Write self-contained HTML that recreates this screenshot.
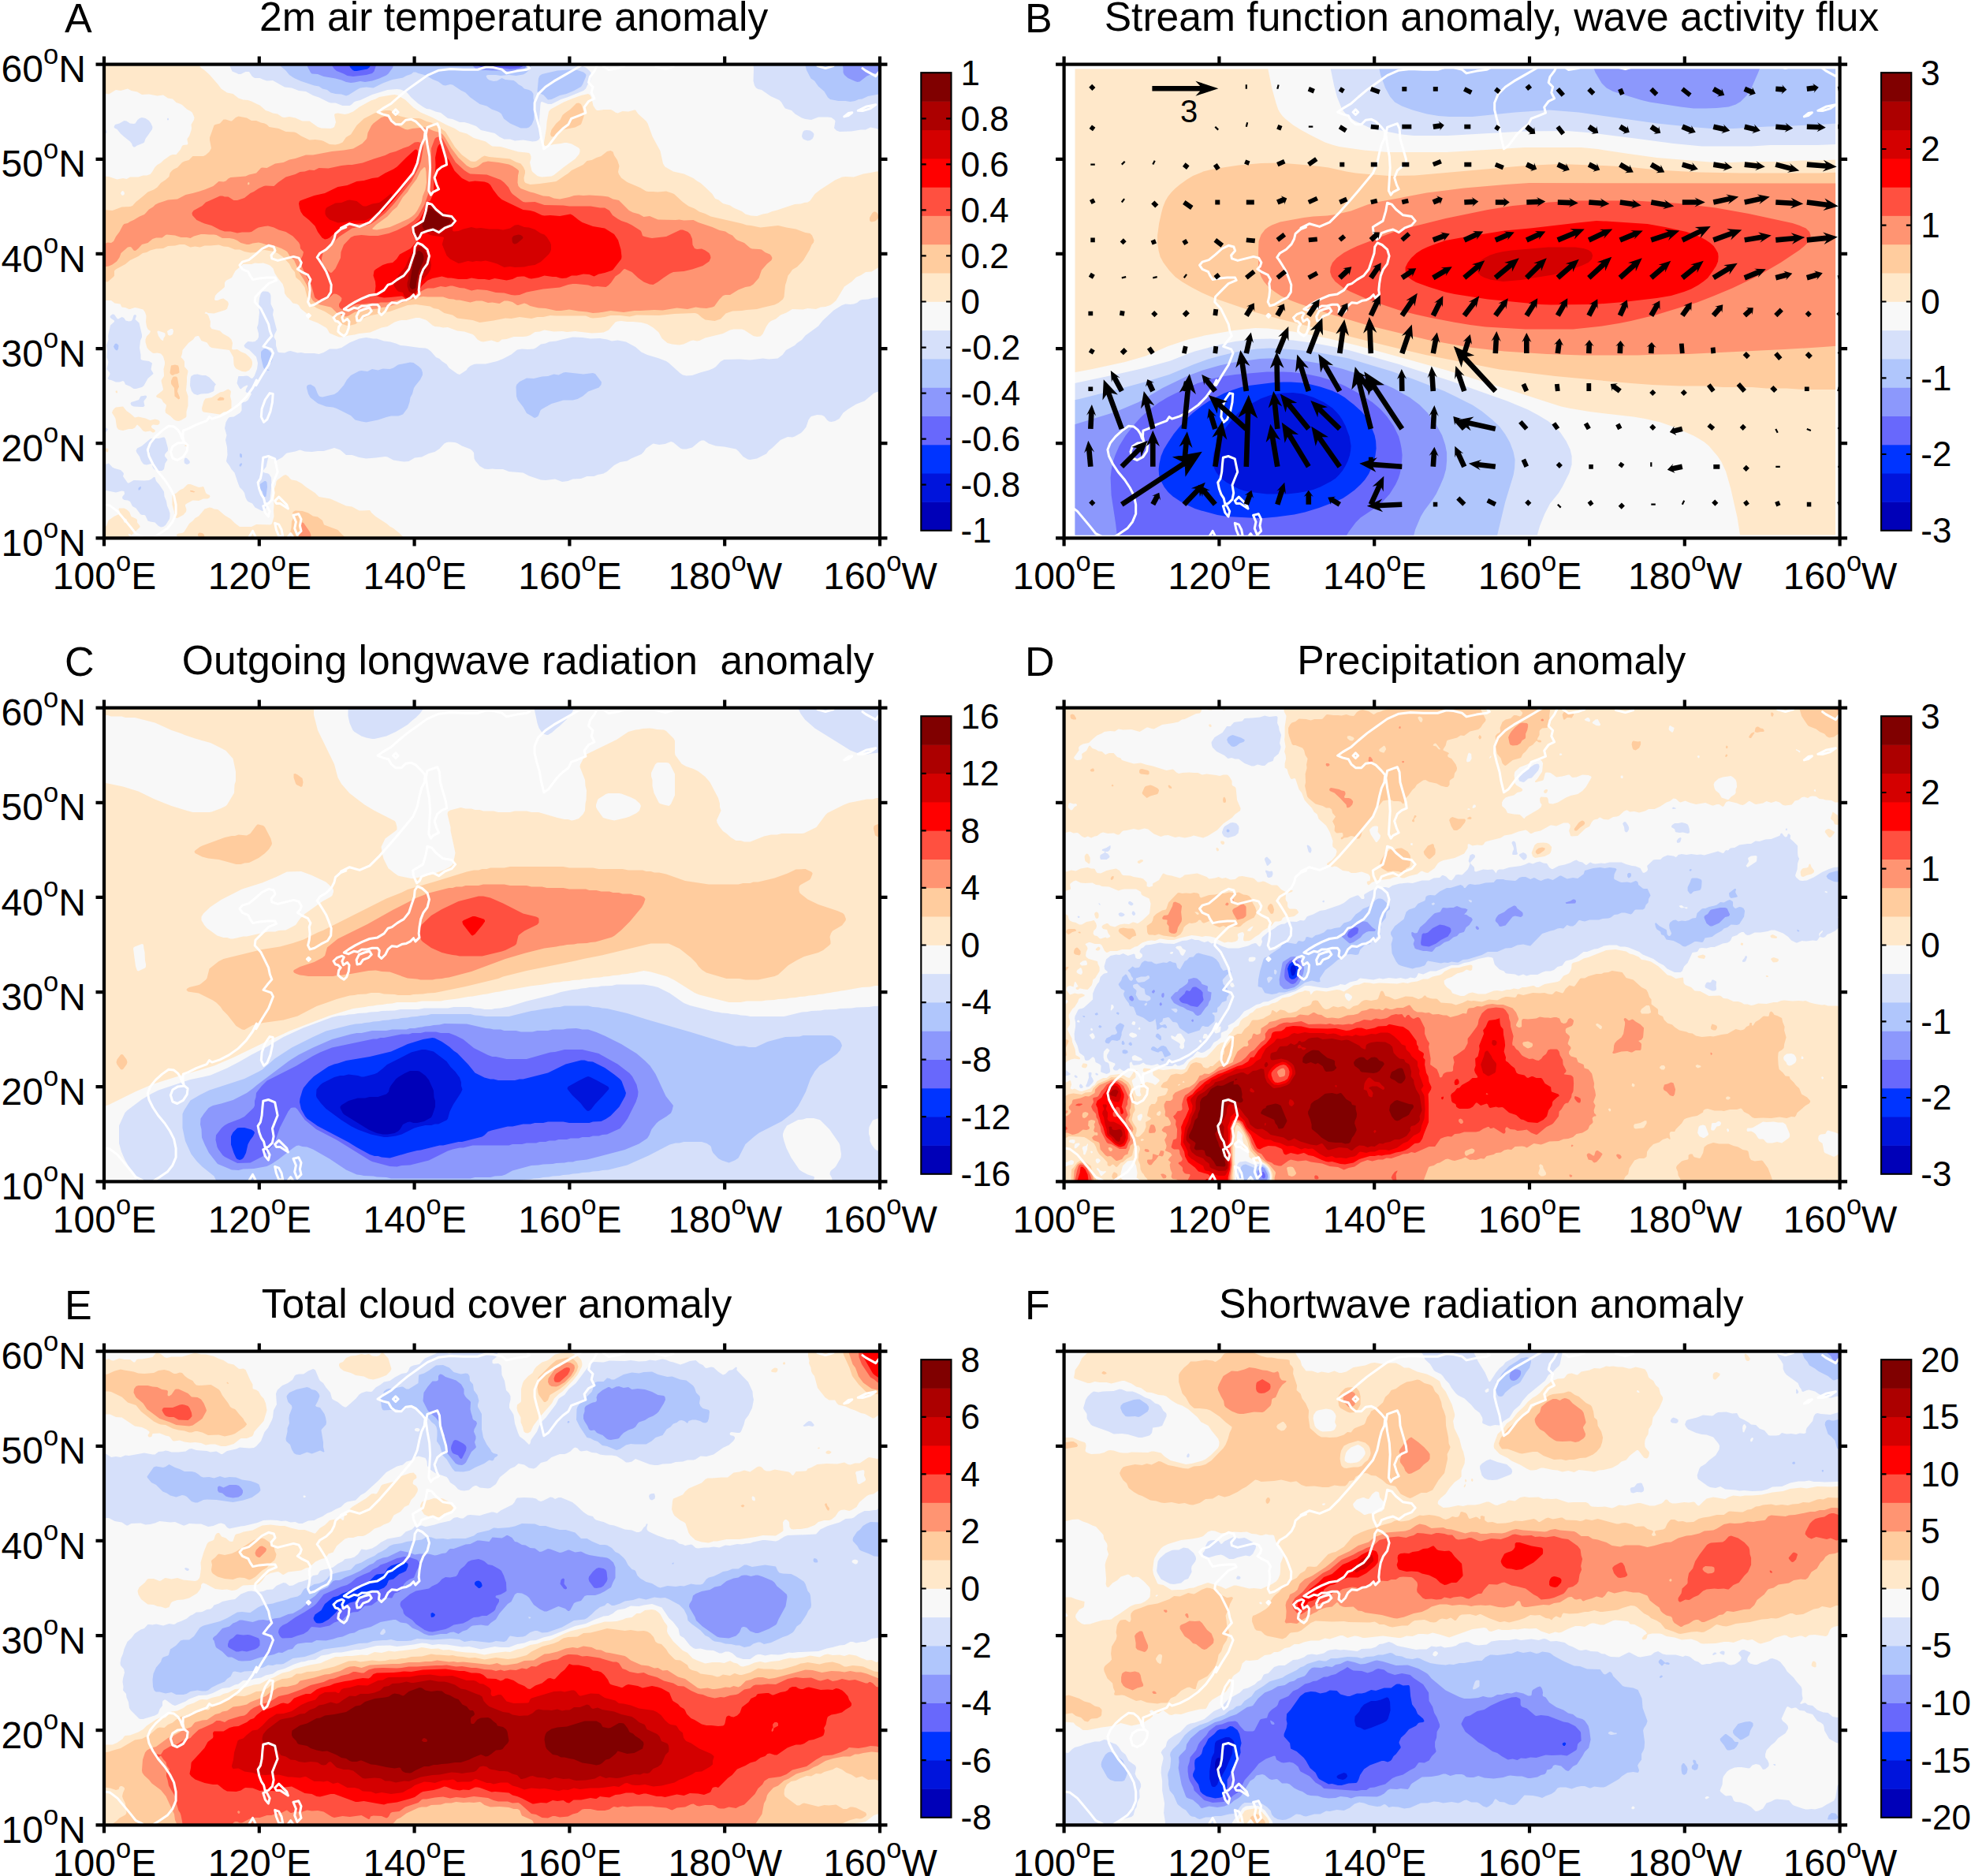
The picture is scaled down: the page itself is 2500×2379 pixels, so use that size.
<!DOCTYPE html>
<html><head><meta charset="utf-8"><title>Figure</title>
<style>html,body{margin:0;padding:0;background:#fff}svg{display:block}text{font-family:"Liberation Sans",sans-serif;fill:#000}</style></head><body>
<svg width="2500" height="2379" viewBox="0 0 2500 2379">
<rect width="2500" height="2379" fill="#fff"/>
<svg x="132" y="81.6" width="984" height="600.8" viewBox="0 0 984 600.8" overflow="hidden">
<rect width="984" height="600.8" fill="#F8F8F8"/>
<path fill="#FFE8CA" d="M0 0l119.5 0 3.5 4.5 4.5 3 6.5 6 10.5 12 4 5.5 7.5 5 7.5 1.5 7 5.5 6 2 6 0.5 4.5 1.5 6 3 4.5 2 7.5 6.5 4.5 1.5 4.5 2 6 1 6 4 3 0.5 6-1 7.5 1.5 9 4 9 0 10.5 7.5 4.5 1.5 12 0.5 3-1 1.5-1 2-6-2-9 0.5-1.5 1-0.5 3-0.5 9 1.5 4.5-1 6-2.5 8-6 14.5-8 6-2 4.5-2.5 15-2.5 4.5-0.5 4.5 1 9 5.5 10.5 10 9 6 15 6.5 18 9.5 10.5 4.5 6 4 9 2.5 9 5.5 15 4.5 6 4.5 2.5 1.5 10.5 0.5 22.5 6.5 10.5 1 3 0.5 1.5 1.5 1 3 0 3-1.5 4.5 2.5 10.5 1 1.5 6 5 3 1 3 0.5 12-1 3-1.5 12.5-10 14.5-10.5 5-6 1-3 0-3-1.5-2-9-5-6-1.5-3 0-4.5 1-9 1-7.5 2-3.5 0-2-1.5 3.5-21 0.5-7.5 2.5-13.5 2.5-3 16.5-9 11-4.5 11-4 9-2 2.5 1.5 1.5 3 2.5 10.5 2.5 4 2 2 2.5 0 6-1 9 0 2.5 1 3.5 2.5 3 1 6-2.5 7.5 0.5 7.5-2 1.5 0 3.5 5 10 9 2 3 6 16.5 10 18.5 3.5 16 2.5 4 10.5 6 13.5 3 12 5.5 4.5 3.5 4.5 2.5 4.5 4 10.5 10 3 5 1 1 4 1.5 5.5 4.5 9 2.5 4.5 3 10.5 4.5 4.5 3.5 7 2 7.5 0.5 7.5-2.5 6-1 6-2.5 6-1.5 22.5-7.5 7.5-0.5 4.5-1.5 4.5-0.5 3-2 6-8.5 7-5.5 18.5-12 9-4 4.5-0.5 10.5 0.5 12-4 9-1.5 7.5-1.5 6-0.5 0 121-3 1-9 5.5-7.5 0.5-6 4-6 2.5-5.5 5.5-9.5 6.5-10.5 17.5-4.5 4-3 2-6 2-6 0.5-6 2.5-10.5-1-6 1.5-13.5-0.5-7.5 4.5-7.5 3-6 5-6 2.5-3 2.5-3 4.5-4.5 9.5-3 3-4.5 0.5-4.5-1-11.5-7.5-3-1-10.5 0-4.5 1-9 4.5-22.5 5.5-7.5 3.5-3 0.5-4.5-1-3 0.5-9.5 4.5-5.5 1-9-1-6-1.5-7-6-4-7.5-7-6-7.5-4.5-7.5-2-10.5-1-7.5 0-7.5-1-4.5 0.5-3 1-8.5 10-6.5 3-15 1-21-2.5-10.5 1-6-1-10.5 0.5-12-2-6 2-6 0.5-6 4-4.5 1.5-4.5 0.5-12 0-9 3-6 0.5-3.5 3-2.5 0.5-7-2.5-10.5 2-3-0.5-4.5-2.5-3.5-4.5-2.5-2-10.5-3.5-9-1-12-4.5-6 0.5-4.5-1-6-0.5-3-1.5-7-6-2-1-7.5-2.5-4.5 0-12 3-6 0-3 0.5-6 2-9 5.5-7.5 1.5-14.5 6-14 1.5-6 1.5-7.5 1-7.5 2-4.5 0-12-5-3-5.5-1.5-1.5-10.5-6-10.5-4-1-2-0.5-4.5-9.5-7.5-2.5-4.5-2.5-1.5-5-1-4.5-5.5-3-2.5-3-4.5-0.5-6-2-6-5-6-5-7.5-2-6-3.5-3.5-3-1.5-6-2-6 0.5-4.5-0.5-4.5 1.5-10.5 0-10 8.5-4.5 8.5-7.5 4-1.5 2.5 0 4.5-0.5 1.5-9 7.5-2.5 3-1 4.5 1 1.5 3 0 4.5-2 3-0.5 5.5 4 1 3-2 6-2 1.5-14.5 4.5-7.5-0.5-3-1.5-1.5 2 3 0.5 2 2.5 2.5 7.5-0.5 6 2 3 10.5 2.5 3.5 3.5 8 4.5 3 3 1.5 4.5-1 7.5 1.5 1 5.5-0.5 4.5 3 6 2.5 5 4.5 2.5 3 1 3 0 3-1 3.5-3 4-4.5 2-4.5-0.5-4.5-2-3-1.5-2-2.5-1-3-0.5-9-5-9-22.5-3-2.5-1.5-3.5-5-7-2.5-3.5-6-1.5 0-3 1-2.5 3.5-6 4.5-7.5 9-0.5 4.5-1 3-0.5 1.5 3 3 1.5 2.5 0 6.5 4 4.5 0.5 1.5-1.5 7.5 0 6-1 10.5 2.5 7.5 0 12-2 7.5 0 6-1 1.5-6 3.5-3 1-3-0.5-3-1.5-4.5-4.5-6-4-0.5-3 1.5-6-0.5-1.5-3.5-3-1.5-3-1.5-1.5-5-1.5-1-1.5 1-1.5 7.5-6 0.5-1.5-2.5-10.5 0.5-1.5 3-4.5 0-1.5-0.5-7.5 1.5-6 0-3-2-7-3-3.5-4.5-1-4.5 0.5-1.5-0.5-4.5-3.5-2.5-3-2-7 0-3.5 1.5-4 3.5-3.5 1.5-3-3.5-2.5-1.5-3.5-1-6 0.5-7.5-1.5-4.5-2.5-3.5-7.5-2-3-0.5-6 2-1.5 0-4.5-2-4.5-0.5-2-4-7-1-4.5-3.5-9 0 0-157.5 6 0.5 10.5 3.5 7.5-1.5 4.5 1 4.5-2.5 10.5 0 6-2 4.5 0 4.5-1.5 2.5-3 3.5-6 3-3 4.5-2.5 3.5-3.5 8.5-6 3-1 4.5 0 5.5-6.5 2-4.5 1.5-1 5-0.5 1-1.5-1-4.5 0-1.5 2.5-3.5 2.5-7 0.5-3-0.5-4.5 3.5-6 0.5-3-2.5-6-1.5-1.5-5.5-3-6-5.5-3-1.5-4.5-1.5-4.5-4.5-6-1-6-4-7.5 1-10.5-2-9 0.5-6-3.5-7.5-1.5-4.5-2.5-9 2.5-6-1-9 5.5-4.5-1-1.5-1zM24 160.5l-1.5 0.5-1.5 2.5 0.5 1 1 1.5 1.5 0.5 2-2-0.5-2.5zM67.5 338.5l0 1.5 1.5 4.5 3 4.5 1.5 1 1.5 0.5 0.5-3 2-3 0-3-1-1-7.5-2.5zM87 335.5l-2.5 0-4.5 3 1 4.5 1.5 1 1.5 0 3-1.5 1-4zM160 413.5l1 1.5-1 6 1.5 6 0 9-5.5 4.5-4.5 0.5-4.5 3-21-3-1.5-1.5-0.5-3.5 2.5-9 2-3 8-1.5 10.5-6.5 4.5-1 4.5-2.5 1.5-0.5zM14.5 415l0.5-1 1.5 0 0.5 1 0 1.5-0.5 0.5-1.5-0.5zM11 439l2.5-3 1.5-1 9-1 4.5 5.5 5.5 4 5 4.5 4.5-1 9 2 6 2.5 6-1.5 4 1 2 1.5 0 3-1.5 1.5-1.5 0.5-5.5-0.5-2 1.5 0 1.5 1 1.5 2.5 1.5 1.5 1.5-0.5 1.5-1.5 1-1.5 0-3-2-6 1-3-1-4.5-5.5-3-2.5-3 4-3 1.5-4.5 0-7.5 2-3-0.5-3-1-2-3-1.5-10.5-1.5-3-3-4.5zM102 484l1.5-2 1.5 0.5 0.5 1.5-0.5 0.5zM1.5 488l1.5-1 1.5 0 1 1.5-0.5 3-0.5 0.5-1.5-0.5-1.5-1.5zM92 597.5l0.5-1.5 2-1 4.5-0.5 2.5-1.5 6.5-10.5 4.5-3.5 3-3.5 4.5-2.5 7.5-9 6-2 3 0.5 3 1.5 4.5 0.5 1.5 1 7.5 6.5 7.5 4.5 5.5 5.5 6 4.5 15 0 6-3 18 0.5 2-1.5 2.5-9-0.5-7.5 0.5-6-0.5-13.5 0.5-7.5 2.5-6 0.5-4 1.5-2 7.5-5.5 3-1 3 2 2.5 3 2 1.5 6 1 6.5 3.5 5.5 4.5 11.5 7.5 5 5 14.5 2.5 20 9 7.5 1 9 5 4.5 0 9-0.5 2.5 3.5 5 4.5 14 9 4 3.5 4.5 2.5 7.5 6 6 6 1 3-286.5 0zM126 535.5l1 2 2 6 1.5 1.5 3.5 1.5 0.5 1.5-1 2-2.5 1-5 0-6 2.5-7.5-0.5-7.5 4-2 1.5 0 1.5 1.5 4.5-0.5 3-3.5 4-7.5 4-2.5-0.5-1-1.5-0.5-6-2.5-9 0-12 5-2.5 4.5-4 4.5-2 4.5-4.5 1.5-1 3 0 10.5 4zM42 578l0 3 3.5 4.5 0 1.5-11 10.5-1-1.5-2-0.5-1 0.5 1 1.5 2 1.5-0.5 4.5-33 0 0-16.5 1.5-0.5 1.5-1 2-6 1-1.5 6.5-4.5 6.5-3 1-3-1.5-3 0.5-1.5 6.5 0 3 1.5 3.5 3 2.5 6 6.5 3zM27 576l-1.5 0.5-1 1.5 1 3 1.5 0.5 1.5-1 0.5-2.5-0.5-1z"/>
<path fill="#FFCC9E" d="M605 50.5l1.5 3.5 2.5 9-0.5 3-3 9-1 1.5-7 3.5-15 3-3 1.5-7.5 6.5-3 1-2-0.5-1-3 1.5-5.5 6-8 5-4.5 3-6 3.5-3 6.5-4.5 7.5-7.5 3-0.5zM0 275.5l0-91 10.5 1 12-4.5 10.5-0.5 3-1 4.5-5 10.5-8.5 4.5-4 7.5-3 4.5-3 4.5-5.5 6-4 4.5-4 1-4.5 2.5-3 2.5-2 4.5-2 6-6.5 3-1.5 5.5-1.5 5-5 13.5 0 3-1.5 4.5-4 2.5-4.5-2-10.5 0-3 5.5-15.5 1.5-1 6-1.5 4.5-5 3 0 6 2 1.5 0 5-4.5 3.5-1.5 10.5 2 6 3.5 6 0 6 2.5 4.5 1 3 1.5 3 3 12 2 9 4 10.5 0.5 3 1 6 4 10.5 5 7.5-0.5 7.5 1 3 1 7.5 4 7.5 0.5 4.5-1 4.5-2 4.5-6.5 6-3.5 7.5-11.5 9-8.5 13.5-7 13.5-3.5 6 0 3 1.5 7.5 5 3 1 10.5 2.5 12 0 3 0.5 7.5 3.5 6 1.5 10.5 6 7.5 5.5 12 19.5 9 10 11 8 4 0.5 3-0.5 7.5-5.5 3-1.5 6 1.5 26.5 2.5 7.5 4 6 2 3.5 4.5 2 4.5 0 3-1.5 6 0.5 4.5 1.5 2 6 2 12-1 18-2.5 3-0.5 3-2 8-5.5 4-2.5 4.5-4 14.5-7 5-5 6-1 6-3 6-2 7.5-6 4.5-1 3 1.5 1.5 4.5 4 6 2.5 7.5-1.5 7.5 1 3 3 4.5 7.5 5.5 16.5 7 7.5 4.5 3 0.5 6 0 6 0.5 10.5-1 7.5 2.5 2.5 1 11.5 10.5 7 5 7.5 3 6 4 7.5 2.5 7 3.5 39.5 9 6 2 5.5 0.5 12 2.5 22.5-2.5 10.5 2.5 12 2 12 4.5 6 1 2.5 2.5 2.5 6-0.5 3-2.5 3-2.5 6-8 13.5-8 8.5-6 3.5-3 4.5-2.5 3-2 7.5-1.5 4.5-1.5 15-1.5 3-5.5 4.5-5 2.5-15 3.5-7.5 2-13 1-6 1-12 0.5-8.5 3-6.5 7-7.5 2.5-12-1.5-4.5-3-4.5-4-2-1-2.5-0.5-25.5 1-19.5 2-28.5-0.5-9 2-12-1.5-12 0-7.5 2-15 1.5-3-0.5-6-2.5-37.5 0-7.5-0.5-9 2-7.5 0-7.5 2-15-2-10.5 2-7.5-0.5-15 3-17.5 2.5-9-3-19.5-2.5-6-4-10.5-2.5-7.5-5-6-1-4.5-2.5-18-2.5-10.5 1-22.5 8-24 5-6 2-7.5 4-6 5-6 1.5-4.5 0.5-6-2-7.5-4-4-5-11-7-10.5-4.5-7.5-5-2-3-2.5-6-3-12-6-8.5-4.5-3.5-1-1.5-1-6-4-4.5-3-6-8.5-9-6.5-4.5-4.5-2-12-2-4.5 0.5-6 2.5-7.5 0.5-7.5-1.5-6-2.5-6 0-8.5-3.5-6-0.5-6-2-10.5 1-7.5 0-6 2-6-1-6 1-7.5-3.5-6 0-6 1.5-9 0.5-6 3-9 0.5-7.5 2-4.5 2.5-5 1-5.5 4-10.5 5-6 5-12 6.5-2 2 0 6-1 1.5-7.5 6.5zM978 187l1.5 0.5 2 2.5 1 4.5-2.5 3-2 1.5-4.5 1-2-1-0.5-1.5 0-3 3.5-6 2-1.5zM85 382l5-1 4 1 1 3 0.5 6-2.5 1.5-3 0.5-3 1.5-1.5-0.5-1.5-1.5-0.5-1.5zM88.5 396l3 0 1.5 1.5 2 11.5-1.5 3-0.5 3 3 7.5 0 1.5-1.5 1-5-4-0.5-10.5-3.5-4.5-0.5-1.5 0-3 2-4.5zM143.5 425.5l1-1.5 2.5-2 4 0.5 1.5 1.5-0.5 1.5-0.5 0.5-6 0.5-1.5-0.5zM109 540.5l2.5 0 4 1.5-1.5 1-4.5-1zM239 569l1-1.5 2.5-1.5 9 0.5 7.5 2.5 6 4 6 1 6 4.5 2 5.5 17.5 6.5 5 5.5 5 4.5 1.5 3-69 0-2-4.5-1-4.5 1.5-7.5 0.5-7.5 3-6zM119 596l1-1.5 1.5-0.5 3 0.5 2 1.5 1 3-1.5 1.5-3 0.5-3-2-1-1.5z"/>
<path fill="#FF9472" d="M0 228l4.5-2 4.5 0.5 3-2 3-6 4.5-6 4.5-8.5 1.5-1.5 4.5-1 3-2 4.5-2 7.5-4.5 6-2.5 2-2 4-4.5 5-3 3-3 4-2 12-4 12-1 10.5-5.5 9-2 15-4.5 11-4.5 7-6 6 0.5 3-1 3-3 3-1.5 19-1.5 4.5-2 9-2 6-6.5 1.5-0.5 6 0.5 10.5-5.5 10.5-1.5 7.5-3.5 7.5-1.5 13.5-4.5 9 0 24-4.5 15-1.5 12-2 11.5-6.5 5.5-6 0.5-1.5 1-6 4.5-9 2.5-3 10-7.5 5-1.5 4.5 1.5 12 10.5 9 4.5 3 0.5 6-1.5 15-1.5 3 0.5 9 4 9 2.5 3 2.5 2.5 3.5 8 13.5 9 12 10.5 10 4.5 2.5 3 0.5 4.5-1 3-1.5 5.5-4.5 6.5-1.5 13.5 1.5 13 2.5 4.5 2 6 4 2 2 0 1.5-1 4.5-0.5 9 1 4.5 3 3 12 4.5 4.5 1 12 4 7.5 0.5 6 2.5 7.5 1 12-2.5 6-2 6-0.5 6 0.5 7.5-0.5 16.5 1 7.5 1 6 3 7.5 1.5 13 13 5 2.5 7.5 2 6 3.5 7.5-1 10.5 4.5 22.5 0.5 4.5-0.5 6 1 12-0.5 6 3 18 6 9 4 7.5 1.5 4.5 3 4.5 2 4 4.5 2 1.5 9 3.5 7.5 6.5 2.5 1 9 0.5 3 0.5 4.5 3.5 6 2.5 1.5 1.5 1.5 3-1 3-5.5 4.5-7 8-3.5 10-7 8-4 2.5-6 1-9 3.5-10.5 6.5-6 0-3 1-4.5 4.5-6.5 9-2.5 1-7.5 1.5-7.5-0.5-6-1-10.5 2.5-13.5-1.5-18 3-10.5-0.5-18 1-7.5 0-13.5 2-16.5-2-15 2.5-7.5 0.5-7.5-1.5-11-1-11.5-2-10.5 1.5-6 0-13.5-3-9-0.5-10.5-2.5-4.5-2.5-3-1-7.5 2.5-1.5 0-6-4-6-1.5-4.5 0-6 3.5-9-1.5-5.5 0.5-7.5-2.5-7.5 0-7.5 2-13.5-3-4.5 0-3-1-6-0.5-7.5-2.5-19.5 0-6-0.5-6 1-15 5-24 7-7.5 1-6 1.5-12 1-12 2-4.5 1.5-7.5 4.5-3 1-3-0.5-7.5-3-7.5-7.5-1.5-1-13.5-3-4.5-2-4.5-3-3-5-4-13.5-5-9-4-6-8-18-5-4.5-3.5-6-2-1.5-5.5-3-8-3-9-1-7.5-2.5-4.5-1-7.5 1-4.5 1.5-3 0-7.5-2-4.5-3-4.5-2-5.5-1-9 0-7.5-4-3-0.5-6 0-6-0.5-4.5 0-9 2.5-4.5 2.5-4.5-1-7.5 0-7.5-2.5-10.5-1-1.5 0.5-2.5 2-2 1.5-7.5 0-4.5 1.5-6 5-7.5 2-4.5 5-3 2.5-1.5 0.5-1.5-0.5-3-4-1.5-0.5-3 0.5-8.5 7.5-2 5.5-3.5 5-5.5 4-4.5 2-3 0.5-3 0zM407.5 131l-1.5-0.5-4.5 4.5-5 10.5-8 10.5-3.5 6-6 6.5-7.5 12.5-5.5 4.5-6.5 7.5-14.5 10.5-5 5 1.5 1 4.5 0.5 16.5-3.5 23.5-10.5 4.5-3 3.5-3 3-4 5-9.5 1-3 1-6 3.5-8.5 1.5-9-0.5-13.5zM184 149.5l-1.5 0.5-0.5 1.5 0.5 1.5 1.5-0.5 0.5-1zM250 581.5l1.5-0.5 1.5 0.5 8 11.5 1.5 4.5-1 6-13.5 0-1.5-9 2-4.5 0.5-6z"/>
<path fill="#FF5040" d="M111.5 188.5l2-3 11-6 4.5-4.5 18-8 3 0 3 1 4.5 0 7 4.5 4.5 0 9-3 7.5-6 4.5-2 6-4 6.5-3 2.5-0.5 10.5 0.5 5-4.5 10-7 12-3.5 6-3 6-0.5 6-2 6 0.5 6-3 12 0.5 16.5-3.5 9-1 4.5 0 13.5-2.5 14-5 14.5-4.5 6-3 7.5-2 9-4 7.5-2.5 7.5-5 4.5-0.5 3 1 3 2.5 0.5 3-3 18-2.5 7.5-9.5 18-22 28-11 12-12.5 10-6 4-4.5 1.5-19.5 4-16 10.5-9.5 9-7 4.5-3 3-3 10.5 0 3 1.5 6 1.5 3 4 3 3 3 1.5 1 1.5-0.5 4.5-5 6.5-13.5 0.5-7.5 3.5-9 9-9.5 4.5-2 9-1 10.5 1 10.5 0 13.5-3 10.5-4 12-6 9-6 6-6.5 8-14 5.5-16 2.5-21 0.5-34.5 4.5-12 1.5-1.5 3-1 3 0.5 3 3 5 9.5 4.5 9 6.5 10.5 11 10 4.5 3 3 1.5 21 1 17.5 6.5 4.5 3.5 5.5 6 3 6 2 2.5 13.5 10 3 0.5 12-0.5 12 4 24 0.5 7.5 1 27 0 12 2 6 0 6 3.5 4 6 6.5 4.5 4.5 2.5 7.5 2.5 6 3 11 7 1 1.5 1.5 5 2.5 1 6.5 1.5 3 0.5 18-2 18-8.5 3 0 6.5 2.5 3 3 2.5 6 0.5 7.5 2.5 4.5 3 1 6-0.5 4.5 2 5 3.5 1.5 3 0.5 3-2 4.5-8 5.5-13.5 4.5-10.5 2.5-13.5 1-4.5 2-7.5 5-7.5 5.5-6 3.5-4.5-0.5-7.5-3-7-5-8-7.5-9-4-1.5 0.5-4.5 5-6 4-5.5 8-3.5 3.5-3 2-10.5-1-6 0.5-6-2-15-1.5-4.5 0-6 1-10.5 3.5-21 2-21 4-9 3.5-6 0.5-4.5-0.5-9-2.5-10.5-0.5-11.5-3-12-1-7.5 1.5-9-3-6-0.5-9-2.5-3 0-6 1.5-6-1-9 2.5-7.5 0-3 1-7.5 4-4.5 5-12 5-4.5-1.5-19.5 4.5-9 0-6 2-9-1-6 1-9 0.5-4.5 1.5-7.5 4-6 1-3-1.5-1.5-2.5 0-3 3-4.5 0.5-3-3-3-3.5-2-3-0.5-1.5 0.5-6 5.5-7.5 3-3 0-3-1.5-3-2-1-1.5-4-15-8.5-15-5.5-13.5 0-3 3-6 1-4.5-4-4.5-0.5-4.5-1.5-3-7.5-8-9-5.5-9-2.5-6-3-7.5-2-4.5 0.5-7.5 1.5-3 1.5-6 4-3 0.5-9 0-6 1-8.5-2-7.5 0-6-2-10.5-5.5-9-2.5-10-4.5-5.5-6z"/>
<path fill="#FF0000" d="M343.5 290.5l1-9-0.5-6-2.5-7.5 1-6 2-2 9-5.5 6-2 6.5-1 5-4.5 4-6 14-7.5 7.5-9-2-3-4-7.5 0-6 1-3 8.5-7.5 6-11 3.5-11.5 1-1 3-0.5 4.5-10 0.5-16.5 1.5-10.5 0.5-9-0.5-9 2.5-12 1.5-3.5 1.5-1.5 1.5 0 2.5 3.5 4.5 12 3.5 4.5 7 13.5 9.5 9.5 9 4.5 7.5-1 12 1 4.5 1.5 3 2.5 3.5 6 6.5 8.5 4.5 4 27 13 9 1 5.5 1.5 9.5 4.5 3 0.5 7.5-0.5 12 1 13.5-2.5 3 1.5 7.5 6 4.5 3 13.5 5 15 2.5 12 7.5 5 7.5 3.5 12 1 9-0.5 3-10.5 13.5-1.5 1-9 3-7.5 1.5-6 3-6-2.5-7.5-0.5-8.5 2-6.5 0-6.5 3-5.5 0.5-3-0.5-4.5-1.5-4.5 0-10.5-1.5-7.5 2.5-9 1.5-3-0.5-6-2.5-3 0-6 0.5-6 3-7.5 1.5-15-2.5-7 2-6-1-7.5 0-9-1.5-6 1.5-10.5 0-9-1.5-4.5 0-7.5-2-12 2.5-6 2.5-7.5 7-8.5 12.5-3.5 2-7.5 2.5-1.5-1-3-2.5-1.5-0.5-15 1.5-7.5 0.5-5.5-1-4.5-1.5zM397.5 109.5l1 2.5 0.5 6.5-1 6-4 10-6 11-20.5 26.5-12 13.5-9.5 8.5-9 5.5-7.5 2-13.5 1-4.5 1-15.5 7.5-10 9-3 1.5-3 0.5-3.5-2-5.5-7.5-3.5-7.5-7.5-7.5-7.5-6-3-4.5-1.5-4.5-1-6 1-3 2-1 16.5-6 13.5-3 16.5-8 12-2 12-5 9-1 10.5-3 7.5-1 9-5.5 10.5-5 4.5-3 11.5-11.5 11-10 1.5-0.5 1.5 0.5z"/>
<path fill="#D40000" d="M365.5 164.5l-1.5 5-15 17.5-10.5 7.5-6 3-3 0.5-13.5 0-12 2.5-7.5 0.5-10.5-4-4-4-1.5-3 0-4.5 1-3 2-1.5 10-5 7.5-0.5 7.5-3 3-0.5 9 1.5 7.5 6 1.5 0.5 3 0 7.5-3 9-1.5 7.5-5.5 6-5 1.5-1zM392 208l0-1.5 2-2 6-4 3-2.5 4.5-11 2.5-10.5 2-0.5 2.5 0.5 9.5 7.5 16.5 7.5 3 2.5 3.5 5-4.5 7.5-0.5 3 0 1.5 1.5 1 6-0.5 6-2.5 10.5-2.5 6 1.5 6-0.5 10.5 1.5 11.5 0 6 1 9-2 6-4 4.5-0.5 7.5 3 6 0.5 7.5 2.5 7.5 5 4.5 1.5 3 3 4.5 7 1 3 0 6-1 3-2 3-10 9.5-7.5 4-7.5 1-6 1.5-12 0.5-6-1-7.5 1-9-4.5-8.5-2.5-6-1.5-6 1-6-0.5-4.5 1-6-1-9 2.5-3 0.5-10.5-5.5-4.5-4.5-5.5-13.5 0-1.5 2-7.5-1-1-12-1.5-4.5-1-4.5-2.5-1.5 0-4.5 1.5-3 5.5-1.5 1-1.5 0-2-2-3-6zM400 227.5l7.5 4 3.5 3.5 2 6 1 6 1 7.5-1 6-2.5 4.5-9 10.5-4 10.5-4 6-2 1.5-9 3-3-3-1.5-4-6-1.5-2-2-3-4.5-0.5-3 2.5-4 2-5 10-12.5 5-11.5 4.5-7.5 4-9 1.5-1.5z"/>
<path fill="#AC0000" d="M444 199l-0.5 2-11 8.5-7 4-4.5 0-9-2-3 0-7 2.5-3.5 6-1.5 0-3-6-0.5-4.5 0.5-3 1.5-1.5 6-3.5 2.5-2.5 4.5-12 1-4.5 2.5-4.5 1.5 0.5 8.5 7 6.5 4.5 12 4.5zM518 226l-0.5-3 0-3 2-2.5 6-1.5 3 0.5 2.5 2 0.5 1.5-1 1.5-6.5 5.5-3 1-1.5-0.5zM401.5 231l4 2.5 4 7.5 0 4.5-0.5 1.5-0.5 4.5-3.5 6-2 2.5-0.5 2-1 1.5-0.5 4.5-1 2-1.5 6.5-0.5 5-1 4.5-3 3.5-3 1-3-1.5-1.5-1.5-2-6 0-4.5 1.5-4.5 0-4.5 2-4.5 0.5-4.5 1-2 0.5-4 4-12.5 0.5-4 2.5-3.5 3-2zM407.5 258l0.5 1-0.5 2.5-1.5 2.5-1.5 0-0.5-2 1.5-3z"/>
<path fill="#800000" d="M403.5 205l0.5-3 8-19.5 4.5 1.5 10.5 8.5 6 2.5 4.5 1 2 1.5-0.5 3-1.5 2-15 7.5-1.5 0-7.5-2-6 2-1.5 0zM400 236.5l4 3 1.5 4.5 0 4.5-6 13.5-3.5 15-0.5 6-1.5 1.5-3 1-1.5-1-1.5-1.5-0.5-3 4-25.5 5-16.5 2-1.5z"/>
<path fill="#D6E0FA" d="M158.5 0l444.5 0 2 1.5 6 2.5 4.5 4 2 2.5 0.5 4.5-1 6-3.5 4.5-2.5 5.5-3 2.5-19.5 8-9 3-12 6-4.5 0-7.5-3-1.5 0.5-0.5 3-1.5 19.5 2 19.5-1 3-2 3-3 1.5-4.5 0.5-12-2-10.5 1-6-2-7.5 0-6-3-6-4.5-17.5-4-6-5-9.5-3.5-5.5-1.5-6 0-9-4-6-1-9-7-6.5-1.5-7-3-4.5-0.5-4.5-2.5-6.5-4.5-8.5-7.5-5-6-2.5-1.5-6-2.5-4.5-0.5-12 1-19.5 6-15 7-6 1.5-2 1-3 3-2.5 1.5-9 0-9-3.5-6 0-3-1-12-6-7.5-2.5-9-5-9-1-9-3.5-9-1-15-8.5-7.5 0.5-4.5-1.5-4.5-2-6 0-1.5-0.5-2.5-2-3.5-5.5-4.5 0-6 3-3 0-3-1.5-5-2zM823.5 0l162 0 0 83.5-6-2-7.5-1.5-6 3-6 0-12 2-15 0.5-4-1.5-3-3 1.5-9-1-1.5-4-3-4.5-0.5-12 0-9 3.5-7.5-1-4.5-1.5-8.5-5-4.5-4.5-8-2.5-1.5-2-3.5-6-2.5-2.5-11-5-11.5-8-4.5-1-2.5-1.5-2-3-1.5-6 0.5-15zM52.5 68.5l4.5 3 2.5 3.5 2 4.5-0.5 3-8.5 12-1.5 4.5-1.5 1-7.5 3-3 2-1.5 0-1.5-1.5-1-3-2-2.5-7.5-6-4.5-4-4.5-5.5-3-1.5-1-1.5 1.5-3 5.5-1.5 6-3.5 3 0.5 4.5 3 4.5 0.5 2-0.5 3-4.5 2.5-2 3-1zM81 68l1 1 0 1.5-1 0.5-1-0.5 0-1.5zM3 83l0.5 4-2 0.5-0.5-2zM888 84l3-0.5 4.5 0.5 2.5 1.5 1.5 1.5 1 1.5-0.5 3-1.5 3-3 2-3 0.5-4.5-1.5-1.5-1-1.5-3 0.5-3 1-3zM155 503l1.5-7.5-0.5-10-2-9 1.5-6-2.5-9 1.5-7.5 2.5-4.5 2-2 5.5-0.5 8-5 2-3 0-9 2-1.5 3-0.5 3-2 4.5-8-1.5-1.5-4.5 0-1.5-1.5 0.5-3 2.5-4.5-1.5-0.5-4 2-3.5 3-1.5-1-3.5-6.5 1.5-7.5 0.5-1.5 6 0 4.5-0.5 2 0.5 4 3 1.5-0.5 2-2.5 3.5-9 1-7.5-2-8-9-9-5-2.5-1-1.5-0.5-1.5 2.5-3 2.5-2 6 0.5 3-0.5 3-2.5 1.5-3 0-4.5-2-7.5 1.5-4.5 1.5-15-1-7.5 1-10.5 2-6 1.5-2 1.5-0.5 3 0 3 0.5 2.5 2 1 3 0 10.5 3.5 7.5-1 6 5 19.5-3 6-0.5 3 2.5 4.5 0 6 2 7.5 1.5 1.5 7.5 0.5 4.5-2 3-0.5 9 2.5 4.5-0.5 4.5 1 12 0 6 1 6-2 7.5-4.5 9 0 6-1.5 10.5-6.5 12-5 9-1.5 9 1.5 4.5 0 9 3 8 1 7 2 6 2.5 6 0.5 18 2.5 7.5 0.5 3 1 4 3 6.5 7.5 4.5 2 3 3 6 4 3 4.5 10.5 7.5 3 1 8.5-5.5 2-3 3-2.5 4.5-2 3-0.5 12 0 14.5-3.5 7.5-3 10.5-5.5 7.5-6 6-1 7.5 0.5 7.5-0.5 3-1.5 6-4.5 6-1 4.5-2 9-1 7.5-2 13.5-3 12 0.5 10.5 1.5 12-0.5 9 1.5 6 2 7.5-1 10.5 2 12 6.5 7.5 6.5 7.5 3.5 13.5 4 10.5 4 3 2 15 13.5 3 2 4.5 1 7.5-0.5 10-3.5 11-3 6-2.5 3-2 6-6.5 4.5-2.5 19.5-0.5 13.5 1 16-2 7.5 1 11.5-1 6-4.5 4.5-6 11-6 3-3 6-4 4.5-5.5 16.5-12 5.5-7 14-13 10.5-6.5 4.5-1.5 6 0.5 4.5-0.5 4-1.5 3.5-3 3-1 7.5-0.5 7.5-2 9-0.5 0 118-9 3.5-12 10-10.5 4-10.5 6.5-6 4.5-5 7.5-5.5 3-4.5 1-3-0.5-2.5-2-3.5-4.5-3-1.5-6-0.5-7.5 2-1.5 1.5-2 3-3 9-3.5 4.5-3 3-8 4.5-3 1-6-0.5-9 4-10.5 10-4.5 3.5-3 4-12 6-8.5 1.5-3-0.5-6-3.5-6-7-3-2.5-15-3-10.5-1-9-3-6-4-3 0-3 1.5-9 7.5-7.5 2-4.5 0-3-1-9-7.5-3-1-7.5 3-7.5 1-7.5-1.5-9 6-3 4.5-3 3-13 5.5-5 3-9 1.5-7.5 4-9 8-4.5 2.5-7.5 1.5-4.5 2-9 0-7.5 3-10.5 0.5-6 2.5-7.5 1-9-3.5-12 1.5-6-0.5-15-5-7.5-4-18-1.5-7.5-3-9 0-4.5-0.5-5.5 0.5-4.5-0.5-6-3.5-5.5-6.5-1.5-3-0.5-7.5-2-2.5-2.5-2-10.5-4-6-3.5-3-1-7.5-0.5-3 0.5-3 1.5-6 6.5-6 4-7.5 2-9 4.5-9 1-7.5 4.5-6 0.5-13.5-2-7.5-4-3-0.5-12 1.5-12 1-9-1.5-9-3-7.5 0-7.5-6.5-7.5-2.5-13.5 4-7.5 0-7.5 1-9-0.5-6-2-6 2-10.5 2-1.5 1-4.5 4.5-7.5 4-1.5 0.5-1.5-1-4.5-4.5-1.5 0-1.5 2-2.5 11-3.5 4.5-0.5 1.5 2 1.5 4.5 1 1.5 1 2.5 4 0.5 9-2 19.5-1 3-5.5 9-2 1.5-1.5 0.5-9-4.5-3.5-5-5.5-2.5-1.5-2-1.5-3-1.5-6-2-3-4-4-2.5-6.5-4-12-4-4.5-2.5-4.5-3.5-4.5zM10.5 317l1.5 0 1.5 1 3 4.5 1.5 0.5 4.5-2.5 1.5 0.5 1.5 1 2 3 4 1 3-0.5 1.5-2 1.5-5 1.5-1 1.5 0.5 0.5 1-1.5 4.5 5 4.5 3.5 15 0 3-2 4.5-1 9 1.5 9 0 5 0.5 1 2.5 1 7.5 1 4 2.5-1.5 7.5 0.5 1.5 2 3 0.5 1.5-7 6-5 9-2.5 2-7.5 2-3 0-4.5-3-6-2.5-1.5-3.5-1.5-1-4.5 1.5-4.5 0-6-2.5-3-0.5-1.5-1.5 2.5-4.5 0.5-1.5-0.5-1.5-3.5-4.5 2-9-2-6 0.5-9-1-6 2.5-7.5-0.5-4.5 3-13.5 5-4.5 0-1.5-4.5-3-1-1.5 0.5-1.5zM110.5 395.5l3.5-2 4.5-0.5 6 1.5 4.5 0 4.5 2.5 8.5 9-1 1-1 2-0.5 4.5-1 1.5-6.5 2.5-9 0.5-4.5 1.5-4.5-1.5-3-3.5-2-7 0.5-9zM54 420.5l0 2-3.5 4.5 0 1.5 1 4.5-1.5 1.5-3.5 0-9-0.5-3-1.5-1-2.5 1-1.5 9.5-3 2.5-4.5 6-1zM0 460.5l3.5 1 1.5 1.5-3.5 4.5-1.5 3.5zM75 473l1.5 0 1.5 2.5 3 11.5 0 3-3.5 4-0.5 1.5 0 1.5 3.5 4.5-3 4.5-1.5 7.5-2.5 2-4.5 0-3-0.5-3-2-1.5-2.5-0.5-3-1-1-6 1.5-3-0.5-1.5-1-2.5-3.5-2-5.5-3.5-5-1-2.5 1.5-3 6-3 10.5-9 3-0.5 7.5 0zM102 500l1.5-1 1.5 0.5 3 3 1 2-1 2-3 1-3-1.5-0.5-3zM0 508l6-2 4.5 5 3 1.5 7.5 2 3.5 3.5 0.5 1.5-1 3 6 8.5 1.5 0 6-3.5 1.5 0 12 0.5 6-0.5 3-1.5 3-2.5 1.5 0 1.5 5 4 4.5 6 9 0.5 6 2.5 6 1 6 2 4.5 1.5 4.5 0 4.5-0.5 3-5 8-3 2-3 0.5-3-1.5-4.5-4.5-6-1-3-1-3-6.5-1.5-1-3 0-2-1-5.5-7.5-4.5-2.5-3-6-3-1.5-4.5-0.5-2-1.5-0.5-1.5 0.5-1.5 2.5-3-0.5-3.5-3-0.5-7.5 2-15-3z"/>
<path fill="#B0C6FC" d="M222.5 0l320 0-2 4.5-3 4.5-3 2.5-3 1.5-9 1.5-9-1-10.5 1-6-1-10 0-1.5 0.5-1 1 1.5 3 2.5 2 5.5 1.5 4.5-0.5 6-3.5 4.5 2 10.5 1 3 2 3 3 4.5 2.5 3 3 6 1.5 3.5 2 2 3 0 6 2 7.5-1.5 19.5-2.5 6-3.5 3.5-3 1-7.5 0-13.5-6-8-6-3-6-2.5-2-3-1.5-7-2.5-6-4-9-2.5-12-8.5-6-6-6-3-10.5-7-3-0.5-6 1.5-3-0.5-6-4.5-7.5-3-7.5-4.5-4.5-1.5-6-1.5-3-1.5-3 0-3 2.5-6 2-4.5 2.5-13.5 2.5-12 4.5-12 6-9-1-7.5 1-3 1.5-12 7.5-3 1-6-2-7.5-0.5-6-1.5-4.5-3.5-6-1.5-4.5-3-6-1-16.5-5.5-9-4-6-4-4.5-5.5-6-5zM889 0l96.5 0 0 37-3 1-13.5 2.5-7.5 3.5-4.5 0.5-4.5 2-6 1-6-1-9 0-10.5-2-3-2.5-4.5-7.5-7.5-6.5-5-7-4.5-3-5.5-10.5zM611.5 13.5l-0.5 2.5-4 9.5-2 3-9 5-9.5 4-8.5 2-10.5 5-4.5 0.5-5.5-6-7-3-1-1.5 1.5-16.5 1.5-3.5 3-2 19.5-4.5 21-1.5 4.5 1 7.5 2.5 2.5 2zM15 354l1.5 0.5 2 2-0.5 4.5-1.5 2-1.5-0.5-1.5-1.5-1.5-3 1.5-3zM205 360l1.5 0.5 5 5 2 4.5 0 4.5-1 3-6.5 6-0.5 1.5 1 1.5 3.5 1.5-2 0.5-4.5-2-1.5-2-3-13 0-6 0.5-1.5 2.5-2.5zM404 391l0 3-3 6-6 7.5-2 3-2 7.5-2.5 4.5-1 6-2.5 7.5-6 8-6 2-9 0-6 1.5-10.5 3.5-15 3-6-1-8-2-5.5-5.5-18-9-4.5-1.5-9-1-10.5-4-9.5-7.5-2.5-4.5-2-7.5 0-1.5 0.5-1.5 1.5-1 3-0.5 5 3 1 1.5 3 7.5 1.5 2.5 1.5 1 3 0.5 10.5-2.5 4.5-1 4.5-3 7.5-8.5 4-7 5-5.5 10.5-5.5 3-0.5 7.5 1 6-3 7.5 1.5 6-2 9 0.5 4.5-1.5 6-4 15-3 4.5 0.5 7 5 3 3zM631 403l-0.5 3.5-3 3.5-13.5 5-7 6-6.5 3.5-6 1.5-12 0-15 4.5-12.5 7-1.5 1.5-2.5 6.5-1.5 1.5-3 1.5-1.5-0.5-3-2-6-3.5-4.5-8-7-9-1.5-4.5-0.5-12 1-3 3.5-3.5 9-4.5 9 0.5 10.5-2.5 7.5-0.5 7.5-2.5 6 1 6-3 3-0.5 22.5 2.5 12-1.5 3 1zM54.5 492.5l0-1 2.5-1.5 1 1.5-1 1.5zM172 494l1.5-0.5 1.5 1.5 0 3.5-1.5 0.5-1.5-1.5zM175 506l0 1.5-1.5 2.5-1.5 0-0.5-1 0.5-2 1.5-1zM205 528.5l1.5 1.5 0.5 6-1.5 12-2 1-1.5-2.5-1-4.5-4-4.5-0.5-1.5 1-3 1.5-1.5 4.5-3zM46.5 535.5l0.5 0.5-0.5 2.5-1.5 1.5-1.5 0 0-2.5 1.5-1.5z"/>
<path fill="#8C98FC" d="M257.5 0l110 0-1.5 4.5-5.5 7.5-2.5 2-9 4-9 3-9 1.5-6-1-7.5 1.5-4.5 0.5-6-1-6-2.5-7.5-2-15-2.5-7.5-3-7.5-0.5-1.5-1.5-4-7.5zM467 0l69 0-1.5 4.5-3 2.5-6 2-6 0.5-18-1.5-9 0-8.5-0.5-9 0-4.5-2.5-2-2zM936.5 0l49 0 0 14-7.5-2.5-3 0.5-7.5 3-9 7-3 0.5-3-1-9-4-4.5-4-1.5-3 0-6z"/>
<path fill="#6868FC" d="M288 0l57.5 0-3 9-2.5 2.5-7.5 2-16.5 2-7.5-1-4.5-2.5-9-3.5-3-2.5zM472.5 0l60 0-2 3-3.5 1.5-4.5 1-7.5 0.5-13.5-1.5-9 0-14.5-1-3-1.5z"/>
<path fill="#0034FF" d="M311 1.5l0-1.5 27 0-1 3.5-3 2.5-13.5 2.5-3 0-2-1-3-3z"/>
<path d="M63.6 599.3L70.3 595.1L80.3 588.5L86.9 580.1L91.1 570.1L91.1 558.5L88.6 546.8L83.6 536.9L77.0 526.9L68.6 516.9L62.0 506.9L57.0 496.9L55.3 488.6L58.6 480.3L65.3 472.0L73.6 464.5L81.9 458.6L88.6 459.5L93.6 463.6L96.9 468.6L98.6 473.6L101.1 477.8L99.9 472.0L100.3 464.5L106.9 462.0L116.9 457.0L130.2 452.0L133.5 447.0L136.9 449.5L146.8 446.2L158.5 440.3L170.1 432.0L180.1 422.0L188.5 410.4L193.4 400.4L192.8 407.1L200.3 394.5L208.6 381.1L214.5 366.2L212.0 361.2L202.0 357.8L207.0 351.2L212.8 344.5L210.3 337.9L208.6 329.5L203.7 319.6L198.7 309.6L191.2 301.3L192.0 294.6L200.3 286.3L208.6 278.0L218.6 273.8L217.0 270.5L207.0 270.5L197.0 271.3L188.7 273.0L185.3 268.0L182.9 263.0L175.4 259.7L172.0 254.7L175.4 250.5L183.7 248.0L192.0 241.3L200.3 233.9L208.6 229.7L215.3 231.4L217.0 236.4L212.0 242.2L212.8 246.3L220.3 248.8L230.3 246.3L240.3 243.8L246.9 245.5L250.3 251.3L248.6 256.3L245.3 259.7L250.3 263.0L258.6 267.1L261.9 273.0L260.2 278.0L261.1 286.3L260.2 294.6L258.6 301.3L261.1 306.3L266.9 304.6L275.2 299.6L283.5 295.4L287.7 288.8L288.2 279.6L285.2 271.3L281.9 263.0L276.9 254.7L272.7 248.0L270.2 244.7L273.5 239.7L281.9 234.7L288.5 228.0L291.9 221.4L293.5 214.7L300.2 208.9L306.8 206.4L300.4 207.6L311.4 202.1L324.1 205.8L336.9 200.3L349.7 187.5L362.5 172.9L373.5 160.1L382.6 149.2L391.7 138.2L397.2 125.4L399.9 112.6L402.7 101.7L406.3 94.4L407.2 85.2L402.7 79.8L395.4 72.5L389.9 69.7L382.6 70.6L377.1 76.1L369.8 76.1L364.3 71.5L360.7 65.2L353.4 63.3L347.0 60.6L353.4 56.0L364.3 49.6L373.5 41.4L384.4 32.3L397.2 23.1L410.0 14.0L424.6 7.6L439.2 5.8L455.7 6.7L473.9 6.7L484.9 3.1L494.0 4.0L505.0 6.7L510.4 11.3L523.2 8.5L536.0 6.7L539.7 4.9L536.0 0.3L545.1 -4.3M0.4 558.5L7.1 559.3L17.0 566.8L25.4 576.8L33.7 586.8L40.3 595.1L48.7 599.3L50.3 602.6M84.4 491.1L86.9 484.4L93.6 480.3L101.9 479.4L106.1 482.8L105.2 490.3L100.3 497.8L92.8 501.9L86.9 499.4L84.4 491.1M199.3 447.0L200.1 437.0L204.3 425.4L210.1 417.0L214.2 417.9L213.4 428.7L210.9 440.3L206.8 450.3L202.6 453.7L199.3 447.0M201.8 498.6L208.4 496.9L216.7 500.3L218.4 508.6L220.1 516.9L216.7 525.2L213.4 533.5L215.1 543.5L213.4 551.8L208.4 556.8L204.3 557.7L202.6 550.2L199.3 545.2L196.8 538.5L195.1 530.2L198.4 525.2L200.1 516.9L200.9 506.9L201.8 498.6M201.8 560.2L205.9 558.5L210.1 566.8L208.4 573.5L204.3 568.5L201.8 560.2M216.7 553.5L221.7 548.5L226.7 553.5L231.7 558.5L233.4 563.5L228.4 560.2L223.4 556.8L218.4 556.8L216.7 553.5M240.0 571.8L246.7 570.1L250.0 576.8L248.4 585.1L250.0 591.8L245.0 596.8L241.7 588.5L243.4 580.1L240.0 571.8M216.7 581.8L221.7 583.5L225.1 590.1L226.7 598.4L221.7 598.4L218.4 590.1L216.7 581.8M183.5 600.1L188.5 591.8L191.8 598.4M233.4 599.3L236.7 595.1L240.0 600.1M257.4 318.7L259.4 316.7L261.4 318.7L259.4 320.7L257.4 318.7M291.0 321.2L295.2 317.1L301.8 314.6L304.3 316.2L301.8 321.2L303.5 326.2L308.5 322.9L311.0 326.2L310.2 334.5L307.7 341.2L304.3 344.5L300.2 342.0L296.8 338.7L297.7 332.9L300.2 329.5L296.8 326.2L293.5 325.4L291.0 321.2M304.3 310.4L310.2 306.3L318.5 301.3L326.8 297.1L336.8 292.9L346.8 291.3L355.1 286.3L360.1 279.6L365.1 278.0L371.7 273.0L380.1 268.0L386.7 259.7L390.0 249.7L393.4 239.7L394.2 231.4L397.5 226.4L403.4 228.9L410.0 234.7L412.5 243.0L410.0 253.0L405.0 259.7L401.7 268.0L400.0 278.0L399.2 286.3L400.0 291.3L395.0 296.3L392.5 292.1L388.4 296.3L383.4 298.8L378.4 299.6L371.7 302.9L365.1 302.1L360.1 306.3L356.8 312.9L351.8 317.9L348.4 314.6L349.3 307.9L346.8 304.6L340.1 304.6L333.5 306.3L326.8 306.3L321.8 309.6L316.8 308.7L310.2 312.1L304.3 310.4M320.1 319.6L323.5 312.9L330.1 310.4L336.8 308.7L339.3 312.9L335.1 317.1L328.5 319.6L325.1 324.6L321.0 325.4L320.1 319.6M396.7 222.2L392.5 213.0L391.7 206.4L395.4 204.0L404.5 198.5L408.2 185.7L410.0 175.7L415.5 177.5L421.0 183.9L430.0 191.2L441.0 193.0L445.6 198.5L441.0 204.0L431.9 207.6L424.6 213.1L417.3 209.4L410.0 211.3L402.7 214.0L400.0 219.7L396.7 222.2M410.0 79.8L417.3 77.0L422.8 75.2L425.5 81.6L426.4 94.4L430.1 107.2L433.7 119.9L434.6 127.3L428.3 130.0L422.8 134.6L419.1 143.7L421.9 152.8L424.6 158.3L417.3 162.0L414.6 165.6L411.8 160.1L412.7 145.5L413.6 130.9L412.7 116.3L410.0 101.7L408.2 88.9L410.0 79.8M366.5 60.6L369.8 57.3L373.1 60.6L369.8 63.9L366.5 60.6M609.1 -4.3L605.4 1.2L596.3 6.7L583.5 14.0L570.7 21.3L559.8 28.6L550.6 37.8L546.1 48.7L546.1 57.8L548.8 68.8L552.5 81.6L554.3 92.6L557.9 107.2L563.4 103.5L568.9 96.2L574.4 88.9L581.7 81.6L589.0 76.1L592.6 68.8L601.8 65.2L610.9 61.5L609.1 54.2L614.6 46.9L621.9 43.2L618.2 35.9L620.0 28.6L614.6 23.1L616.4 15.8L621.9 8.5L625.5 1.2L629.2 -4.3M938.8 66.2L944.0 62.0L948.8 61.2L944.0 65.0L938.8 66.2M956.3 58.7L966.3 53.7L978.8 51.2L972.0 56.0L962.0 59.0L956.3 58.7M962.0 5.0L966.0 8.0L978.8 15.0L982.5 10.0L990.0 12.0M905.0 2.0L915.0 5.0L925.0 2.0M700.0 3.0L712.0 6.0L722.0 3.0M633.0 2.0L640.0 7.0L652.0 5.0L660.0 2.0" fill="none" stroke="#fff" stroke-width="3.0" stroke-linejoin="round" stroke-linecap="round"/>
</svg>
<path d="M132 81.6v-10M132 682.4v10M132 81.6h-10.5M1116 81.6h9.5M328.8 81.6v-10M328.8 682.4v10M132 201.8h-10.5M1116 201.8h9.5M525.6 81.6v-10M525.6 682.4v10M132 321.9h-10.5M1116 321.9h9.5M722.4 81.6v-10M722.4 682.4v10M132 442.1h-10.5M1116 442.1h9.5M919.2 81.6v-10M919.2 682.4v10M132 562.2h-10.5M1116 562.2h9.5M1116 81.6v-10M1116 682.4v10M132 682.4h-10.5M1116 682.4h9.5" stroke="#000" stroke-width="4.2" fill="none"/>
<rect x="132" y="81.6" width="984" height="600.8" fill="none" stroke="#000" stroke-width="4.2"/>
<text x="132.5" y="747" text-anchor="middle" font-size="48">100<tspan dy="-23.5" font-size="34.5">o</tspan><tspan dy="23.5">E</tspan></text>
<text x="329.3" y="747" text-anchor="middle" font-size="48">120<tspan dy="-23.5" font-size="34.5">o</tspan><tspan dy="23.5">E</tspan></text>
<text x="526.1" y="747" text-anchor="middle" font-size="48">140<tspan dy="-23.5" font-size="34.5">o</tspan><tspan dy="23.5">E</tspan></text>
<text x="722.9" y="747" text-anchor="middle" font-size="48">160<tspan dy="-23.5" font-size="34.5">o</tspan><tspan dy="23.5">E</tspan></text>
<text x="919.7" y="747" text-anchor="middle" font-size="48">180<tspan dy="-23.5" font-size="34.5">o</tspan><tspan dy="23.5">W</tspan></text>
<text x="1116.5" y="747" text-anchor="middle" font-size="48">160<tspan dy="-23.5" font-size="34.5">o</tspan><tspan dy="23.5">W</tspan></text>
<text x="108.8" y="104.2" text-anchor="end" font-size="48">60<tspan dy="-23.5" font-size="34.5">o</tspan><tspan dy="23.5">N</tspan></text>
<text x="108.8" y="224.4" text-anchor="end" font-size="48">50<tspan dy="-23.5" font-size="34.5">o</tspan><tspan dy="23.5">N</tspan></text>
<text x="108.8" y="344.5" text-anchor="end" font-size="48">40<tspan dy="-23.5" font-size="34.5">o</tspan><tspan dy="23.5">N</tspan></text>
<text x="108.8" y="464.7" text-anchor="end" font-size="48">30<tspan dy="-23.5" font-size="34.5">o</tspan><tspan dy="23.5">N</tspan></text>
<text x="108.8" y="584.8" text-anchor="end" font-size="48">20<tspan dy="-23.5" font-size="34.5">o</tspan><tspan dy="23.5">N</tspan></text>
<text x="108.8" y="705" text-anchor="end" font-size="48">10<tspan dy="-23.5" font-size="34.5">o</tspan><tspan dy="23.5">N</tspan></text>
<rect x="1168.2" y="636.2" width="38.4" height="36.9" fill="#0000B8"/>
<rect x="1168.2" y="599.9" width="38.4" height="36.9" fill="#0014DC"/>
<rect x="1168.2" y="563.6" width="38.4" height="36.9" fill="#0034FF"/>
<rect x="1168.2" y="527.4" width="38.4" height="36.9" fill="#6868FC"/>
<rect x="1168.2" y="491.1" width="38.4" height="36.9" fill="#8C98FC"/>
<rect x="1168.2" y="454.8" width="38.4" height="36.9" fill="#B0C6FC"/>
<rect x="1168.2" y="418.5" width="38.4" height="36.9" fill="#D6E0FA"/>
<rect x="1168.2" y="382.2" width="38.4" height="36.9" fill="#F8F8F8"/>
<rect x="1168.2" y="345.9" width="38.4" height="36.9" fill="#FFE8CA"/>
<rect x="1168.2" y="309.6" width="38.4" height="36.9" fill="#FFCC9E"/>
<rect x="1168.2" y="273.3" width="38.4" height="36.9" fill="#FF9472"/>
<rect x="1168.2" y="237" width="38.4" height="36.9" fill="#FF5040"/>
<rect x="1168.2" y="200.8" width="38.4" height="36.9" fill="#FF0000"/>
<rect x="1168.2" y="164.5" width="38.4" height="36.9" fill="#D40000"/>
<rect x="1168.2" y="128.2" width="38.4" height="36.9" fill="#AC0000"/>
<rect x="1168.2" y="91.9" width="38.4" height="36.9" fill="#800000"/>
<text x="1218.5" y="107.5" font-size="44">1</text>
<text x="1218.5" y="165.6" font-size="44">0.8</text>
<text x="1218.5" y="223.6" font-size="44">0.6</text>
<text x="1218.5" y="281.7" font-size="44">0.4</text>
<text x="1218.5" y="339.7" font-size="44">0.2</text>
<text x="1218.5" y="397.8" font-size="44">0</text>
<text x="1218.5" y="455.9" font-size="44">-0.2</text>
<text x="1218.5" y="513.9" font-size="44">-0.4</text>
<text x="1218.5" y="572" font-size="44">-0.6</text>
<text x="1218.5" y="630" font-size="44">-0.8</text>
<text x="1218.5" y="688.1" font-size="44">-1</text>
<path d="M1168.7 150.3h6M1206.1 150.3h-6M1168.7 208.3h6M1206.1 208.3h-6M1168.7 266.4h6M1206.1 266.4h-6M1168.7 324.4h6M1206.1 324.4h-6M1168.7 382.5h6M1206.1 382.5h-6M1168.7 440.6h6M1206.1 440.6h-6M1168.7 498.6h6M1206.1 498.6h-6M1168.7 556.7h6M1206.1 556.7h-6M1168.7 614.7h6M1206.1 614.7h-6" stroke="#000" stroke-width="2.2" fill="none"/>
<rect x="1168.3" y="92.2" width="38.2" height="580.6" fill="none" stroke="#000" stroke-width="2.1"/>
<text x="82" y="40.7" font-size="52">A</text>
<text x="651.6" y="38.7" font-size="51.6" text-anchor="middle" style="white-space:pre">2m air temperature anomaly</text>
<svg x="1349.6" y="81.6" width="984" height="600.8" viewBox="0 0 984 600.8" overflow="hidden">
<rect width="984" height="600.8" fill="#fff"/>
<svg x="14" y="6" width="964.5" height="591" viewBox="14 6 964.5 591"><rect x="0" y="0" width="984" height="601" fill="#F8F8F8"/>
<path fill="#FFE8CA" d="M0 0l257.5 0 6.5 31.5 5 18 2.5 7.5 2.5 4.5 3 4 3.5 3.5 10 8 10.5 6.5 12 6.5 18 9 9 3 9 2.5 31.5 4.5 30 2.5 75 0 98.5-6 72 0 21 2 39 6 36 5 73 6 21 0 22.5-1 46.5 0 19.5-1.5 24 0 27-1.5 0 483-127 0-4.5-28.5-8.5-37.5-6-21-5.5-12-5-7.5-6-7-5-6-6-5-6.5-4-7-4-25-11-17-6-19.5-4.5-15-2.5-55.5-6.5-24-4-12-2.5-51-16.5-92.5-29-57-16-58.5-16-37.5-9-43.5-8.5-31.5-4-16.5-0.5-27 3-37.5 6.5-20.5 5-25.5 8.5-28.5 12.5-26 7.5-41.5 9-25 4.5-11 1.5z"/>
<path fill="#FFCC9E" d="M123.5 188.5l2-7.5 3-7.5 3.5-6 4.5-5.5 4.5-4.5 6-5 9-6.5 7.5-4.5 13-5.5 12-3 33-5 28.5-2.5 24-0.5 42 3.5 19.5 2.5 22.5 5 12 2 16.5 1.5 25.5 2 33-0.5 140.5-12.5 43.5-2 55.5 2 30 1.5 37.5 4 54 3 52 1 100.5 0 27-1 0 275.5-48 0-21-1.5-25.5 0-18-1.5-37.5 0-20.5-1.5-33 0-36-1.5-27-2-96-9-49.5-6-21-2.5-18-3.5-76-15-63-15-120-30-33-9-51-17.5-18-8-11.5-6-12-7-9-6.5-7.5-8-7.5-10-4-7.5-2-7.5-1.5-10.5 0-9 2-15z"/>
<path fill="#FF9472" d="M247 224.5l1.5-4.5 1.5-4 5-6.5 4-3 4.5-2.5 10.5-4 30-5.5 12-1.5 18-1 10.5-1.5 19.5-4.5 21-8 13.5-3.5 61.5-11.5 47.5-6 52.5-4.5 30-2 395.5 0.5 0 205.5-22.5 2-49.5 3-122.5 6-37.5 0.5-25.5 1-70.5 0-45-1.5-54-3.5-40.5-4.5-26.5-4.5-30-5.5-76.5-18.5-46.5-14-39-13-12-4.5-12-5.5-9-6-7.5-6-5.5-6.5-3.5-6-2.5-7.5-1-7.5 0-19.5z"/>
<path fill="#FF5040" d="M947 217l-0.5 3-1 3-2 3-4.5 4.5-6 5-24 16-30 17.5-31.5 15-24 10-20.5 8-31.5 9.5-19.5 6-33 8-15 3-25.5 4-33 3.5-12 0-48 0-51-3-19.5-2.5-21-3.5-31-6-18-4-21-5.5-22.5-7.5-16.5-6-22.5-10-9-5-9.5-7.5-4.5-6-2-6 0.5-6 2.5-6 5.5-6 9-6.5 7.5-4 9.5-4.5 49-19 21-5.5 42-10.5 53.5-11 31.5-5 46.5-4.5 34.5-2 75 0 55.5 3.5 46 5.5 42 7.5 55.5 12 9 3 8 3.5 2.5 2.5 2 2z"/>
<path fill="#FF0000" d="M830 244l-0.5 6-2.5 6-5 7.5-5.5 7.5-5.5 4.5-6.5 4.5-9 5-9 3.5-16.5 5-18 3-42 5-39 3-54 0.5-13.5-0.5-66-6.5-42-6.5-11.5-2.5-21-6.5-16.5-6-6-3.5-4.5-3.5-2-3-1-4.5 0-4.5 3-6 4.5-6 6.5-6 7-4.5 7.5-3.5 12-4.5 10.5-3.5 19-3.5 55.5-9 33-3 60-7 24-2.5 12 0.5 52.5 3.5 22.5 4 27 6 16.5 6 7.5 4 6 4 4.5 4 3 4.5 2.5 4.5z"/>
<path fill="#D40000" d="M670.5 242.5l-1 4.5-4.5 4.5-7.5 3.5-12 4.5-15 5-10.5 2.5-40.5 6.5-22.5 2-7.5-1-9-1.5-7.5-2.5-4.5-2.5-3-3-2-4.5 0.5-4.5 1.5-3.5 3.5-4 5.5-3.5 6-3 7.5-2.5 9-2 10.5-1.5 46.5-4 34.5 0 10.5 1.5 6 2 3.5 2.5 1 1.5z"/>
<path fill="#D6E0FA" d="M337 0l648.5 0 0 101-30 1.5-60 0-24 1.5-62.5 0-36-3.5-45-6-58.5-7.5-31.5-2.5-55.5 0.5-95.5 5.5-43.5 0-18-2-30-6-9-2.5-18-8.5-6-4-4.5-4-3-3.5-3-4.5-5.5-13.5-4-15zM0 406.5l10.5-1.5 57-12 33-7.5 34.5-9.5 22.5-9 8.5-3 31.5-8.5 19.5-4 25.5-3 19.5-0.5 28.5 2 22.5 3 22.5 4 25.5 5.5 64 18 65 21 72 25.5 26.5 11 13 7 12.5 7.5 9 7 7 8 7 10.5 5 10.5 2 8.5 0 10.5-3 10.5-9 18-4.5 7.5-11 13.5-7 13.5-6 15-3 10.5-1.5 7.5-599 0z"/>
<path fill="#B0C6FC" d="M398.5 0l587 0 0 74.5-33 2.5-18 0.5-18 1-24 0.5-43.5 2.5-28.5 0-25-2-43.5-4.5-99-14-37.5-3-43.5 3-54 5.5-29.5 0-13.5-1-15-2.5-18-5-13.5-5-9-5-6-7-6-11-6-16.5zM0 428.5l19.5-4 49.5-12.5 33-9 31.5-9.5 30-12.5 19-7 16.5-4.5 21-5 24-3.5 16.5-1 12 0.5 21 1.5 22.5 2.5 19.5 3.5 25.5 5 55 16.5 25 9 41.5 16 13.5 6.5 22 11 12 8 13.5 11 9 8.5 7 9.5 6 10.5 4.5 12 2 10-0.5 10.5-1.5 9-10.5 34.5-9 37.5-2.5 10.5-548 0z"/>
<path fill="#8C98FC" d="M670 0l214.5 0-4 10.5-9 20.5-6 9-7.5 7.5-6 3.5-9 3-15 1.5-14.5 0.5-15 0-16.5-2-39-6-10.5-2.5-36-11-8.5-4.5-6-6-8-13.5zM483.5 482.5l2 10 0 10.5-1 10.5-3 10.5-4.5 10.5-5 10.5-4.5 7-10.5 14-4.5 7.5-7 16.5-3.5 13.5-442 0 0-143.5 10.5-2.5 49.5-15 12-4.5 22.5-9.5 30.5-18 31-15 20-7.5 21-6 18.5-4 33-4.5 12-0.5 16.5 0 27 3 27 4.5 23 6 26.5 8.5 20 8 17.5 8 20.5 11.5 12 9 10.5 10.5 11 15 7.5 13.5z"/>
<path fill="#6868FC" d="M424.5 472l2 7.5 1.5 7.5 1 8.5-0.5 7.5-1 9-1.5 7.5-2 6-3.5 7.5-7.5 12-9.5 10.5-9.5 7.5-18 12-6 6-9 12-3.5 6-1.5 4.5-288 0-2.5-21-5.5-36-1-22.5 1-9 1.5-9 3.5-10.5 5-11.5 8-13 10.5-13.5 9-10 11.5-10 12-9 10-6 12-6 26.5-12 17.5-5.5 16.5-3.5 13.5-2 40.5-3.5 19.5 0 12 0.5 19.5 2.5 16.5 3.5 18 5.5 13.5 6 19.5 10.5 15 10 10.5 9 8 9 8.5 12z"/>
<path fill="#0034FF" d="M394 470.5l1.5 7.5 0.5 9-1 8.5-1.5 7.5-3.5 9-3.5 7.5-5 7.5-5.5 6-7.5 7-9 6.5-6 4-7.5 3.5-22.5 8.5-18 5.5-13.5 3-22.5 3-16.5 1.5-9 0-37.5-2-12-2-16.5-4.5-12-3.5-8.5-4-10.5-5.5-9-6-6-5.5-5-6.5-4-7.5-2.5-7.5-0.5-7.5 1-7.5 2-9 3.5-8.5 5.5-9 7-10.5 8.5-10.5 9.5-10.5 6.5-6 11.5-9 9-6 8.5-4.5 11-5.5 10.5-4 10.5-3.5 10-2 32-4 12-0.5 9 0 15 1 10.5 2 12 3 15 5 8.5 4 7.5 4.5 11.5 9 10 9 5 6 4 6 4 9z"/>
<path fill="#0014DC" d="M349 445l4 6 4 7.5 5 13.5 1 6 1 6-0.5 6-1 5.5-2.5 7.5-3.5 7-3 5-4.5 5.5-4.5 4.5-6 4-13.5 7-9 3.5-7.5 2-12 2-13.5 1.5-25.5 0-21-2.5-7.5-1.5-7.5-2.5-15-8-6-4.5-3.5-3.5-3.5-4.5-2.5-4.5-1.5-4.5-0.5-6 0-4.5 1-6 2.5-7 3.5-8.5 9-16 9-11.5 7.5-8 14-10 14-7.5 12.5-4.5 15-2.5 13.5-0.5 12 1.5 14 4.5 13 6 11 7.5 4.5 4.5z"/>
</svg>
<path d="M63.6 599.3L70.3 595.1L80.3 588.5L86.9 580.1L91.1 570.1L91.1 558.5L88.6 546.8L83.6 536.9L77.0 526.9L68.6 516.9L62.0 506.9L57.0 496.9L55.3 488.6L58.6 480.3L65.3 472.0L73.6 464.5L81.9 458.6L88.6 459.5L93.6 463.6L96.9 468.6L98.6 473.6L101.1 477.8L99.9 472.0L100.3 464.5L106.9 462.0L116.9 457.0L130.2 452.0L133.5 447.0L136.9 449.5L146.8 446.2L158.5 440.3L170.1 432.0L180.1 422.0L188.5 410.4L193.4 400.4L192.8 407.1L200.3 394.5L208.6 381.1L214.5 366.2L212.0 361.2L202.0 357.8L207.0 351.2L212.8 344.5L210.3 337.9L208.6 329.5L203.7 319.6L198.7 309.6L191.2 301.3L192.0 294.6L200.3 286.3L208.6 278.0L218.6 273.8L217.0 270.5L207.0 270.5L197.0 271.3L188.7 273.0L185.3 268.0L182.9 263.0L175.4 259.7L172.0 254.7L175.4 250.5L183.7 248.0L192.0 241.3L200.3 233.9L208.6 229.7L215.3 231.4L217.0 236.4L212.0 242.2L212.8 246.3L220.3 248.8L230.3 246.3L240.3 243.8L246.9 245.5L250.3 251.3L248.6 256.3L245.3 259.7L250.3 263.0L258.6 267.1L261.9 273.0L260.2 278.0L261.1 286.3L260.2 294.6L258.6 301.3L261.1 306.3L266.9 304.6L275.2 299.6L283.5 295.4L287.7 288.8L288.2 279.6L285.2 271.3L281.9 263.0L276.9 254.7L272.7 248.0L270.2 244.7L273.5 239.7L281.9 234.7L288.5 228.0L291.9 221.4L293.5 214.7L300.2 208.9L306.8 206.4L300.4 207.6L311.4 202.1L324.1 205.8L336.9 200.3L349.7 187.5L362.5 172.9L373.5 160.1L382.6 149.2L391.7 138.2L397.2 125.4L399.9 112.6L402.7 101.7L406.3 94.4L407.2 85.2L402.7 79.8L395.4 72.5L389.9 69.7L382.6 70.6L377.1 76.1L369.8 76.1L364.3 71.5L360.7 65.2L353.4 63.3L347.0 60.6L353.4 56.0L364.3 49.6L373.5 41.4L384.4 32.3L397.2 23.1L410.0 14.0L424.6 7.6L439.2 5.8L455.7 6.7L473.9 6.7L484.9 3.1L494.0 4.0L505.0 6.7L510.4 11.3L523.2 8.5L536.0 6.7L539.7 4.9L536.0 0.3L545.1 -4.3M0.4 558.5L7.1 559.3L17.0 566.8L25.4 576.8L33.7 586.8L40.3 595.1L48.7 599.3L50.3 602.6M84.4 491.1L86.9 484.4L93.6 480.3L101.9 479.4L106.1 482.8L105.2 490.3L100.3 497.8L92.8 501.9L86.9 499.4L84.4 491.1M199.3 447.0L200.1 437.0L204.3 425.4L210.1 417.0L214.2 417.9L213.4 428.7L210.9 440.3L206.8 450.3L202.6 453.7L199.3 447.0M201.8 498.6L208.4 496.9L216.7 500.3L218.4 508.6L220.1 516.9L216.7 525.2L213.4 533.5L215.1 543.5L213.4 551.8L208.4 556.8L204.3 557.7L202.6 550.2L199.3 545.2L196.8 538.5L195.1 530.2L198.4 525.2L200.1 516.9L200.9 506.9L201.8 498.6M201.8 560.2L205.9 558.5L210.1 566.8L208.4 573.5L204.3 568.5L201.8 560.2M216.7 553.5L221.7 548.5L226.7 553.5L231.7 558.5L233.4 563.5L228.4 560.2L223.4 556.8L218.4 556.8L216.7 553.5M240.0 571.8L246.7 570.1L250.0 576.8L248.4 585.1L250.0 591.8L245.0 596.8L241.7 588.5L243.4 580.1L240.0 571.8M216.7 581.8L221.7 583.5L225.1 590.1L226.7 598.4L221.7 598.4L218.4 590.1L216.7 581.8M183.5 600.1L188.5 591.8L191.8 598.4M233.4 599.3L236.7 595.1L240.0 600.1M257.4 318.7L259.4 316.7L261.4 318.7L259.4 320.7L257.4 318.7M291.0 321.2L295.2 317.1L301.8 314.6L304.3 316.2L301.8 321.2L303.5 326.2L308.5 322.9L311.0 326.2L310.2 334.5L307.7 341.2L304.3 344.5L300.2 342.0L296.8 338.7L297.7 332.9L300.2 329.5L296.8 326.2L293.5 325.4L291.0 321.2M304.3 310.4L310.2 306.3L318.5 301.3L326.8 297.1L336.8 292.9L346.8 291.3L355.1 286.3L360.1 279.6L365.1 278.0L371.7 273.0L380.1 268.0L386.7 259.7L390.0 249.7L393.4 239.7L394.2 231.4L397.5 226.4L403.4 228.9L410.0 234.7L412.5 243.0L410.0 253.0L405.0 259.7L401.7 268.0L400.0 278.0L399.2 286.3L400.0 291.3L395.0 296.3L392.5 292.1L388.4 296.3L383.4 298.8L378.4 299.6L371.7 302.9L365.1 302.1L360.1 306.3L356.8 312.9L351.8 317.9L348.4 314.6L349.3 307.9L346.8 304.6L340.1 304.6L333.5 306.3L326.8 306.3L321.8 309.6L316.8 308.7L310.2 312.1L304.3 310.4M320.1 319.6L323.5 312.9L330.1 310.4L336.8 308.7L339.3 312.9L335.1 317.1L328.5 319.6L325.1 324.6L321.0 325.4L320.1 319.6M396.7 222.2L392.5 213.0L391.7 206.4L395.4 204.0L404.5 198.5L408.2 185.7L410.0 175.7L415.5 177.5L421.0 183.9L430.0 191.2L441.0 193.0L445.6 198.5L441.0 204.0L431.9 207.6L424.6 213.1L417.3 209.4L410.0 211.3L402.7 214.0L400.0 219.7L396.7 222.2M410.0 79.8L417.3 77.0L422.8 75.2L425.5 81.6L426.4 94.4L430.1 107.2L433.7 119.9L434.6 127.3L428.3 130.0L422.8 134.6L419.1 143.7L421.9 152.8L424.6 158.3L417.3 162.0L414.6 165.6L411.8 160.1L412.7 145.5L413.6 130.9L412.7 116.3L410.0 101.7L408.2 88.9L410.0 79.8M366.5 60.6L369.8 57.3L373.1 60.6L369.8 63.9L366.5 60.6M609.1 -4.3L605.4 1.2L596.3 6.7L583.5 14.0L570.7 21.3L559.8 28.6L550.6 37.8L546.1 48.7L546.1 57.8L548.8 68.8L552.5 81.6L554.3 92.6L557.9 107.2L563.4 103.5L568.9 96.2L574.4 88.9L581.7 81.6L589.0 76.1L592.6 68.8L601.8 65.2L610.9 61.5L609.1 54.2L614.6 46.9L621.9 43.2L618.2 35.9L620.0 28.6L614.6 23.1L616.4 15.8L621.9 8.5L625.5 1.2L629.2 -4.3M938.8 66.2L944.0 62.0L948.8 61.2L944.0 65.0L938.8 66.2M956.3 58.7L966.3 53.7L978.8 51.2L972.0 56.0L962.0 59.0L956.3 58.7M962.0 5.0L966.0 8.0L978.8 15.0L982.5 10.0L990.0 12.0M905.0 2.0L915.0 5.0L925.0 2.0M700.0 3.0L712.0 6.0L722.0 3.0M633.0 2.0L640.0 7.0L652.0 5.0L660.0 2.0" fill="none" stroke="#fff" stroke-width="3.0" stroke-linejoin="round" stroke-linecap="round"/>
<path d="M35.8 33.3L39.8 29.3L35.6 25.1L31.6 29.1ZM232.3 31.2L232.3 25.7L230.1 25.7L230.1 31.2ZM271.8 31.5L273.1 26.1L271.0 25.6L269.6 30.9ZM309.1 33.9L316.1 36.9L318.3 31.5L311.3 28.5ZM348.2 33.7L353.2 36.7L356.2 31.7L351.2 28.7ZM388.2 33.9L399.2 37.9L401.2 32.5L390.2 28.5ZM428.7 34.1L434.7 34.1L434.7 28.3L428.7 28.3ZM468.2 34.1L474.2 34.1L474.2 28.3L468.2 28.3ZM506.4 33.8L515.4 38.3L518.0 33.1L509.0 28.6ZM545.4 33.5L550.4 37.5L554.0 32.9L549.0 28.9ZM588.5 33.5L593.5 29.5L589.9 24.9L584.9 28.9ZM624.0 33.1L631.0 41.1L635.4 37.3L628.4 29.3ZM663.6 33.3L669.6 39.3L673.8 35.1L667.8 29.1ZM702.5 32.3L705.5 39.3L710.9 37.1L707.9 30.1ZM742.6 33.3L749.6 40.3L753.8 36.1L746.8 29.1ZM782.4 33.5L792.4 41.5L796.0 36.9L786.0 28.9ZM822.1 34.1L830.9 39.1L828.3 40.8L837.7 39.2L834.3 30.3L834.2 33.4L825.3 28.3ZM861.9 34.2L870.7 38.0L868.4 40.0L877.2 37.2L873.1 28.9L873.3 32.0L864.5 28.2ZM902.5 34.5L911.3 35.1L909.8 37.8L916.7 32.2L910.7 25.7L911.8 28.5L902.9 27.9ZM942.6 34.5L952.1 33.2L951.1 36.1L957.2 29.2L949.5 24.1L951.2 26.7L941.8 27.9ZM982.3 34.0L992.3 32.0L991.1 26.4L981.1 28.4ZM32.0 81.4L36.4 84.7L39.8 80.1L35.4 76.8ZM190.9 79.9L194.8 83.8L196.4 82.2L192.5 78.3ZM232.3 79.4L233.6 74.0L231.5 73.5L230.1 78.8ZM269.6 81.8L274.7 83.8L276.9 78.5L271.8 76.4ZM310.2 80.2L315.7 80.2L315.7 78.0L310.2 78.0ZM348.2 81.6L356.2 86.6L359.2 81.6L351.2 76.6ZM388.9 82.0L398.9 83.0L399.5 77.2L389.5 76.2ZM428.7 82.0L440.7 82.0L440.7 76.2L428.7 76.2ZM468.7 82.4L477.5 81.1L476.6 84.0L482.2 77.1L474.9 72.0L476.6 74.6L467.7 75.8ZM507.7 82.0L515.7 82.0L515.7 76.2L507.7 76.2ZM545.6 81.5L550.2 84.6L553.4 79.7L548.8 76.7ZM584.6 81.7L591.6 87.3L588.8 88.6L597.7 88.1L596.5 79.3L595.7 82.2L588.8 76.5ZM623.9 80.9L630.9 89.9L635.5 86.3L628.5 77.3ZM663.9 81.8L671.5 86.9L668.8 88.5L677.7 87.1L675.5 78.4L675.1 81.4L667.5 76.4ZM703.5 82.0L711.1 86.4L708.6 88.1L717.2 86.1L714.7 77.7L714.4 80.7L706.9 76.2ZM742.9 81.8L750.5 86.9L747.8 88.5L756.7 87.1L754.5 78.4L754.1 81.4L746.5 76.4ZM782.9 82.2L793.7 86.6L791.1 88.5L801.2 86.1L795.7 77.3L796.2 80.5L785.5 76.0ZM822.9 82.3L836.2 85.5L833.6 87.7L844.7 84.1L836.4 75.9L837.7 79.0L824.5 75.9ZM862.4 82.3L875.0 85.5L872.5 87.7L883.2 84.1L875.5 75.9L876.6 79.1L864.0 75.9ZM902.4 82.4L916.3 83.7L914.0 86.2L924.7 81.1L915.1 74.2L916.9 77.1L903.0 75.8ZM942.1 82.4L957.2 83.0L954.9 85.7L966.2 80.1L955.4 73.6L957.5 76.4L942.3 75.8ZM981.7 82.0L993.7 82.0L993.7 76.2L981.7 76.2ZM33.7 128.1L39.2 128.1L39.2 125.9L33.7 125.9ZM74.0 127.8L77.9 123.9L76.3 122.3L72.4 126.2ZM113.7 127.5L116.1 122.6L114.2 121.6L111.7 126.5ZM150.4 129.3L155.4 133.3L159.0 128.7L154.0 124.7ZM189.3 128.6L193.3 134.6L198.1 131.4L194.1 125.4ZM233.9 128.1L235.9 123.0L230.6 120.8L228.5 125.9ZM271.9 129.7L280.9 125.7L278.5 120.3L269.5 124.3ZM311.9 129.4L321.9 122.4L318.5 117.6L308.5 124.6ZM349.7 129.9L355.7 129.9L355.7 124.1L349.7 124.1ZM389.2 129.9L397.2 129.9L397.2 124.1L389.2 124.1ZM428.7 129.9L437.7 129.9L437.7 124.1L428.7 124.1ZM469.3 129.7L479.3 125.7L477.1 120.3L467.1 124.3ZM507.7 129.9L516.7 129.9L516.7 124.1L507.7 124.1ZM546.1 129.7L556.1 133.7L558.3 128.3L548.3 124.3ZM585.3 130.0L593.5 133.8L591.2 135.7L599.7 133.0L596.3 124.7L596.3 127.8L588.1 124.0ZM624.8 130.0L634.3 134.4L631.7 136.3L641.2 134.0L636.9 125.3L637.1 128.4L627.6 124.0ZM664.2 130.0L673.1 134.4L670.6 136.2L679.7 134.0L676.0 125.4L676.0 128.5L667.2 124.0ZM703.5 129.8L714.3 136.2L711.3 137.6L722.2 137.0L717.4 127.2L717.6 130.5L706.9 124.2ZM743.0 129.8L753.8 136.2L750.8 137.6L761.7 137.0L756.9 127.2L757.1 130.5L746.4 124.2ZM783.3 130.2L795.9 134.0L793.3 136.0L804.2 133.0L796.7 124.4L797.8 127.6L785.1 123.8ZM823.2 130.3L838.3 132.8L835.7 135.1L847.7 131.0L837.7 123.2L839.4 126.3L824.2 123.7ZM862.8 130.3L879.3 132.2L876.5 134.6L889.2 130.0L877.9 122.6L880.0 125.6L863.6 123.7ZM901.8 130.2L920.8 135.2L917.3 137.2L932.7 135.0L920.5 125.5L922.5 128.9L903.6 123.8ZM941.9 130.3L966.0 132.2L962.1 136.0L980.2 130.0L963.3 121.2L966.5 125.6L942.5 123.7ZM35.0 177.5L39.9 175.0L37.3 169.8L32.4 172.3ZM74.1 175.6L77.4 171.2L75.6 169.8L72.3 174.2ZM110.6 177.0L115.6 182.0L119.8 177.8L114.8 172.8ZM150.5 177.3L160.5 184.3L163.9 179.5L153.9 172.5ZM191.7 177.8L197.7 177.8L197.7 172.0L191.7 172.0ZM231.2 177.8L241.2 177.8L241.2 172.0L231.2 172.0ZM272.0 177.9L279.6 174.8L279.5 177.8L282.7 169.9L274.9 166.6L277.0 168.7L269.4 171.9ZM311.4 177.5L322.4 172.5L320.0 167.3L309.0 172.3ZM350.9 177.6L359.9 173.6L357.5 168.2L348.5 172.2ZM389.9 177.7L397.9 175.7L396.5 170.1L388.5 172.1ZM429.4 177.7L437.4 175.7L436.0 170.1L428.0 172.1ZM469.5 177.9L477.1 174.8L477.0 177.8L480.2 169.9L472.4 166.6L474.5 168.7L466.9 171.9ZM507.9 178.2L519.3 177.6L517.8 180.4L525.7 173.9L517.1 168.3L518.9 171.0L507.5 171.6ZM547.2 178.2L558.6 178.2L556.9 180.9L565.2 174.9L556.9 168.8L558.6 171.6L547.2 171.6ZM586.8 178.2L602.0 177.6L599.9 180.4L610.7 173.9L599.4 168.3L601.7 171.0L586.6 171.6ZM626.1 178.2L642.5 178.8L640.0 181.5L652.2 175.9L640.5 169.4L642.8 172.2L626.3 171.6ZM665.4 178.2L681.9 179.5L679.3 182.0L691.7 176.9L680.2 169.9L682.4 172.9L666.0 171.6ZM704.7 178.2L721.8 180.7L718.9 183.0L732.2 178.9L720.7 171.1L722.7 174.2L705.7 171.6ZM744.1 178.2L762.5 181.3L759.3 183.6L773.7 179.9L761.4 171.6L763.6 174.8L745.3 171.6ZM784.2 178.2L802.5 178.2L799.9 180.9L813.2 174.9L799.9 168.8L802.5 171.6L784.2 171.6ZM824.4 178.1L844.6 173.7L842.3 177.4L855.7 167.9L839.6 164.9L843.2 167.3L823.0 171.7ZM863.9 178.1L884.1 173.7L881.8 177.4L895.2 167.9L879.1 164.9L882.7 167.3L862.5 171.7ZM902.5 178.2L924.6 179.5L921.2 182.8L937.7 176.9L922.0 169.1L925.0 172.9L902.9 171.6ZM941.8 178.2L967.1 181.3L962.8 185.4L982.2 179.9L964.8 169.8L967.9 174.8L942.6 171.6ZM33.7 225.7L39.2 225.7L39.2 219.9L33.7 219.9ZM71.1 224.9L75.0 228.7L79.1 224.6L75.3 220.7ZM110.0 223.9L112.1 229.0L117.4 226.8L115.4 221.7ZM149.7 224.3L152.7 229.3L157.7 226.3L154.7 221.3ZM189.9 225.1L198.9 232.1L202.5 227.5L193.5 220.5ZM230.9 225.7L241.9 226.7L242.5 220.9L231.5 219.9ZM272.5 225.1L281.5 218.1L277.9 213.5L268.9 220.5ZM310.5 225.7L321.5 224.7L320.9 218.9L309.9 219.9ZM351.6 225.0L357.6 220.0L353.8 215.6L347.8 220.6ZM391.4 225.2L398.4 218.9L399.2 221.9L400.2 212.8L391.1 212.9L393.9 214.0L387.0 220.4ZM430.6 225.0L439.6 217.0L435.8 212.6L426.8 220.6ZM469.4 225.9L482.6 220.8L481.7 224.1L489.2 214.8L477.4 212.8L480.3 214.7L467.0 219.7ZM509.1 225.8L524.2 218.8L523.2 222.4L531.7 211.8L518.1 211.4L521.5 212.8L506.3 219.8ZM548.5 225.8L563.6 219.5L562.5 223.0L571.2 212.8L557.8 211.8L561.1 213.4L545.9 219.8ZM588.1 225.8L603.2 218.8L602.2 222.4L610.7 211.8L597.1 211.4L600.5 212.8L585.3 219.8ZM627.5 225.9L648.9 217.0L647.3 221.9L660.2 208.8L641.8 208.6L646.4 210.9L624.9 219.7ZM667.1 225.8L686.1 216.9L684.6 221.1L695.7 208.8L679.2 209.4L683.3 211.0L664.3 219.8ZM706.5 225.8L724.8 218.3L723.2 222.0L734.2 210.8L718.5 210.7L722.3 212.2L703.9 219.8ZM745.7 225.9L768.5 218.3L766.5 223.4L780.7 210.8L761.8 209.3L766.4 212.1L743.7 219.7ZM785.6 225.8L808.4 214.7L807.1 220.4L820.2 205.3L800.2 206.3L805.5 208.8L782.8 219.8ZM824.8 225.9L847.6 217.7L845.7 222.8L859.7 209.8L840.6 208.7L845.3 211.5L822.6 219.7ZM863.8 226.0L885.3 222.3L882.7 226.2L897.2 216.8L880.4 212.9L884.1 215.8L862.6 219.6ZM903.0 226.1L926.4 223.9L923.4 228.1L939.7 219.3L922.0 213.7L925.8 217.3L902.4 219.5ZM942.5 226.1L967.2 223.6L964.0 228.3L981.2 218.8L962.5 213.0L966.5 217.0L941.9 219.5ZM36.2 272.2L39.2 267.2L34.2 264.2L31.2 269.2ZM73.4 271.8L78.8 270.7L78.4 268.5L73.0 269.6ZM112.9 271.8L118.3 270.7L117.9 268.5L112.5 269.6ZM153.1 271.4L156.4 267.0L154.6 265.6L151.3 270.0ZM193.5 273.0L198.5 269.0L194.9 264.4L189.9 268.4ZM233.0 273.0L243.0 265.0L239.4 260.4L229.4 268.4ZM272.5 273.0L282.5 265.0L278.9 260.4L268.9 268.4ZM311.6 273.2L322.6 267.2L319.8 262.2L308.8 268.2ZM352.0 273.1L361.4 264.3L361.9 267.6L364.7 256.7L353.7 258.7L356.9 259.4L347.4 268.3ZM391.9 272.6L400.1 260.6L401.2 263.9L402.2 251.7L391.2 257.0L394.7 256.8L386.5 268.8ZM430.5 273.4L441.9 265.9L441.8 269.3L446.7 258.7L435.1 259.2L438.2 260.4L426.9 268.0ZM469.9 273.6L485.0 264.7L484.2 268.4L492.2 256.7L478.1 257.9L481.7 259.0L466.5 267.8ZM509.8 273.2L526.3 259.3L526.0 263.9L533.7 248.7L517.4 253.7L522.0 254.3L505.6 268.2ZM549.3 273.2L568.3 257.4L568.3 263.1L577.2 245.7L558.5 251.3L564.0 252.4L545.1 268.2ZM589.0 273.1L605.1 257.3L605.4 262.2L612.2 245.7L595.6 252.2L600.5 252.5L584.4 268.3ZM628.4 273.2L645.4 258.3L645.4 263.3L653.2 247.2L636.2 252.7L641.1 253.4L624.0 268.2ZM667.9 273.1L686.3 256.4L686.5 262.1L694.7 244.2L676.2 250.7L681.8 251.5L663.5 268.3ZM707.4 273.2L725.1 257.4L725.2 262.7L733.2 245.7L715.4 251.7L720.7 252.4L703.0 268.2ZM746.9 273.2L762.7 259.6L762.4 264.0L769.7 249.2L754.0 254.2L758.3 254.6L742.5 268.2ZM786.3 273.3L803.3 259.7L803.0 264.4L811.2 249.2L794.6 253.8L799.2 254.5L782.1 268.1ZM825.4 273.5L844.7 261.8L843.8 266.7L854.2 252.2L836.6 254.7L841.3 256.2L822.0 267.9ZM864.4 273.8L881.5 266.8L880.1 270.4L890.2 259.7L875.5 259.2L879.0 260.7L862.0 267.6ZM903.5 273.9L916.8 270.4L915.6 273.6L923.7 265.2L912.5 261.9L915.1 264.0L901.9 267.5ZM943.1 273.9L955.8 270.1L954.7 273.3L962.2 264.7L951.3 261.7L953.9 263.7L941.3 267.5ZM982.4 273.5L990.4 271.5L989.0 265.9L981.0 267.9ZM36.6 318.6L36.6 313.1L30.8 313.1L30.8 318.6ZM76.1 319.1L77.1 313.1L71.3 312.1L70.3 318.1ZM114.8 320.7L118.8 316.7L114.6 312.5L110.6 316.5ZM154.3 320.7L159.3 315.7L155.1 311.5L150.1 316.5ZM194.6 319.0L195.6 311.0L189.8 310.2L188.8 318.2ZM234.0 320.3L240.3 310.2L241.7 313.2L241.2 302.6L231.5 306.8L234.7 306.7L228.4 316.9ZM273.6 320.2L278.9 310.7L280.6 313.5L279.2 303.6L270.0 307.5L273.2 307.5L267.8 317.0ZM312.9 320.4L321.8 307.2L322.8 310.6L324.2 297.6L312.7 303.9L316.3 303.5L307.5 316.8ZM352.5 320.3L358.8 310.2L360.2 313.2L359.7 302.6L350.0 306.8L353.2 306.7L346.9 316.9ZM392.2 320.0L399.8 303.6L401.2 307.1L401.2 292.6L390.2 302.0L393.8 300.8L386.2 317.2ZM431.4 320.5L443.7 302.5L444.8 307.0L448.2 290.1L433.7 299.4L438.3 298.7L426.0 316.7ZM471.2 320.1L479.1 304.3L480.4 307.8L480.7 293.6L469.5 302.4L473.1 301.3L465.2 317.1ZM510.3 320.6L522.3 304.8L522.8 308.8L526.7 293.6L513.1 301.4L517.1 300.8L505.1 316.6ZM549.9 320.5L560.0 306.6L560.7 310.3L563.2 296.6L550.9 303.2L554.6 302.8L544.5 316.7ZM589.5 320.4L598.3 306.5L599.4 310.0L600.7 296.6L589.2 303.5L592.8 302.9L583.9 316.8ZM629.1 320.2L637.0 306.3L638.2 309.7L638.7 296.6L627.7 303.7L631.2 303.1L623.3 317.0ZM668.6 320.1L675.6 306.9L677.0 310.1L676.7 297.6L666.3 304.5L669.7 303.8L662.8 317.1ZM708.2 320.0L713.9 307.3L715.6 310.3L714.2 298.6L704.5 305.3L707.9 304.6L702.2 317.2ZM747.6 320.3L754.5 308.2L755.9 311.4L755.7 299.6L745.4 305.3L748.8 304.9L741.8 316.9ZM786.9 320.5L794.5 309.8L795.6 312.9L796.2 301.6L785.7 305.9L789.1 306.0L781.5 316.7ZM826.2 320.7L833.8 311.9L834.8 315.0L835.7 304.6L825.6 307.1L828.8 307.6L821.2 316.5ZM865.4 321.0L872.4 314.7L873.2 317.7L874.2 308.6L865.1 308.7L867.9 309.8L861.0 316.2ZM904.8 320.7L912.3 313.2L908.1 309.0L900.6 316.5ZM944.3 320.7L948.3 316.7L944.1 312.5L940.1 316.5ZM983.8 320.7L987.6 316.8L983.5 312.7L979.6 316.5ZM36.2 368.0L39.2 363.0L34.2 360.0L31.2 365.0ZM75.3 368.6L80.3 363.6L76.1 359.4L71.1 364.4ZM115.1 364.8L110.1 357.8L105.3 361.2L110.3 368.2ZM155.0 367.1L157.0 358.1L151.4 356.9L149.4 365.9ZM194.6 366.8L195.6 357.8L189.8 357.2L188.8 366.2ZM234.4 367.2L238.2 350.5L240.3 353.5L237.2 340.0L228.5 350.9L231.8 349.0L228.0 365.8ZM273.8 367.8L282.6 346.3L284.9 350.9L284.7 332.5L271.6 345.4L276.5 343.8L267.6 365.2ZM313.3 367.7L324.8 338.1L328.4 343.9L327.7 321.5L312.0 337.6L318.6 335.7L307.1 365.3ZM353.0 367.0L356.8 339.6L361.3 344.2L355.7 323.5L344.7 341.8L350.3 338.6L346.4 366.0ZM392.5 366.4L391.2 336.5L396.7 340.3L387.2 320.5L379.5 341.1L384.6 336.8L385.9 366.6ZM431.8 367.6L439.7 344.5L442.6 349.2L441.2 330.0L428.3 344.3L433.5 342.4L425.6 365.4ZM471.4 367.1L474.6 350.4L476.8 353.3L473.2 340.0L465.0 351.1L468.1 349.1L465.0 365.9ZM510.8 367.5L515.6 352.3L517.5 355.3L515.2 342.5L506.0 351.7L509.3 350.3L504.6 365.5ZM550.5 366.7L551.4 349.0L554.1 351.7L548.7 338.5L542.0 351.1L544.9 348.6L543.9 366.3ZM590.0 366.5L590.0 350.1L592.8 352.5L586.7 340.5L580.7 352.5L583.4 350.1L583.4 366.5ZM629.5 366.9L631.1 354.9L633.5 357.0L628.7 347.5L621.6 355.5L624.5 354.1L622.9 366.1ZM669.0 366.6L669.4 355.9L672.1 357.6L666.4 349.5L660.0 357.1L662.8 355.6L662.4 366.4ZM708.5 366.6L708.9 356.5L711.6 358.1L705.9 350.5L699.5 357.6L702.3 356.2L701.9 366.4ZM748.0 366.7L748.4 357.8L751.1 359.2L745.4 352.5L739.0 358.6L741.8 357.5L741.4 366.3ZM787.1 366.3L786.1 353.8L780.3 354.2L781.3 366.7ZM826.6 366.2L825.9 358.7L820.1 359.3L820.8 366.8ZM861.1 368.6L866.1 373.6L870.3 369.4L865.3 364.4ZM900.5 368.4L906.5 375.4L910.9 371.6L904.9 364.6ZM940.1 368.6L945.1 373.6L949.3 369.4L944.3 364.4ZM982.4 367.4L986.8 364.1L985.4 362.3L981.0 365.6ZM36.6 414.4L36.6 408.9L30.8 408.9L30.8 414.4ZM76.1 412.8L67.3 396.4L71.0 397.5L59.2 388.4L60.3 403.2L61.4 399.5L70.3 416.0ZM115.7 413.0L111.3 403.5L114.4 403.7L105.7 399.4L103.4 408.9L105.3 406.3L109.7 415.8ZM155.0 415.1L158.0 403.1L152.4 401.7L149.4 413.7ZM194.3 412.3L183.5 399.1L187.2 399.3L174.7 393.4L177.8 406.9L178.4 403.2L189.1 416.5ZM234.5 413.9L229.4 379.0L235.8 382.4L223.7 362.4L217.7 385.0L222.9 379.9L227.9 414.9ZM274.0 414.3L273.3 381.1L279.0 385.2L269.7 364.4L261.2 385.6L266.7 381.3L267.4 414.5ZM313.4 413.4L303.8 382.8L310.3 385.1L295.7 367.9L293.5 390.3L297.5 384.7L307.0 415.4ZM352.6 412.8L334.3 380.9L341.6 381.7L322.7 367.4L325.5 391.0L328.5 384.2L346.8 416.0ZM391.9 412.4L379.2 395.4L383.7 395.9L369.2 387.4L373.1 403.7L373.9 399.3L386.5 416.4ZM432.0 414.3L431.7 396.6L434.5 399.2L428.2 386.4L422.4 399.4L425.1 396.8L425.4 414.5ZM471.5 414.2L470.2 394.3L473.3 397.0L466.2 382.9L461.0 397.8L463.6 394.7L464.9 414.6ZM510.8 413.3L503.9 393.1L508.0 395.0L496.7 382.4L495.5 399.3L497.6 395.2L504.6 415.5ZM549.6 412.2L511.1 370.7L520.6 369.2L494.2 357.4L504.0 384.5L506.3 375.2L544.8 416.6ZM589.4 413.2L585.4 404.2L580.0 406.6L584.0 415.6ZM629.1 414.1L628.1 405.1L622.3 405.7L623.3 414.7ZM668.6 414.4L668.6 404.4L662.8 404.4L662.8 414.4ZM707.2 411.8L699.6 406.1L702.4 404.7L693.2 405.4L695.1 414.4L695.6 411.4L703.2 417.0ZM742.6 416.5L746.6 420.5L750.8 416.3L746.8 412.3ZM782.1 416.5L786.1 420.5L790.3 416.3L786.3 412.3ZM826.0 412.7L820.0 404.7L815.4 408.1L821.4 416.1ZM865.4 412.5L857.4 403.5L853.0 407.3L861.0 416.3ZM904.8 412.3L899.8 407.3L895.6 411.5L900.6 416.5ZM945.1 414.4L945.1 408.9L939.3 408.9L939.3 414.4ZM982.8 414.7L984.1 409.3L982.0 408.8L980.6 414.1ZM37.0 462.5L38.0 442.9L40.6 445.9L35.3 431.3L28.5 445.2L31.4 442.5L30.4 462.1ZM76.3 461.2L60.0 416.8L68.3 418.9L50.2 399.6L48.9 426.0L53.8 419.0L70.1 463.4ZM115.9 461.5L108.3 429.8L114.7 432.5L101.2 414.3L97.4 436.7L101.9 431.3L109.5 463.1ZM155.5 462.6L160.5 412.6L167.3 418.3L159.2 392.3L146.1 416.2L153.9 411.9L148.9 462.0ZM194.9 461.3L189.8 444.9L193.2 446.5L183.7 436.3L181.6 450.0L183.5 446.8L188.5 463.3ZM233.4 459.8L199.6 429.6L207.8 427.7L183.2 419.3L194.2 442.8L195.2 434.5L229.0 464.8ZM274.0 462.0L270.7 430.4L276.6 433.9L265.7 414.3L259.1 435.8L264.1 431.1L267.4 462.6ZM312.8 460.2L288.1 429.7L295.7 429.3L274.2 417.8L280.9 441.3L282.9 433.8L307.6 464.4ZM352.0 459.9L327.2 435.8L334.3 434.7L312.7 426.3L321.7 447.7L322.6 440.6L347.4 464.7ZM392.4 461.5L377.8 403.7L387.1 406.9L369.2 383.3L364.7 412.6L371.4 405.3L386.0 463.1ZM431.5 460.5L396.0 406.8L406.4 406.7L380.7 389.7L386.3 420.1L390.5 410.5L425.9 464.1ZM471.5 462.5L472.5 443.5L475.1 446.4L469.8 432.3L463.0 445.8L465.9 443.2L464.9 462.1ZM510.2 460.1L501.3 450.0L504.7 449.7L493.7 446.3L495.6 457.6L496.4 454.4L505.2 464.5ZM547.9 459.1L514.5 451.7L519.9 447.0L497.2 451.3L516.0 464.7L513.1 458.2L546.5 465.5ZM588.9 460.4L580.9 451.4L576.5 455.2L584.5 464.2ZM628.6 460.6L623.6 453.6L618.8 457.0L623.8 464.0ZM668.2 460.9L664.2 453.9L659.2 456.7L663.2 463.7ZM707.8 461.0L704.8 455.0L699.6 457.6L702.6 463.6ZM746.8 464.4L750.8 460.4L746.6 456.2L742.6 460.2ZM783.4 459.1L773.3 461.6L774.1 458.6L768.2 466.3L777.0 470.3L774.9 468.0L785.0 465.5ZM825.6 460.1L819.6 455.1L815.8 459.5L821.8 464.5ZM865.3 460.2L861.3 456.2L857.1 460.4L861.1 464.4ZM901.7 462.8L904.2 467.7L906.1 466.7L903.7 461.8ZM941.8 463.3L946.9 465.4L947.7 463.3L942.6 461.3ZM982.5 463.1L986.4 459.2L984.8 457.6L980.9 461.5ZM37.0 509.9L35.1 489.0L38.5 491.8L30.7 477.2L25.6 493.0L28.5 489.6L30.4 510.5ZM75.5 512.5L97.0 491.0L97.9 497.7L106.2 477.2L85.7 485.5L92.4 486.4L70.9 507.9ZM116.0 510.2L116.0 480.4L121.3 484.4L112.7 464.2L104.1 484.4L109.4 480.4L109.4 510.2ZM155.5 510.5L158.1 481.9L162.9 486.3L156.2 465.7L146.0 484.8L151.5 481.3L148.9 509.9ZM195.0 510.7L201.2 470.7L206.8 476.2L200.7 452.2L187.7 473.2L194.6 469.7L188.4 509.7ZM234.5 510.3L236.7 442.7L245.6 448.8L234.2 419.2L220.8 448.0L230.1 442.4L227.9 510.1ZM274.0 509.7L267.8 473.0L274.5 476.3L261.7 456.2L256.1 479.4L261.3 474.1L267.4 510.7ZM313.0 508.5L289.0 469.0L297.5 469.5L276.2 454.2L280.0 480.1L283.4 472.4L307.4 511.9ZM352.4 508.3L327.2 472.6L335.4 472.6L313.7 459.2L319.1 484.1L321.8 476.5L347.0 512.1ZM392.1 510.2L392.1 498.2L386.3 498.2L386.3 510.2ZM428.9 506.9L392.4 504.2L397.2 498.6L374.7 506.2L395.8 517.1L391.9 510.8L428.5 513.5ZM471.5 510.4L472.5 494.6L475.1 497.1L469.8 485.2L463.0 496.3L465.9 494.2L464.9 510.0ZM510.7 508.8L503.1 492.4L506.7 493.6L495.7 484.2L495.7 498.7L497.1 495.2L504.7 511.6ZM547.6 506.9L526.1 504.4L529.6 501.4L513.2 506.2L528.1 514.7L525.3 510.9L546.8 513.5ZM589.4 509.0L585.4 500.0L580.0 502.4L584.0 511.4ZM628.3 512.3L632.3 508.3L628.1 504.1L624.1 508.1ZM665.7 513.1L671.2 513.1L671.2 507.3L665.7 507.3ZM707.5 511.9L710.8 507.5L706.2 504.1L702.9 508.5ZM745.8 510.2L745.8 504.7L743.6 504.7L743.6 510.2ZM783.5 507.0L771.5 509.5L772.7 506.4L765.2 514.2L775.2 518.3L772.9 516.0L784.9 513.4ZM823.7 513.1L831.7 513.1L831.7 507.3L823.7 507.3ZM861.1 512.3L865.1 516.3L869.3 512.1L865.3 508.1ZM902.7 511.3L908.2 511.3L908.2 509.1L902.7 509.1ZM981.7 511.3L987.2 511.3L987.2 509.1L981.7 509.1ZM35.8 560.2L39.8 556.2L35.6 552.0L31.6 556.0ZM75.0 560.9L153.3 509.4L153.9 523.1L175.2 491.1L137.3 498.0L149.7 503.9L71.4 555.3ZM115.6 559.7L120.7 550.2L122.4 552.8L120.7 543.1L111.7 547.2L114.8 547.1L109.8 556.5ZM154.6 560.4L171.6 542.7L172.3 548.3L179.2 530.1L161.3 537.7L166.9 538.1L149.8 555.8ZM194.2 556.0L181.0 540.2L185.2 540.5L170.7 533.1L175.5 548.7L175.9 544.4L189.2 560.2ZM234.3 559.2L238.5 547.9L240.4 550.5L237.8 540.1L229.1 546.3L232.3 545.6L228.1 557.0ZM273.8 559.1L279.5 541.4L281.3 544.8L279.7 530.1L269.8 541.1L273.2 539.4L267.6 557.1ZM313.5 558.1L313.5 546.7L316.2 548.4L310.2 540.1L304.1 548.4L306.9 546.7L306.9 558.1ZM351.4 555.3L341.9 549.6L344.7 548.1L334.7 549.1L338.5 558.4L338.5 555.2L348.0 560.9ZM392.2 559.5L402.6 536.7L405.1 541.9L405.7 522.1L391.1 535.4L396.6 534.0L386.2 556.7ZM428.6 554.8L400.0 556.1L403.7 550.8L384.2 560.1L404.5 567.7L400.3 562.7L428.8 561.4ZM468.2 561.0L473.7 561.0L473.7 555.2L468.2 555.2ZM509.8 556.0L501.8 548.0L497.6 552.2L505.6 560.2ZM548.5 555.5L538.5 550.5L535.9 555.7L545.9 560.7ZM588.8 560.2L592.8 556.2L588.6 552.0L584.6 556.0ZM625.4 558.9L629.3 562.8L630.9 561.2L627.0 557.3ZM667.4 560.4L671.8 557.1L668.4 552.5L664.0 555.8ZM703.1 560.2L707.1 564.2L711.3 560.0L707.3 556.0ZM744.7 559.2L750.2 559.2L750.2 557.0L744.7 557.0ZM785.2 558.6L787.6 553.7L785.7 552.7L783.2 557.6ZM825.8 560.2L829.8 556.2L825.6 552.0L821.6 556.0ZM864.9 560.4L869.3 557.1L865.9 552.5L861.5 555.8ZM903.8 560.8L908.9 558.7L906.7 553.4L901.6 555.4ZM942.2 561.0L947.7 561.0L947.7 555.2L942.2 555.2ZM983.0 560.7L987.9 558.2L985.3 553.0L980.4 555.5ZM111.8 33.9L172.6 33.9L166.8 40.1L195.8 30.6L166.8 21.1L172.6 27.3L111.8 27.3Z" fill="#000"/><text x="158.5" y="73.8" font-size="40" text-anchor="middle">3</text>
</svg>
<path d="M1349.6 81.6v-10M1349.6 682.4v10M1349.6 81.6h-10.5M2333.6 81.6h9.5M1546.4 81.6v-10M1546.4 682.4v10M1349.6 201.8h-10.5M2333.6 201.8h9.5M1743.2 81.6v-10M1743.2 682.4v10M1349.6 321.9h-10.5M2333.6 321.9h9.5M1940 81.6v-10M1940 682.4v10M1349.6 442.1h-10.5M2333.6 442.1h9.5M2136.8 81.6v-10M2136.8 682.4v10M1349.6 562.2h-10.5M2333.6 562.2h9.5M2333.6 81.6v-10M2333.6 682.4v10M1349.6 682.4h-10.5M2333.6 682.4h9.5" stroke="#000" stroke-width="4.2" fill="none"/>
<rect x="1349.6" y="81.6" width="984" height="600.8" fill="none" stroke="#000" stroke-width="4.2"/>
<text x="1350.1" y="747" text-anchor="middle" font-size="48">100<tspan dy="-23.5" font-size="34.5">o</tspan><tspan dy="23.5">E</tspan></text>
<text x="1546.9" y="747" text-anchor="middle" font-size="48">120<tspan dy="-23.5" font-size="34.5">o</tspan><tspan dy="23.5">E</tspan></text>
<text x="1743.7" y="747" text-anchor="middle" font-size="48">140<tspan dy="-23.5" font-size="34.5">o</tspan><tspan dy="23.5">E</tspan></text>
<text x="1940.5" y="747" text-anchor="middle" font-size="48">160<tspan dy="-23.5" font-size="34.5">o</tspan><tspan dy="23.5">E</tspan></text>
<text x="2137.3" y="747" text-anchor="middle" font-size="48">180<tspan dy="-23.5" font-size="34.5">o</tspan><tspan dy="23.5">W</tspan></text>
<text x="2334.1" y="747" text-anchor="middle" font-size="48">160<tspan dy="-23.5" font-size="34.5">o</tspan><tspan dy="23.5">W</tspan></text>
<rect x="2386" y="636.2" width="38.4" height="36.9" fill="#0000B8"/>
<rect x="2386" y="599.9" width="38.4" height="36.9" fill="#0014DC"/>
<rect x="2386" y="563.6" width="38.4" height="36.9" fill="#0034FF"/>
<rect x="2386" y="527.4" width="38.4" height="36.9" fill="#6868FC"/>
<rect x="2386" y="491.1" width="38.4" height="36.9" fill="#8C98FC"/>
<rect x="2386" y="454.8" width="38.4" height="36.9" fill="#B0C6FC"/>
<rect x="2386" y="418.5" width="38.4" height="36.9" fill="#D6E0FA"/>
<rect x="2386" y="382.2" width="38.4" height="36.9" fill="#F8F8F8"/>
<rect x="2386" y="345.9" width="38.4" height="36.9" fill="#FFE8CA"/>
<rect x="2386" y="309.6" width="38.4" height="36.9" fill="#FFCC9E"/>
<rect x="2386" y="273.3" width="38.4" height="36.9" fill="#FF9472"/>
<rect x="2386" y="237" width="38.4" height="36.9" fill="#FF5040"/>
<rect x="2386" y="200.8" width="38.4" height="36.9" fill="#FF0000"/>
<rect x="2386" y="164.5" width="38.4" height="36.9" fill="#D40000"/>
<rect x="2386" y="128.2" width="38.4" height="36.9" fill="#AC0000"/>
<rect x="2386" y="91.9" width="38.4" height="36.9" fill="#800000"/>
<text x="2436.3" y="107.5" font-size="44">3</text>
<text x="2436.3" y="204.3" font-size="44">2</text>
<text x="2436.3" y="301" font-size="44">1</text>
<text x="2436.3" y="397.8" font-size="44">0</text>
<text x="2436.3" y="494.6" font-size="44">-1</text>
<text x="2436.3" y="591.3" font-size="44">-2</text>
<text x="2436.3" y="688.1" font-size="44">-3</text>
<path d="M2386.5 189h6M2423.9 189h-6M2386.5 285.7h6M2423.9 285.7h-6M2386.5 382.5h6M2423.9 382.5h-6M2386.5 479.3h6M2423.9 479.3h-6M2386.5 576h6M2423.9 576h-6" stroke="#000" stroke-width="2.2" fill="none"/>
<rect x="2386.1" y="92.2" width="38.2" height="580.6" fill="none" stroke="#000" stroke-width="2.1"/>
<text x="1300" y="40.7" font-size="52">B</text>
<text x="1892" y="38.7" font-size="51.6" text-anchor="middle" style="white-space:pre">Stream function anomaly, wave activity flux</text>
<svg x="132" y="897.6" width="984" height="600.8" viewBox="0 0 984 600.8" overflow="hidden">
<rect width="984" height="600.8" fill="#F8F8F8"/>
<path fill="#FFE8CA" d="M0 0l266 0 0 9 5 19.5 21 43 4.5 17 4.5 8 10.5 12 19 14.5 12.5 7.5 25.5 13 1.5 2 1.5 6 0 3-1.5 1.5-13.5 10-5 10.5 1.5 9 1.5 6 6 12 7.5 6 5 3.5 16.5 3.5 3 0 15-3 12-3.5 12-4.5 6-3 4.5-3.5 1.5-4.5 2-10.5-6-28 0-4.5-4-16.5 0.5-3 3-2 13.5-3.5 6 1.5 7.5 0 4.5 1.5 6 0 4.5 1.5 13 0 6 1.5 15 0 6-1.5 15 0 6 1.5 9 0 24 7 9 2 4.5 0 4.5 1.5 3-0.5 6-2 5.5-5.5 2.5-4.5 0.5-9 1-4.5 0.5-12-1.5-6-0.5-7.5-6.5-16.5 0.5-3 5.5-10.5 1.5-2 39-19 15-10 9-2.5 4.5-0.5 4.5-1 9-0.5 4.5 0.5 4.5 1 9 0.5 3 1.5 9.5 9.5 1.5 3 0 15 0.5 3 8 11 1.5 1 4.5 2.5 9 3 6 3 9 7 6 7 10.5 20 2 7 0 4.5 1.5 4.5-5.5 12 0.5 3 2.5 4.5 5 6.5 4.5 3 5.5 5 6.5 4 6 0 4.5 1.5 7.5 0 17.5-7 9-2 7.5 0 6-1.5 25.5 0 3-0.5 15.5-7.5 11.5-15.5 2.5-2.5 21-10.5 6.5-2.5 22.5-4.5 7.5 0 4.5-1.5 6 0 0 238-7.5 0-6 1.5-10.5 0.5-22.5 4-4.5 0.5-4.5 1-4.5 0.5-4.5 1-4.5 0.5-4.5 1-6 0.5-4.5 1-7.5 0.5-4.5 1-7.5 0.5-4.5 1-7.5 0.5-4.5 1-10.5 0.5-4.5 1-10.5 0.5-6 1-19 0-7.5 1.5-15 0-37.5-9.5-6-2.5-25.5-16-9-4.5-21-6-9-1.5-12 2.5-4.5 0.5-4.5 1-6 0.5-4.5 1-7.5 0.5-4.5 1-7.5 0.5-4.5 1-9 0.5-4.5 1-7.5 0.5-4.5 1-9 0.5-4.5 1-7.5 0.5-4.5 1-7.5 0.5-13.5 2.5-16.5 2-22.5 4-4.5 0.5-12 2.5-4.5 0.5-11.5 2.5-4.5 0.5-13.5 2.5-6 0.5-13.5 2.5-16.5 2-4.5 1-24 0-7.5 1.5-24 0-6 1.5-7.5 0.5-4.5 1-7.5 0.5-4.5 1-6 0.5-4.5 1-15 2-30 9-51 19.5-10.5 5-15 6.5-45.5 22-24.5 10.5-49.5 14.5-28.5 9-21 9-34.5 17-6 2 0-410.5 24 5 19.5 6 19.5 9.5 22.5 9 19.5 6 7.5 2 21 0 3-0.5 12-4.5 6-3 1.5-1.5 9-15 0.5-10.5 1.5-4.5 0-6 0-6-3.5-16.5-9-10-4.5-2.5-15-7.5-19.5-5.5-13.5-4.5-4.5-2-12-4-21-9.5-25.5-6.5-12 0-4.5-1.5-13.5 0-4.5-1.5-4.5 0zM291 230.5l-2.5-3-7-6.5-18-8.5-13.5-5-18 0.5-13.5 6.5-18 7.5-25.5 8-26.5 13.5-13.5 9-9 8.5-2.5 4 0 4.5 3.5 6 3.5 4 13 9.5 8 2.5 4.5 0 4.5 1.5 3 0 13-3 4.5 0 27-6 9 0 4.5-1.5 9-0.5 12.5-6.5 5.5-8 6-6 22.5-16 11-6 1.5-1.5 1.5-4.5zM624 123l0 3 1.5 3 7.5 10.5 5 1.5 9 2 15-3.5 4.5-1.5 9-4.5 3.5-3 2-6-1.5-3-5.5-5-6-3-12-4.5-3-0.5-13.5 0-3 1-9.5 6-1 1.5zM702.5 69.5l-1.5 0.5-2 2-5 10.5 0 4.5 1.5 4.5 0 7.5 2 9 6 12 1.5 1.5 5 1.5 6.5 1.5 2.5-2.5 5-11 0-24 0-3-6-12-2-2-3-0.5zM48 299.5l-9 3.5-1.5 1-0.5 1.5 3 22.5 2 5.5 1.5 0.5 7.5-3.5 1.5-1 0.5-1.5 0-3-1-4.5-0.5-10.5-1-4.5-0.5-4.5-0.5-1z"/>
<path fill="#FFCC9E" d="M240.5 84l2-0.5 3 1.5 6 4.5 1 5-1 5-1.5 1-3-1.5-3-1.5-1-1.5-2.5-7.5zM985.5 146l0 19.5-4.5-2-3-1.5-2-9 0.5-3 1.5-1zM213 172l-0.5 2-3.5 5.5-5.5 5.5-7.5 5.5-12 6-6 0.5-4.5 1.5-6 0-22-6-13.5-1.5-7.5-2-9-4.5-1-2 1-1.5 6-4.5 3-1.5 28.5-10.5 9-2 4 0 4.5-1.5 10.5 1 4.5-2.5 7.5-10 1.5-1.5 1.5 0 6 1.5 2 2 7.5 14.5zM941 268l-0.5 2-4.5 6-12 7-2 3-1.5 4.5 1 6 0 3-2 2-7.5 6-6 3-18 5-9 4.5-11 6.5-13 12-4.5 2-21 4.5-16 0-7.5-1.5-16.5 0-25.5-7.5-5.5-3.5-4.5-4.5-3-4.5-6.5-6.5-14.5-11.5-14-6.5-22.5 0-67.5 16-18 3.5-10.5 2.5-61.5 12.5-30 7.5-6 2.5-41.5 10-39 8-9 0.5-6 1-12 0.5-4.5 1-3 0-12 0-4.5-1-13.5-0.5-6-1.5-10.5 0-6 1.5-10.5 0.5-4.5 1-6 0.5-16.5 4.5-25.5 9-24 12.5-18 5-25.5 3.5-13.5 3-10.5 6-3-0.5-7.5-4.5-11-14-6-6-3-4.5-5-5-4.5-3-18-9-13.5-2-2-2 0.5-1.5 3-2 10.5-2.5 3-1 7.5-6 1.5-2 3-12 12-9.5 6-3 49-12 22.5-3.5 16.5-4.5 13.5-4.5 18-9 7.5-3 79.5-40 16.5-6.5 10.5-5 34.5-10 40.5-12.5 9-2 6 0 4.5-1.5 6 0 4.5-1.5 17.5 0 7.5-1.5 67.5 0 7.5 1.5 30 0 7.5 1.5 30 0 7.5 1.5 18 0 4.5 1.5 6 0 4.5 1.5 6 0 9 2 24 8.5 30 4.5 37.5 0 6-1.5 9 0 4-1.5 6 0 21-5 16.5-6 10.5-5 12-0.5 7.5 3.5 1.5 1.5 0 1.5-2.5 6-1.5 1.5-11 6-1.5 1.5-0.5 1.5 0 4.5 1 3 10 8 13.5 6.5 24 8 7 3 2 2zM22.5 439.5l1.5 0.5 4.5 6 1 3.5-1 3-4.5 6-1.5 0.5-1.5-0.5-4.5-6-1-3 1-3.5 4.5-6z"/>
<path fill="#FF9472" d="M686.5 242.5l-2 6-2.5 4.5-15 18-11 11-8.5 7-3.5 2-21 6-6 0.5-4.5 1-12 0.5-4.5 1-9 0.5-4.5 1-4.5 0.5-4.5 1-15 2-24 6-25.5 7.5-43 16-28.5 7.5-4.5 0.5-4.5 1-7.5 0.5-4.5 1-15 0-4.5-1-12-1-22.5-8-10.5-0.5-4.5-1-3-0.5-9 0.5-22.5 4-6 0.5-4.5 1-7.5 0.5-4.5 1-31.5 0-6-1-4.5-0.5-4.5-1.5-3-1.5-1-2 1-1.5 7.5-4 18-6 10.5-5.5 3-2.5 0.5-1.5 2.5-9 13.5-11 37.5-18.5 33-18.5 29.5-15 15.5-6 25.5-6.5 4.5 0 4.5-1.5 7.5 0 4.5-1.5 16.5 0 6-1.5 26.5 0 7.5 1.5 21 0 6 1.5 13.5 0 6 1.5 21 0 7.5 1.5 21 0 4.5 1.5 9 0 6 1.5 10.5 0 4.5 1.5 7.5 0 4.5 1.5 10.5 0 4.5 1.5 7.5 0.5 4.5 2z"/>
<path fill="#FF5040" d="M551.5 268l0 4.5-2 2.5-16.5 8-6 4.5-1.5 1.5-2.5 10.5-2 2-12 6-4.5 1.5-25 6-28.5 0-4.5-1-4.5-0.5-7.5-1.5-6-1.5-13.5-6-10.5-7.5-2-2-4-9 0.5-3 4-8 12-11.5 13.5-8 21-10 25.5-6.5 6 0 9 2 16 7 25.5 13 16.5 4 3 1.5z"/>
<path fill="#FF0000" d="M481.5 268l1.5 1.5 0 1.5-3 4.5-9.5 11.5-3 2-1.5-0.5-10.5-13.5-1-2.5 0-1.5 1.5-1.5 11.5-5 3 0z"/>
<path fill="#D6E0FA" d="M309.5 10.5l0-10.5 96.5 0-5.5 7.5-5 5-4.5 3.5-6 5.5-15 9-12 5.5-15 3.5-3 0-7.5-1.5-6-2-9-5.5-2-2-4-9zM555.5 31.5l-4-6-2-6-3.5-16.5 0-3 50.5 0-3 6-7 9-8.5 8-4.5 3.5-5.5 5-5 3-1.5 0-4.5-1.5zM880 0l105.5 0 0 56-6 1.5-6 0.5-4.5 1-4.5 0-10.5-2-7.5-3-45-28-12.5-11-5.5-7.5zM985.5 378l0 142.5-4.5 0.5-6 2-4.5 8.5-0.5 4.5 0 4.5 1.5 4.5 0 4.5 2 4.5 4.5 6 7.5 3.5 0 35-17.5 5-924 0-6-13.5-7-9-4.5-7.5-4.5-10.5-3-10.5 0-22.5 7.5-16.5 3-3 18-13.5 12.5-7.5 9-4.5 40.5-13.5 25.5-5.5 21-9 14.5-7.5 16.5-9.5 19.5-10 21-12.5 25-11.5 36.5-13.5 9-2 7.5-0.5 4.5-1 7.5-0.5 4.5-1 10.5-0.5 4.5-1 10.5-0.5 4.5-1 16.5-0.5 7.5-1.5 22.5 0 7.5-1.5 30 0 7.5-1.5 21 0 6 1.5 7.5 0.5 4.5 1 9 0 4-1 7.5-0.5 4.5-1 6-1 21-6.5 34.5-8.5 10.5-3.5 15-3 6-0.5 4.5-1 6-0.5 4.5-1 10.5-0.5 4.5-1 13.5-0.5 6-1.5 34.5 0 12 2 6 1.5 15 7.5 18 12.5 7.5 3 31.5 8 4.5 0.5 4.5 1 7.5 0.5 4.5 1 7.5 0.5 4.5 1 7.5 0.5 4.5 1 43 0 22.5-5.5 7.5-0.5 4.5-1 12-0.5 4.5-1 15-0.5 4.5-1 15-0.5 6-1 16.5-0.5 6-1zM866 530l-3.5 6-1.5 4.5 0 3 1.5 6 3 9 6 12 10.5 15.5 1.5 1 9 5 8 2.5 0.5 1.5-1.5 4.5 0.5 1.5 3 0.5 13.5 0 6.5-0.5 1-1.5-1-4.5-2.5-4.5 0.5-3 1.5-2 4.5-3.5 1.5-2 6-10.5 0.5-4.5-1-6-0.5-4.5-1-3-12.5-18-11-11-1.5-1-7.5-2-9 0-4.5 1.5-6 0.5z"/>
<path fill="#B0C6FC" d="M936 428.5l-2.5 6-4 4.5-10 7.5-12 7.5-6 7-5.5 9.5-6 16.5-9.5 18-6 8-15 11.5-28.5 14.5-6 4.5-11.5 10-9 17.5-4.5 3-7.5 3-9-3-4.5-2.5-6.5-7-1.5-3-1-4.5-1-1.5-4.5-3-6.5-2-22.5 0-6 1.5-4.5 0-7.5 2-27 14-27 12-24 6-7.5 0.5-4.5 1-7.5 0.5-4.5 1-9 0.5-4.5 1-7.5 0.5-4.5 1-7.5 0.5-4.5 1-9 0.5-4.5 1-7.5 0.5-4.5 1-7.5 0.5-4.5 1-7.5 0.5-9 2-5.5 3-374.5 0-4.5-9.5-15-12-7-7-7-9-7.5-16.5-3.5-16.5 0-18 2-4.5 8-12.5 12-7 12-6 44.5-14.5 18-9 4.5-2.5 16-14 21.5-14 27-13.5 16.5-7.5 30-7.5 7.5-1.5 7.5-0.5 4.5-1 6-0.5 4.5-1 7.5-0.5 4.5-1 7.5-0.5 4.5-1 7.5-0.5 4.5-1 7.5-0.5 4.5-1 7.5-0.5 4.5-1 7.5-0.5 6-1.5 49.5 0 6 1.5 7.5 0.5 6 1 29.5 0 28.5-7 4.5-0.5 13.5-2.5 6-0.5 4.5-1 7.5-0.5 6-1.5 30 0 6 1.5 7.5 0.5 4.5 1 6 0.5 25.5 6 25.5 8 55.5 16 57 17.5 10.5 0 6 1.5 8.5 0 15-7 22.5-6 18-0.5 4.5-1.5 34.5 0 3 0.5 3 1.5 6 4.5 2 3.5z"/>
<path fill="#8C98FC" d="M722 504.5l-1.5 6-1.5 3.5-6 4.5-9 5.5-3 2.5-6.5 8-3 7.5-2.5 4-10.5 7-18 7.5-48 12.5-13.5 1.5-4.5 1.5-6 0-4.5 1-10.5 0.5-4.5 1-12 0.5-6 1-9 0.5-24 6.5-9 5-4.5 1.5-9 0.5-5.5 1.5-19.5 0-6 1.5-100.5 0-6-1.5-12-0.5-4.5-1-12-0.5-4.5-1-4.5-0.5-13.5-6-21-14-21-12-7.5-3-6-0.5-4.5-1.5-3 0.5-4.5 3-18 14-9 6-6 3-16.5 3-13.5 0.5-6 1.5-8.5-0.5-18-7.5-11-14-5.5-11-3.5-8.5-0.5-10.5-1.5-6 0.5-7.5 4-6 6-7.5 2.5-1.5 3-1.5 10.5-2.5 15-4.5 17.5-9 7.5-5.5 6-5 40.5-30.5 12-7.5 18-9 24-10.5 24-6.5 7.5-1.5 6 0 13.5-3 18 0 7.5-1.5 18 0 4.5-1.5 6 0 4.5-1 4.5-0.5 4.5-1 6-0.5 4.5-1 7.5-0.5 6-1.5 28.5 0.5 24 5.5 6 0.5 4 1 9 0 4.5 1.5 15 0 6 1.5 15 0 6-1.5 13.5 0 6-1.5 13.5 0 4.5-1 12-0.5 3 0.5 4.5 1 7.5 0 10.5 3.5 10.5 4.5 21 10.5 19.5 12 11 9.5 6 6 7 10.5 13 28z"/>
<path fill="#6868FC" d="M677.5 487l-0.5 5.5-2.5 7.5-10.5 21-3.5 5-6 7.5-16.5 7.5-6 0.5-4.5 1.5-7.5 0-4.5 1.5-9 0-4.5 1.5-10.5 0-4.5 1.5-10.5 0-4.5 1.5-7.5 0-4.5 1.5-7.5 0-4.5 1.5-12 0-6 1.5-12 0-4.5 1.5-46 0-12 3-4.5 0-9 2-6 2-24 12-24 6-10.5 0.5-6 1.5-9-0.5-22.5-6-3-1.5-42-26-26-13.5-14.5-12-9.5-13.5-2.5-2-3 0-2.5 0.5-3.5 4.5-10.5 20.5-5.5 15.5-4 7.5-4.5 4.5-3 4.5-5 4.5-15.5 8-16.5 0.5-16-8-2.5-2-5.5-7.5-1.5-3-2-9 0.5-6 7-9 4-3.5 4.5-2.5 14.5-5.5 6-3 11.5-11 1.5-3 0-6 1.5-4.5 0.5-5.5 7-9 6.5-6.5 37.5-19 21-12.5 9-4.5 15-6 52.5-11 4.5 0 4.5-1.5 4.5 0 22.5-4.5 9 0 4.5-1.5 10.5 0 6-1.5 13.5 0 6 1.5 10.5 0 9 3.5 9 4.5 13.5 11 18 9 5.5 2 4.5 0 13.5 3 25.5 0 30-8.5 6-0.5 12-3 22.5 0 21 5 24 13.5 15 11.5 3.5 4 5.5 10.5z"/>
<path fill="#0034FF" d="M248 500l0.5-4.5 3-10 1.5-3.5 7-8.5 6-6 18.5-12.5 7.5-3 4.5-1 10.5-3.5 30-5 27-6.5 21-9.5 19.5-6 12-2 3 0.5 9 4.5 9.5 6.5 5.5 5 4.5 3 14 14.5 8.5 10.5 12 6 7.5 2 4 0 6 1.5 21 0 6-1.5 4.5 0 31.5-8 22.5-11 19.5-5 4.5 0 4.5 1.5 6 0.5 15 7.5 12 8.5 7.5 6 2 2.5 5.5 15-1 4-7.5 13.5-11 11.5-6 4-6 3-10.5 0.5-4.5 1.5-25.5 0-7.5-1.5-19.5 0-6 1.5-10.5 0-6 1.5-9 0-13.5 3-6 0-20.5 5-4.5 1.5-4.5 4.5-3 2-25.5 6.5-4.5 0-19.5 4.5-4.5 0-24 6-4.5 0.5-12 3-22.5 6.5-10.5-1-4.5-1.5-4.5 0-6-2-16.5-9-10.5-6.5-39-20.5-13.5-9.5-2.5-3-5-9zM178 532.5l9 2.5 3 2 1 2-2 4.5-3.5 4.5-3 5.5-2.5 11-3 6-2 2-3 1-3-1-1.5-1.5-3-6.5-3.5-10.5 0-10.5 2.5-5 5.5-5.5 3-0.5z"/>
<path fill="#0014DC" d="M454.5 484l-2 4.5-9.5 14.5-4.5 9-2.5 9-1.5 2-10.5 5-4.5 0-4.5 1.5-7.5 0-9 2-5 1.5-16 8-7.5 2-10.5 1.5-4.5 0-16.5-3.5-16.5-6-9-4.5-12.5-8-19-14-6.5-7-5.5-7.5-0.5-2.5 0.5-7.5 4.5-5.5 3-2.5 15-7.5 7.5-2 4.5 0 6-1.5 12 1.5 4.5 1.5 3 0 13.5-3.5 3.5-1.5 7-5.5 5.5-5 30.5-15.5 13.5-3.5 4.5 0 10.5 2.5 16.5 12.5 5 7 6 6 5.5 7.5 2 6 0 4.5zM614 467.5l3 1 9 4.5 13.5 7.5 1 2-0.5 1.5-7.5 8.5-10 10.5-4.5 6-2.5 2-1.5 0.5-1.5-0.5-3.5-3.5-4.5-6-10.5-10-6-7.5-0.5-1.5 1-2 13.5-7.5 9-4.5z"/>
<path fill="#0000B8" d="M418 485.5l0.5 8.5 1.5 4.5 0 7.5-3.5 10.5-1.5 3-9 5-9 2-4.5 0-4.5-1.5-3 0.5-6 3-3.5 6-2.5 2.5-4.5 2.5-9 1.5-6 0-7.5-1.5-10.5-4.5-31.5-19.5-1.5-2-3-6 0-1.5 1.5-2 9-5.5 12-3.5 9 0 6-1.5 10.5 0 10.5-3.5 3-3 1-4.5 1.5-3 6.5-8.5 3-2.5 7.5-4.5 7.5-3.5 9 0 3 0.5 7.5 5.5 4.5 5.5z"/>
<path d="M63.6 599.3L70.3 595.1L80.3 588.5L86.9 580.1L91.1 570.1L91.1 558.5L88.6 546.8L83.6 536.9L77.0 526.9L68.6 516.9L62.0 506.9L57.0 496.9L55.3 488.6L58.6 480.3L65.3 472.0L73.6 464.5L81.9 458.6L88.6 459.5L93.6 463.6L96.9 468.6L98.6 473.6L101.1 477.8L99.9 472.0L100.3 464.5L106.9 462.0L116.9 457.0L130.2 452.0L133.5 447.0L136.9 449.5L146.8 446.2L158.5 440.3L170.1 432.0L180.1 422.0L188.5 410.4L193.4 400.4L192.8 407.1L200.3 394.5L208.6 381.1L214.5 366.2L212.0 361.2L202.0 357.8L207.0 351.2L212.8 344.5L210.3 337.9L208.6 329.5L203.7 319.6L198.7 309.6L191.2 301.3L192.0 294.6L200.3 286.3L208.6 278.0L218.6 273.8L217.0 270.5L207.0 270.5L197.0 271.3L188.7 273.0L185.3 268.0L182.9 263.0L175.4 259.7L172.0 254.7L175.4 250.5L183.7 248.0L192.0 241.3L200.3 233.9L208.6 229.7L215.3 231.4L217.0 236.4L212.0 242.2L212.8 246.3L220.3 248.8L230.3 246.3L240.3 243.8L246.9 245.5L250.3 251.3L248.6 256.3L245.3 259.7L250.3 263.0L258.6 267.1L261.9 273.0L260.2 278.0L261.1 286.3L260.2 294.6L258.6 301.3L261.1 306.3L266.9 304.6L275.2 299.6L283.5 295.4L287.7 288.8L288.2 279.6L285.2 271.3L281.9 263.0L276.9 254.7L272.7 248.0L270.2 244.7L273.5 239.7L281.9 234.7L288.5 228.0L291.9 221.4L293.5 214.7L300.2 208.9L306.8 206.4L300.4 207.6L311.4 202.1L324.1 205.8L336.9 200.3L349.7 187.5L362.5 172.9L373.5 160.1L382.6 149.2L391.7 138.2L397.2 125.4L399.9 112.6L402.7 101.7L406.3 94.4L407.2 85.2L402.7 79.8L395.4 72.5L389.9 69.7L382.6 70.6L377.1 76.1L369.8 76.1L364.3 71.5L360.7 65.2L353.4 63.3L347.0 60.6L353.4 56.0L364.3 49.6L373.5 41.4L384.4 32.3L397.2 23.1L410.0 14.0L424.6 7.6L439.2 5.8L455.7 6.7L473.9 6.7L484.9 3.1L494.0 4.0L505.0 6.7L510.4 11.3L523.2 8.5L536.0 6.7L539.7 4.9L536.0 0.3L545.1 -4.3M0.4 558.5L7.1 559.3L17.0 566.8L25.4 576.8L33.7 586.8L40.3 595.1L48.7 599.3L50.3 602.6M84.4 491.1L86.9 484.4L93.6 480.3L101.9 479.4L106.1 482.8L105.2 490.3L100.3 497.8L92.8 501.9L86.9 499.4L84.4 491.1M199.3 447.0L200.1 437.0L204.3 425.4L210.1 417.0L214.2 417.9L213.4 428.7L210.9 440.3L206.8 450.3L202.6 453.7L199.3 447.0M201.8 498.6L208.4 496.9L216.7 500.3L218.4 508.6L220.1 516.9L216.7 525.2L213.4 533.5L215.1 543.5L213.4 551.8L208.4 556.8L204.3 557.7L202.6 550.2L199.3 545.2L196.8 538.5L195.1 530.2L198.4 525.2L200.1 516.9L200.9 506.9L201.8 498.6M201.8 560.2L205.9 558.5L210.1 566.8L208.4 573.5L204.3 568.5L201.8 560.2M216.7 553.5L221.7 548.5L226.7 553.5L231.7 558.5L233.4 563.5L228.4 560.2L223.4 556.8L218.4 556.8L216.7 553.5M240.0 571.8L246.7 570.1L250.0 576.8L248.4 585.1L250.0 591.8L245.0 596.8L241.7 588.5L243.4 580.1L240.0 571.8M216.7 581.8L221.7 583.5L225.1 590.1L226.7 598.4L221.7 598.4L218.4 590.1L216.7 581.8M183.5 600.1L188.5 591.8L191.8 598.4M233.4 599.3L236.7 595.1L240.0 600.1M257.4 318.7L259.4 316.7L261.4 318.7L259.4 320.7L257.4 318.7M291.0 321.2L295.2 317.1L301.8 314.6L304.3 316.2L301.8 321.2L303.5 326.2L308.5 322.9L311.0 326.2L310.2 334.5L307.7 341.2L304.3 344.5L300.2 342.0L296.8 338.7L297.7 332.9L300.2 329.5L296.8 326.2L293.5 325.4L291.0 321.2M304.3 310.4L310.2 306.3L318.5 301.3L326.8 297.1L336.8 292.9L346.8 291.3L355.1 286.3L360.1 279.6L365.1 278.0L371.7 273.0L380.1 268.0L386.7 259.7L390.0 249.7L393.4 239.7L394.2 231.4L397.5 226.4L403.4 228.9L410.0 234.7L412.5 243.0L410.0 253.0L405.0 259.7L401.7 268.0L400.0 278.0L399.2 286.3L400.0 291.3L395.0 296.3L392.5 292.1L388.4 296.3L383.4 298.8L378.4 299.6L371.7 302.9L365.1 302.1L360.1 306.3L356.8 312.9L351.8 317.9L348.4 314.6L349.3 307.9L346.8 304.6L340.1 304.6L333.5 306.3L326.8 306.3L321.8 309.6L316.8 308.7L310.2 312.1L304.3 310.4M320.1 319.6L323.5 312.9L330.1 310.4L336.8 308.7L339.3 312.9L335.1 317.1L328.5 319.6L325.1 324.6L321.0 325.4L320.1 319.6M396.7 222.2L392.5 213.0L391.7 206.4L395.4 204.0L404.5 198.5L408.2 185.7L410.0 175.7L415.5 177.5L421.0 183.9L430.0 191.2L441.0 193.0L445.6 198.5L441.0 204.0L431.9 207.6L424.6 213.1L417.3 209.4L410.0 211.3L402.7 214.0L400.0 219.7L396.7 222.2M410.0 79.8L417.3 77.0L422.8 75.2L425.5 81.6L426.4 94.4L430.1 107.2L433.7 119.9L434.6 127.3L428.3 130.0L422.8 134.6L419.1 143.7L421.9 152.8L424.6 158.3L417.3 162.0L414.6 165.6L411.8 160.1L412.7 145.5L413.6 130.9L412.7 116.3L410.0 101.7L408.2 88.9L410.0 79.8M366.5 60.6L369.8 57.3L373.1 60.6L369.8 63.9L366.5 60.6M609.1 -4.3L605.4 1.2L596.3 6.7L583.5 14.0L570.7 21.3L559.8 28.6L550.6 37.8L546.1 48.7L546.1 57.8L548.8 68.8L552.5 81.6L554.3 92.6L557.9 107.2L563.4 103.5L568.9 96.2L574.4 88.9L581.7 81.6L589.0 76.1L592.6 68.8L601.8 65.2L610.9 61.5L609.1 54.2L614.6 46.9L621.9 43.2L618.2 35.9L620.0 28.6L614.6 23.1L616.4 15.8L621.9 8.5L625.5 1.2L629.2 -4.3M938.8 66.2L944.0 62.0L948.8 61.2L944.0 65.0L938.8 66.2M956.3 58.7L966.3 53.7L978.8 51.2L972.0 56.0L962.0 59.0L956.3 58.7M962.0 5.0L966.0 8.0L978.8 15.0L982.5 10.0L990.0 12.0M905.0 2.0L915.0 5.0L925.0 2.0M700.0 3.0L712.0 6.0L722.0 3.0M633.0 2.0L640.0 7.0L652.0 5.0L660.0 2.0" fill="none" stroke="#fff" stroke-width="3.0" stroke-linejoin="round" stroke-linecap="round"/>
</svg>
<path d="M132 897.6v-10M132 1498.4v10M132 897.6h-10.5M1116 897.6h9.5M328.8 897.6v-10M328.8 1498.4v10M132 1017.8h-10.5M1116 1017.8h9.5M525.6 897.6v-10M525.6 1498.4v10M132 1137.9h-10.5M1116 1137.9h9.5M722.4 897.6v-10M722.4 1498.4v10M132 1258.1h-10.5M1116 1258.1h9.5M919.2 897.6v-10M919.2 1498.4v10M132 1378.2h-10.5M1116 1378.2h9.5M1116 897.6v-10M1116 1498.4v10M132 1498.4h-10.5M1116 1498.4h9.5" stroke="#000" stroke-width="4.2" fill="none"/>
<rect x="132" y="897.6" width="984" height="600.8" fill="none" stroke="#000" stroke-width="4.2"/>
<text x="132.5" y="1563" text-anchor="middle" font-size="48">100<tspan dy="-23.5" font-size="34.5">o</tspan><tspan dy="23.5">E</tspan></text>
<text x="329.3" y="1563" text-anchor="middle" font-size="48">120<tspan dy="-23.5" font-size="34.5">o</tspan><tspan dy="23.5">E</tspan></text>
<text x="526.1" y="1563" text-anchor="middle" font-size="48">140<tspan dy="-23.5" font-size="34.5">o</tspan><tspan dy="23.5">E</tspan></text>
<text x="722.9" y="1563" text-anchor="middle" font-size="48">160<tspan dy="-23.5" font-size="34.5">o</tspan><tspan dy="23.5">E</tspan></text>
<text x="919.7" y="1563" text-anchor="middle" font-size="48">180<tspan dy="-23.5" font-size="34.5">o</tspan><tspan dy="23.5">W</tspan></text>
<text x="1116.5" y="1563" text-anchor="middle" font-size="48">160<tspan dy="-23.5" font-size="34.5">o</tspan><tspan dy="23.5">W</tspan></text>
<text x="108.8" y="920.2" text-anchor="end" font-size="48">60<tspan dy="-23.5" font-size="34.5">o</tspan><tspan dy="23.5">N</tspan></text>
<text x="108.8" y="1040.4" text-anchor="end" font-size="48">50<tspan dy="-23.5" font-size="34.5">o</tspan><tspan dy="23.5">N</tspan></text>
<text x="108.8" y="1160.5" text-anchor="end" font-size="48">40<tspan dy="-23.5" font-size="34.5">o</tspan><tspan dy="23.5">N</tspan></text>
<text x="108.8" y="1280.7" text-anchor="end" font-size="48">30<tspan dy="-23.5" font-size="34.5">o</tspan><tspan dy="23.5">N</tspan></text>
<text x="108.8" y="1400.8" text-anchor="end" font-size="48">20<tspan dy="-23.5" font-size="34.5">o</tspan><tspan dy="23.5">N</tspan></text>
<text x="108.8" y="1521" text-anchor="end" font-size="48">10<tspan dy="-23.5" font-size="34.5">o</tspan><tspan dy="23.5">N</tspan></text>
<rect x="1168.2" y="1452.2" width="38.4" height="36.9" fill="#0000B8"/>
<rect x="1168.2" y="1415.9" width="38.4" height="36.9" fill="#0014DC"/>
<rect x="1168.2" y="1379.6" width="38.4" height="36.9" fill="#0034FF"/>
<rect x="1168.2" y="1343.4" width="38.4" height="36.9" fill="#6868FC"/>
<rect x="1168.2" y="1307.1" width="38.4" height="36.9" fill="#8C98FC"/>
<rect x="1168.2" y="1270.8" width="38.4" height="36.9" fill="#B0C6FC"/>
<rect x="1168.2" y="1234.5" width="38.4" height="36.9" fill="#D6E0FA"/>
<rect x="1168.2" y="1198.2" width="38.4" height="36.9" fill="#F8F8F8"/>
<rect x="1168.2" y="1161.9" width="38.4" height="36.9" fill="#FFE8CA"/>
<rect x="1168.2" y="1125.6" width="38.4" height="36.9" fill="#FFCC9E"/>
<rect x="1168.2" y="1089.3" width="38.4" height="36.9" fill="#FF9472"/>
<rect x="1168.2" y="1053.1" width="38.4" height="36.9" fill="#FF5040"/>
<rect x="1168.2" y="1016.8" width="38.4" height="36.9" fill="#FF0000"/>
<rect x="1168.2" y="980.5" width="38.4" height="36.9" fill="#D40000"/>
<rect x="1168.2" y="944.2" width="38.4" height="36.9" fill="#AC0000"/>
<rect x="1168.2" y="907.9" width="38.4" height="36.9" fill="#800000"/>
<text x="1218.5" y="923.5" font-size="44">16</text>
<text x="1218.5" y="996.1" font-size="44">12</text>
<text x="1218.5" y="1068.7" font-size="44">8</text>
<text x="1218.5" y="1141.2" font-size="44">4</text>
<text x="1218.5" y="1213.8" font-size="44">0</text>
<text x="1218.5" y="1286.4" font-size="44">-4</text>
<text x="1218.5" y="1359" font-size="44">-8</text>
<text x="1218.5" y="1431.5" font-size="44">-12</text>
<text x="1218.5" y="1504.1" font-size="44">-16</text>
<path d="M1168.7 980.8h6M1206.1 980.8h-6M1168.7 1053.4h6M1206.1 1053.4h-6M1168.7 1125.9h6M1206.1 1125.9h-6M1168.7 1198.5h6M1206.1 1198.5h-6M1168.7 1271.1h6M1206.1 1271.1h-6M1168.7 1343.7h6M1206.1 1343.7h-6M1168.7 1416.2h6M1206.1 1416.2h-6" stroke="#000" stroke-width="2.2" fill="none"/>
<rect x="1168.3" y="908.2" width="38.2" height="580.6" fill="none" stroke="#000" stroke-width="2.1"/>
<text x="82" y="856.7" font-size="52">C</text>
<text x="669.7" y="854.7" font-size="51.6" text-anchor="middle" style="white-space:pre">Outgoing longwave radiation  anomaly</text>
<svg x="1349.6" y="897.6" width="984" height="600.8" viewBox="0 0 984 600.8" overflow="hidden">
<rect width="984" height="600.8" fill="#F8F8F8"/>
<path fill="#FFE8CA" d="M0 0l176.5 0-1.5 1.5-1.5 4-1.5 1.5-4.5 0.5-14.5 7-3.5 0.5-4.5 3-7 1.5-13.5 2-10.5 5.5-3-0.5-4.5-1.5-1.5 0-9 5.5-10.5-3-10.5 0.5-6-1-4.5 3-6-0.5-7.5 1-3 2-6 2.5-6.5 5.5-4 4-7.5 1.5-3.5 2-1.5 1.5-0.5 1.5 0.5 3-1 1.5-5.5 7.5 0.5 1.5 2 1.5 1.5 0.5 4.5-0.5 1.5-1.5 0.5-1.5-0.5-4.5 6-4 3-6 1.5-0.5 3 3.5 4.5 1.5 3 2 4.5 0.5 4.5 4 4.5-2 6 0 4.5 5 4.5 1.5 1 2 2 1 13.5 4 9-1 6 2 9 2 17.5 5.5 8-1.5 1.5 1 3 3 3 1.5 4.5-1 9-0.5 5.5 0.5 5.5 0 5 2.5 6-1 12 1.5 4.5 1 4.5-1.5 4.5 0 1.5 0.5 2.5 3 2.5 4.5 0 4.5 1 1.5 3 1.5 1 1.5 1.5 15 4.5 10.5-0.5 3-3.5 2.5-3 2-4 4.5-11 7.5-7.5 8-12 7.5-6 2.5-12-3-4 1.5-7.5 1.5-7.5-1.5-4.5 1-9-3-5 0.5-4 1.5-1.5-0.5-7.5-3-7.5-6-4.5-1-7.5 2-6-1.5-9 2-4.5 0.5-1.5 1-3 3.5-1.5 0.5-1.5 0-4.5-2-7.5 0.5-6-1.5-3 1-4.5 3.5-3 0.5-4.5 2-4.5-2-3 1.5-1.5 0-3-1.5-4.5-4-1.5-0.5-4.5 0.5-4.5-2-7.5 2zM7.5 120.5l-1.5 1-1 4.5 2.5 3 1.5 1 1.5-0.5 3-4 2.5-1 0.5-1.5-1.5-1.5-3 0.5zM178.5 0l10.5 0-0.5 2-1.5 1-4.5-0.5zM200.5 0.5l1.5-0.5 2 1.5 0 1.5-2 0-1.5-1.5zM279 0l270 0 2 0.5 3.5-0.5 431 0 0 119.5-3 0.5-4.5 0-4.5-2.5-7.5-0.5-3-1-5-0.5-4-3-4.5-0.5-3 0.5-3 2-4.5-1.5-3 0.5-4.5 3.5-4.5 1-4 5-8 1-3-0.5-4.5-3.5-4.5-1.5-6 2-6-2-4.5 2.5-9 1.5-1.5-0.5-6-3.5-1.5 0-4.5 3.5-3 1.5-3-0.5-4.5-2-10.5-2.5-3 1-1.5 2-1.5 3-1.5 1-4.5-3-3 0-4.5 1.5-1.5 0-8.5-3.5-12 2-7.5-2-6-2.5-6 2-1.5-0.5-4.5-4-3-0.5-4.5 3.5-4.5 1.5-7.5 5-7.5 3.5-7.5 0-4.5 2.5-7.5 2-6-1.5-6 0.5-3-2-1.5 0-3 1.5-6 5.5-3 1-4.5 0.5-6 3.5-6-0.5-4.5-2.5-1.5 0.5-1.5 1.5-4.5 1-1.5 1-2 2.5-2.5 5-5 2.5-10 9.5-7.5 0.5-1.5-0.5-2-6.5 1.5-4.5 0-3-2.5-2.5-6 0-9 4-6-1-1.5 0-12.5 7-7.5 1.5-4 2-1.5 0-4-3.5-2-1-9 2-9 3.5-9 1.5-4.5 3-18 4.5-2 1-2 3-2 1-6-0.5-6 1-4.5-2.5-1.5 1 0 4.5-4.5 7-12 5.5-7 1.5-7.5 1.5-4.5 2-2.5 2-4 6-8.5 6-3-0.5-4.5-2-1.5 0.5-4.5 3.5-10.5 2.5-6 2.5-3 0-3-1.5-3 0-4.5 0.5-4.5 2-16.5 2-6.5 2.5-4 3.5-1.5-1-1-2.5 1-1.5 3-0.5 0.5-4-0.5-2-2-2.5-8.5-3-7.5 1.5-6 0-3-2-7.5-1-7.5-5-3-0.5-3 1-4-1.5-2.5-1.5 0-1.5 6.5-4.5 4.5-5.5 1.5-5-1-3-4-3-0.5-3 0.5-4.5-4-11.5-4.5-8-9.5-8.5-2-6-4-3-2.5-4.5-9.5-10.5-3.5-9-3.5-4.5-4.5-13.5-1.5-0.5-3 1-1.5-0.5-3-6.5-1.5-5.5-3-2 0-5.5 1.5-6-0.5-4.5-1.5-4.5 1.5-6-1.5-9 0.5-4.5 0-12 2-13.5-3-6zM394 150l-3 1-3.5 3.5 0 1.5 1.5 4.5 6.5 10 1.5 0 3.5-4.5 1-4-3.5-4.5 0.5-6.5-1.5-1zM439.5 172l0 1.5 1 1 1.5 0 0-3zM513.5 57l-1 1.5-2 7.5 0 2 1.5 1 3-1 2-3.5-0.5-6zM521.5 123l-2 0-1 1.5-0.5 1.5 0 1 1.5 0.5 2.5-1.5 0.5-1.5zM542 61l-1.5 0.5-1.5 3 2.5-1.5zM669 88.5l-0.5-1.5-3.5-1.5-7.5-0.5-7.5 3-4.5 0.5-1.5-0.5-3-3-1.5 0-7.5 2-7.5 1-7.5-5.5-4.5-0.5-2 0.5-0.5 1.5-1.5 6-0.5 1.5-1.5 1-4.5 1-3 1-1.5 0 0-1.5 3-3 6-9 1-10.5-1.5-3-2.5-2-6 1-10.5 5.5-9 3.5-6 5.5-0.5 1.5-0.5 3 1 10.5 1.5 2 6.5 4 1.5 1.5 0 1.5-2 1.5-4.5 1-4.5 3.5-6.5 1.5-4 1.5-3 3-1.5 3 0 4.5 4.5 4 2.5 5 8 1.5 7.5 0.5 3 2.5 1.5 2 1.5 0.5 0.5-1 1.5-1.5 15.5-9 3.5-3 1-3-2-3-0.5-3 0-2 1.5-2 7.5 0.5 1.5 2 0.5 4.5 1 1.5 4.5 0.5 6.5-2 10-6 6-2.5 9-2 6-4 4.5-5zM628.5 58.5l0 1.5 0.5 0.5 2.5-0.5 0-1.5-1-0.5-1.5 0zM660 15l1.5 1.5 5 1.5 1-1.5-1-3-1.5-1-1.5 0zM670.5 18l-0.5 1.5 5 3 3.5 0.5 1.5-0.5 0.5-1.5-3.5-6.5-3 0.5zM708.5 86l-1.5 0-1 1 0 1.5 1 1 1.5 0 0.5-1 0-1.5zM768.5 22.5l-1 1.5-0.5 3 0.5 1.5 4 3 1.5-2 1-4zM804.5 60.5l-1.5 1 1.5 2.5 1.5-1 0-2zM846 86.5l-10.5 1.5-5.5 2-5 4.5-1 3 1 4.5 1.5 3 4.5 3.5 3 5.5 7.5 2.5 1.5 0 3-3.5 4.5-3 1.5-2 0-4.5 1.5-3-0.5-6-1-3-3-3zM928.5 52.5l0 1.5 1.5 0.5 3 2.5 1-1.5-1-1zM952.5 103l-1.5 2 1.5 1.5 0.5 0 0.5-1.5zM511.5 129l2 0.5 2-0.5-2-1.5-1.5 0.5zM184 21l2 0 1 1.5 0 1.5-1.5 0.5-1-0.5-1-1.5zM613 103.5l0.5 1.5-1 2.5-1.5 1-2-0.5-0.5-1.5 0.5-1.5 2-1.5zM975 132l6.5 4.5 0 4.5 2.5 1 0.5 2-1 3-1 1-1.5 0.5-3-0.5-1-1-1-3-3.5-3 0-1.5zM969 153.5l1.5 0 7 4-0.5 1.5-3.5 4.5-1.5 1-1.5 0-1.5-1.5-4-5.5 1-2.5zM199 169l3 0 1.5 1.5 0 1.5-1 1.5-2 0-1.5-1.5-0.5-1.5zM593 184l3.5-9 1-1.5 3-2 7.5-0.5 4.5 0.5 3 1.5 3 3.5-0.5 4.5-1 3-1.5 1.5-6 3-12 2-3-2zM193 177.5l1.5 0 2 2-0.5 2-1.5 0.5-1-1-0.5-1.5zM28.5 185l2 0.5 2.5 4.5 0 6-0.5 1.5-1 0.5-4.5-3.5-0.5-1.5-0.5-4.5 1-2zM93 196l0.5-1.5 4-2 2.5 0.5 0.5 1.5-4.5 3-1.5 0zM946.5 198l1.5 4 3.5 4.5-0.5 2.5-3 2-6 1.5-3 1.5-1.5 0.5-2-0.5-1-1.5-0.5-4.5 1.5-3 2-1.5 4.5-0.5 2-1 1-3.5zM0 452l0-76 1.5 0 1.5-1 2-2-0.5-2-1.5-0.5-1.5 1-1.5 4.5 0-13 1-2 0-1.5-1-0.5 0-61 1.5 0 0.5-1.5-0.5-1.5-1.5-1.5 0-33 5 3 1 4.5 1.5 2 3 1.5 4.5 1 4.5 2.5 3 0 6-3.5 6-1 3-1 0.5 0 2.5 3.5 1 4-1 3-3 3-0.5 3 0.5 1.5 1.5 1.5 3 0.5 3 3 1.5 0.5 6-2 1.5 1 1.5 0 3-1.5 0-1.5-2.5-3-1.5-4.5-5-1-1.5-2 0-1.5 1.5-1.5 4.5-2 1.5 0 3 3 6 1.5 6-3 6-1 6 0.5 4.5-2.5 1.5 0 4.5 1.5 1.5-0.5 5-3.5 8-7.5 1-1.5 1.5-12-2-6.5-8.5-4-1.5-1.5-0.5-3-6-3.5-15 0-3 0.5-4.5 1.5-12-5-9-0.5-3-1.5-4.5-0.5-4.5-2.5-9 0.5-6-0.5-6-3-3 1-4 3-0.5 1.5 1 4.5-0.5 1.5-5 1.5-3 2 0-28 3 2 6-2 6 1 6-3 9-1.5 4.5 1.5 3 0 1.5 0.5 1.5 3 1.5 2 4.5 0.5 7.5-3.5 9-2 3-0.5 4.5 2.5 3 5 1.5 1 9 0.5 4.5 1.5 9 1.5 3 1 4.5 4.5 0 5 3 1 4.5-1.5 0-3 8-4.5 4-7 1.5-1.5 4.5 2 6 1 10.5 3 3-1.5 3-2.5 4.5-0.5 11.5-1.5 12 4.5 3 2.5 7.5-1 4.5-1.5 4.5 2 4.5-1 6 2.5 6-0.5 4.5-3.5 4.5-0.5 13.5 2.5 2 1 4 4 3 0 4-1 2 0.5 9 4.5 6 0 1.5 0.5 4.5 5 5.5 3 0.5 1.5-0.5 7.5 0.5 2 2 2.5 0 4.5 0.5 1.5 2 2 6 0 3 0.5 2.5 3.5-0.5 1.5-5 4-6 1-6-0.5-2.5 1.5-2 3.5-3 1-4.5 0-1.5 1-3 4-11.5 7-4.5 4.5-5 3-4.5 3.5-3 1.5-6 0.5-1.5-1 0-3 1-4.5-1-2.5-1.5-0.5-4.5 1.5-1.5 1.5 1 4.5-1 3-2.5 1.5-5 1-4.5-0.5-4.5 1-7.5-3.5-4.5-3-6-1.5-6-0.5-4.5 1-4.5-1-8.5-1-15 3.5-7.5 2.5-7.5 0-9-1.5-1.5 0-6 2.5-4.5-0.5-4.5 0.5-7.5 2.5-6 4.5-3 0.5-6 3.5-10.5 0-6 2-9 0-2.5 1.5-2 0.5-2.5-2-3.5-7-1.5-1.5-1.5-0.5-6 0-6-2-1.5 0-4.5 2 0.5 1.5 1.5 1.5 1 3-2 4.5-0.5 4.5 1 2 3 2 10.5 3 0.5 0.5 0.5 3 2 4 0 5-5.5 9-2.5 1.5-0.5 1.5-0.5 3-1 3-5 5.5-4.5-0.5-4.5-1-1.5 0-1.5 1.5-1.5 0-1.5-1 0-1.5 3-1.5-3-5.5-1.5-0.5-1.5 6.5-4.5-1.5-3 1-1 1.5-0.5 3 4.5 6 6-2 4.5 1 4.5-0.5 3.5 1.5 0 1.5-6.5 3-1 1.5-1 3-4 6.5-3 2.5-4.5 7.5 0 3 1.5 4.5 0 4.5-3.5 6 6 12 0.5 4.5 3.5 9 1 7.5 5 3 0.5 1.5-1 1-6-1-4.5 1-4.5 2zM240 277l-2 0.5-3.5 2.5-1.5 1.5-0.5 1.5 2.5 0.5 1.5-0.5 3-4.5zM21 329.5l-4 3-1 1.5 0 1.5 1.5 1.5 3.5 1.5 1.5-0.5 1-2.5-1-4.5zM28.5 321l-1.5-0.5-3 0.5-3.5 2.5-0.5 1.5 2.5 2 6-0.5 1-1.5zM282.5 233.5l2-3 1.5 0 4.5 1.5-1.5 1.5-4.5 1.5zM40.5 259l1.5 0 1.5 1.5 0.5 1.5 0 3-0.5 1.5-1.5 1-1.5-0.5-0.5-0.5-1.5-4.5 0.5-2zM896 289l2.5-1.5 1.5 0.5 4.5 2.5 0 1-1.5 1-5.5-0.5-1.5-1.5zM859 298l2 0.5 0.5 1-0.5 1.5-1.5 0.5-1.5-1.5zM40 307l0.5-1.5 3-2.5 2 1 0.5 1.5-1 1.5-1.5 1-1.5 0zM985.5 380.5l0 161-7.5-3-9-2.5-1.5 1-1.5 3-1 0.5-5 0.5-2 1-1 1.5-0.5 3 1 3 4.5 3 2 10.5 1 1.5 11.5 5 3-1.5 3-2 3-0.5 0 38-723.5 0 1-9-1-6-2-4.5-2.5-3-4.5-3.5-4.5-1.5-6-1-7-4.5-1-1.5 0-3-1-2-6-5.5-1.5-3 0-1.5 1.5-3-1.5-4.5 0.5-4.5-2-2.5-3-3-1.5 0.5-1 8 0.5 4.5-2 4.5-0.5 3-0.5 16.5 0.5 6-1 13.5 0.5 10.5-119.5 0 0.5-1.5-1-3-4.5-3 1-6-1.5-9-2.5-6-2-1-6.5 1-6 6-2.5 9 0 6 4 4.5 0 1.5-2 1.5-72.5 0 1.5-1.5 0-1.5-3-1.5 0-17.5 3 0 3-1.5 4.5-0.5 1.5-1.5 0.5-1.5-0.5-2-3-1-4.5 2.5-1.5 0.5-3-0.5 0-101.5 3 0.5 4.5-2.5 1 1 1 4.5-1.5 4.5 1 1 1.5 0.5 3-1 6 3 3 0.5 10.5-3.5 3-3 3-2 3-4.5 7.5-4 4.5 0 4.5-3.5 12-1.5 6 2 3 2 3 1 1.5-1 3.5-5.5 1.5-3 4-0.5 0 0.5-1.5 1-1 2 0.5 4.5-0.5 1.5-4 3-0.5 1.5 5.5 18 1.5 1 3 0.5 2-1.5-1.5-4.5 0.5-4.5-1-3 0.5-1.5 8.5-3.5 7.5 2 3 2 1.5-1 4-4 0-1.5-1.5-1.5-6.5-4.5-0.5-3 0.5-1.5 7-3 6 1 12-1.5 10.5 1 4.5-0.5 1.5-2 4-7 2-2 7-4 9 0.5 4.5-1.5 6-6 7.5-8.5 4.5-3 6-1.5 2.5-2.5 1-6 4.5-4.5 2.5-4.5 6-3 2.5-6 3-3 6.5-3.5 2-2.5 4-2 4.5-4.5 4.5-1 4.5-2 6-1 4.5-2.5 4.5-1 3-1.5 6-4.5 9-1.5 11.5-5.5 5-1 3-1.5 6 1 1.5 4.5 4-4.5 3.5-1 12 1.5 13.5-2.5 4 0.5 5 2 12.5-8 7-1 6-2.5 7.5 0.5 4.5 1 7.5-1 22.5 1 7.5-1.5 6 1 4.5-1.5 7.5-1 7.5-3 6 0 6-3 9-2 3-1.5 3-3 9-4.5 10-0.5 4.5-1.5 9-2 2.5 0.5 0.5 1.5-0.5 4.5-1 0.5-1.5 0.5-4.5-1.5-4.5 3-7.5 2-7 4.5-6 2-3.5 2.5 0 1.5 0.5 3 3 4 5 3.5 2 4 7.5 2.5 3 1 4.5 0 6-3.5 4.5-1 7.5 2 9 0 10.5-4 4.5-0.5 6 1 6-2 4.5 0 4.5-1.5 6 1 4.5-2.5 4.5 0 9-2 1.5 0 3 2 3 0 7.5-4 16.5-3 3-1.5 4.5-6 6-2.5 1.5-1.5 2.5-5 0.5-6 1.5-1.5 7.5-2 6-3.5 6-1.5 22.5-9 12-1 13.5 2.5 4.5 3 4.5 1 7 3 3.5 3.5 4.5 0.5 7.5 2 9.5 6 11.5 11 4.5 1 6 3.5 9-1.5 0.5 1 0.5 6 2 2.5 7.5 3 4.5 4.5 7 0.5 11 6 13-0.5 2 0.5 3.5 3 5 0.5 4.5 2 3 1.5 6 0 4.5 1.5 3 2 4.5 0 4.5 1.5 3-0.5 6-2 10.5 0.5 9-2 4.5 0 5-2 4-0.5 10.5 1 7.5-0.5 6 0.5 3-0.5 6 2.5 6 1.5 9 1.5 3-0.5 4.5 1.5 12 0zM810.5 529l-4 1-1.5 1.5-1.5 7.5 2.5 4.5 4.5 2 1.5 0 5-3.5 0.5-1.5-4-10.5zM832.5 525l-1.5-0.5-1.5 0-3 2-3 0-2 0.5-1 7.5 1 1.5 3 0 3.5-5 3-0.5 1.5-1 1-2.5zM841.5 533.5l-1 1 1 3.5 1.5-0.5 0.5-1.5-0.5-1.5zM866 534.5l0 1.5 1 1.5 4.5-0.5 3 1.5 2.5 2 3.5 5.5 1.5 1 4.5 0 1.5 1 2.5 3 2 1 6 0 6-1.5 6 1.5 9-6.5 1-2 0-3-5-12-3.5-2.5-6 0-6-1-9 0.5-4.5-0.5-12 7-3 1-4.5 0zM922.5 438.5l-6 0.5-3 2.5-1 2 0.5 3 3 3 1 3 2.5 1.5 3-0.5 4-2.5 1.5-1.5 1-3-0.5-3-1.5-2.5-1.5-1.5zM936 441.5l-1 2 0 1.5 1 0.5 1.5 0 0.5-2zM961.5 467.5l-1 1.5 1 2 1.5-0.5 0.5-1.5zM6 549.5l0.5 1.5 5.5 1.5 1.5-0.5 0.5-2.5-0.5-1.5-3-0.5-3 0.5zM19.5 552l-1.5 0-3 0.5-1.5 1.5-0.5 3 0.5 2 2-0.5 4.5-4.5zM30 552.5l-2 3-4 1-1 2 1.5 4.5 0 3 1 1 1.5-0.5 2.5-6.5 0-3 1-3zM34.5 562l-1 1 1 2 1.5-0.5 0.5-1.5zM43.5 571.5l-2.5 0.5-1 1.5 0.5 2.5 1.5 2 1.5-0.5 2.5-2.5 0-1.5zM97.5 515l-3 1.5-1.5 1.5 0.5 4.5 2.5 1.5 1.5-0.5 2-5.5-0.5-2.5zM356.5 363l-0.5 2.5 2 4 3 2.5 1.5-0.5 2.5-3 0.5-1.5-0.5-1.5-4-3-3-0.5zM41.5 584l0 1.5 2 2 3 6 1.5 0 5.5-5-1-1-3 0.5-3.5-1-2.5-3-1.5-0.5zM803.5 316l1-1.5 6-1.5 3 1.5 0 1.5-1.5 2.5-6.5-1zM896.5 319l1-1.5 2.5-1 6 2 0.5 2-2 2-4.5 0.5-1.5-1zM890 340l1-0.5 1.5 0 1 2-2.5 0zM22.5 454l1.5-3 1.5 0 3 0.5 1 1 0 1.5-1 2-1.5 1-3-0.5-1.5-1zM100 460l0.5-2 1.5-1 7.5 1 1.5 2-1.5 0.5-3-0.5-3 2-1.5 0-1.5-0.5zM78.5 602l4-1 1.5 1 1 1.5-6 0z"/>
<path fill="#FFCC9E" d="M527.5 0l7.5 15-0.5 2-3.5 4-2.5 4-3 2.5-10.5 2.5-7.5 5.5-4.5-0.5-4.5 3-11.5 3-1.5 1-1.5 6-3 4.5 0 1.5 6.5 3 1 1.5-1.5 0.5-0.5 2.5 1.5 1.5 3.5 1.5 5.5 7.5 1.5 4.5-0.5 3-2.5 3.5-1 5.5-4.5 3-1 1.5 0 4.5-1 1.5-1.5 1.5-2.5 0-6-1.5-5.5-3-9.5-2-4.5-2.5-3 0.5-8 5.5-2.5 4-3 2.5-5 7-4.5 4.5-1 1.5 0 3.5-1.5 1.5-3-3-3-0.5-6 0-4.5-2-9 1.5-6.5 8-4 10-1.5 1.5-3 2-2.5 3-2 6-4.5 2.5-1.5 1.5-2 9.5-2.5 4-3 0-4.5-3-3-0.5-4.5 2-4.5 0.5-1.5 1.5-1.5 0.5-1-1 0.5-1.5 2-1 0.5-1.5-0.5-3-1.5-0.5-6 0.5-1.5-1-1.5-2 0.5-6-3-6 4-6-4-4.5-1-4.5-2.5-2-4.5 0-4.5-2.5-9-2.5-9-7.5-1.5-2-3-13.5 1-4.5-0.5-10.5 2-7.5-0.5-4.5 1.5-7.5-3-4.5-1.5-6-2-3-9-3.5-3 0-1.5-1.5-3.5-10-1-4.5 0-6 2.5-4.5 2-2 4.5-1.5 4.5-3.5 9 0.5 6 1.5 4.5-1.5 9 0 1.5-0.5 4.5-5 1.5-0.5 7.5 1 6 0 4.5 0.5 6-1.5 4.5 1.5 4.5 0.5 1.5-1 2.5-3.5 2-1.5 3-1.5 3-0.5 7.5 2 6 4 1.5-0.5 3-2 4.5-1 3-1.5 12-3.5 9 0 3 1.5 3 0.5 3-0.5 1.5-1.5zM449.5 11.5l-0.5 0.5 0 1.5 2 3.5 1.5 1.5 1.5-0.5 1-3-1-2.5-3-1.5zM468.5 46.5l-0.5 1.5 4 1 3 3.5 1.5 0.5 1-0.5-5.5-7-1.5-0.5zM359.5 36l-0.5 1.5 0.5 1.5 3 2.5 3 0.5 2-1.5 0.5-1.5-1-1.5-4.5-2zM406 48l-6 4.5-0.5 1.5 1 1.5 4 1.5 1.5 0 2.5-4.5-1-3zM615 0l1.5 3-1 7.5 0.5 4.5-0.5 3 0.5 4.5-3.5 3-6 0.5-3 2.5-0.5 1.5 0 4.5-2.5 4.5 0 2 3 0 1.5 0.5 0.5 2-2 0.5-2-0.5-1-1-1.5-0.5-4.5 5-4.5 2.5-4.5 6-3.5 3-2.5 5-10.5 3-7.5 6-1.5 1-1.5-0.5-2.5-2.5-2-6.5-4.5-5.5-2.5-10.5 0.5-7.5-0.5-4.5 2.5-3 3-1.5 1-1.5-0.5-4.5 3-7.5 4-3 6.5-1.5 4-4 3 0 4.5 1.5 1.5-0.5 2-3 0-1.5-3-3-0.5-3zM932.5 0l53 0 0 31.5-1.5 0.5-7.5 5-6 1-3-1.5-3-3.5-6-2.5-4.5-3.5-9-3.5-1.5-1-8-12zM632 9l1.5-3 1.5-0.5 3 0.5 6-1 1.5 0.5 1 2 0 1.5-2.5 4-3-0.5-3 0-3 2.5-1.5 0zM897 6l1.5 0 1.5 1.5 0 1.5-1.5 2.5-1.5-1-0.5-3zM8 9l2.5-1 2.5 1 2.5 4.5-0.5 1.5-3 0-3-1-1-2zM877 25.5l2-1.5 1.5 0 3 2 3 0.5 1.5 2 0 1.5-1.5 0.5-3 0-4.5 1-3-1zM876 31.5l-4.5 7-1.5 0-1.5-1 0.5-1.5 2.5-3.5 3-1.5zM527 34.5l1.5 1 1 2-1 2-1.5 0.5-1.5-2.5zM731 42.5l0.5 1 0 3-2 4.5-4.5 3-3-1-1-2-1-4.5 0.5-3 1.5-1.5 6 1zM840 48l1.5 0.5 0.5 1-0.5 2-1.5 0-0.5-0.5 0-1.5zM838.5 62l0.5-2 1-1 1.5 0.5 0 1.5-1.5 1.5zM33 79.5l1-1.5 2-1 1.5 0 1 2.5-1 1.5-1.5 0-1.5 0zM95.5 79.5l1-1.5 2.5-0.5 7.5 2 1.5 1.5 0 3-1.5 1-9-1-2-1.5zM61.5 97l1.5 2-1.5 1-1.5-1zM99 108l3-7 1.5-1.5 6-1.5 3 1 6 3 1.5 1.5 0.5 1.5-1 3-1 1.5-9 2.5-4.5 2.5-5.5-5zM132 98.5l1.5-0.5 3 2.5 0 1.5 0 0.5-3-0.5-1-1.5zM203.5 113l1.5 2.5 0.5 3-0.5 1.5-1.5 0.5-1.5-0.5-0.5-3 0.5-3zM446.5 136.5l0.5 1.5-3 3 0.5 3-1 1-1.5-0.5-0.5-0.5 0-1.5 1.5-1.5 1.5-4.5zM488.5 142.5l1.5-2.5 2.5-1.5 7.5 2.5 8 0 1.5 1.5-1 3-5.5 7-4.5 3-3 0-1.5-0.5-3-5zM511.5 141l0.5-1.5 3-1.5 2 1.5-0.5 1.5-1.5 0.5zM659.5 144l1 1.5 0 1.5-1 1.5-5 3.5-3 3-1.5 1-2 0-1-1.5 0.5-1.5 5.5-7.5 3-2 1.5-0.5zM467.5 172.5l1.5 1 0.5 3 1.5 3 0 4.5-0.5 2-2.5 2.5-3.5 3-1.5 0.5-2.5-2-3.5-4-1-3.5 5.5-7.5zM436 182.5l3 4.5 0.5 3-0.5 10-1.5 2-3.5 1.5-2.5 5-3 0.5-4.5-1.5-6-0.5-7.5 1-7.5-4.5-1.5-2-1-4 1-3 5.5-9 6.5-6 4.5 1 4.5-2 4.5-0.5 1.5 0zM598.5 184l-0.5-1.5 1-2 3-2.5 4.5-1 3.5 1 0 1.5-1 1.5-5.5 4-3 1zM63 213.5l0 2.5-1.5 2-1.5 0.5-1-1.5 1-2.5 1.5-1zM105.5 284.5l-0.5-8 6-4 1.5-3 1-4.5 3.5-3.5 7.5-4.5 4.5-1 1-1.5 2.5-7.5 11.5-12 1.5-0.5 4.5 1 4.5-0.5 6 0.5 4-1 4.5 0.5 2.5 1.5 0.5 3 1.5 1.5 10.5-3.5 7.5-0.5 6-1.5 6 0 6-1.5 7.5 1 4.5-1 6 3 4.5 0.5 3 1.5 3 3.5 1 4.5 3.5 6 1.5 4.5 0 3-3 5.5-9 4.5-5 3.5-3 3-2.5 1-10.5-1-4.5 1.5-4.5-2-4.5 2-1.5-0.5-6-2.5-1.5-1.5-1-3-2-1-7.5 3-1.5 0-1.5-1-1.5-2.5-1.5-0.5-1.5 0.5-1 1.5-2.5 1.5-5 1-3-0.5-4.5 3-2.5 2.5-1.5 4.5-3 4.5-6.5 3.5-15-2-6-2-4.5 1.5-3-0.5-4.5 0-1.5-1zM165.5 259l3.5 3.5 2-0.5 0-1.5-2-1.5zM262 248.5l1.5 0.5 1.5 2 1.5 5-1 4.5-2 1-1.5-0.5-4-6.5 1-3.5 1.5-1.5zM69.5 281.5l1-1.5 4.5-1 6 1 6 0 1.5 1 1.5 2 1.5 4.5 0 1.5-4.5 1.5-3 3-1.5 0.5-6-4-6-4.5-1.5-2.5zM2.5 284.5l1-3 2.5-1 7.5 0 1.5 1 0.5 1.5-5 1.5-4.5 3-1.5-0.5zM17.5 284.5l2-0.5 1.5 0.5 0 1.5-1.5 0zM15 304.5l1.5-0.5 1.5 1 3 3.5 0 3.5-1.5 2-5-1-2-1.5 0-3 1-2.5zM0 334l0-4.5 4.5-1 1.5 0.5-3 4zM946.5 498.5l0 1.5-1.5 2-4.5 2.5-10.5 9-1.5 3.5-1.5 2-4.5-0.5-6 2-9-1.5-10.5 1.5-10.5-0.5-10.5 0.5-3-1-4.5-4-6-3-3-4-1.5-0.5-4.5 1.5-9 0-7.5 2-3-0.5-9 0-8.5-2.5-3 0.5-2.5 1.5-0.5 2.5-7.5 4.5-6 1-7.5 2-3 1.5-3 5-7.5 7.5-1.5 3-4.5 0-1.5 1-0.5 2 1 6-0.5 1-3-2-6 2-4.5 3.5-7.5 2.5-5 5-3 4.5-0.5 6-1.5 1.5-2 1-6 0-6 2.5-6.5 10-1.5 7.5-3.5 3-4.5 9-153 0-0.5-1.5-3-1.5-1.5 1-0.5 2-285 0 0.5-10.5-0.5-3-2.5-6-4-5-12-7-9-10-1.5-3.5-2.5-9-4.5-10.5-5-7.5-3-2.5-1.5 0.5-1.5 3.5-1 15-1.5 9 0 15 0.5 7.5-1 13.5 0.5 10.5-82 0-2-2-1.5-0.5-1.5 1-1 1.5-19 0-2-6-3-3-1.5-3-2-2-2-4-0.5-6-2.5-6 0.5-3 0-4.5 2-6-0.5-2.5-1.5-2.5-1.5 0-3.5 2-1 1.5-2 9-1.5 1.5-5.5 3-4.5 4-3 1-4.5 5-1.5 0.5-3-3-1.5-0.5-3 2.5-2.5-0.5-1-1.5 0-3-5.5-6-5-4.5-2.5-4.5-1.5-4.5-2.5-4.5-9.5-6.5-3-1.5-6-0.5-13.5-0.5-4.5 2.5-1.5-0.5 0-42 2-2 0.5-1.5-1-7.5 2-1 2.5-1.5 6-1 10.5 1.5 4.5-2.5 6-0.5 2-0.5 2-4.5 6.5-6 12-5 4.5-3 4.5 0.5 4.5-0.5 4.5 1 8 5.5 3 4.5 5.5 20.5-1 4.5 1 4.5 0 1.5-2.5 4.5-1.5 7.5 2 4.5 4 6 0 4.5-1.5 4.5 0.5 1.5 2 1 3-1 5.5-6 2.5-6-0.5-6 5.5-3 1.5-1.5-1.5-1.5-3-1.5-0.5-1.5 2.5-10.5 3-3.5 4.5 0 0.5-1 2-3 0.5-4.5 1.5-1 7.5-1.5 2-1.5 2-4.5 0.5-1.5-1-1.5-6.5-0.5-1.5-1 0-1.5 3-4 4.5-2 4.5-7 1.5-1 6-1.5 6 1 3-1 4.5-3 4.5-8.5 3-2 4-1 6 1.5 1.5 1.5 1.5 3 3 1.5 3 0 3-2.5 3 0 9-8 2.5-4.5 3-3 0.5-3-1-3 4-4.5 5.5-7.5 2-4 6-3.5 5 0 4-6 5.5-4.5 3.5-6 1.5-1 6 0 7.5-2 3-2 5-2.5 1.5-1.5 1-4 1.5-0.5 4.5 3 4.5-3.5 1.5 0 4.5 1 4.5 3 3 0 7.5-2 7.5-5.5 4.5-0.5 4.5-1.5 2-1.5 1-3 1.5-1.5 3-0.5 3 0.5 6 8.5 2.5 2 2 0.5 3-0.5 6-3.5 6 1.5 6-1.5 2 0.5 4 3 3 0 4.5-3.5 6-1.5 4.5-4.5 3-1.5 3-0.5 6 1 7.5-1.5 1.5-1.5 3-8.5 1.5-1 1.5 0.5 1 1.5 2 4.5 4.5 1 7.5 3.5 3-0.5 10.5-3.5 9 0.5 7.5 3 4.5-1.5 3-3 1.5 0 1.5 2 4.5 1.5 3 0.5 4.5 0 1.5 0.5 4.5 4.5 13.5 1 5.5 2 9-3 6-3 4.5 1 3-0.5 10.5 1.5 9-3 10.5 1 6-3 4.5-1.5 3 0 9 1 1.5-1 1.5-3 1.5-0.5 6 1.5 12-3 9 0.5 6-0.5 4.5 1.5 4.5 0.5 1.5-0.5 3-3 1.5-0.5 7.5 2.5 1.5-1 2.5-4.5 5-4.5 6 1.5 1.5-1.5 6-8.5 1.5-0.5 4.5 0 4.5-2.5 10.5-3 6 0 3-1.5 6-0.5 4.5-2 13 2 5 7 9 2.5 10.5 9.5 6 3 2 3.5 2 6 2.5 3 0 6 8 6 0.5 1.5 0 4.5 1.5 1.5 4.5 2 1.5 4 4.5 4.5 6 2 3 3 6 4 9 2 3 1.5 4.5 0.5 4.5 3 7.5 1.5 10.5-1 4 0.5 10.5-2.5 7.5-1 10.5-6 6 1.5 3-0.5 2-1 2.5-3 3.5-1.5 1-3.5 1.5 0 1 0.5 0 3 1.5 0 3-4.5 5-3 4.5-4 1.5-0.5 4.5 0.5 1.5-0.5 1-4.5 2-1.5 2 1.5 2 3 3.5 1 6 3 1 5 2.5 6-0.5 4.5 2.5 9-2.5 9-0.5 4.5-2.5 2.5-3.5 2-1 1.5-0.5 6 0.5 9 1 6 5 4.5 3 4 5 0.5 1 3 4.5 4.5 3 4 4 3.5 3 7.5 7 4zM720.5 476.5l-0.5 3 2 1.5 1.5-1 0.5-2-2-1.5zM742 377.5l-3.5 0-6 4.5-1.5 3 1.5 3 9 0 3-1.5-1.5-7.5zM755.5 455.5l0 1.5 2.5 2 3 0 1.5-2 0-1.5-1.5-2-3 0zM801 454l0.5 1.5 2.5 1.5 4-1.5-0.5-1.5-4.5-1.5zM839.5 495.5l0.5 1 1.5 0.5 1.5 0 2-1.5 0-1.5-2-1-1.5 0-1.5 0.5zM100.5 547l-2-0.5-1.5 1.5 0.5 1 1.5 0.5 2.5-1.5zM121.5 511l-3.5 2.5-0.5 1.5 0 1.5 2.5 1 1.5-0.5 1-2 0.5-1.5zM145 479.5l2.5-1.5-0.5-1-2.5 1zM151.5 473l-1.5 2 1.5 0.5 1.5-0.5zM603.5 579l-1 2 1 3-2 6 0.5 1.5 3 2.5 3 0 3-1.5 0.5-2.5-3.5-6-0.5-3-1-1-1.5-1zM674.5 401.5l0.5 1.5 5 4.5 1.5 0 1-3-1.5-1.5-4-2.5-1.5 0zM739 524l-2-0.5-6 3-7.5 1.5-1 2 0.5 3 2 1 9-1 1.5-0.5 3.5-5.5zM690.5 508.5l0 1.5 1.5 2 1.5-0.5 0-2.5-1.5-1zM822 401l4.5 1.5 1.5 1 0.5 2.5-2 3-3 0-3-1.5 0-3zM0 419.5l1.5 1 3 0.5 1.5 1.5-1 3-3 6 1.5 9-1.5 1.5-2 0.5zM776.5 582.5l1-2 6-5.5 3-1 4.5-1 1-1 0-4.5 2-1.5 3 0 1.5 3 1.5 1 6 1.5 1.5-1 3-6 1.5-7.5 4-3 7.5-2.5 7.5 1.5 12 0 6 2.5 6 1.5 6 3.5 5.5 1 1.5 1.5 1.5 7.5 2 3 4.5 1.5 9-1 1.5 1 6.5 9 4 10.5 3 9-117.5 0 0-4.5-3.5-6-0.5-4.5-2-4.5zM0 555l2 2-0.5 1.5-1.5 2zM16.5 577l4.5-3 3 0 10 7 1.5 6 3.5 6 1.5 6 0 4.5-31 0-0.5-9 0.5-7.5 0-1.5 3-3zM63 589l1.5 0 3 2 0.5 2-2 5.5-1.5 0.5-2.5-1.5-1.5-3 1-3zM966 599l1.5-0.5 1.5 0.5 0.5 1.5-0.5 1-1.5 1-1.5-0.5-0.5-1.5z"/>
<path fill="#FF9472" d="M975 0l10.5 0 0 6.5-3-3-4.5-1zM605 15l1.5-1 1.5 0.5 0.5 2-2 0.5-1.5-0.5zM587 19.5l1.5 1.5 0 3-1 4.5-2 4.5 0 4.5-0.5 1.5-4 2.5-2 3.5-4 2.5-6 0.5-3-1-1-2-1.5-7.5 2-4.5 2-3 4.5-5 6-5 3-1zM425.5 23.5l1.5 0.5 0 2-1.5 0.5-1-1zM388 62l1.5 1 2 3-0.5 3-1.5 0.5-2-0.5-1.5-1.5 0.5-4.5zM429 67.5l2 0 0.5 1.5-1.5 1-1.5-1zM332.5 70.5l3 0 1.5 1.5-0.5 1.5-2.5 1-1.5-1-0.5-1.5zM337 102.5l1.5-1 3 0.5 7.5 1.5 3 1.5 3 0.5 1.5 1 0.5 3-1.5 3 0 1.5 1 0.5 4.5 0 3 1 2.5 3 0 1.5-1 3-3 3-3 1-1-1-0.5-3-7.5-8-7.5-7-6-2.5-0.5-2zM211.5 242.5l1-1 1.5 0.5 1.5 2-1.5 1.5-2.5-1.5zM141 246l6 2.5 2.5 3-1 7.5 1 9-0.5 3-4.5 7.5-1.5 6-1.5 1.5-2 0.5-3.5-0.5-2.5-1.5-0.5-1.5 0-4.5 0-1.5-2.5-3 0.5-4.5-0.5-0.5-4.5-0.5-1-0.5-0.5-1.5 2-3 4-0.5 1.5-0.5 5.5-11 1-4.5zM208 247.5l1 1-1 2-1.5 0.5-2-1 0.5-1.5 1.5-1.5zM227.5 249l3 2.5 0.5 1.5 0 10.5-1 1.5-2.5 2-7.5 2-1.5-1.5-4-7-1-3 0.5-1.5 1.5-1.5 4.5-2 4.5-3zM670 466l2.5 10.5-0.5 4.5 1.5 4.5 1 6-3 8.5 2.5 4.5-2 6 0.5 3.5 2.5 2.5-0.5 1.5-2 0-2 1.5-0.5 1.5 1 4.5-1 1.5-3.5 3-1.5 4-1.5 1.5-6 3.5-7.5 1.5-4.5 4-6 2-6 0.5-6 2.5-12 0.5-7.5 3-3 1-9-1.5-9 5.5-3-1.5-3-0.5-9 0.5-4.5 4-4.5-0.5-4.5 1-4.5 3-6 0.5-3 2-9 2-3 3.5-1 0-3.5-0.5-6 2-4.5-0.5-3 0.5-6-3.5-4.5 2-9 2.5-3-0.5-5.5-2-3 0.5-7.5 4.5-3 0.5-4.5 3-4.5 1-2 1-8 21-187.5 0 0-7.5 1.5-6-0.5-1.5-7.5-9-12-9-8.5-9-2-3-4-12-8-14.5-3.5-5-2.5-1-1.5 0-1.5 0.5-1 2-1.5 4.5-0.5 15-1.5 10.5 1 21-1.5 16.5 1 7.5-66 0-2.5-4.5-2-1-4.5-0.5-1.5-1.5-0.5-1.5 1-4.5-2-4.5-1-6 1.5-3-3.5-3 2-3 3-3-2-3-7-3 1.5-3 0.5-3-2.5-7.5 2.5-4.5 0.5-2-1.5-2.5-3-1-2-2 0.5-1.5 3-3.5 6-1 1.5-1 0.5-2-0.5-2-3-5.5-3-1-1-2 0.5-4.5-1.5-6 0-3 2.5-4.5 5.5 0 2-1.5 1-1.5 0-4 3-3.5 13.5-6 4.5-1 4.5-3 2.5-2 3-4 3-5.5 3-0.5 3-2 6 0.5 6-3.5 6-5 1.5-1 6-0.5 10.5-5 1.5-4.5 4.5-9 7.5-6 1.5-0.5 3 0 1.5-1 0.5-1.5-1-3 0.5-1.5 4.5-3.5 1.5-5 1.5-1 3 1.5 1.5 0 3-1 1-1.5 0.5-5.5 8-5 2.5-3 7.5-1.5 7.5-3 7.5-1 10.5-0.5 4.5-3 1.5-0.5 9 1 1.5 0 6-3.5 1.5 0 4.5 2.5 4.5 0.5 4.5 3 3 1 6-0.5 8 1 4-1 7.5-3 7.5-0.5 6-1.5 4.5-3.5 6-1 4.5-2 3 0 4.5 1 4.5-0.5 3 1.5 1.5 0 3-2.5 1.5 0 4.5 1.5 3 0 6-2 7.5 0 7.5-3.5 1.5 0.5 4.5 6 4.5 2.5 6 0 4.5 1 4.5-0.5 4.5 2.5 7.5-0.5 6 1.5 4.5 0 4.5 2.5 10-2.5 6-2.5 4.5 0.5 1.5-5.5 1.5-1.5 6-0.5 4.5-2 6 0.5 6-2.5 7.5-1 6 1 7.5 0 12 4.5 4.5 5.5 3 7.5 0 1.5-3 6 0 2 3 2 1.5 0 2.5-1 0-7.5 0.5-1.5 1.5-1 6 0.5 10.5-1 4.5-2 6 1 4.5 0 3 0.5 4.5-1 3 0 4 1.5 2 5 3 1.5 3-0.5 1.5-1.5 1.5-3.5 1.5-1 1.5-0.5 3 2 1 1.5-1 4.5-1.5 2-6 2.5-1.5 1-0.5 2 0.5 3 4.5 4 0.5 2-2.5 7.5 0.5 1.5 3 3 0.5 1.5-0.5 1.5-2 3 0 3 2.5 3 7 2 2 5.5 7 3 1 4.5 5 1.5 4.5 5.5zM581.5 425.5l1 3 4.5 3 1.5 0.5 4.5-1.5 1.5-2 0-1.5-0.5-1.5-5.5-2.5-6 1zM283.5 582.5l-1 1.5 2 9 4.5 1.5 3-1 2-2 0.5-1.5-3-6-1.5-1.5-2.5-0.5zM520 560l-2-1-1.5 0-7.5 3-1 2.5 1 3 1.5 1 4.5-2.5 3-0.5 1.5-1 1-1.5 0.5-1.5zM735.5 406l-1 12-2 3-4 1.5 3.5 3 0.5 1.5-0.5 6-1 1.5-6 0-4.5 2.5-1.5 0-4.5-1.5-7.5 0.5-9 2.5-1.5 0-1-1 1.5-3 0.5-6 1-3 2.5-3 6-4.5 2.5-4.5 2-12 0-3-1.5-3 0.5-1.5 1-0.5 1.5 0.5 3 2.5 1.5 0 3-1.5 1.5 0.5 3 2.5 6 3.5zM820.5 437l2 2-2 1.5-0.5-1.5 0-1.5zM66 471.5l3.5 0.5 4 1.5 6 4.5 2.5 4.5 3 9 0.5 4-1 12-1.5 3 1 6-2.5 6 5.5 9 1 3-2.5 6 2 6 0.5 4.5-0.5 1.5-3.5 3-1 4.5-1.5 3-0.5 3-3 1-1.5 1-3 4.5-6 2-1.5 0-6-5.5-1.5-0.5-3.5 0.5-2.5-1.5-6.5-7.5-1-7.5-1-1.5-6.5-2.5-1.5-2-0.5-1.5 2-2 1.5-1 3 0.5 0.5-0.5 0.5-1.5-1-2-3 0-1.5-2.5 1.5-4.5-1-3 1.5-3 0-1.5-2-1-3-0.5-3.5 1.5-0.5 6 1.5 1.5 0.5 1.5-1 1.5-3 1-4.5-0.5-6 4.5-4.5 1.5-3 0.5-6-2.5-4.5 0 0-27.5 3.5-1 1 0.5 0.5 1-0.5 1.5-2.5 1.5-1 1.5 2 1.5 2.5-1.5 3-3 0.5-1.5-0.5-1.5-2-1.5-0.5-3 4-4.5 0.5-3 1-1.5 9.5-2 6-2.5 4.5 0.5 7.5-4.5 0.5-4.5 5.5-5.5 15-6.5zM27 512.5l-3 1-1 3 0.5 3 2 1 2.5-1 2.5-3 0.5-1.5-1-1.5zM57 557.5l-1 1 1 2.5 1.5 1.5 1.5 0 1-1 0.5-1.5-1-1.5-2-1zM761.5 478l4-1 4.5-2 3 1 2.5 8-1 6-1.5 2.5-1.5 0-3-1-4-4.5-3.5-2-1-2.5zM111 528.5l3 0.5 1.5 2.5 1 4.5-0.5 1.5-1 1.5-5.5 0.5-2-0.5 0-3 2-6.5zM645.5 554.5l0.5 1-2 1.5-1-1.5 1-1.5zM102.5 560l1-0.5 3 0.5 1.5 1.5 0 1.5-1.5 0.5-3-0.5-1.5-1.5zM126 562l1 1-1 4.5-1.5 1.5-4.5-1-3 4.5-3 3-3 4-1.5 0.5-2-0.5-2-3 0-3 1-0.5 4.5 0 1-1 0.5-6 1.5 0 4.5 1.5 1.5 0 2.5-6zM677 561.5l4.5 3 1.5 1.5-3 5-4.5 5-1.5 0.5-1.5 0.5-1.5-1-1.5-2-4.5-1-2-5.5 0.5-1.5 1.5-1 1.5 0 4.5 3 1.5 0 1.5-5 1.5-1.5zM701 566.5l1.5-0.5 3 1 1.5 2 0 1.5-1.5 1.5-1.5 0.5-3-3.5-0.5-1.5zM18 578.5l3-1.5 3 0 6 4 1 1.5 5.5 12 1.5 6 0.5 3-26.5 0 0-4.5 1-12 3.5-7zM122.5 591.5l2-0.5 1.5 0 3 1.5 1 2-1 2-3 0.5-1.5-1.5zM641 592l1.5 0 2 1 0 1.5-2 1-1.5-1.5zM512 601.5l1.5 0 1 0.5 0 1.5-2.5 0z"/>
<path fill="#FF5040" d="M646 469l0.5 7.5-0.5 9-0.5 2-1.5 2.5-0.5 4-4 7-3 0.5-2 1.5-3.5 6-3 3-0.5 6-7 9-2 1.5-6.5 3-11.5 9.5-1.5 0.5-6.5-2.5-5.5-4-6 1-6 0.5-3-1.5-6-0.5-4.5-3-1.5 1.5-0.5 1.5 0.5 3-0.5 1.5-1 1-1.5 0-12-7.5-3 1-1.5 0-1.5-2-1.5 0-6 2.5-4.5 3-4.5 1-15 0-6 2-6 0.5-4 3.5-4.5-0.5-4.5 1-5 2-7 10-7.5 0-18 8-4.5-1-4.5 2-6 0.5-4.5 2-10.5 3.5-6-0.5-4.5 2-6 0-7.5 2-6-1.5-8.5 3-8 5.5-7.5 1.5-6 2.5-7.5-3.5-10.5-1-9.5-3.5-14.5-2-6-2-10.5 1-9-2-3 1.5-9 6.5-3 0-6-1.5-3-2.5-5.5-2-2-1.5-5.5-7.5-5-2.5-3.5-3.5-4-7.5-2.5-7.5-9.5-16.5-3-3.5-3-1.5-3 0.5-1.5 1.5-1.5 3-1.5 4.5 0 15-1.5 10.5 1.5 21-2.5 16.5 0.5 7.5-51.5 0-2-3 0-1.5 3-6-0.5-1.5-5-0.5-2-1-2-3 0-3-0.5-1.5-5-4.5 0.5-1.5 3-1 1.5-2 0-2-3-5.5-0.5-4.5-1-1.5-6 0-2.5-1.5-1-1.5 2.5-9 4-1.5 0.5-1.5 0.5-10.5-2-6 0.5-4.5-0.5-1.5-2-2-1-2.5 2.5-2 3-4.5 4.5-0.5 1.5-2-0.5-6 2-7.5 2-4 4-2.5 7-6 7.5-9 4-2 8-4 12-7.5 9-3 19.5-9 6-5 6-7 4.5-2.5 9-10 4.5-3 1-3-0.5-4.5 4.5-6 9-3 4.5-3 5.5-2 4.5-0.5 4.5 0.5 13.5-2 9 4 15-0.5 7.5 0.5 4.5-1 6 1.5 4.5-0.5 6 0.5 7.5-1 4.5 0.5 4.5-2.5 4.5-1 6-2.5 9 1 3-1.5 3-1 6 1 6-1 3-1 4.5-3 6-1.5 3 0.5 4.5-0.5 1 1 2 3 1.5 0.5 1-2 2-1.5 1.5 0 2.5 3 2 1.5 1.5 0.5 4.5-2 1.5 0 2 1.5 6 12 0 7.5 3 7.5 3 4.5-1 4.5 2.5 15-0.5 7.5 8.5 6 2.5 6 1 4 1.5 0.5 1.5-1 1.5-3.5 2-1.5 2.5-1 6-0.5 1-0.5 1-1 0-4.5 1.5-6-1.5-6 1-1.5 3-1.5 10.5-7.5 4-7.5 0-6 3-3.5 8.5-11.5 1.5-3 1-6 4-8 4.5-4 3-2 10.5-1.5 9 1 3 2.5 4 6 0.5 4.5 1.5 4.5 0.5 6 3.5 12-1.5 9 0.5 3 1.5 0 3 4.5 3 2 4 5.5 2 1.5 7.5 3.5 4.5-0.5 4.5 2 3 0.5 3.5-2.5 2-3 4-3 2.5-5 3-1 7.5 0 1.5 0.5 2 2.5 1 4.5 3.5 6 0.5 6 4 7.5-0.5 2-2.5 2.5 1 0.5 8 1 2 1.5zM271.5 460l-1 1.5 0 1.5 2 4.5 1.5 1 4.5-1 1.5-1 0.5-2 0-4.5-2-3-3 0.5zM501.5 521.5l-1 1 0 1.5 0.5 1.5 2 2 1.5 0 1-0.5 1-1.5-1-3-2.5-1.5zM63 474l3-0.5 3 1 6.5 5 6.5 14.5-1.5 4.5 0 4.5-2.5 4.5 3 9-3 4.5 0 3 1.5 4.5 4.5 4.5 0.5 1.5-1.5 6 1 7.5-2.5 4.5-2 6-1.5 1-7.5 0-10.5-6-4.5-1-1.5-1.5-7-13.5-1-6-2-4.5-1-4.5-2-3-0.5-4.5-4-4.5-2-4.5 0.5-1.5 2.5-4.5-1-4.5 1-1 4.5-1 1.5-1 4-7 2-1.5 4.5-6 6-3.5zM648 492.5l3.5 1 3.5 2 0.5 3-1 2.5-1.5 0-1.5-0.5-2-2-2-3 0-1.5zM14.5 504.5l1-1.5 2.5-1 4.5 0 1 1-4 2zM0 530l3 1.5 1 1.5 0 1.5-2.5 1.5-1.5 0zM19.5 580l1.5-1 3 0.5 5 4.5 4.5 9 3 10.5-22.5 0 0-4.5 2.5-12 2-6zM422.5 587l0.5 0-0.5 1.5-1.5 3 1 10.5-1 1-3-2.5-3-4.5 1.5-3.5 3-4zM318.5 593l2 0 1.5 1 1 2-0.5 1.5-2 0.5-2.5-0.5-0.5-3z"/>
<path fill="#FF0000" d="M539 396.5l8-1 5-1.5 0.5-1 0.5 7 1 4 3 3.5 0.5 7.5 1.5 7.5 0.5 6-1.5 7.5 2.5 7.5-0.5 3 0.5 1.5 2.5 1.5 4.5 4.5 4 3 2.5 6 2.5 1.5 7.5 1.5 3 3 1.5 0.5 4.5-2 1.5 0 4.5 2 6 0 1.5 1 3.5 6 7.5 4.5 0.5 4.5 0.5 1.5 8.5 3 1 1.5 0 1-2 1-5.5 5-1 1.5-0.5 4.5-4.5 6-2 7.5-4.5 4.5-7.5 4-12-1-6-3-3-0.5-6-5.5-9-3-7.5-6.5-1.5-0.5-4.5 0.5-3-1-7.5 1.5-1.5-1-1.5-3.5-1.5-1-7.5 2.5-4.5-3.5-1.5 0-4 5-3.5 2-3 0.5-10.5 0-2-1-2-1.5-0.5-3-1.5-1-3-1.5-1-2-1-7 1-2 4-3 3-4 3-0.5 3-3.5 9-5 4.5-4 4.5 0 2-0.5 0-1.5-3-4.5-1-3 0-1.5 1.5-4.5-0.5-9 3.5-3 2-9-0.5-4.5 6-15-1-4.5 3.5-4.5 2.5-6zM535 490l1 0.5 1.5 0 0.5-0.5-2-1.5zM456.5 439l-1 4.5 2.5 3-0.5 6 2 10.5 2.5 4.5 1 7 3 6.5-0.5 3-3.5 6 0.5 11.5 0 24-6 15-2 6-3 4.5-2 1-4.5 0.5-1.5 1-6 5-4.5 2.5-6 2-6 1-7.5 2.5-6 0.5-4.5 1-4.5-0.5-4.5 1-6 0-13.5 4-7.5 4.5-10.5 2-6-0.5-10.5-3-4.5 0.5-3-0.5-5.5-2-11-5-6-1-4.5-2.5-1.5-0.5-7.5 2-9-2-6 2.5-1.5-0.5-1.5-1.5-1.5-4.5-1.5-1.5-7.5-3-9-0.5-6 2-4.5 2.5-3-1-1.5-2-7-15-6.5-8.5-4-8-3.5-2.5-4.5-1.5-3 1-1.5 1.5-3.5 9 0.5 4.5-0.5 9-1 12 1.5 21-0.5 6-2.5 10.5 0.5 7.5-28.5 0-1-4.5 2-1.5 3 0 2.5-1.5-2.5-3.5-1.5-1-12-3.5-4.5-5-8.5-6.5-4-7.5-1-6-4.5-9 0.5-6 0-4.5 0.5-4.5-0.5-7.5 2-4.5 1-3 2.5-4.5 4.5-10.5-3-12 1-3 6.5-4 3.5-4.5 11.5-10.5 4.5-3 3-2 10-5.5 5-1.5 19.5-8.5 6-1.5 7.5-4.5 3-5 4.5-0.5 1.5-2.5 4-6 5-5 4.5-3.5 6.5-8 1-4.5 1.5-2 3-1 7.5-0.5 4-2.5 2-2.5 9-1.5 10.5 0.5 10.5 2.5 22.5 0.5 10.5-0.5 13.5 3 4.5-0.5 9-3 6 0 6 2 3-0.5 7.5-1.5 4.5-2 10.5-0.5 3-2 1.5 0 12 2.5 4.5 0.5 7.5 5 9.5 13 0.5 4.5 2 3 0 3 1 1.5 5 3zM281.5 453.5l-3-1-4.5 1-4.5 2.5-4.5 4-2 3 0 3 2 6 2.5 3 3.5 0.5 3-0.5 6-2 3.5-2.5 2-4.5 0.5-4.5-1.5-4.5zM498.5 470.5l1.5 1 1 2 0 3-2.5 2-1.5 0-1.5-0.5-0.5-3 1-3zM64.5 476l3 0.5 3.5 3 5 10.5 0 4-3 12 2 4.5 0.5 3-2 2-1.5-0.5-1.5-7.5-1.5-1-1.5-0.5-1.5 0.5-1.5 4-2.5 3 0 3 0.5 1.5 2 1 4.5-1 1.5 0.5 0.5 1 1 4.5 8.5 10.5 0.5 1.5 0 10.5-2.5 6-2 3-4.5 1.5-3-0.5-4.5-2.5-10.5-9.5-1.5-2.5-3-10.5-3-6-1-4.5-1.5-4.5-1.5-9-1.5-3-0.5-1.5 1.5-4.5 6-4.5 1.5-3.5 4-5 3-6 3.5-2.5zM478.5 495.5l0-1.5 2.5-1 0.5 1-0.5 2-1.5 1zM21 582.5l1.5-0.5 1.5 0.5 3 3 3 6.5 1 8.5 2.5 3-16.5 0 0-4.5 3-9z"/>
<path fill="#D40000" d="M448 448l0.5 1.5 0 4.5 2.5 6-0.5 4.5 5.5 15-3 4.5 0.5 1.5 2.5 4.5 1 2.5 1 16.5-1 12-3.5 9-1 6-1.5 2.5-3 2-4.5 2-7.5 7.5-6 2.5-7.5 5.5-10.5 3.5-4.5-1-7.5 0-6 2.5-6 0-4.5 1.5-7.5-1.5-1.5 0.5-3.5 4-2.5 1.5-6 1-4.5 1.5-7.5-1-6 0.5-4.5-2.5-7.5 1.5-8-4-8.5-6.5-1.5-0.5-4.5 0.5-4.5-1-4.5 1.5-1.5-0.5-9-4-7.5 0.5-9-4-7.5-1.5-4.5-2.5-7.5-0.5-6-3.5-15-10.5-1.5-2-3-7.5-7.5-7.5-4.5-2.5-1.5 0.5-4.5 4.5-0.5 5-3 7.5 1 7.5 0 9-1 10.5 1.5 9 1 12-1 6-4 7-1.5 1-7.5 0-6-2-6-4-4.5-0.5-1.5-1.5-1.5-4.5-4.5-2.5-3.5-2-4-3-3-1.5-4.5-4.5 0-4.5-3.5-7.5-2.5-4.5 2.5-18 4-9 2-7.5 2.5-4.5 0.5-3 0.5-4.5-2.5-6 0-1.5 0.5-1.5 8-8 6-3.5 4.5-6 4.5-1.5 3.5-4.5 5-1.5 11-6 6-1.5 9-5 7.5 0 10.5-3.5 3-2 4.5-4.5 5.5-3 2.5-6 4-7 10.5-8 3-4 1.5-0.5 4.5 0.5 9-3 4.5-3.5 3-1 4.5 1 9-2 6 1 18 0 4.5 1.5 7.5-1 3 0.5 7.5 3 7.5-1 6 1 4.5-2 4.5 1.5 6 0 9-2.5 6 0.5 6-2 9 0 3 1 5 3.5 6.5 6 3.5 4.5 4.5 1.5 1 4.5 1 1.5 3.5 3 2.5 4.5zM281.5 450l-4.5-1-9 3.5-4.5 4-3.5 5-1.5 4.5 0.5 3 4 6 3.5 3 6 0.5 9-2.5 3-2.5 2-3 3-6 0-4.5-1-3-2-3zM543.5 421.5l3 0 1.5 1 1 1.5-0.5 3-2 1.5-1.5 0-1.5-1-1-2 0.5-3zM536 435l1.5 0 4.5 6.5 1.5 3.5 4.5 5.5 0.5 2-1 9-1 1.5-7.5 4-1.5 0-6-4-3-10.5 4-10.5 1-4.5 1-1.5zM61.5 479.5l3-0.5 3 1 2 2.5 2 3 1 6-0.5 2.5-1.5 4.5-1.5 1.5-1.5 0-4.5-1-3-2.5-4.5-1-2-1.5-0.5-1.5 5.5-11zM49.5 503l4 0 1 1.5-1.5 4.5 2.5 4.5 0 4.5-0.5 3 0.5 1.5 1 1.5 2 1 4.5 0 9 4.5 2.5 2 2.5 4.5 1.5 9-2 6-3 2.5-3 1-4.5-2-3.5-3-2.5-4-4.5-3-1-2-0.5-6-2-6-1.5-9-2-4.5 0.5-3 2-3-2-4.5z"/>
<path fill="#AC0000" d="M451 491.5l3 19-3 7.5 0.5 4.5-1.5 3-5 4-4.5 1-1.5 2.5 0.5 3-5 7-9 4.5-6 0-6 3-6 1-3 1.5-4.5-0.5-6 4-4.5-0.5-4.5 1.5-4.5-2-6-0.5-4.5 2.5-4.5 4-1.5 0-4.5-3-10.5-1-13.5 3.5-2-1-5.5-7-1.5-0.5-6 2.5-7.5-1-13.5-4-7.5-4-4.5 2.5-3 0.5-6-4-16.5-3.5-4.5-4-6-3.5-6 0.5-3-1-6.5-5-2.5-7-4.5-5-5.5-7.5-6.5-4.5-6-2-1.5 0.5-1.5 1.5-1.5 4.5-0.5 6-2.5 5.5-3 5 0 1.5 2.5 4.5-0.5 10.5 0.5 3 2 4.5-1 6 3 12 0 6 1 6-0.5 4.5-2.5 3-9 0.5-9-3.5-2-1.5-1-4.5-4.5-3-3-3.5-9-3.5-5.5-4.5-2.5-5 0.5-4.5-3-3-2-3 0-4.5 2-9 3.5-7.5 1.5-7.5 3-6 2-4.5 0-9 1-4.5 1.5-3 3-2.5 5.5-3 5-4.5 6.5-4.5 2-3 10.5-3 7-4.5 15.5-5 3 0 4.5 2.5 1.5 0 6-4.5 4.5-0.5 6-2.5 3.5 1 1.5 10.5 2.5 6 7.5 7 1.5 0.5 7.5-1 9-3 3-2 7.5-12 0-3-2-7.5-2.5-3-6-4-7.5-2-10.5 2-2.5-0.5-1-3 0.5-4.5 1.5-1.5 6-1.5 3-5 1.5-1.5 9-0.5 4.5-3.5 4.5 2 1.5-0.5 2.5-1.5 2-3 1.5 0 1.5 1.5 1.5 0 3-1 4.5-3.5 4.5-1 7.5-0.5 6 2.5 12-1 12 2.5 6-1 3 0.5 13.5 7 3 3 3 1.5 2 0 0.5-4.5 1-1.5 2.5-1.5 3-1 7.5-1 10.5 0.5 6 3 3 3 1.5 7.5 4 4.5 3.5 3 4.5 0.5 1.5 0.5 1.5 3.5 4.5 2.5 1 2 2 7.5-0.5 6 3.5 4.5 0.5 4.5 2.5 7.5zM343.5 479.5l1 1.5 1.5 0 0-2-1.5-0.5zM380 484l4 1.5 2.5 7 3 1.5 1.5-0.5 1-5-2.5-4-3-2 1.5-1.5 3-1 6 0 7.5 4.5 1.5-0.5 0.5-1.5-0.5-1.5-3-2.5-3-3.5-6-1-6-5-1.5 0-1.5 1-2.5 3.5-1.5 3zM236.5 482.5l-1 3 1 1.5 3 1 1.5-0.5 0.5-0.5-0.5-1.5-3-3zM256 526.5l-1.5 0.5 0 3 1.5-1zM287.5 496.5l-1.5 0.5-1 4.5 1 2.5 1.5 1 1.5 0.5 2.5-2.5 0.5-1.5-1.5-3zM296.5 429l0 2.5 1.5 0.5 3-0.5 0.5 1.5 2.5 1 2.5-1 0.5-1.5-5.5-1.5-2-2.5-1.5 0zM394 535.5l-1.5 2 1.5 2 2-2-0.5-1.5zM257.5 449.5l1.5 3-1.5 2.5-1.5 1-1.5-1-0.5-2.5 2-3zM61.5 485l4.5-1 2 1.5 1 1.5-3 6.5-7-2-0.5-1.5 0-1.5zM57 531.5l1.5-0.5 2 0.5 0.5 3 2 1 3 0 4.5-1 1.5 0.5 1 1 1 3 0 3-0.5 1.5-2 1.5-0.5 4.5-2 1-3-1.5-3-4-5-4.5-0.5-1.5 0-3-0.5-3z"/>
<path fill="#800000" d="M303 443.5l3.5-4.5 6.5-4 3-1 6 0.5 1.5 0.5 3 3 7.5 6 7.5 2.5 2 1.5 0 4.5 1 2.5 1 0.5 0 1.5-3 3-2.5 1-7.5 0.5-1.5-1-3-6-6-4-3 1.5-6-2.5-6 2-3-1-1.5-1zM367.5 451l0-1.5 2.5-3.5 4.5-2.5 3-0.5 3 0.5 3 3 1.5 0.5 4.5-3.5 4.5-0.5 3 1 3 3.5 4.5 1.5 1.5 2 0 1.5-6 8-3 2-4.5 1-15-1.5-1.5-1-1.5-2.5-6-4.5zM425.5 457l3 0 1.5 1.5 3 9 0 2.5-1.5 3-3 3-1.5 0.5-3-0.5-4.5-3.5-4.5-2-1.5-1.5 0-1.5 1.5-4.5 1-1.5 3.5-1.5 3-2zM220 470.5l-1.5 1.5-1.5 0.5-0.5-0.5 1.5-1.5zM215.5 473l-0.5 3.5 0 1.5 5-0.5 1.5 1 3 4 1.5 7.5-0.5 4 1.5 3 0 1.5-1 1.5-3 1-7-2.5-3.5-3-3-0.5-3 1-2.5 5.5-3 16.5-4.5 6-2 11-1 2.5-1.5 1.5-0.5 1.5 2.5 7.5 1.5 3 1 4.5 1 2 4.5 4 2 7.5 0 6 1 4.5-0.5 1.5-1 1-9-0.5-1.5-0.5-3-5.5-3-3.5-1.5-2-4.5-1.5-1.5-1.5-1.5-5.5-3-1-7.5 0.5-1.5-1-1-1.5 2-6-1-1.5-6.5-4.5-1-1.5 0-3 4.5-9 3-10 3.5-3.5 0.5-4.5 2.5-6 0-9 2-4.5 2-1.5 4.5-2.5 5-7.5 2-1.5 6.5-3.5 4.5 0.5 3-0.5 9-4.5zM331 489.5l3-0.5 6-0.5 6 1.5 4.5-1.5 1.5 0.5 6 7.5 6 3.5 1.5 3.5 4.5 1 0 4.5 1.5 6-0.5 4.5-2 4.5-0.5 3 2.5 7.5 0 1.5-3 6-2.5 3-2.5 6-2 1.5-4.5 0.5-4.5-1.5-7.5 0-9-1-9-5.5-4.5-4.5-7.5-6-0.5-1.5 0-4.5-1.5-6-3-7.5 0-3 2.5-4.5 1-4.5 1-1.5 3.5-3 4.5-2zM412.5 510.5l1-6 1-1.5 5-4.5 3-1 15 5 4.5 0.5 1.5 2-0.5 2.5-2.5 3-3 5.5-3 2-4.5 2-4.5 3-3 1-3-1-4-5zM251.5 510l1.5-1.5 3-1 0-1.5 1.5-1.5 10.5-2.5 3 0.5 4 2 8 19.5-4.5 8.5-1.5 1-4.5 0.5-1-1-1-3-2.5-3-1.5-4.5-16.5-7.5-0.5-1.5z"/>
<path fill="#D6E0FA" d="M271 12l-0.5 7.5 2 4.5 0.5 4.5 2.5 6-2 10.5 1.5 4.5-0.5 3-2.5 6-5.5 4.5-1.5 4.5-6 2-4.5 4-3 0-6-1.5-4.5 2-3 0-9-3.5-7.5-5.5-4.5 0-4.5-1.5-4.5 1-4.5-4-10-5-5-5-1-2.5-0.5-3 0-1.5 4-6 10-6 5.5-8 4.5 0 4.5-5 3-0.5 7.5-1 3-3.5 9-0.5 10.5-1 6-2 6 1.5 9-1zM602.5 72l0.5 3-1.5 4.5-7 8-1.5 1.5-4.5 1-4.5 4-1.5 0.5-5-1.5-1-3 1.5-6 8.5-6 5-2.5 5-3.5 4-1zM771 127.5l2-1.5 3.5 1.5-0.5 0.5-3 0.5-1.5-0.5zM710 145l1.5-0.5 1.5 1 2 3 1.5 3 0 3-2 3-1.5 0.5-1.5-1-0.5-1-0.5-4.5-2-4.5zM218.5 146.5l3 3.5 0.5 3-1 6-4 3.5-9 2.5-4.5-1.5-1.5-1.5-1.5-3 0-1.5 1.5-4.5 1.5-2.5 7.5-4.5 3-0.5zM770.5 150l1-1.5 3-2 4.5 0 4.5-1 4.5 1 3 1.5 1 2 1 3 0.5 4.5-0.5 1.5-2 0.5-6-1.5-4.5 0.5-3-0.5-2-0.5-1-3.5-1.5-1-2.5-1.5zM916.5 152.5l1 2-1 1.5-1.5-1.5zM985.5 201l0 77.5-3 0.5-4.5 4-6 3-4 1.5-2.5 3-2.5 1-4.5-1 0.5-3 3-3 0.5-1.5-1-0.5-3.5 3.5-0.5 1.5 1 3-3 4.5-1.5 0.5-4.5-0.5-7.5 1-6-0.5-6 2.5-1.5 0-6-3-4-4.5-6.5-4.5-10.5-4-4.5 0-4.5 1.5-9 1.5-7.5 0-6 3-3 0.5-2.5-1-2.5-3-2.5 0-3 1.5-3 2.5-6 2-2 4.5-1.5 1.5-2.5 1.5-6 1-4.5 2-6 2.5-4.5 0-5.5 1.5-6-0.5-3 0.5-2 3.5-1 1-6 1-6 13-4.5 4.5-2.5 6-2 1.5-7.5 0-9.5-4.5-4.5-4.5-6-3-7-5-13.5-5.5-4.5-3.5-13.5-5.5-4.5-1-6 0-4.5-2-9 0-7.5 1-7.5 3.5-4.5 0.5-9 3.5-4.5 0-8.5 6.5-5.5 3-8.5 2-1.5 1.5-3 4.5-6 1.5-4.5 4-4.5 1.5-6 0-4.5 1.5-6 3-9 0-4.5 1.5-1.5-0.5-3-1.5-6 2-4.5-2-10.5-1-1.5-0.5-2-2.5-5.5-2-5.5-5.5-1-1.5-2-7.5-2-1-4.5-0.5-12 2.5-12 4-6 1-7.5 3-8.5 0-19.5 7.5-7.5 0-9 4-6-1.5-2.5 5-2 1.5-6-1-3 1.5-3 0.5-6-1.5-6 1-9-1-7.5 1.5-4.5-1-7.5 2-16.5-2-1.5 0.5-3 2.5-9 2-6 3.5-6-1-2.5 1.5-14 3.5-7.5-0.5-15-2.5-6 0-12 7-18 5.5-16.5 7.5-6 0.5-4.5 2.5-4.5 1-9 5.5-6.5 3-6 7.5-7 6.5-7.5 4 0.5 3-2 3-7 3-0.5 1.5 0 4.5-4.5 4-4.5 2.5-4.5 7-7.5 5-3 1-1.5 0-4.5-2-5.5 6.5-7 4.5-5 5.5-5 2-2.5 0-3-2.5-3 2.5-1.5 0.5-12 0-2.5-0.5-3.5-2.5-4.5 1.5-3 0.5-7-1-3.5-2.5-4.5 2.5-7.5 1-1.5-1-1-3-0.5-0.5-1.5 0.5-1 1.5 0.5 6-1 2.5-1.5 0.5-6 0.5-4.5-3-3 2.5-3 0-2-1.5-0.5-1.5 3-4.5-0.5-1.5-7.5-3-2.5-4.5 0-3 3.5-6-2.5-2.5-1.5 0-3.5 4-0.5 3 0 4.5 1 3.5 1.5 2 3 1 1.5 1.5 1.5 8.5 0 1.5-1 1.5-3.5 1.5-6-2-1.5-1 0.5-7.5-2-2-5-2.5-1-4.5-1.5-2-1.5 0-4.5 4-3 0.5-2-1-1-4.5-6-4.5-0.5-1.5-2-7.5-3.5-7.5-0.5-7.5 1.5-9 0-6-1-4.5 0.5-3 4-8 1.5-1 3-0.5 2.5-1 11.5-10.5 0-7.5 2.5-6.5 3-5.5 2.5-3 1.5-6 3.5-3.5 1.5-1 3-0.5 1.5-1-1-1.5-2-1.5-1-1.5-0.5-3 2.5-9 5.5-4.5 7-1.5 4.5 0.5 4.5-2 6 3 7.5-2.5 1.5 1 0.5 3 0.5 1.5 2 1 3 0 3-2.5 0.5-1.5-0.5-2-3-2.5 0-1.5 1.5-3 3-1.5 3-3 6-0.5 12-2.5 6 1 12 0.5 10.5-4 6-0.5 6-2 4 1.5 4.5 0 7.5 3 4.5-1.5 4.5 3 4.5-1 9 4.5 7.5 2.5 13.5 0 12-3 5-2.5 4-1 1.5 0.5 3 3.5 1.5 0.5 1.5-2 1.5-4.5-1-3 1-2.5 7.5-6.5 7.5-4.5 4.5-3.5 4.5-2 4.5-0.5 4.5-3 10.5 0.5 4.5-2 4.5 0.5 1.5-1 2.5-4 2-1 6-2 8.5-4.5 6.5-1 19-6.5 5-2.5 7.5-6 9-3.5 2 0 4 4.5 3 0 0.5-1.5-0.5-3 0.5-1.5 7-4 10.5-4.5 9-0.5 4.5 1 4.5-3 9-2.5 10.5-1 6 0.5 12-3.5 9 0 6-3 7.5-0.5 3-3 1.5 0 3.5 1.5 4 4 3 1 2.5-2.5 3-4.5 3-0.5 4.5 0.5 1.5-1 6-6 1.5-3 1.5-4.5-2-3 1.5-6 0.5-1.5 3-1.5 1.5 0.5 1.5 1 0.5 1.5-0.5 1.5-5.5 6 0 1.5 4.5 4.5 0.5 1.5 0 3 0.5 1 1.5 0.5 9-3 6 0.5 6-0.5 1.5 1 3 4 1.5-3.5 2.5-1.5 5 0 7.5-2.5 15-2 6-2 3-1.5 1.5-0.5 4.5 1.5 4.5-2 4.5-1 4.5 2 4.5 0.5 3 5 3 2 1.5 0 7.5-4 7.5-1.5 7.5-2.5 4.5-2.5 3-1 3 2 4.5 1 4.5 3.5 1.5-0.5 3-2.5 1.5-0.5 2.5 1.5 3.5 0.5 7.5-1 4.5 0.5 6-1.5 15 0 6 2.5 7.5 2 4.5 0.5 6 2.5 3 5.5 1.5 0.5 3-1.5 1.5-1.5 0.5-1.5-1-4.5 8-7.5 3-0.5 6 0 3-3 6-2.5 7.5 1 3 1.5 1.5-1 1.5-2 4.5-1 6 1 6-1 7.5 1 4.5-0.5 4.5 1 17.5-5 6 2.5 1.5-0.5 1.5-2.5 1.5-1 1.5 0.5 1.5-0.5 0.5-1 2-1.5 5-0.5 6-3.5 10.5-1.5 4.5 0 5.5-3.5 5 0.5 7.5-2.5 7.5-0.5 9-3.5 2-1 1-2.5 1.5-0.5 3 4 1.5 1 2-0.5 1-3 1.5-1 2 2.5-0.5 4 4.5 4 5 5 0 9 0.5 4.5 1.5 3-2 6-0.5 7.5-2.5 7.5 0.5 1.5 1 1.5 4 3.5 3 0.5 6-0.5 9-4 10.5-6.5 9-4 6-2 6-0.5zM964.5 233.5l3 1.5 1-1.5-2.5-1zM982.5 264.5l-0.5 0.5-0.5 1.5 2 0 1-1.5zM16.5 397l0 1.5 1.5 0.5 1.5 0 0.5-0.5-0.5-1.5-1.5-1zM34.5 406l-1 1.5 0.5 1.5 2 0.5 0.5-2zM61.5 376.5l-1.5 0-1 7 1 0.5 3-3.5 0-2zM83 413.5l-0.5 1.5 1 1.5 3.5 2 3-0.5 2.5-1.5 0-1.5-1.5-1.5-4-1.5-2 0zM87 398l-1 2 0 1.5 2.5 1 1.5-0.5 0.5-2 0-1.5-2-1zM96 405l-1.5 1-0.5 1.5 2 1 1-1zM134 311.5l2.5 1 1.5-1 0.5-1.5-0.5-0.5-1.5 0-1.5 0.5zM143 302.5l-1.5 1.5 1 1.5 3 2 2.5 5.5 2 1.5 1.5-0.5 3-5.5 0-1-4-2-2-3-1.5-0.5zM172 421.5l-1 1 1 1.5 1.5 1 1-1 0-1.5-1-1.5zM180.5 413.5l-2.5 0-1 1.5-1 3 0.5 1.5 3 0 2-1.5 1-1.5-0.5-1.5zM199 404.5l-1.5-0.5-6 3.5-1 1.5 0 1.5 1 2 1.5 0.5 4.5-1.5 1-2.5zM212.5 348.5l-1.5 1-0.5 2.5 2 2.5 1.5 0 2-1 0-1.5-1.5-3zM242.5 316.5l-3-0.5-4.5 0.5-1 2.5 0 1.5 1 1.5 4.5 0 3-2 0.5-2.5zM780 251.5l2 2 1.5 0.5 3-0.5 3 1.5 1-0.5 0.5-1.5-4.5 0-3-2.5-3 0.5zM877.5 187.5l-6 0.5-3.5 2-0.5 1.5 1 3-0.5 1.5-3 4.5 2 2 10.5-7 1-1 0.5-6zM36 412.5l-4 2.5 3 4.5 1 1 1.5-0.5 1.5-1.5 0-2-1.5-3zM86 443.5l1 3.5 7.5 1 4.5-1 0.5-0.5-1-1.5-2.5-1.5-6-3-3 1zM136.5 415.5l-1 1 1 3 10 6 1 1.5-1 3 0.5 1.5 1.5 1 1.5 0.5 2-1.5 0.5-1.5-0.5-4.5 1.5-3 0-1.5-5-7.5-1.5-0.5-3 0.5-3 4zM782.5 164.5l0.5 1.5-1.5 4.5-2.5 1-1.5-0.5-0.5-2 2-3 1.5-1zM569 169.5l1.5-0.5 1.5 1 1 2 1.5 10.5 1 3-2 1-4.5 0-0.5-1 0.5-3 1.5-3-0.5-3-2-4.5 0-1.5zM58.5 174.5l0.5 0.5 0 3-1.5 3-2 1.5-3 0 0.5 1.5 2.5 1 1.5 2 1 1.5-0.5 1.5-3.5 2.5-7.5 0-1-2.5 0.5-3 0.5-0.5 4.5-2.5 1-1.5-4-1.5 0.5-1.5 5.5-2zM308.5 174l1.5 0.5 1.5 1 2 2.5 0.5 3-1 3-1.5 0-1.5-1.5-2-7.5zM578 185.5l4.5-2 3 1.5 1.5 2 0 3-1.5 2-1.5 1-1.5 0-3-3-2.5-3zM257.5 189l4.5 4.5 1 2.5-4 4-1.5 0.5-3-7.5 0-1.5 1-1.5zM256 206l4.5 1.5 3-0.5 1 1 0.5 3-1.5 3.5-3 1-1.5 0-1.5-1.5-0.5-3-1.5-3 0-1.5zM329.5 244l1 1.5-1 1.5-1.5-0.5-0.5-1zM81.5 247l1-1.5 1.5 0 2.5 1.5 1.5 1.5-0.5 1.5-2 1-1.5-0.5-2.5-2zM43.5 248l1.5 0 1.5 2-1.5 0zM87 258l1.5 0 2 2.5 0 1.5-1.5 1.5-1 0-1.5-1.5-0.5-1.5zM69.5 260.5l2.5-1 3 1 2 1.5-0.5 1.5-3 1.5-3-0.5-1.5-2.5zM17 265l1-1 1.5 0.5 0.5 0.5-0.5 1.5-1.5 0zM865.5 314.5l1 1.5-1.5 4.5-1 1.5-3 0.5-0.5-0.5 0-1.5 2.5-3 1-2.5zM815 348.5l1.5-0.5 3 0.5 1-0.5 1.5-3 1.5 0 3 1.5 1 1-0.5 4.5 0.5 4.5-0.5 1.5-2 1-3 0-8.5-4-0.5-1.5 0-1.5zM0 460.5l1.5-1 1.5 0.5 5.5 4.5-2.5 1.5-4.5 1-1.5-0.5zM33 462l2 1-0.5 4.5 2 3 1 3-1.5 2.5-4.5 4.5-3 0.5-1-1.5 1.5-3 2.5-7.5-0.5-6zM40.5 463l3 1.5-0.5 1.5-2 0-1.5-1.5zM13.5 466l1.5 0 2 1.5 0 1.5-2 0.5-2-2zM21 477l1.5 1 2 3-2 1.5-1.5 0-1.5-1.5 0-2.5zM220.5 578l2.5-2 7.5-1 10.5 4.5 1.5 0 6-1.5 3 0.5 3 1.5 4 4 3 7.5 0 6-2 6-41 0 0-10.5 1-12z"/>
<path fill="#B0C6FC" d="M206.5 40.5l1.5-3 3-2 3-1 10.5 3.5 4.5 2.5 0 1.5-1.5 1.5-4.5 1.5-4.5 3.5-3 1-3-0.5-2.5-2.5-2-2zM206.5 154.5l1.5-0.5 1.5 1 0.5 1-0.5 1.5-1.5 0.5-1.5-0.5-0.5-1.5zM744 238l-2.5 4.5-0.5 4.5-3 3-1.5 4.5-2.5 1.5-9 0-1.5 1-2.5 3.5-2 1.5-7.5-2-4.5 0-4.5 2-4.5 0.5-4.5 3.5-3 1-7.5 0.5-4.5 1.5-12 0-6 2-3-0.5-3-1-1.5 0-4.5 5.5-3 2-3.5 0-4-1.5-4.5 4.5-4.5-0.5-3 0.5-4.5 2-4.5 1-10.5 3.5-15 15.5-3-0.5-6-1.5-7.5 1-7.5 3.5-7.5 0.5-10.5 4.5-12 0-7.5 4-18 5.5-6 0.5-6 3.5-1.5 0-7-1-4.5 1.5-4.5-0.5-4.5 1-16.5-3-1.5 1.5-1.5 3-1.5 1.5-6 2-4.5 0.5-4.5 1.5-15-4-3-1.5-3-4-5-10-1-12 1.5-4.5 0.5-3-2.5-4.5 0-3 5-7.5 11.5-9 3-9 3.5-3 7.5-2.5 4-5 2-1 6-2.5 1-1 1-4.5 2.5-1.5 3-0.5 6 0.5 6-5 9-4.5 4.5 0 13-4 3 1.5 1.5 2.5 1.5 0 3.5-4 2.5-1 6 1 6-0.5 7.5-2 10.5-0.5 3-3.5 1.5-0.5 7.5 0 3 1 12 1 1.5-0.5 4-3.5 3.5-1 4.5 0 6 3 4.5-2 1.5 0.5 4.5 2.5 3 1 4.5-2 4.5-1 6 2 9-5.5 1.5 0 7.5 4 7.5-1.5 6 1 7.5-5.5 1.5-4.5 10.5-3 9-1 6 1 6-1 7.5 1 1.5 1.5-3 6-0.5 4.5 0.5 2 6 3 3 1 7.5-0.5 4.5 1 6-2.5 1.5 0.5 1.5 1.5 0.5 3 5.5 4.5 1.5 0.5 4.5 0zM466 248.5l1.5 2 1.5-0.5 1.5-1.5-1.5-1.5-1.5 0.5zM513 244l1 1.5 1 1 1.5 0.5 1-1.5-1-1.5-3-0.5zM793 206.5l0.5-1.5 2-0.5 0.5 0.5-0.5 2-1.5 0zM967.5 212.5l3-3 9-2.5 6 0 0 12-4.5 2-4.5-0.5-7.5-3.5-2-3zM717.5 209.5l1.5 0.5 0.5 2.5-0.5 1.5-1.5 1.5-1.5 0.5-1.5-2 0-3 1.5-1.5zM807.5 217.5l1 1 0.5 1.5-0.5 7.5-1 3-1.5 1-7.5 1.5-3 3-1.5 0-3-4 0-4.5 3-6 1.5-4.5 1.5-1 6 0zM852 229.5l0.5 1-1 3 0.5 1.5 2.5 4.5-2.5 1-6 1-2-2-0.5-3 0-1.5 7-5.5zM413 251.5l0.5 3-0.5 1.5-2.5 1.5-1.5 1.5-1 7.5-6 7.5 0 4.5-1.5 6 1 3-1 1.5-4 1.5-2.5 4.5-4 1.5-2 3.5-4.5 0-3 2-5 5-1.5 4.5-1 1.5-3 0.5-6-1-7.5 0.5-3.5 4.5-5.5 2-7.5 6.5-8.5 6.5-7 10.5 0 1.5 0.5 3-3 0.5-7.5-2-9 2.5-10.5 7.5-3 1.5-12 3.5-7.5 0-3 1.5-6 1-7.5-1.5-1.5-0.5-3.5-6.5-5-1.5 0.5-9 2-10.5 4.5-15 1.5-2 4.5-1.5 3-3 12-8 1.5-2 2-4.5 4-0.5 12 2 1.5-0.5 1.5-2.5 1.5-1 4.5 1 1.5-0.5 1.5-1 1.5-4 1.5-0.5 6 1.5 4.5-3.5 4.5-1 6-2.5 4.5-4 4.5 0 4.5-1.5 7-1 5-5.5 6.5-2 2.5-1.5 6-7.5 6-4 3-3 7.5-3 9-8.5 3-1.5 3 0 3 1 6 5.5zM263.5 341.5l-3-0.5-1.5 0.5-1.5 1.5 0 1.5 1.5 4.5 1.5-0.5 0.5-1 2.5-3 1-1.5zM266.5 332.5l0 4.5 1.5 1.5 1.5-1.5 0.5-3-2-2zM863.5 257.5l-1 7.5-6 9.5-3 1-7.5-0.5-4.5 3.5-4.5 1.5-3 3-7.5 4-4.5 3.5-9 1.5-2.5 5-1.5 0.5-6-1-3 0-5 3-7 3.5-3-0.5-4-3-8-4-9-1.5-3-5-3.5-1.5-1-3.5-4.5-3-1.5-2.5-1-4.5 1-1.5 5 4.5 8.5 4.5 0.5 1.5 0.5 4.5 2 2 1.5 0 1.5-2 0.5-1.5-2.5-6-0.5-4.5 1-3 4-3 3.5-0.5 3 2 4.5-1 4.5 0.5 4.5-1 4.5-2.5 4.5-0.5 1.5-6 6-5.5 1.5-0.5 3 0 4.5-2 7-1.5 3-1 4.5-3.5 4.5 0.5 4.5-2.5 3-1 3.5 2 0.5 1.5 0 4.5 2 2.5 1.5 0.5 4.5-2 3 0.5 2.5 1.5zM930 281l3 2-1.5 1-1.5-0.5zM212 334l0 1.5-5.5 3.5-5 5.5-0.5 1.5 1 4.5 4.5 4.5 2.5 7.5 0 1.5-2.5 3-0.5 4.5-5.5 2-3 4.5-3 2.5 0 4.5-1 1.5-5 0-0.5 1.5 2 1.5 1 1.5 0 6-1 1.5-7 6-3.5 0-3-1-1.5 0.5-3 5-14.5 4.5-11-7.5-2.5-5.5-1.5-1.5-4.5-0.5-4.5-5.5-1.5-0.5-6.5 1.5-0.5 3-0.5 1-3.5 2 0.5 1.5 1.5 1 1.5 0 3-1 1.5 0.5 1.5 2.5 0 1.5-1.5 0.5-4.5-1.5-6 3.5-1-1 0-3-0.5-3-1-6-0.5-1.5-0.5 1.5-2.5 2-3 1-1.5 0-7.5-5.5-8.5-3.5-3.5-9.5-1.5-1-3-0.5-1-1-1-3-3.5-4.5-2.5-4.5-0.5-3 1.5-3-0.5-1-4-2-3-4.5-0.5-1.5 3.5-4.5 1.5-4.5 4-3.5 1.5 0.5 3 6 1.5 1.5 1.5 0.5 2-2 0-1.5-2-2.5-1.5-4-2.5-2.5-0.5-1.5 1.5-0.5 4.5-4 3 2 4.5-0.5 1.5-1 2.5-5 3.5-2.5 1.5 0 3 1 4.5 0 3 2 3 1 4.5-1 4.5-1 4.5 0.5 3-2 1.5 0 3 1.5 3.5 0.5 1 1.5 1 4.5 3.5 2.5 6-10.5 3-1.5 3-3.5 5-0.5 3.5-4 3-1 15 4 3 1 4.5 3 3.5 4.5 2.5 6 3 4 6-1.5 2.5 0.5zM108.5 341.5l-0.5-1.5-1.5-0.5-3 1.5-6 0-6 2-0.5 1.5 2 3 1.5 1 7.5-1 6.5-4.5zM135.5 382l5.5 4.5 1.5 0 1-1.5 0.5-1.5-1.5-2-3 0zM87.5 352l0 1.5 0.5 1.5 3.5 3 0.5 1.5-1 4.5 3.5 6 1.5 1 7 0.5 2 1 4.5-2 0.5-2-0.5-1.5-1.5-1.5-4-1.5-1-1.5-1-6-4.5-2-4.5-4.5-4.5 1zM105 374l-1.5 0.5-1.5 1.5 0 1.5 1.5 0.5 2-2zM66.5 386.5l1-0.5 2 0.5 0.5 1.5-1 1.5-2.5-1.5zM39 388l3-1.5 1 1.5 0 1.5-2.5 0.5-1-0.5zM24 390.5l2.5 0.5 0 1.5-1.5 0-1.5-1.5zM75 401.5l1.5 1.5-3.5 9 0 3-2 6-3.5 1.5-6-1-1.5 0.5-3 4-3-0.5-1.5-1-0.5-2 2-3.5 4.5-2 2-2 4-0.5 2-1 1-1.5-0.5-1.5-2-4.5 1.5-3 4-3 1.5 0zM43.5 404.5l1.5-2 1.5 0.5 1.5 1.5-1.5 1.5-1.5 0zM117 414l1.5-1 1.5 0.5 3 3 0.5 3-0.5 2-1.5 0-4.5-3.5-1-1.5zM75 422l2 3.5-0.5 1.5-1.5 0.5-1.5-0.5-0.5-1.5 0.5-2.5zM82 425.5l2-1.5 1.5 0.5 1 2.5-1 1.5-1.5 0-2-1.5zM110 433l1-2 1.5-1.5 2.5 0.5 3.5 2.5 4.5-3.5 3-0.5 3.5 1.5 2.5 4.5 3.5 4.5-0.5 1.5-6 2.5-1.5 0-3-7-1.5-0.5-2 0.5-1 1-1.5 0-7-2.5zM74 434.5l2.5-1 3.5 1 1 1.5 0 1.5-3 1.5-3-0.5-1-1zM123 445.5l3-1 0.5 0.5 0.5 1.5-1 1.5-1.5 0-2-1.5zM225.5 581l2-1.5 3-0.5 10.5 4.5 1.5 0 6-3.5 4.5 1 3.5 3 3 6 1 6-1.5 4.5-2.5 3-35.5 0 2-15 1.5-6z"/>
<path fill="#8C98FC" d="M649.5 245.5l-1 2.5-11.5 0.5-1-1.5 6.5-2 3-2 1.5 0 1.5 0.5zM512 256l-1.5 3-3 3 3 0.5 3.5 2.5 2.5 1 1.5 2 0 1.5-4 6-4 3-2 4.5-1 1.5-5.5 1.5-3 3.5-4.5 1.5-5.5 4.5-6 2-6 4.5-5 2-4 5-1.5 0.5-6-1-4.5 0-9-2.5-1.5-1-2-5.5 1.5-4.5-0.5-1.5-3-4.5-0.5-4 1.5-0.5 3 1.5 3-0.5 3.5-7 7-6 3-3.5 7.5-7.5 1.5-1 6.5-1.5 1-1.5 1.5-3 1.5-1 4.5 0.5 4.5-0.5 4 0 3-1.5 1.5-0.5 6 2.5 4.5 0.5zM582 260.5l0 3-2.5 2-7.5-1.5-3 1-9 11-6 1.5-2-0.5-1.5-3-3-3-0.5-1.5 1-3 3-4 7.5-3.5 4.5-4 7.5-4 1.5 0 1.5 1 1.5 2.5 6 4.5zM841 254.5l3.5 7.5-0.5 1.5-1 1-4.5 1-7.5 7.5-9 4-2.5 0-4.5-3.5-3-7 0-1.5 1-1.5 3.5-2 3-4.5 1.5-1 11.5-2.5 6 0zM395.5 281.5l-1.5 2-7.5 0-3 1-4.5 3-3 4-9 6-3 1-1.5 0.5-1.5-1-8.5-7.5-0.5-1.5 0.5-1.5 6-7.5 11.5-7 6-2 6 0 3 1 6 6.5zM522.5 277l1.5 0 1.5 1 1 2-1 1.5-1.5 0-1.5-1.5-0.5-1.5zM298 317l3 2 2.5 3 1 9-1 6-3.5 9-2.5 4.5-5.5 4-9 2.5-4.5-0.5-4.5-4.5-0.5-1.5-0.5-6 4-21 1-1.5 9.5-6 4.5-0.5zM164.5 342.5l3 0.5 1.5 0.5 4.5 4 1.5 3 6 2 1.5 1-0.5 4.5 0.5 1.5 4.5 1.5-1 9-2 3-1.5 4.5-3 3-6 8.5-3 1.5-1.5 0-2-1-3.5-4-7.5-2.5-4.5-3-4.5-1.5-7.5-4-4-6 0-1.5 5.5-6 3-1 2.5-3.5 3.5-2 6-4.5 1.5-2.5 0-3zM114 357.5l0.5 0.5 1 1.5-1.5 2.5-1.5 0-1-1 0-1.5zM126 361.5l1 1 0 3-1 2-1.5 0-1-2 0.5-3zM84 365.5l1.5-0.5 1.5 1 1.5 2.5 0 2-1.5 1.5-1.5 0-2.5-2-0.5-3zM123 373.5l1.5 2.5-1 1.5-0.5 0.5-1.5-0.5-0.5-1.5 0.5-1.5zM162 395.5l1.5-0.5 0.5 0.5 0.5 2-1.5 1-1.5-1.5zM250 582.5l2 0 2.5 1.5 3.5 7.5 0.5 3-0.5 3-2 3-1.5 1-3 0-3.5-2.5-3-7.5 0-3 2.5-4.5z"/>
<path fill="#6868FC" d="M490.5 280l0.5 3-0.5 1.5-3.5 5.5-9 4.5-6 4.5-9 4-7.5-1-2.5-1-0.5-3 1.5-10.5 1.5-1.5 3 0 3-1 6-5.5 9-4.5 6 1 6.5 2.5zM373 279.5l0.5 2-1 4.5-8.5 6-3-0.5-1.5-2.5 0-1.5 1.5-3.5 4.5-4 3-1.5 3 0zM290.5 319l4.5 1.5 3 3 1.5 3 1 6-3.5 12-3.5 4.5-3 1.5-3-0.5-6-4.5-1.5-2.5-0.5-3 0.5-7.5 1.5-6.5 4.5-5zM164.5 354l3 0 6 4 2.5 3 0 4.5 1 4.5-0.5 1.5-6 7-1.5 1-8.5-1.5-4.5-2.5-5.5-1-2.5-1.5-2-3 0.5-1.5 6.5-6 1.5-3.5 1.5-0.5 3 1 1.5-1 2-3.5zM251.5 588.5l1.5 0 2 3 0.5 3-1 2-1.5 0.5-1.5-1-1.5-3-0.5-3z"/>
<path fill="#0034FF" d="M290.5 322l3 1 2 2 1.5 3 0.5 4.5-2.5 9-3 2.5-3 0.5-2.5-1.5-1-1.5-2-10.5 1-3 1.5-3 3-2.5z"/>
<path fill="#0014DC" d="M290.5 326l1.5 0.5 1.5 1.5 1 4.5-2 6-2 1.5-1.5-0.5-0.5-1-1.5-6 1-4.5z"/>
<path d="M63.6 599.3L70.3 595.1L80.3 588.5L86.9 580.1L91.1 570.1L91.1 558.5L88.6 546.8L83.6 536.9L77.0 526.9L68.6 516.9L62.0 506.9L57.0 496.9L55.3 488.6L58.6 480.3L65.3 472.0L73.6 464.5L81.9 458.6L88.6 459.5L93.6 463.6L96.9 468.6L98.6 473.6L101.1 477.8L99.9 472.0L100.3 464.5L106.9 462.0L116.9 457.0L130.2 452.0L133.5 447.0L136.9 449.5L146.8 446.2L158.5 440.3L170.1 432.0L180.1 422.0L188.5 410.4L193.4 400.4L192.8 407.1L200.3 394.5L208.6 381.1L214.5 366.2L212.0 361.2L202.0 357.8L207.0 351.2L212.8 344.5L210.3 337.9L208.6 329.5L203.7 319.6L198.7 309.6L191.2 301.3L192.0 294.6L200.3 286.3L208.6 278.0L218.6 273.8L217.0 270.5L207.0 270.5L197.0 271.3L188.7 273.0L185.3 268.0L182.9 263.0L175.4 259.7L172.0 254.7L175.4 250.5L183.7 248.0L192.0 241.3L200.3 233.9L208.6 229.7L215.3 231.4L217.0 236.4L212.0 242.2L212.8 246.3L220.3 248.8L230.3 246.3L240.3 243.8L246.9 245.5L250.3 251.3L248.6 256.3L245.3 259.7L250.3 263.0L258.6 267.1L261.9 273.0L260.2 278.0L261.1 286.3L260.2 294.6L258.6 301.3L261.1 306.3L266.9 304.6L275.2 299.6L283.5 295.4L287.7 288.8L288.2 279.6L285.2 271.3L281.9 263.0L276.9 254.7L272.7 248.0L270.2 244.7L273.5 239.7L281.9 234.7L288.5 228.0L291.9 221.4L293.5 214.7L300.2 208.9L306.8 206.4L300.4 207.6L311.4 202.1L324.1 205.8L336.9 200.3L349.7 187.5L362.5 172.9L373.5 160.1L382.6 149.2L391.7 138.2L397.2 125.4L399.9 112.6L402.7 101.7L406.3 94.4L407.2 85.2L402.7 79.8L395.4 72.5L389.9 69.7L382.6 70.6L377.1 76.1L369.8 76.1L364.3 71.5L360.7 65.2L353.4 63.3L347.0 60.6L353.4 56.0L364.3 49.6L373.5 41.4L384.4 32.3L397.2 23.1L410.0 14.0L424.6 7.6L439.2 5.8L455.7 6.7L473.9 6.7L484.9 3.1L494.0 4.0L505.0 6.7L510.4 11.3L523.2 8.5L536.0 6.7L539.7 4.9L536.0 0.3L545.1 -4.3M0.4 558.5L7.1 559.3L17.0 566.8L25.4 576.8L33.7 586.8L40.3 595.1L48.7 599.3L50.3 602.6M84.4 491.1L86.9 484.4L93.6 480.3L101.9 479.4L106.1 482.8L105.2 490.3L100.3 497.8L92.8 501.9L86.9 499.4L84.4 491.1M199.3 447.0L200.1 437.0L204.3 425.4L210.1 417.0L214.2 417.9L213.4 428.7L210.9 440.3L206.8 450.3L202.6 453.7L199.3 447.0M201.8 498.6L208.4 496.9L216.7 500.3L218.4 508.6L220.1 516.9L216.7 525.2L213.4 533.5L215.1 543.5L213.4 551.8L208.4 556.8L204.3 557.7L202.6 550.2L199.3 545.2L196.8 538.5L195.1 530.2L198.4 525.2L200.1 516.9L200.9 506.9L201.8 498.6M201.8 560.2L205.9 558.5L210.1 566.8L208.4 573.5L204.3 568.5L201.8 560.2M216.7 553.5L221.7 548.5L226.7 553.5L231.7 558.5L233.4 563.5L228.4 560.2L223.4 556.8L218.4 556.8L216.7 553.5M240.0 571.8L246.7 570.1L250.0 576.8L248.4 585.1L250.0 591.8L245.0 596.8L241.7 588.5L243.4 580.1L240.0 571.8M216.7 581.8L221.7 583.5L225.1 590.1L226.7 598.4L221.7 598.4L218.4 590.1L216.7 581.8M183.5 600.1L188.5 591.8L191.8 598.4M233.4 599.3L236.7 595.1L240.0 600.1M257.4 318.7L259.4 316.7L261.4 318.7L259.4 320.7L257.4 318.7M291.0 321.2L295.2 317.1L301.8 314.6L304.3 316.2L301.8 321.2L303.5 326.2L308.5 322.9L311.0 326.2L310.2 334.5L307.7 341.2L304.3 344.5L300.2 342.0L296.8 338.7L297.7 332.9L300.2 329.5L296.8 326.2L293.5 325.4L291.0 321.2M304.3 310.4L310.2 306.3L318.5 301.3L326.8 297.1L336.8 292.9L346.8 291.3L355.1 286.3L360.1 279.6L365.1 278.0L371.7 273.0L380.1 268.0L386.7 259.7L390.0 249.7L393.4 239.7L394.2 231.4L397.5 226.4L403.4 228.9L410.0 234.7L412.5 243.0L410.0 253.0L405.0 259.7L401.7 268.0L400.0 278.0L399.2 286.3L400.0 291.3L395.0 296.3L392.5 292.1L388.4 296.3L383.4 298.8L378.4 299.6L371.7 302.9L365.1 302.1L360.1 306.3L356.8 312.9L351.8 317.9L348.4 314.6L349.3 307.9L346.8 304.6L340.1 304.6L333.5 306.3L326.8 306.3L321.8 309.6L316.8 308.7L310.2 312.1L304.3 310.4M320.1 319.6L323.5 312.9L330.1 310.4L336.8 308.7L339.3 312.9L335.1 317.1L328.5 319.6L325.1 324.6L321.0 325.4L320.1 319.6M396.7 222.2L392.5 213.0L391.7 206.4L395.4 204.0L404.5 198.5L408.2 185.7L410.0 175.7L415.5 177.5L421.0 183.9L430.0 191.2L441.0 193.0L445.6 198.5L441.0 204.0L431.9 207.6L424.6 213.1L417.3 209.4L410.0 211.3L402.7 214.0L400.0 219.7L396.7 222.2M410.0 79.8L417.3 77.0L422.8 75.2L425.5 81.6L426.4 94.4L430.1 107.2L433.7 119.9L434.6 127.3L428.3 130.0L422.8 134.6L419.1 143.7L421.9 152.8L424.6 158.3L417.3 162.0L414.6 165.6L411.8 160.1L412.7 145.5L413.6 130.9L412.7 116.3L410.0 101.7L408.2 88.9L410.0 79.8M366.5 60.6L369.8 57.3L373.1 60.6L369.8 63.9L366.5 60.6M609.1 -4.3L605.4 1.2L596.3 6.7L583.5 14.0L570.7 21.3L559.8 28.6L550.6 37.8L546.1 48.7L546.1 57.8L548.8 68.8L552.5 81.6L554.3 92.6L557.9 107.2L563.4 103.5L568.9 96.2L574.4 88.9L581.7 81.6L589.0 76.1L592.6 68.8L601.8 65.2L610.9 61.5L609.1 54.2L614.6 46.9L621.9 43.2L618.2 35.9L620.0 28.6L614.6 23.1L616.4 15.8L621.9 8.5L625.5 1.2L629.2 -4.3M938.8 66.2L944.0 62.0L948.8 61.2L944.0 65.0L938.8 66.2M956.3 58.7L966.3 53.7L978.8 51.2L972.0 56.0L962.0 59.0L956.3 58.7M962.0 5.0L966.0 8.0L978.8 15.0L982.5 10.0L990.0 12.0M905.0 2.0L915.0 5.0L925.0 2.0M700.0 3.0L712.0 6.0L722.0 3.0M633.0 2.0L640.0 7.0L652.0 5.0L660.0 2.0" fill="none" stroke="#fff" stroke-width="3.0" stroke-linejoin="round" stroke-linecap="round"/>
</svg>
<path d="M1349.6 897.6v-10M1349.6 1498.4v10M1349.6 897.6h-10.5M2333.6 897.6h9.5M1546.4 897.6v-10M1546.4 1498.4v10M1349.6 1017.8h-10.5M2333.6 1017.8h9.5M1743.2 897.6v-10M1743.2 1498.4v10M1349.6 1137.9h-10.5M2333.6 1137.9h9.5M1940 897.6v-10M1940 1498.4v10M1349.6 1258.1h-10.5M2333.6 1258.1h9.5M2136.8 897.6v-10M2136.8 1498.4v10M1349.6 1378.2h-10.5M2333.6 1378.2h9.5M2333.6 897.6v-10M2333.6 1498.4v10M1349.6 1498.4h-10.5M2333.6 1498.4h9.5" stroke="#000" stroke-width="4.2" fill="none"/>
<rect x="1349.6" y="897.6" width="984" height="600.8" fill="none" stroke="#000" stroke-width="4.2"/>
<text x="1350.1" y="1563" text-anchor="middle" font-size="48">100<tspan dy="-23.5" font-size="34.5">o</tspan><tspan dy="23.5">E</tspan></text>
<text x="1546.9" y="1563" text-anchor="middle" font-size="48">120<tspan dy="-23.5" font-size="34.5">o</tspan><tspan dy="23.5">E</tspan></text>
<text x="1743.7" y="1563" text-anchor="middle" font-size="48">140<tspan dy="-23.5" font-size="34.5">o</tspan><tspan dy="23.5">E</tspan></text>
<text x="1940.5" y="1563" text-anchor="middle" font-size="48">160<tspan dy="-23.5" font-size="34.5">o</tspan><tspan dy="23.5">E</tspan></text>
<text x="2137.3" y="1563" text-anchor="middle" font-size="48">180<tspan dy="-23.5" font-size="34.5">o</tspan><tspan dy="23.5">W</tspan></text>
<text x="2334.1" y="1563" text-anchor="middle" font-size="48">160<tspan dy="-23.5" font-size="34.5">o</tspan><tspan dy="23.5">W</tspan></text>
<rect x="2386" y="1452.2" width="38.4" height="36.9" fill="#0000B8"/>
<rect x="2386" y="1415.9" width="38.4" height="36.9" fill="#0014DC"/>
<rect x="2386" y="1379.6" width="38.4" height="36.9" fill="#0034FF"/>
<rect x="2386" y="1343.4" width="38.4" height="36.9" fill="#6868FC"/>
<rect x="2386" y="1307.1" width="38.4" height="36.9" fill="#8C98FC"/>
<rect x="2386" y="1270.8" width="38.4" height="36.9" fill="#B0C6FC"/>
<rect x="2386" y="1234.5" width="38.4" height="36.9" fill="#D6E0FA"/>
<rect x="2386" y="1198.2" width="38.4" height="36.9" fill="#F8F8F8"/>
<rect x="2386" y="1161.9" width="38.4" height="36.9" fill="#FFE8CA"/>
<rect x="2386" y="1125.6" width="38.4" height="36.9" fill="#FFCC9E"/>
<rect x="2386" y="1089.3" width="38.4" height="36.9" fill="#FF9472"/>
<rect x="2386" y="1053.1" width="38.4" height="36.9" fill="#FF5040"/>
<rect x="2386" y="1016.8" width="38.4" height="36.9" fill="#FF0000"/>
<rect x="2386" y="980.5" width="38.4" height="36.9" fill="#D40000"/>
<rect x="2386" y="944.2" width="38.4" height="36.9" fill="#AC0000"/>
<rect x="2386" y="907.9" width="38.4" height="36.9" fill="#800000"/>
<text x="2436.3" y="923.5" font-size="44">3</text>
<text x="2436.3" y="1020.3" font-size="44">2</text>
<text x="2436.3" y="1117" font-size="44">1</text>
<text x="2436.3" y="1213.8" font-size="44">0</text>
<text x="2436.3" y="1310.6" font-size="44">-1</text>
<text x="2436.3" y="1407.3" font-size="44">-2</text>
<text x="2436.3" y="1504.1" font-size="44">-3</text>
<path d="M2386.5 1005h6M2423.9 1005h-6M2386.5 1101.7h6M2423.9 1101.7h-6M2386.5 1198.5h6M2423.9 1198.5h-6M2386.5 1295.3h6M2423.9 1295.3h-6M2386.5 1392h6M2423.9 1392h-6" stroke="#000" stroke-width="2.2" fill="none"/>
<rect x="2386.1" y="908.2" width="38.2" height="580.6" fill="none" stroke="#000" stroke-width="2.1"/>
<text x="1300" y="856.7" font-size="52">D</text>
<text x="1891.8" y="854.7" font-size="51.6" text-anchor="middle" style="white-space:pre">Precipitation anomaly</text>
<svg x="132" y="1713.6" width="984" height="600.8" viewBox="0 0 984 600.8" overflow="hidden">
<rect width="984" height="600.8" fill="#F8F8F8"/>
<path fill="#FFE8CA" d="M600.5 6l4.5 4.5 1 3 0.5 3-0.5 3-5.5 10.5-6 7.5-13 13.5-5 3.5-5.5 5.5-3 6-14.5 16.5-9 12-3.5 7.5-3.5 2-3-0.5-2-1.5-1.5-6-2.5-6 0-6-4-7.5-1-4.5 0.5-4 4.5-3.5 0.5-1.5 0-15 2-7.5 1.5-3 5.5-6 5.5-4 2.5-5 2.5-3 7-5.5 6-2 3-1.5 7.5-6.5 15-3 9 2.5zM893 0l92.5 0 0 79-9 6-1.5 0-10-5.5-5-1-7.5-3.5-6-2-6-3-9-2-2-2-2.5-4-7.5 0-5-3.5-9.5-12-4-15-2.5-3-1.5-3-0.5-4.5-2.5-6 0.5-3-1.5-6zM0 11.5l6-2 3 2 3 0.5 7.5-3 6 1.5 7.5 0 4.5 3.5 1.5 0 2.5-3.5 2-0.5 4.5 0 13.5-2.5 4.5-5.5 1.5 0 4.5 1.5 4.5 4 3 1 6-1.5 13.5 0 16.5-5 7.5 2 6 0 10.5 2.5 6 3 6 2 6 4 7 1.5 6 5 1.5 0.5 4.5-0.5 3 1.5 6 13.5 3 5 0 5 1 1 3.5 1 3 2 3 5.5 3.5 3.5 2.5 6 1.5 9-4 13.5-8 9-4 4.5-1.5 4.5-1.5 1.5-6.5 2.5-7.5 0-9 7-10 3-6 0-7.5-2.5-6 0-6 1-6-2.5-7.5-1-6 0.5-7.5-1-6-2-7.5 1-1.5-0.5-3-4-1.5-1.5-4.5-1-7.5-3-9 0.5-1 3.5-2 1-1.5 0-1-1-0.5-1.5 2-3 0-1.5-4-3-5.5-2.5-9-1.5-16.5-11-7.5-0.5-7.5-3.5-7.5 0zM364.5 22.5l-1.5 3-5 5-9 3.5-7.5 2-6-1-6-3-10.5-1.5-6-3-9-2.5-4.5-3.5-1.5-3 0-2 1-1.5 4-1.5 4-5 6-2.5 6-0.5 7.5-2 4.5 1 4.5-1 1.5 0.5 3 2 6 0.5 3-1 3-3.5 1.5-0.5 7 7.5zM861 16.5l0-1.5 1.5-1.5 1.5 1 0 2-1.5 0.5zM854.5 22.5l-0.5 3-2 1.5-4.5-0.5-1.5-1 0.5-1.5 1.5-1.5 2.5-1.5 3 0.5zM905 123l1-1 1.5 0 0.5 1-2 1zM915.5 129l0-1.5 2.5-1.5 1.5 0 3 1.5-0.5 1.5-2.5 1.5-3-0.5zM985.5 135l0 40.5-3 1-6.5 4.5-5.5 1-3 1.5-9.5 8-3.5 6-6.5 4-3 1-6-1.5-4.5 0.5-3 2-4 6-5 4-3 1-6 0-7.5 2-4.5 4-9 3.5-9 1.5-4.5 0-4.5 0.5-3-0.5-2-2.5-0.5-6-1-1.5-2.5-2-1.5 0-1.5 1-1.5 2.5 0.5 10.5-1.5 1.5-8 5-16.5-0.5-9 2-20.5 3-16.5 0-12 2.5-4.5 0-6 2-9-1-8-2.5-6.5-6-2-3-4-12-1.5-1.5-5-2.5-7.5-6-1.5-2.5-2-5.5 1-10.5 1-3 12-5 3-4 4.5-4 16.5-7 4.5-4.5 3-1.5 6 0 12-1 7.5 0 7.5-6 7.5-1 6-2 7.5 2 8.5-6 3-1 3 1 3 3.5 3 1.5 4.5 0 6-2 17.5 3 2 1 3 3.5 1.5-0.5 3-4.5 12-0.5 1.5-0.5 1.5-2.5 4.5-1.5 7.5-4 12-1 13.5 0.5 9-2 4.5 2.5 3 0.5 6-2 6 0 10.5-7 1.5-0.5 10.5 2zM822 184l-0.5 1.5 0.5 3 1.5 1 1.5 0.5 1-1.5-0.5-3-2-1.5zM963 150.5l-9 2-1 2 1 3 1 7 0.5 2.5 1.5 1.5 1.5 0 6-3.5 1.5-1.5 0-1.5-2-4.5 0.5-5.5zM396 157.5l0.5 3-1 1-3 2-1 4 1 1.5 3 1.5 1.5 2 1 2.5-0.5 3-3.5 6-4.5 4.5-3 6.5-5.5 2.5-5 6-8.5 4.5-4 7.5-2.5 2-6.5 2.5-4 2.5-7.5 2.5-6 5-6 3.5-3 1-6 0-6 2-6 0-4.5 1.5-10.5 9-4.5 8-6 2-3 4.5-1.5 1-4.5 1-7.5 3.5-7.5 7-4.5 1-6 3-16.5 2-6 3.5-1.5-0.5-4-3-2-0.5-9 2-6 3-4 6-4.5 4.5-2 1-18 1-2 1-5.5 4-3 1-4 0.5-6-1.5-6 0.5-9-1-12-6.5-3-1-1.5 0.5-1.5 2 0 3-1.5 3-3.5 4.5-10 6-7.5 2-7.5 0.5-6 2-2 1.5-2.5 5.5-4.5 1.5-6-2-4.5-0.5-4.5-2-7.5-0.5-8.5-6.5-3.5-6-1-4.5 2-4.5 7-6 3.5-4.5 2-0.5 6 0 7.5 3 1.5-0.5 4.5-3 1.5-0.5 7.5 1.5 7.5-1.5 7.5 2.5 15 1.5 3-1 2.5-3 0.5-1.5 1.5-10.5-0.5-7.5 4-13.5 4-10 1.5-2 1.5-1 4.5-1.5 1.5-1.5 1.5-5 1.5-2 1.5-1 2 0 3 4.5 5.5 2 4.5 4 3 0.5 1.5-0.5 0.5-1.5 2-6 1.5-1.5 4.5-1 5-2 11.5-2 12-6 10.5-1 12 1.5 6 0 7.5 2.5 10.5 2.5 7.5 0 12 4.5 1.5 0 5.5-6.5 6.5-4 6-6 12-2.5 2.5 0.5 2 2 1.5-0.5 1-7.5 9.5-9 18-11 6.5-5.5 2.5-0.5 3 0.5 1.5-0.5 2.5-4 3-6 2-1.5 13.5-3.5 3-1.5 5-5 13-4.5 4.5-0.5zM401 196l2-4.5 3-2 6-1 6-2 4.5 0.5 4.5-0.5 3 0.5 7.5 4 2 3.5 3 3 0.5 1.5-1.5 3-10 4-6 4.5-4 0.5-5 0.5-7.5-3-3-1.5-4-6.5zM985.5 392l0 194-4.5 1-4.5 1.5-10.5 8-4.5 1-7.5 1-8 3.5-5.5 1.5-940.5 0 0-104.5 10.5 0 6-2.5 7-5 2-3 1.5-1 6-0.5 10.5-4 6-3.5 4.5-4.5 12-8 4.5-2 6 0 1.5-0.5 7.5-7.5 7.5-1 7.5-3.5 4.5-3.5 9-3 7.5-4 3-0.5 6 0.5 6-2.5 10.5-2.5 4.5-2.5 6-1.5 8.5-4.5 7.5-0.5 16.5-5 7.5-1 10-5.5 8-3 10.5-5.5 9-2 7.5-3.5 18-4.5 14.5-2.5 5-2.5 13.5-5.5 6 0 7.5-1 7.5 0 12-1.5 7.5 0.5 9-4 9 1 9-2.5 7.5 1 6-1 21-2.5 7.5-2 12 2 9-0.5 6 2 7.5-0.5 9 2 12 1.5 12 0.5 12 2.5 10-2 16.5-2 6 0.5 9-3.5 6-1 10.5-4.5 9-1.5 7.5-3 9-1.5 18-8.5 7.5-3 22.5-5.5 4.5-2 16.5-4.5 7.5 0 7.5-0.5 7.5-2 4.5-2 7.5-1 6-5 4.5 0 6-4 9-1 4.5 1 3.5 2.5 2.5 2.5 5 9.5 3.5 4.5 0.5 1.5-0.5 6 1 3 7 10 12 11.5 6 3 6.5 7 5.5 2.5 10.5 4 9-1.5 9 0 6 1 7.5-3 4.5 2.5 4.5 1 4.5 3.5 3 0.5 7.5-2 7-3 4.5-1 3-0.5 6 1.5 7.5-1.5 10.5-1 4.5-1.5 9-2 6 0.5 12-1.5 7.5-2 12 2 6-3 4.5-1 6 1.5 9-0.5 6 1.5 6-2 9 1.5 6 3 4.5 1.5 3 1.5 6-0.5 6 3z"/>
<path fill="#FFCC9E" d="M937 0l48.5 0 0 55-9-1-6 0.5-1.5-0.5-12-12-8-10.5-3.5-10.5-7.5-16.5zM596 10.5l4 4.5 1.5 4.5-2 6-4 6-10 10.5-7.5 6-12.5 7.5-2.5 6.5-3 2.5-2 0-6.5-9-1-3-1-7.5 0.5-4.5 0-4.5 1-3 16.5-16.5 6-5 13.5-3.5 4.5 0.5zM0 28.5l3 1 1.5-0.5 9-4 7.5-2 4.5 1 12 2 6 2 7.5 0.5 12-1 6-3 7.5-1 6 1.5 6 3.5 3 0 4.5-1.5 3 0.5 3.5 4 4 3 6 3 2 3 2.5 2.5 3 0.5 15-1 1.5 0.5 9 5.5 2 2.5 2.5 5 7.5 10 2.5 4.5 2 1.5 4 1.5 1.5 1.5 3.5 4.5 5.5 6 1.5 3 2.5 3 0.5 1.5-2.5 3-12.5 8.5-4 1.5-9 2-7.5-2-13.5 0.5-7.5-3.5-6-1.5-3 0-4.5 1.5-3 0-6-2-7.5-1-7.5-2-9-4.5-6-0.5-3-1-6-3-16-12.5-6.5-8-10.5-3.5-7.5-7-13.5-6.5-3-0.5-6 0zM155.5 40.5l0.5-1.5 2 1.5-0.5 1zM915 193l1.5 0 1 3 2.5 3-0.5 3-1.5 0-1.5-2-2.5-5.5zM807.5 196l1.5-1 1.5-0.5 2 1.5-2 2-1.5-0.5zM215.5 247l1 6 2 4.5-1 4.5-1.5 3-5.5 4.5-4 5-6 3.5-8.5 8-5 3-3 1-6-2.5-6-0.5-3 0.5-5.5 2-10.5-1-9-2.5-6-4-1.5-2-0.5-3 1-6-1-4.5 0.5-1.5 4.5-3.5 3-3.5 1.5-1 7.5 1.5 9-2 5.5-2.5 22.5-14.5 10.5-2.5 3 1 9 6zM985.5 406.5l0 141-4.5-3.5-3-1-9 0.5-7.5-4.5-7.5 2-6-4-6.5-2.5-5.5-4-6-2.5-1.5 0-4.5 2.5-10.5 3-4.5 2.5-6-0.5-6 3.5-6-0.5-9 3.5-4.5 2.5-6 1-5.5 4-3 6-0.5 6 1 3 15.5 11.5 3 0 4-2.5 2-0.5 18 4.5 7.5-2 6 0.5 9-1 9 5.5 4.5 0 4.5-2.5 3 0 4.5 1 12 6 1 2 0 1.5-1.5 1.5-4 2.5-3 0.5-4.5-0.5-9 2.5-9 4-7.5 2.5-3 2-920.5 0 0-1.5 1-0.5 4.5-2 5-3.5 4-4 7.5-4 1.5-2.5-1.5-12-3-6-1-3 1-4.5 2-4.5 0-1.5-1.5-1.5-2-1-1.5 0-1.5 1-1 3-3.5 1-7.5-2.5-7.5-1 0-44 6-1 6-2 9-2.5 18-10.5 9-1.5 9-4.5 10.5-9 3-1 6 0.5 4.5-4 6-2.5 4-3.5 6.5-4 7.5-2 6-3.5 10.5-1 6-2.5 4.5 0.5 1.5-1 3-4 3-2.5 3-1 7.5-0.5 7.5-6 6-2.5 2.5-0.5 12 0.5 7.5-2.5 7.5-3.5 7.5-0.5 7.5-4 5-4.5 5.5-4 7.5-3 6-0.5 6-1.5 6-4.5 6 0 7.5-2.5 9-0.5 6-1 4.5-1.5 15-3.5 18-7 9-0.5 6 1.5 15-2 9 1 7.5-0.5 6-1.5 7.5 0 7.5-1.5 4.5 0 7.5-2 13.5-0.5 12-3 6 1 4.5 0 12 1 4.5-0.5 6 1.5 7.5 0.5 7.5 1.5 7.5-0.5 12 2.5 14.5-2.5 15 2 9-1 15-4 6-4.5 13.5-6.5 15-4 6-2.5 3.5-2.5 2.5-1.5 6-1.5 12-0.5 7.5-4.5 9-0.5 21-5.5 22.5 3 7.5-1 9 1.5 7.5-0.5 4.5 1 4 2.5 4 4.5 2.5 6 3 2 4.5 1 6 6.5 3 5 7.5 7.5 1.5 1 6 0.5 9 6 1.5 3.5 1.5 1.5 3 1.5 6 1.5 4.5 3 15 2 6 2 3-0.5 4.5-2.5 9 1.5 4.5-2.5 1.5-0.5 6 2 3 0 10.5-3 10-5.5 7.5 1 10.5 0 6 1 6-0.5 18-5 6-2.5 4.5-0.5 4.5-1 15 2.5 7.5-2 9-1 9 2.5 6 3.5 3 0 7.5-1.5 10.5 1 3 0.5 14 6 4 0.5z"/>
<path fill="#FF9472" d="M944 0l41.5 0 0 50-12-2.5-10.5-7.5-6-8-4-11-3.5-4.5zM595 16.5l1.5 1.5 0.5 3-1 4-4 6.5-8 8-7.5 4.5-3 1-6-0.5-3-2-1.5-3.5 0.5-4.5 8.5-12 6-3 4.5-3.5 4.5-2 4.5 0.5zM38 48l2.5-3.5 3-1 12 0 6 1.5 6 0.5 6 3 6.5 1 1 1.5-0.5 4.5 0.5 1 1.5 0.5 3-2 4.5-6.5 1.5-0.5 3 0 12 5.5 4.5 4.5 7.5 0.5 4.5 2.5 3.5 5 2.5 6 1 3-0.5 1.5-5 9-12 8.5-4.5 1-16.5-1.5-8-3.5-13-4.5-16-12-5-7.5-9-7.5-3-6zM203.5 248.5l2 1.5 0.5 1.5-1 2.5-7.5 7.5-1.5 0-2-1-1.5-1.5-1-3 0.5-1.5 1-2.5 4.5-4.5 3-0.5zM985.5 416l0 93-12-1-10.5 1.5-6 1.5-4.5 0-6 3-9 0-13 2.5-9.5 3-10 6-5 2-6 3.5-16 5-9.5 6-6 2.5-7.5 6.5-6 2.5-6 6.5-2 3-1.5 6-2.5 4.5-2.5 13.5-8 12-1.5 4.5-278.5 0-2.5-7.5-1.5-1.5-12.5-5.5-1-2-1.5-4.5-2-1.5-1.5-0.5-4.5 0-6-2-12-1-11.5 0.5-7.5-2.5-4.5-3.5-1.5-0.5-7.5 1-6-0.5-7.5 0.5-9-1-6 1.5-7.5 0-6 2-12 0.5-6 2.5-6 0-4.5 1-15 7-7.5 5.5-4.5 2-9 10-269 0-1.5-4.5-2-4.5-1-7.5-10.5-22.5-6.5-8-11.5-8.5-3.5-4.5-6-5.5-2.5-3.5-0.5-3 1-13.5 3-9 2.5-3 5.5-3 6-1.5 15-11 5.5-2 15.5-9 7.5-2.5 1.5-1 3-4 1.5-1.5 9-2.5 6-0.5 10.5-7 6-1.5 3-2 6-1 7.5-5 8.5-1 9-2 4.5-3 19.5-7.5 5.5-4.5 9.5-6 6-1.5 6 0 10.5-2.5 3-1.5 3-3.5 18-4 13.5-4 6-0.5 6-2 7.5-2 7.5-4 4.5-1.5 6-0.5 9 2 10.5-3.5 28.5-1.5 9 0 12-2 13.5 0 7.5-1 7.5 0 7.5-1.5 15 2 6-0.5 4.5 1 7.5-0.5 33 3.5 4-0.5 6-1.5 6 2.5 6 0 13.5-2 9-3.5 12-0.5 13.5-8 6-0.5 10.5-2.5 10.5-4 9-1.5 6 1 7.5-2.5 10.5 1.5 6 3 6 0.5 6 3 4.5 0.5 19.5 4 2.5 1.5 5 4 13.5 6 9 1 7.5 3 4.5-0.5 6 3.5 6-0.5 13.5 8.5 9 2.5 16 11.5 3.5 1 9-1 6 1.5 3 0 7.5-1 6-1.5 6 0.5 4.5-2 6 1.5 3-1.5 6.5-6.5 6.5-1.5 4.5-2 4.5-1 6 0 7.5 2 7.5-1 39-10.5 9 0.5 12 3 12-2 10.5 0.5 6 1 7.5-1.5 7.5 1.5 6 0 7.5 2z"/>
<path fill="#FF5040" d="M957 0l28.5 0 0 41.5-4.5-2-4-3.5-5-3-11-16.5-3.5-9zM590 21l1 1.5-0.5 3-2.5 4.5-10 9-3 0.5-3-0.5-1-1.5-0.5-3 1.5-4 1.5-2 10.5-7 3-1zM74 73.5l1-1.5 1.5-0.5 10.5 0 9-3.5 3-0.5 3 0.5 4.5 1.5 2 2.5 2.5 6 0.5 4.5-2.5 3-2.5 2-12-0.5-6-3.5-6 0-3.5-1-2-1.5-2-3-1.5-3zM985.5 425.5l0 77-6-1.5-7.5-0.5-6 1.5-9 1.5-12-1-3 2.5-7.5 3.5-10.5 3.5-12 1-9 5-12 8.5-18 4.5-7.5 5.5-7.5 3-15 2-5.5 3.5-2.5 4.5-5.5 5-4 7-13.5 13.5-6 2-4.5 2.5-9-1.5-6 2-4.5 0-3-0.5-4.5-3-3-1-9 0-7.5 1.5-3-0.5-4.5-2.5-3 0.5-7.5 3.5-10.5 1-6 3-1.5-0.5-6-2.5-13.5-1-4.5-1-22.5 0-9 1-6-1-6 1.5-4.5-1-1.5 0.5-4.5 3-6 1.5-9 0-9-2-7.5 0-3 0.5-6 4.5-6 1.5-6 3-10.5 1-6-1.5-3 0-6 2.5-7.5-0.5-7.5-4-6-1-13.5-12-3-2-7.5 0.5-6-2-12 0-6-1.5-7-3-18-2-12 2-10.5-1-7.5 1.5-9-2-10.5 1-10.5 2-4.5 0-1.5 0.5-4.5 4-16.5 5.5-7.5 5.5-9 1-2 1-2.5 4.5-1.5 1.5-1.5 0.5-6-2.5-10.5-0.5-3.5 1-1 3-1.5 0.5-9-5-15 2-9-1-10.5 2-3-1-10.5-6.5-7.5-1.5-7.5 0.5-6-1-7.5 2.5-7.5-1-4.5 2-1.5 0-4.5-3.5-1.5 0.5-4.5 2.5-9 1.5-4.5 2-6 0-9 3-6 0-6 1-10.5 5.5-3 0-3-1.5-3 0-1.5 1-5 6-59.5 0-1-7.5-1.5-7.5-1-3-2-3-3-10.5-1.5-7.5-8-13.5-1.5-7.5-1.5-4.5 0-4.5 3.5-3 0.5-1.5-3.5-4.5-1-4.5-3-3-3.5-5-4.5 2.5-1.5 0-1-2 0-1.5 2.5-1 3 0.5 1.5 0 3.5-5.5 8.5-5 6-1 9.5-6 10-3.5 3-3.5 7.5-7 18-8 4.5-3.5 4.5 0 6 2 4.5-3 14.5-4.5 6-1 3-2 4.5-5 4.5-3 12-5 7.5-2 12-7.5 12-2.5 16.5-6 12-5.5 16.5-4 7.5-3.5 6-1 9-3.5 9-2 6-3 3 0 7.5 1.5 3 0 6-4 7.5-2 10.5-0.5 18 0.5 6-0.5 9-1.5 10.5 0 24-1.5 7.5 0 6-0.5 12 2 7.5-0.5 12 2 6 0 10.5 2 9 0.5 5.5 1.5 6-1.5 4.5 1.5 7.5-1.5 7.5 0.5 7.5-2.5 6 1 6-3.5 6 0.5 7.5-4.5 13.5-4 6-0.5 7.5-4.5 6-2 3 0 9 0.5 6 2 6-0.5 16.5 2.5 16.5 5 4.5 0 3 1.5 4.5 7 4.5 1.5 4.5 2.5 10.5 2 7.5-1 6 3 11 3 8.5 4.5 12 3 6 3.5 7.5 0.5 9 5.5 9 4 6 1 6 2.5 9 2 7.5-1.5 4.5 0.5 7.5-2.5 7.5-1 3-1 7.5-5.5 7.5-1.5 4-3.5 3-1 7.5 0 7.5-1 10.5 0.5 15-7 10.5-2 9 1 10.5-0.5 9 3.5 3 0.5 9-2.5 6 3 6-1 6-2 9 2 7.5-1 13.5 4.5 2.5 0 2-1.5 1.5 0 3 1.5 4.5 4.5 3 0.5zM170.5 582.5l-1.5 1.5 0.5 1.5 1 1 1.5-0.5 0.5-2z"/>
<path fill="#FF0000" d="M962 0l23.5 0 0 35.5-8.5-5.5-2-2-11-19-1.5-4.5zM948 446.5l0 2.5-1.5 2-6 3.5-4.5 3.5-7.5 2-6 1-4.5 2.5-1 2.5-1.5 7.5-2.5 4.5 1 3-0.5 3-1 3-2 1.5-10.5 4-6 1-6 4-4.5 1.5-6 0-6 2-5 2-13 9-3 0-6-2-3 0.5-3 3-6 2-6 4.5-7 2-6 3.5-10.5 4.5-6.5 7.5-5.5 4-12 12-3-1-3 0.5-1.5 1-2 4.5-1 1-7.5 3-7.5-1.5-10.5-0.5-7.5 3-9-1.5-15 3.5-4.5-1-6 0-13.5-3.5-3 0-6 1.5-3-0.5-4.5-2-9 0-7.5 2-6 0.5-7.5 3.5-12-1.5-4.5 3-1.5 0-6-1-12 2.5-9.5 0-5.5 4-3-0.5-4.5-3-7.5 1-6-1-7.5 3.5-7.5-0.5-9 1.5-1.5 0-13.5-7-6-2.5-6-1.5-4.5-3-17.5-1.5-4.5 0.5-15-5.5-3-0.5-3 0-7.5 3.5-7.5-0.5-4.5 1-9-1.5-7.5-3-3-0.5-6 2.5-7.5 2-13.5 2-3 1.5-7.5 5.5-6 2-16.5 4.5-12 1.5-4.5 1.5-25.5-4.5-7.5 1-3 0-27-10-4.5 0-13.5 3.5-4.5-0.5-6-3-9-1-16.5-8.5-9 1-2.5 1-3.5 3-3 1-7.5-0.5-4.5 0.5-6-1-4.5 0.5-9-3.5-9-0.5-1.5 0.5-4.5 3-6 1.5-11.5-0.5-4.5-2.5-6-5-1.5-1-6 0-10.5-2-12-4.5-5-4-2-3 0.5-3 1-4.5 0.5-6 0.5-1.5 16.5-18 4-7.5 6.5-5 0.5-2-0.5-4.5 1.5-2 12 0 7.5-4.5 5.5-1.5 6-0.5 4-2 6.5-3 4.5-3.5 4.5-1.5 3.5-4 7-5.5 12-4 12-5.5 3-0.5 4.5 1 1.5 0 3-2 4.5-5 9-3.5 6-2 6 0 7.5-5.5 6-2.5 11-2.5 5.5-2.5 13.5-3 7.5-1 6-1.5 9-1.5 7.5 0.5 2.5-1.5 3.5-4 4.5-1.5 21-0.5 13.5-1.5 9 0.5 15-2.5 28.5-1 18 2.5 6 0 9 2.5 6 0 4.5 0.5 4.5 2 5 4.5 11 0.5 6 2.5 3-1 3-2 3 0 7.5 2.5 6 4 7.5 3 4.5 3.5 3 0.5 6.5-4.5 8.5-3 7.5-6 3-0.5 4.5 1.5 1.5-0.5 7.5-8 4.5-3.5 6-7.5 4.5 1.5 7.5 0 13.5 3 4.5 4 6 0.5 4.5 1.5 4 3.5 4.5 6 2 4.5 1.5 1.5 3 1 6 1.5 4.5 1.5 1.5 0 4.5-3 3-1 12 2 6 2.5 12-2.5 7.5 1.5 4.5 1.5 10 5.5 3 7.5 1.5 3 6.5 4 3 3.5 4.5 2.5 1.5 2 2 4.5 5.5 5.5 4.5 2 9 5.5 6 1.5 6 0 9 1 6-0.5 1.5-1 1-2 1.5-7.5 1-1.5 2.5-1 3 1.5 3 0.5 4.5-2 3.5-3.5 2.5-7 8.5-6.5 3-4.5 4.5-2 2-1 1-2 1.5-1 10.5-1 3 0 4.5 2.5 1.5 0 9-3.5 6-1 3-1.5 2.5-3 3.5-1.5 4.5 0 3 2 3 1 3 0 4.5-2 3-0.5 15 3.5 9-0.5 6 0.5 4.5-2 3 0.5 4.5 2 3 2.5 4.5 5 1.5 4.5zM853.5 470.5l-3 0-1.5 1.5-1 1.5 0.5 4.5-1 0-1 3 0.5 1.5 0.5 0 1.5-1.5 0.5-3 5.5-3 0-3z"/>
<path fill="#D40000" d="M162 525.5l2-7.5 1-9 4.5-15 2-1.5 5-1.5 4-4 7.5-6 6.5-1 6-5 8.5-9 5-3 4.5-3 9-0.5 10.5-3 12-8 9-4 9-2.5 5-6 7-3.5 13.5-0.5 3 1.5 1.5 0 3-4.5 3-1.5 7.5-1 10.5-3 12 0.5 13.5-6.5 6-0.5 4.5-2.5 3-1 27-0.5 10.5-2 15-1 13.5 2 15-0.5 18 6 9 0 3 1 4.5 3 4.5 0.5 3.5 2 4.5 3 2 3-0.5 4.5 0.5 1.5 1.5 1.5 2 0 5.5-2 3 0 1.5 1 6 7.5 9 2.5 18-0.5 1.5-1 1-3 2-2 28.5-8.5 9-0.5 4.5 1 9-2 3 0 2.5 1.5 3.5 4.5 1.5 1 1.5 0 12-3 10.5 0.5 7.5 5 13.5 3.5 4.5 3.5 6 0.5 9 2 10.5 4 18 2.5 4.5 2 5.5 4 5 6.5 4.5 4 3 1.5 6 1 1.5 1 3 5 4.5 3.5 1 6 2 3 1.5 1.5 6 2.5 10.5 7 15 6.5 3.5 3 0 1.5-1.5 4.5 0 4.5-3.5 3-10.5 6-7.5 0.5-4.5 3-12 5.5-4.5 1.5-6 3.5-16.5 4-10.5 1-10.5-2.5-7.5 1-4.5 0-4.5-0.5-6-2.5-3 0.5-7.5 4.5-6-1-10.5 1.5-9 1-10.5 0-13.5 1.5-7.5-1.5-7.5 2.5-6-0.5-6 1.5-18-3-6 0.5-10.5-1-9 2-9-3.5-6-1.5-6-4-9 0-9 2-4-1.5-4.5 0-13.5-5-1.5 0-4.5 3-3 0.5-9 0-6 0.5-4-3-2-0.5-6 1-6 0-10.5 3.5-6-1-7.5-0.5-12 4.5-4.5 3.5-4.5 2-6 3.5-15 2-12-2-7.5 1.5-6-2.5-10.5-0.5-4.5-3-6-1.5-9 0-12-6.5-6 1.5-6-3-1.5-0.5-4.5 1-4.5-0.5-7.5 0-10.5-6-1.5 0-6 1.5-10.5-1-4.5 0-12-3-4.5 0.5-6-0.5-6 0.5-9-0.5-7.5-2.5-10.5-1.5-7.5-4-7 0.5-1.5-2.5z"/>
<path fill="#AC0000" d="M200.5 491.5l0.5-3 1-3 4.5-5.5 4.5-3.5 12-9 3-1 13.5-2.5 9-4 6-0.5 6-4.5 7-2.5 5-3.5 6-1 9-3 7.5 2 3-1 5.5-4 8-5 7.5 0.5 6-3 10.5 0 7.5-1.5 7.5-3 4.5-4.5 6-1 4.5-3 9-0.5 9-2 6 1.5 3 0 21-3.5 10.5 2 7.5 0 4.5 1 9 3 7.5 5 6 1 13.5 5.5 4.5 1.5 3 2 2 5.5 4 4.5 3 2.5 17.5 7 7.5 1 4.5 2.5 9 1.5 6-0.5 4.5 0 6-3 4.5-4 3-1 6 1 6 0 4.5 0.5 7.5-1.5 6 2 4.5-1 4.5 0 1.5-0.5 4.5-3 7.5 0 9-3.5 3 1 2.5 3.5 2 1 6-1.5 6 2.5 15 2.5 9 3.5 13.5 3 4.5 3 4.5 4 7 3 1 1.5 2 4.5 6.5 3 6.5 3 3 3 2.5 6 7.5 3 1.5 2.5 0.5 4.5-0.5 3.5-4 4-5 11.5-4.5 3.5-6 2.5-4.5 5-3 1-4.5-0.5-4.5 2-7.5-0.5-10.5 2.5-7.5 2-4.5 0.5-9-1-4.5 1-7.5-3-6.5 3.5-11.5 2-12 0.5-3-0.5-6-2-7.5 0.5-10.5-2-7.5 2.5-6-2-9-0.5-6-2-3 0.5-6 2.5-4.5 1-1.5 0-4.5-5-6-1.5-6-3-4.5-0.5-6 0-6-1.5-4-0.5-3-1-3-2.5-4.5-1-4.5 1-4.5 5-3 1.5-9 1-6 1-6-1-7.5-0.5-15 3-9 0.5-15 2.5-15 5.5-6-0.5-10.5 2-7.5-2-6 0-5-3-2.5-0.5-6-0.5-12 1-3-0.5-12-9.5-6-1.5-6 0-9-2.5-7.5-7.5-2.5 0.5-3.5 3.5-3 0.5-3-0.5-4.5-3-3-0.5-6-0.5-7.5 1-7.5-1-4.5-2-6-0.5-6-4-6-1.5-4.5-6-4.5-2.5-3-3-10.5-4.5-1-2.5z"/>
<path fill="#800000" d="M513.5 494l-1.5 3-3 3-3.5 4.5-2.5 1-6 0.5-5.5 4.5-4.5 3-3 0.5-6-2.5-9 3.5-6 3-10.5 3.5-7.5 0-9 1.5-7.5 0.5-6 1-4.5 0-6 2-6 0-11 5-5 3-2 0.5-6-0.5-3-1.5-1.5-1.5-1.5-3-1.5-0.5-6 1-10.5-1.5-13.5-3-6-0.5-12-5-1.5 0-4.5 1.5-6 0-3-1-4.5-3-6-1-6-3.5-12-5-6 0.5-7.5-1.5-7.5-2.5-4.5-3-10.5-2-1.5-1-2-3.5-4-4-1.5-3 0-3 0.5-3 10-6.5 9-2.5 12-6.5 4.5-0.5 6-3 12-1.5 15-3 12-7.5 6-1 6-4.5 12.5-4 13-1.5 4.5-1 4.5-3 3-1 6 1 4.5 2 1.5-0.5 6-5 13.5-5 3 0.5 4.5 3 7.5 1.5 7.5-1 6 0.5 4.5 3.5 6 2 6 3.5 4.5 1.5 5 6.5 5.5 2.5 3 4 1.5 1 3 0 1.5 1.5 1 3-0.5 1.5-3.5 2.5-1 2 0 4.5 1 2 3 0 4.5-5.5 4.5-2 9-0.5 3.5 1.5 3.5 3.5 3.5 2.5 1.5 3 7 1.5 4 3 1.5 3zM404 491.5l-1 2.5 2.5 1.5 3.5 0 1-1.5-0.5-1.5-1-1-2.5-1zM559 488.5l1-3 1.5-2.5 6-4 7.5-2 12-1 22.5-7 15 0 5.5 3 2.5 4.5 7 1.5 3-0.5 10.5-6 3 0 3 0.5 1.5 1.5 3.5 4.5 2.5 5 4.5 2 3 3 5.5 3.5 2 2 2.5 2 0.5 3-1.5 5.5-10.5 5.5-9 1-12-3.5-2.5 3.5-8 6.5-4.5 1-5 4.5-2.5 1.5-4.5 1-7.5-1.5-10.5-1.5-10.5-4.5-6-1-6-1.5-4.5 0-4.5-2.5-6-1-7.5-7-1.5-3-1.5-9z"/>
<path fill="#D6E0FA" d="M822.5 51l0.5 6 1 4.5-2 10.5-4.5 9-4.5 6-1.5 6-3 7.5-1 2-1.5 1-3 0-7.5-1-1.5 1-0.5 1.5 1 1.5 4 1 1.5 1.5 0 2-2 3-5.5 5-7.5 3.5-12 8.5-9 2.5-7.5-0.5-6 4-3 1-7.5 0-6 2-9 0.5-6 2-10.5 0.5-6 1.5-4.5 0-6-1-18-7-4.5 3.5-4.5 1-3 0-4.5-3.5-7.5-4.5-6-1-7.5 0-7.5-1-4.5-2-6-0.5-6-2.5-7.5 1-2-1-2.5-3-3-1-2 1-4 4-4.5 2.5-3 1-6 0-10.5 4-6 5-7.5 2-6 6-3 1.5-6-1-6-4-7.5-1.5-4.5 4-6 2.5-4.5 4-7.5 6-1.5 1.5-4.5 8-7 5-3 0.5-10.5-1-4-2.5-2 0-3 1.5-4.5 4-6 1-4.5-0.5-3.5-1.5-4-4.5-6-4-2.5-4.5-2-2.5-14.5-5-6.5-4.5-3.5-4.5-0.5-6-2-4-1.5-0.5-7.5-2-3 1-4.5 4-7.5 2-4.5 4-7.5 2-13.5 7.5-10.5 11-16.5 15-5.5 3-6.5 6.5-10.5 2-3.5 2-4.5 4.5-7 3-5 3-5.5 2-6 4-6 2.5-4.5 2.5-7.5 0.5-7.5 3.5-4.5 0-4.5-2-6 0.5-6-2-6 0.5-4.5-1-9-0.5-9 0.5-7.5 3-16.5 4-4.5 0.5-14.5 3-3-1.5-3-4-4.5-1.5-3 0.5-7 3-6.5 1-9-3.5-6 0-9-0.5-6 2.5-1.5 0-10.5-4.5-6 0.5-13.5-1.5-6 2.5-6 1.5-6 0.5-6-2-12 0.5-4.5 2.5-1.5 0-6-4-9-1.5-7.5-4-3 0-3 1 0-82.5 3 0.5 6 4 6-1 6 1 6-2.5 4.5 0.5 19.5-3.5 10.5 2 3 0 4.5-3.5 6-0.5 3-1 3 0.5 4.5 1.5 9 0 9-1 4.5-3 3-0.5 6 2 6 0.5 7.5 0.5 4.5 1.5 7.5-1 6 3.5 1.5 0 6-4 11.5-2.5 4.5-2 12 1 6-0.5 3-2 6-6.5 4.5-11.5 4.5-5.5 5-10 1-3 1-9 4-7.5-1-13.5 1-3 1-2 6-5.5 7-3 5-3.5 1.5-1.5 2-4 1.5-1.5 4-1 6 0 6-4 6-2.5 1.5 0.5 1.5 1 5 12 1 1.5 4 3 3.5 5.5 5.5 6.5 2 7.5 1.5 1.5 6 3 6 5 3 1.5 1.5 0 12.5-11 4-5 3-2 6-2 6 0.5 1.5-0.5 4.5-5 6-3.5 4.5-3.5 7.5-1.5 6.5-4.5 8.5-4.5 6-1 2-2 2-4.5 1.5-1.5 3.5-1.5 7.5-1.5 7-7.5 14-6 1.5-1.5 0-1.5 8.5 0 3.5 2 3 1 3-0.5 1.5-2.5 57 0 0 3-1.5 4.5-5 4 0 3.5 1.5 1 6-0.5 3 2 1 2 0.5 10.5 3.5 7.5 2 12 3.5 3.5 2 4 0 4.5-1.5 6 0 4.5 4 6 1.5 3 1.5 10.5 2 6 2 6 2 4.5 6 4.5 6 6 1.5-1.5 1-4.5 7.5-10.5 3-7.5 4-6 4.5-4.5 12.5-16.5 3.5-7 2.5-2 5-3 5.5-7.5 9-7.5 18-24 2-2 3-1 12 0.5 7.5-2 19.5 0.5 7.5-1 10.5 1.5 9-0.5 4.5-1.5 7.5 1 6-1.5 3-0.5 4.5 1 4.5 2 4.5 1 9 3 4.5-1.5 7.5-3 7.5-1 4.5 4 4.5 2 3 3.5 1.5 0.5 6-1.5 3 0.5 6 5.5 6 4 3-1 4.5-4.5 4.5-1 4.5-3.5 1.5 1-0.5 1.5 0 1.5 14.5 15zM253 183l-0.5 1 0.5 1.5 2 0 1-1.5-1.5-1zM394 99l0 1.5 1.5 1 3 0.5 1.5-1 0.5-2-2-1.5-3 0zM886.5 94.5l5-4.5 2.5-1.5 3 0.5 3.5 4 0 1.5-2 1-4.5-1-6 1zM692 181.5l3-1 3 0 1 3.5-0.5 3-3.5 2-1.5-0.5-1.5-1-1-3.5zM985.5 197l0 164.5-4.5 2-7.5 1-7.5 4-4.5 0-7.5 1.5-4.5-1.5-3 0-7.5 4-6 0.5-9 2.5-7.5 1.5-6 2-4.5 1.5-25.5 1-7.5 1-4.5-0.5-9 2.5-4.5 0.5-9-0.5-7.5 1.5-6-1.5-3 0-3 1-7 5-9 0-8-2.5-5.5-5-4.5-2-4.5 0-4.5 2-3 0-7.5-3.5-9-0.5-7.5-2-6 0.5-3-1-4.5-3.5-7.5-9.5-4.5-2.5-1-1.5-1.5-7.5-7-9-5-4.5-9-13.5-12.5-4.5-10.5 1.5-6 1.5-10.5-0.5-7.5 3.5-9 1.5-2.5 1.5-3.5 3-6 3-6 0.5-10.5 4-12 5.5-13.5 3-30 12-10.5 2.5-9 3.5-7.5 0.5-7.5 3-9 1.5-10.5 4-10.5 0-7.5-1-17.5 3.5-15-3.5-9 0.5-19.5-3-4.5 0-6-0.5-7.5 1-7.5-2-6-0.5-10.5 2-21 2.5-9-1.5-16.5 0.5-21 5-6 0-18 3.5-6 0-4.5 0.5-6 2-9 1.5-7.5 5-9 1-4.5 1.5-4.5 0.5-9 3-12 5.5-9 2.5-6 4-9 2-6 3-7.5 1-6 2-9 0.5-6 4.5-4.5 1-7 3.5-9 1-12 6-7.5 2.5-10.5 0.5-12 4.5-4.5 3-12 5-1.5 0.5-3-1-9-6.5-1.5 0-2 1.5-0.5 1.5 0 4.5-3.5 4.5-1.5 4.5-1 1.5-3.5 2-15 4.5-3 0-2-0.5-10.5-10.5-2-3-1-7.5-2.5-6-0.5-4.5-4-4.5 0.5-4.5-1-6 0.5-4.5 2-7.5-1-4.5-4-4.5-0.5-3 1-6 2.5-6 1.5-6 4-9 5-4.5 4.5-6 7.5-5 4.5-1.5 4.5-5 1.5 0 4.5 0.5 4.5-1 9 2 7.5-2.5 6 1 1.5-0.5 3-2 4.5-1.5 7.5-3.5 4-3.5 3.5-1.5 4.5-3 7.5-0.5 6-3 4.5-0.5 2.5-2 2-3 6-2 4.5-2.5 9-2 7-1 7.5-6.5 9-3.5 4.5-0.5 7.5 1.5 7.5-1 4.5-2 7.5-0.5 4.5-4.5 9-4 3 0.5 4.5 3.5 4.5-0.5 7.5-4 4.5-1 8.5-3 5-4.5 6-1 3-5 4.5-1.5 7.5-1.5 4.5-1.5 6-4.5 6-3 3-3 7.5-1 4.5-1.5 4.5-3.5 4.5-6.5 6 1 7.5-2 6-3.5 5-4 8.5-4.5 16.5-3 2-1.5 4.5-4.5 8-3 3.5-3.5 1.5-1 7.5-0.5 4.5 1.5 3-0.5 9-2 6-2 13.5-3 4.5-3.5 1.5-0.5 3-0.5 4.5 1.5 3 0 5.5-4 3.5-0.5 12 1 6-2 9-2.5 2.5 0 4.5 1.5 4.5-3.5 15-7.5 2.5-3 2-4 1.5-1.5 9-0.5 10.5 0.5 4.5 1 3 2.5 3 1 3-1 9-4.5 3 0.5 3 2 4.5-2 3 0 14.5 6 5 4 9 8.5 6 4 6 1.5 2 3 2 1.5 9.5 2.5 7.5 3.5 6 1 13.5 5 9 1 6 2.5 3 0 3-1.5 3-4.5 2.5-2 0.5-2 1.5-1 0.5 1.5-1 3 0 3 1 1.5 2 1.5 11 5 7.5 2.5 4.5 2 7.5 0.5 3 1.5 4.5 3.5 4.5 1 3 1.5 7.5-1.5 1.5 0.5 4.5 4 3 0.5 7.5-1 6 0 6-1 7.5 1 7.5-3 6 0.5 9-2 6 0.5 4.5-1 6-0.5 4-1.5 12-2.5 3 0 13.5 1.5 3-1 8-5 4-1.5 36-1.5 5.5-6 9.5-4.5 15-4.5 7.5-4.5 7.5-0.5 3-1 5.5-4.5 8-4 6 0 6-1 3 0zM948.5 266.5l0.5 1.5 3.5 2 1.5 0 1.5-1 1-2.5-1-1.5-3-1-3 1zM102 275.5l1.5-1 3.5 1 1 1.5-1.5 1.5-1.5 0-2-1.5z"/>
<path fill="#B0C6FC" d="M355 51l3-2.5 3-1 7.5-0.5 9-2 1.5 0 4.5 3 3 0 12-7.5 0.5-9 0.5-1.5 6.5-2 6-3.5 9-6.5 9-0.5 8 3.5 5.5 5.5 9 2.5 6-1 3 0.5 2 3 0.5 6 4 4.5 1 7.5 4.5 6 2 7.5-1.5 4.5 0 3 5 9 0 19.5 2 10.5 4.5 9 4.5 6 1.5 3 2.5 2 4.5 1 1 1.5-1.5 1.5-2.5 1.5-1.5 3-1.5 1-4-1-6.5 4.5-11.5 5-7 4-8 1.5-10.5-0.5-3.5-4-7-11.5-5-5-3.5-12-4-6 0.5-7.5 0-6-1-4.5-2-3-4-3-3.5-4.5-3-1.5-4.5-0.5-1.5-1-2.5-6-2-2.5-3-2-4.5-1-3-2-1.5 0.5-7.5 7-1.5 0.5-2-0.5-4-3-9 1-7.5 0.5-1.5-0.5-1.5-3-1.5-11.5 3-4.5zM768 76.5l-1 9-1.5 4-1.5 1-1.5 0.5-3-0.5-3.5-2-5.5-1.5-4.5 0-4.5 1.5-1.5 3-4-3-3.5-1-3 0.5-3 2.5-4.5 1.5-3.5 4-5 3-5 7.5-9 3-5 4.5-7 4-13.5 0-6-0.5-6 1.5-7.5 5-4.5 1.5-12-5-6-1-6-5-4.5-1.5-4.5-2.5-4.5-1-9-13.5-4.5-9 0.5-13.5 1-3 3-4.5 4-4.5 6.5-5.5 4.5-4.5 1.5-3.5 1-6 2-2.5 3-1 7.5 0 4.5-4.5 3 0.5 3 1.5 3 0 12-6.5 10.5-2.5 9 1 6-1.5 10.5-0.5 7.5 3.5 12 3 6-0.5 10.5 4 7.5 1 8.5 6.5 2 3 2 6 4.5 4.5 0.5 3-1 6 1.5 3.5 3 3 7.5 2zM235 52.5l9-4 13.5-3 3 1 3 2 4.5 1 2 1.5 2.5 3 1 3-2.5 6.5-3 5.5 1.5 1.5 4.5 1 5.5 8 1.5 4.5 1 6-0.5 3-5.5 6-0.5 1.5 2.5 15 0 6 1.5 6-1 0.5-4.5-2-9 3.5-1.5 0.5-6-2-9 3.5-4.5-0.5-3-1.5-3-5-2-6-5-4.5-0.5-3 2-9 0-4.5 2.5-6-0.5-6 0.5-4.5 3.5-9-0.5-3-4.5-4.5-1.5-4.5-0.5-3 1-1.5zM587.5 90l1-1.5 1.5 0 0.5 1.5-2 1.5zM54.5 159l8.5-12 3-1 9 1.5 3-1 4.5-3 7.5 4 6 2 6 3 9 0 4.5 1 4 2.5 3.5 3 3 1 7.5-0.5 6 1.5 7.5-2.5 6 2 6-1 8.5 0.5 7.5 3 10.5 1.5 7.5 2.5 3.5 2 1.5 4.5 0.5 3-2.5 3-8.5 6-11 3.5-13 2.5-21-3-12-0.5-4.5 0.5-7.5 3.5-3 0-4.5-1.5-6-6-3-1.5-3-0.5-7.5 2.5-7.5-2-4.5-3-5-2-8.5-8.5-6-3-5-6zM972 216.5l13.5 0.5 0 43.5-9-0.5-6-3-10.5-4-2-1.5-2.5-4.5-5.5-6-0.5-1.5 0.5-3 5-7.5 4-3 3.5-4.5 5-3zM896 310l1 12-0.5 3-3.5 4.5-2 4.5-7.5 11.5-5 3.5-3.5 6-2 2-6 3.5-6 2-15 7-9 2-4.5-2.5-3 0-6 2-4 3-7.5 1.5-6-2.5-4.5 0-6-1.5-7.5-0.5-6-2-7.5-1-3-1.5-4.5-4-4.5-2-6-6.5-11-8-5-4.5-1-6-4-8-6-6-13-7-5-2-6 0.5-7.5-1-10.5 3-9-2-7.5 2.5-10.5 1.5-6 3-7.5 2.5-3 0-4.5-3-1.5 0-3 3-6 2-6 4.5-4.5 4.5-6 5-3 1.5-13.5 1.5-15 8.5-18.5 6.5-7 0.5-6-2.5-3 0-6 2-6 4.5-3 1-7.5 0.5-9-1.5-1.5 1.5-3 4.5-3 1.5-10.5-1-4.5 1.5-4 0.5-22.5-2.5-9 1.5-6-3-12-1-22.5 1.5-19.5-1.5-7.5 2.5-6 0.5-12 0-7.5-2-6 1-4.5 0-12 1-7.5 2.5-10.5 0.5-18 4-12 1.5-15 2-12 5.5-12 4-15 2-12 7-3 0.5-6 0-4.5 1.5-6-0.5-6 3-9 2-4.5 2.5-10.5 0.5-4.5 1.5-7.5-1.5-2.5 0.5-3 6-4.5 3-3 3.5-8.5 3.5-8 4-4.5 3.5-3 1-4.5 0-6-1-9 1.5-5 3-4 1-9 0-6-3-7.5 1.5-7.5-2-4.5 0-1.5-1-1-1-1.5-4.5-0.5-9 1-7.5 3.5-8 6-7 1.5-4.5 1.5-1.5 6-2 1-1 2-7 7.5-5 5.5-6 3.5-1 7.5 0 6-4.5 7.5-11 4.5-2.5 21-5.5 9-4 13-7.5 6-0.5 9 1 1.5 0 9.5-6.5 4-2 4.5-1.5 10.5-1.5 4.5-1.5 13.5-3.5 4.5-2 9-2 4-2.5 3.5-6 1.5-1.5 6-2 6-3.5 6-1 6-2.5 4-3 3.5-4.5 2-1.5 13-3.5 12-2.5 6-6.5 7.5-2.5 7.5-4.5 9-4 4.5-3.5 4.5-2 6-3.5 4-3.5 5-2 10.5-1.5 6-2 19.5-2.5 6-3.5 1.5 0 4.5 0.5 6 2 9-0.5 6 1 6-1 16.5 0 10.5-3.5 4.5-3.5 15-3.5 5.5-3 1.5 0 4.5 0.5 13.5-1 7.5-1.5 9-3.5 16.5 0.5 6 2.5 7.5 0 6 2 12 3 7.5 0 12 3.5 7.5 7.5 7.5 0 6 3.5 10.5 4.5 6 0 3 0.5 6 3.5 4.5 5 4.5 2 6 5.5 2.5 3 3 6 5 5.5 3 1 1.5 1 2.5 6 3.5 3.5 7.5 4.5 7.5 2 7.5 4.5 3 1 9-2.5 10.5 1 6-1 4.5 0.5 9-3 6 1 6 0 3-1 4.5-6 3-2 6-1.5 7.5-3.5 4.5-2.5 6-1 6-2.5 7.5 0 7.5-5 3 0 7 2.5 16.5-2.5 13.5 2 2.5 5.5 2 2.5 4.5 1 10.5 0.5 7 3.5 9 6 2 3 3 9 2.5 3zM538 337l1 2 2.5-0.5-1-1.5zM355 352l-1.5 0.5-3 4-0.5 1.5 1 1.5 3 0 3-3-0.5-3zM900 263l1.5-0.5 2.5 1 1.5 3-1 1.5-3 0-1.5-1-0.5-2zM722 268l0.5 0 0 1.5-0.5 0.5-1.5 0 0-1z"/>
<path fill="#8C98FC" d="M427 29l2.5 1 3.5 2.5 13.5 4.5 6.5 5 3.5 6 0 6 1.5 3 2 2.5 4 3.5 1 1.5-0.5 9 1 4.5 1.5 4.5 0.5 3 1 1.5 3.5 2 1 2.5-1 3-2.5 4.5-0.5 3 2.5 6 0 3-1.5 4.5 2 6-1 1.5-5 4.5-7 13.5-2 2-3 1.5-4.5-0.5-3.5-1.5-11-13.5-4-15 1-7.5-3-6-1.5-7.5-7-9-5.5-4.5-4.5-4.5-6-12 1-10.5 5-7.5 6-7 4.5 0 2-0.5 1-1.5 0-4.5 1.5-2zM711.5 58l0.5 3.5-2 4.5-6.5 10.5-2.5 2.5-4.5 3-6 2.5-4.5 3-7.5 2.5-1.5 1.5-3 4.5-3 2-6 2-6 3.5-3 3-3 4-1.5 0.5-9 1.5-3-0.5-2-1-5-4.5-7.5-3-2.5-3-1-0.5-3 0.5-1.5 0-2-1.5-2-4.5-3.5-5.5-1.5-3.5 0-4.5 1.5-4.5 0-4.5 1.5-2.5 6.5-3.5 2.5-1 3-0.5 1.5-1 0.5-2-0.5-3 1.5-4 6-5 7.5-4 1.5 0 3 2 1.5-0.5 4-2 3.5-0.5 6 2 6-1 4.5 3 7.5-1 9 1 9 3 7.5 4 7.5 1zM144 172.5l1.5-1.5 1.5 0 4.5 2 7.5-3.5 8.5 0 3.5 1 3 3 2 3 0 3-1.5 3-4 2.5-7 1-6-1-3-1-4.5-4-4.5-1-1.5-2.5zM648.5 274l0 13.5-3 5.5-2.5 6.5-3.5 2-4.5 3-6 3-6 2-10.5 0-3 1-4.5 6-6 1.5-3 1.5-4.5 8.5-1.5 1.5-1.5 0-3.5-3-8.5-3-1.5 0.5-13.5 6-3 0-6-3-7.5-5.5-6-9-3-2.5-6-3-6-0.5-3 2-4.5 9-4.5 3-10.5 12-4.5 7.5-6.5 4.5-3.5 3.5-3 0-6-1-10.5 1-2 1-5.5 4.5-5 1.5-5.5 3.5-6-2.5-4.5 0.5-4.5 2-7.5 0-10.5 2-4.5 0-6-2-7.5-4.5-7.5-3-4.5-4-3-2-7.5-1-6-3.5-3 0-16.5 3-12 6-15 4-6 3.5-6 1-9 4-6 1-6 2-9 2-12-0.5-6 3-7.5 0-10.5 1.5-3 2-3.5 4.5-5.5 1-7.5 4-4.5-0.5-6 2.5-18 4-12 4-10.5 0.5-4.5-0.5-8.5-4.5-4.5 0-1.5-1-6-6-7.5-5-1-1.5-2-7.5-1.5-1.5 0-1.5 1-1.5 3.5-2.5 7.5-8.5 9-2.5 4.5-4 4-1.5 4.5-2.5 3 0 13.5 2.5 7.5-2.5 6-0.5 6 1 7.5-2.5 7.5-1 10.5-4.5 6-1 10.5-6 6-5 4.5-6 7.5-5.5 6-6.5 9.5-4 7-8 3-1 4.5 0 3-1 4.5-2.5 9-3.5 10.5-5 11.5-7.5 5-2 4.5-4 7.5-3 6-1 16.5-8 12 2.5 6 2.5 6-1 12 0 7.5 2 3-0.5 6-2 4.5-0.5 1.5-1 3-3.5 1.5-1 4.5 0 15-5.5 6-0.5 9-4.5 3 0 12 1.5 4-5.5 12 1 3-1.5 3-2 1.5 0 5.5 3 3.5 5 3 0.5 6 3.5 4.5 0.5 6 3.5 6 0.5 6 4.5 3-0.5 7.5-3.5 3 0.5 12 4.5 3-0.5 7.5-3 1.5 0 7.5 3 7.5-1 6 3 4.5 1.5 22.5 3.5 3 1.5 5 4.5zM866 308.5l0.5 3-2 12-9 16.5-2.5 6-1 1-8.5 5-11 4.5-3 1-3 0-7-2.5-4.5-4.5-3-1-1.5 0-2 1-2.5 6-4.5 4.5-9 3-12-1-3-1-18.5-13-8-7.5-1.5-4.5-6.5-11-1-2.5 0.5-3 3-4.5 1.5-6 3.5-2.5 7.5-3 10.5-2 6-3.5 7.5-1.5 7.5-6 9-3.5 6-1 4-2.5 3.5-0.5 3 0 5.5 1.5 6-1.5 3 0 6 2 12 5 3 2.5 3 4.5 4.5 3.5z"/>
<path fill="#6868FC" d="M445 112.5l3 0.5 7.5 4 3 2.5 1 2 0 1.5-0.5 3-5 10-1.5 0.5-1.5-1.5-2-3-5.5-2-1.5-1-1.5-3-0.5-3 0.5-3 2.5-6zM399 266.5l1 3-0.5 3-3 6-3 7.5-1 1.5-4.5 1.5-4.5 3-3 3-2 4.5-4 5.5-6 2-3 5.5-1 0.5-6.5-0.5-4.5 1-4.5 1.5-9.5 7-2.5 0.5-6 0.5-1.5 1-4 4-3.5 2.5-6.5 0.5-5.5 2-7.5 7.5-10.5 3.5-6 4-12 2.5-10.5-1-1.5 1-3.5 4.5-5.5 3.5-8.5 2.5-6.5 2.5-12 0.5-2-1.5-2-3-1-3 0.5-3 1.5-3 3.5-3 5.5-2.5 10.5-7.5 11.5-6.5 11.5-7.5 3.5-3 9.5-12 22.5-10 7-2 5-3 7-6 9.5-4.5 7.5-3 3.5-3 6.5-3 3.5-3 7.5-2.5 13.5-6 9-2 7.5 1 9 3zM507 284.5l3 9 0.5 10.5-2 1.5-5.5 3-6 1.5-0.5 1.5 0.5 1 4 2 0 3-3.5 6-1.5 4.5-2 2-8.5 5.5-6 0-4.5 1.5-6 0.5-3 1.5-4.5 3-6 3-12 2-6 3.5-4.5 2-16.5 3.5-4.5-0.5-5.5-2-11-7.5-4.5-5-8.5-5.5-2.5-3-1-4.5-3-4.5-0.5-3 1-3 11.5-9.5 7.5-4 16.5-3 4-3 6.5-3 3-2.5 3-3.5 4.5-2.5 6 0.5 7.5-1.5 2-2.5 2-4.5 2-2.5 4.5-3.5 4.5-5.5 4.5-2 9-1.5 4.5 1.5 3 1.5 4.5 4 5.5 1 9 5 2.5 2zM633.5 275.5l3 2 1 2.5 1 9-1 3-4 5.5-3 2-6 1-3-0.5-6-8-1-3 0.5-3 5-6.5 4.5-4 3-1zM582.5 288l1.5 1-0.5 6 3.5 4.5 0 1.5-1.5 1-2.5-1-4.5-6 1-5 1.5-1.5zM157 371.5l1.5-4.5 1.5-1.5 3.5-2 4-4 1.5-0.5 7.5 1 6-0.5 3 0.5 10.5 4 1.5 3 0 6-2.5 3-3.5 2-10.5 3-6-1-4.5 1-3 0-9-5-1.5-1.5z"/>
<path fill="#0034FF" d="M385.5 269.5l0 3-2.5 6-2.5 1.5-6 2.5-7.5 6.5-4.5 1-1.5 0.5-2.5 6-3.5 3.5-6 2.5-4.5 2.5-7.5 1-4.5 1.5-6 3.5-9 6.5-6 1.5-13.5 8-4.5 5-8.5 8-8 4.5-3 0.5-3 0-2-0.5-2.5-3-1-3 2-4.5 8-5.5 4.5-8 10.5-8.5 6-1.5 6-3.5 6-2 4.5-3 6-1 5-4.5 13-5.5 6.5-6.5 2.5-1.5 9-1 1.5-1 3-5.5 4.5-3.5 13.5-4.5 4.5 0zM472 291.5l3-0.5 2 1 1.5 1.5 1 3 0 1.5-1.5 1.5-1.5 1-1.5 0-4.5-4-0.5-1.5 0-1.5zM414.5 332.5l2-1 2 1 1.5 1.5-0.5 1.5-1.5 1.5-3 0.5-0.5-2z"/>
<path d="M63.6 599.3L70.3 595.1L80.3 588.5L86.9 580.1L91.1 570.1L91.1 558.5L88.6 546.8L83.6 536.9L77.0 526.9L68.6 516.9L62.0 506.9L57.0 496.9L55.3 488.6L58.6 480.3L65.3 472.0L73.6 464.5L81.9 458.6L88.6 459.5L93.6 463.6L96.9 468.6L98.6 473.6L101.1 477.8L99.9 472.0L100.3 464.5L106.9 462.0L116.9 457.0L130.2 452.0L133.5 447.0L136.9 449.5L146.8 446.2L158.5 440.3L170.1 432.0L180.1 422.0L188.5 410.4L193.4 400.4L192.8 407.1L200.3 394.5L208.6 381.1L214.5 366.2L212.0 361.2L202.0 357.8L207.0 351.2L212.8 344.5L210.3 337.9L208.6 329.5L203.7 319.6L198.7 309.6L191.2 301.3L192.0 294.6L200.3 286.3L208.6 278.0L218.6 273.8L217.0 270.5L207.0 270.5L197.0 271.3L188.7 273.0L185.3 268.0L182.9 263.0L175.4 259.7L172.0 254.7L175.4 250.5L183.7 248.0L192.0 241.3L200.3 233.9L208.6 229.7L215.3 231.4L217.0 236.4L212.0 242.2L212.8 246.3L220.3 248.8L230.3 246.3L240.3 243.8L246.9 245.5L250.3 251.3L248.6 256.3L245.3 259.7L250.3 263.0L258.6 267.1L261.9 273.0L260.2 278.0L261.1 286.3L260.2 294.6L258.6 301.3L261.1 306.3L266.9 304.6L275.2 299.6L283.5 295.4L287.7 288.8L288.2 279.6L285.2 271.3L281.9 263.0L276.9 254.7L272.7 248.0L270.2 244.7L273.5 239.7L281.9 234.7L288.5 228.0L291.9 221.4L293.5 214.7L300.2 208.9L306.8 206.4L300.4 207.6L311.4 202.1L324.1 205.8L336.9 200.3L349.7 187.5L362.5 172.9L373.5 160.1L382.6 149.2L391.7 138.2L397.2 125.4L399.9 112.6L402.7 101.7L406.3 94.4L407.2 85.2L402.7 79.8L395.4 72.5L389.9 69.7L382.6 70.6L377.1 76.1L369.8 76.1L364.3 71.5L360.7 65.2L353.4 63.3L347.0 60.6L353.4 56.0L364.3 49.6L373.5 41.4L384.4 32.3L397.2 23.1L410.0 14.0L424.6 7.6L439.2 5.8L455.7 6.7L473.9 6.7L484.9 3.1L494.0 4.0L505.0 6.7L510.4 11.3L523.2 8.5L536.0 6.7L539.7 4.9L536.0 0.3L545.1 -4.3M0.4 558.5L7.1 559.3L17.0 566.8L25.4 576.8L33.7 586.8L40.3 595.1L48.7 599.3L50.3 602.6M84.4 491.1L86.9 484.4L93.6 480.3L101.9 479.4L106.1 482.8L105.2 490.3L100.3 497.8L92.8 501.9L86.9 499.4L84.4 491.1M199.3 447.0L200.1 437.0L204.3 425.4L210.1 417.0L214.2 417.9L213.4 428.7L210.9 440.3L206.8 450.3L202.6 453.7L199.3 447.0M201.8 498.6L208.4 496.9L216.7 500.3L218.4 508.6L220.1 516.9L216.7 525.2L213.4 533.5L215.1 543.5L213.4 551.8L208.4 556.8L204.3 557.7L202.6 550.2L199.3 545.2L196.8 538.5L195.1 530.2L198.4 525.2L200.1 516.9L200.9 506.9L201.8 498.6M201.8 560.2L205.9 558.5L210.1 566.8L208.4 573.5L204.3 568.5L201.8 560.2M216.7 553.5L221.7 548.5L226.7 553.5L231.7 558.5L233.4 563.5L228.4 560.2L223.4 556.8L218.4 556.8L216.7 553.5M240.0 571.8L246.7 570.1L250.0 576.8L248.4 585.1L250.0 591.8L245.0 596.8L241.7 588.5L243.4 580.1L240.0 571.8M216.7 581.8L221.7 583.5L225.1 590.1L226.7 598.4L221.7 598.4L218.4 590.1L216.7 581.8M183.5 600.1L188.5 591.8L191.8 598.4M233.4 599.3L236.7 595.1L240.0 600.1M257.4 318.7L259.4 316.7L261.4 318.7L259.4 320.7L257.4 318.7M291.0 321.2L295.2 317.1L301.8 314.6L304.3 316.2L301.8 321.2L303.5 326.2L308.5 322.9L311.0 326.2L310.2 334.5L307.7 341.2L304.3 344.5L300.2 342.0L296.8 338.7L297.7 332.9L300.2 329.5L296.8 326.2L293.5 325.4L291.0 321.2M304.3 310.4L310.2 306.3L318.5 301.3L326.8 297.1L336.8 292.9L346.8 291.3L355.1 286.3L360.1 279.6L365.1 278.0L371.7 273.0L380.1 268.0L386.7 259.7L390.0 249.7L393.4 239.7L394.2 231.4L397.5 226.4L403.4 228.9L410.0 234.7L412.5 243.0L410.0 253.0L405.0 259.7L401.7 268.0L400.0 278.0L399.2 286.3L400.0 291.3L395.0 296.3L392.5 292.1L388.4 296.3L383.4 298.8L378.4 299.6L371.7 302.9L365.1 302.1L360.1 306.3L356.8 312.9L351.8 317.9L348.4 314.6L349.3 307.9L346.8 304.6L340.1 304.6L333.5 306.3L326.8 306.3L321.8 309.6L316.8 308.7L310.2 312.1L304.3 310.4M320.1 319.6L323.5 312.9L330.1 310.4L336.8 308.7L339.3 312.9L335.1 317.1L328.5 319.6L325.1 324.6L321.0 325.4L320.1 319.6M396.7 222.2L392.5 213.0L391.7 206.4L395.4 204.0L404.5 198.5L408.2 185.7L410.0 175.7L415.5 177.5L421.0 183.9L430.0 191.2L441.0 193.0L445.6 198.5L441.0 204.0L431.9 207.6L424.6 213.1L417.3 209.4L410.0 211.3L402.7 214.0L400.0 219.7L396.7 222.2M410.0 79.8L417.3 77.0L422.8 75.2L425.5 81.6L426.4 94.4L430.1 107.2L433.7 119.9L434.6 127.3L428.3 130.0L422.8 134.6L419.1 143.7L421.9 152.8L424.6 158.3L417.3 162.0L414.6 165.6L411.8 160.1L412.7 145.5L413.6 130.9L412.7 116.3L410.0 101.7L408.2 88.9L410.0 79.8M366.5 60.6L369.8 57.3L373.1 60.6L369.8 63.9L366.5 60.6M609.1 -4.3L605.4 1.2L596.3 6.7L583.5 14.0L570.7 21.3L559.8 28.6L550.6 37.8L546.1 48.7L546.1 57.8L548.8 68.8L552.5 81.6L554.3 92.6L557.9 107.2L563.4 103.5L568.9 96.2L574.4 88.9L581.7 81.6L589.0 76.1L592.6 68.8L601.8 65.2L610.9 61.5L609.1 54.2L614.6 46.9L621.9 43.2L618.2 35.9L620.0 28.6L614.6 23.1L616.4 15.8L621.9 8.5L625.5 1.2L629.2 -4.3M938.8 66.2L944.0 62.0L948.8 61.2L944.0 65.0L938.8 66.2M956.3 58.7L966.3 53.7L978.8 51.2L972.0 56.0L962.0 59.0L956.3 58.7M962.0 5.0L966.0 8.0L978.8 15.0L982.5 10.0L990.0 12.0M905.0 2.0L915.0 5.0L925.0 2.0M700.0 3.0L712.0 6.0L722.0 3.0M633.0 2.0L640.0 7.0L652.0 5.0L660.0 2.0" fill="none" stroke="#fff" stroke-width="3.0" stroke-linejoin="round" stroke-linecap="round"/>
</svg>
<path d="M132 1713.6v-10M132 2314.4v10M132 1713.6h-10.5M1116 1713.6h9.5M328.8 1713.6v-10M328.8 2314.4v10M132 1833.8h-10.5M1116 1833.8h9.5M525.6 1713.6v-10M525.6 2314.4v10M132 1953.9h-10.5M1116 1953.9h9.5M722.4 1713.6v-10M722.4 2314.4v10M132 2074.1h-10.5M1116 2074.1h9.5M919.2 1713.6v-10M919.2 2314.4v10M132 2194.2h-10.5M1116 2194.2h9.5M1116 1713.6v-10M1116 2314.4v10M132 2314.4h-10.5M1116 2314.4h9.5" stroke="#000" stroke-width="4.2" fill="none"/>
<rect x="132" y="1713.6" width="984" height="600.8" fill="none" stroke="#000" stroke-width="4.2"/>
<text x="132.5" y="2379" text-anchor="middle" font-size="48">100<tspan dy="-23.5" font-size="34.5">o</tspan><tspan dy="23.5">E</tspan></text>
<text x="329.3" y="2379" text-anchor="middle" font-size="48">120<tspan dy="-23.5" font-size="34.5">o</tspan><tspan dy="23.5">E</tspan></text>
<text x="526.1" y="2379" text-anchor="middle" font-size="48">140<tspan dy="-23.5" font-size="34.5">o</tspan><tspan dy="23.5">E</tspan></text>
<text x="722.9" y="2379" text-anchor="middle" font-size="48">160<tspan dy="-23.5" font-size="34.5">o</tspan><tspan dy="23.5">E</tspan></text>
<text x="919.7" y="2379" text-anchor="middle" font-size="48">180<tspan dy="-23.5" font-size="34.5">o</tspan><tspan dy="23.5">W</tspan></text>
<text x="1116.5" y="2379" text-anchor="middle" font-size="48">160<tspan dy="-23.5" font-size="34.5">o</tspan><tspan dy="23.5">W</tspan></text>
<text x="108.8" y="1736.2" text-anchor="end" font-size="48">60<tspan dy="-23.5" font-size="34.5">o</tspan><tspan dy="23.5">N</tspan></text>
<text x="108.8" y="1856.4" text-anchor="end" font-size="48">50<tspan dy="-23.5" font-size="34.5">o</tspan><tspan dy="23.5">N</tspan></text>
<text x="108.8" y="1976.5" text-anchor="end" font-size="48">40<tspan dy="-23.5" font-size="34.5">o</tspan><tspan dy="23.5">N</tspan></text>
<text x="108.8" y="2096.7" text-anchor="end" font-size="48">30<tspan dy="-23.5" font-size="34.5">o</tspan><tspan dy="23.5">N</tspan></text>
<text x="108.8" y="2216.8" text-anchor="end" font-size="48">20<tspan dy="-23.5" font-size="34.5">o</tspan><tspan dy="23.5">N</tspan></text>
<text x="108.8" y="2337" text-anchor="end" font-size="48">10<tspan dy="-23.5" font-size="34.5">o</tspan><tspan dy="23.5">N</tspan></text>
<rect x="1168.2" y="2268.2" width="38.4" height="36.9" fill="#0000B8"/>
<rect x="1168.2" y="2231.9" width="38.4" height="36.9" fill="#0014DC"/>
<rect x="1168.2" y="2195.6" width="38.4" height="36.9" fill="#0034FF"/>
<rect x="1168.2" y="2159.3" width="38.4" height="36.9" fill="#6868FC"/>
<rect x="1168.2" y="2123.1" width="38.4" height="36.9" fill="#8C98FC"/>
<rect x="1168.2" y="2086.8" width="38.4" height="36.9" fill="#B0C6FC"/>
<rect x="1168.2" y="2050.5" width="38.4" height="36.9" fill="#D6E0FA"/>
<rect x="1168.2" y="2014.2" width="38.4" height="36.9" fill="#F8F8F8"/>
<rect x="1168.2" y="1977.9" width="38.4" height="36.9" fill="#FFE8CA"/>
<rect x="1168.2" y="1941.6" width="38.4" height="36.9" fill="#FFCC9E"/>
<rect x="1168.2" y="1905.3" width="38.4" height="36.9" fill="#FF9472"/>
<rect x="1168.2" y="1869" width="38.4" height="36.9" fill="#FF5040"/>
<rect x="1168.2" y="1832.8" width="38.4" height="36.9" fill="#FF0000"/>
<rect x="1168.2" y="1796.5" width="38.4" height="36.9" fill="#D40000"/>
<rect x="1168.2" y="1760.2" width="38.4" height="36.9" fill="#AC0000"/>
<rect x="1168.2" y="1723.9" width="38.4" height="36.9" fill="#800000"/>
<text x="1218.5" y="1739.5" font-size="44">8</text>
<text x="1218.5" y="1812.1" font-size="44">6</text>
<text x="1218.5" y="1884.6" font-size="44">4</text>
<text x="1218.5" y="1957.2" font-size="44">2</text>
<text x="1218.5" y="2029.8" font-size="44">0</text>
<text x="1218.5" y="2102.4" font-size="44">-2</text>
<text x="1218.5" y="2174.9" font-size="44">-4</text>
<text x="1218.5" y="2247.5" font-size="44">-6</text>
<text x="1218.5" y="2320.1" font-size="44">-8</text>
<path d="M1168.7 1796.8h6M1206.1 1796.8h-6M1168.7 1869.3h6M1206.1 1869.3h-6M1168.7 1941.9h6M1206.1 1941.9h-6M1168.7 2014.5h6M1206.1 2014.5h-6M1168.7 2087.1h6M1206.1 2087.1h-6M1168.7 2159.6h6M1206.1 2159.6h-6M1168.7 2232.2h6M1206.1 2232.2h-6" stroke="#000" stroke-width="2.2" fill="none"/>
<rect x="1168.3" y="1724.2" width="38.2" height="580.6" fill="none" stroke="#000" stroke-width="2.1"/>
<text x="82" y="1672.7" font-size="52">E</text>
<text x="630" y="1670.7" font-size="51.6" text-anchor="middle" style="white-space:pre">Total cloud cover anomaly</text>
<svg x="1349.6" y="1713.6" width="984" height="600.8" viewBox="0 0 984 600.8" overflow="hidden">
<rect width="984" height="600.8" fill="#F8F8F8"/>
<path fill="#FFE8CA" d="M14 24l5.5-8 3-7 9-9 261 0 4 7.5 3.5 4.5 1.5 6 5.5 7 7.5 0 7.5 2.5 4.5-1.5 9 1.5 7.5-2.5 6 2.5 3 0 6-1.5 9-5.5 15-2.5 7.5-3 4.5-0.5 12 2 6-1.5 9 0 6 3 4.5 3 6 0 10.5 5 12 3 8.5 4 8 5 2.5 7 5 6 8 16.5 3.5 12 0 3-2 6 1.5 9 6.5 13.5 3 12 2 4.5 2 9-0.5 6-4 9 0 7.5-2.5 3-6 4-6.5 7.5-5 7.5-6 5-3.5 4-0.5 3 1 1.5 6 4 7.5-0.5 11.5-2.5 6 1 6-1.5 9 0 6-1 9-3 3 0 7.5 4 3 0.5 6-2.5 4.5-1 3-2.5 1.5-0.5 7.5 1 6.5-4.5 5.5-1 6 1 12-0.5 6 2.5 4.5-0.5 6 0.5 6-0.5 15 5 6-0.5 16.5 0 3 1.5 2.5 3 2 1 7.5 0.5 9-0.5 9 2 3-1 6-3 7.5 1 16.5-3.5 3 0 12 3.5 6 0 9-3 2-1.5 2.5-3 1.5-0.5 1.5 0.5 2.5 3 3.5 1.5 4.5 0 10.5-1.5 6 0.5 6-1 1.5 0.5 3 3.5 1.5 1 1.5-0.5 4.5-4.5 4.5-4 8.5-2 15 2.5 4.5-2.5 6-2 9 1 6-1 9 0 12-1 13.5-3 13.5-1.5 9-3 13.5-1.5 7.5 1 13.5-2.5 18 0.5 6-0.5 6 0 0 176-9 2-3 1.5-2 2.5-2.5 6-1.5 1.5-1.5 0.5-13.5-2-7.5 0.5-4.5 3-4.5-2-3 0-10.5 2.5-3-1-3-2-3-0.5-12 3.5-6 4-12 3.5-3-1-7.5-4.5-6 1-6-1.5-12 4.5-6-1-6 0-10.5 2-16 0.5-3-0.5-4.5-3-7.5-2.5-12 1-9-3-10.5-1.5-6-3-3-0.5-9 0-4.5 1-1.5 0.5-0.5 3-1 2-1.5 1-3 0.5-1-2 2.5-3.5 4-2.5-2-3-4-3-10-5.5-5.5-0.5-2-3-1.5-0.5-15-1.5-3 0.5-12 5.5-4.5 0-7.5-2-3 0-3 1-6 3.5-6-1-6 0-9 3.5-9 4.5-3 0.5-4.5-1-7.5 2.5-10.5-3.5-6-3.5-1.5 0-7.5 0.5-6-0.5-9 1.5-4.5-0.5-6 1-9 0-4.5-1-9 3-3-0.5-3-3.5-3-1-15 2-29.5 10.5-11-3.5-10-2.5-6 2-6-0.5-6 0-7.5 3-7.5-0.5-7.5 2.5-3 0-19.5-2.5-22.5 2.5-3 0-6-2-4.5-0.5-9 2.5-6-3-3 0-13.5 4.5-6-1-7.5 3-10.5 0-9 2-6 2.5-6 0-6 4-6 1-6 4-3 1-4.5 0-4.5 3-7.5 1-9 6-10.5 1-4.5-0.5-4.5 4-2 7-1.5 3-2.5 2-4.5 3-2 2.5-2 4.5-1 6-5 7.5-2 1.5-15.5 9-4 4-3 6-1.5 1.5-7.5 0.5-6 1.5-8.5 2-9 3-7.5-0.5-4.5 1.5-3-0.5-5.5-4-2-1.5-1.5 0.5-4.5 3.5-1.5 0-3-1-3-3-1.5-0.5-1.5 0.5-1 1.5 1 1.5 3 3 0 1.5-3 2.5-10.5 6.5-13.5 3-13.5-3.5-9 3.5-15 2-18 3.5-6 0-4.5-3.5-4.5-2.5-3-3.5-12-1 0-134 3 1 2-1.5-2-3-1.5-1-1.5 0 0-19.5 9 0 6 2.5 11 3-0.5 6-1 1.5-5 2.5-4.5 6.5-0.5 3 2.5 4.5 5.5 4 3 1 7.5-0.5 7.5-2.5 9-2.5 7.5-0.5 3-0.5 4.5-3.5 6-3.5 13.5-9.5 6-2.5 7.5-1 5-2.5 4-3 2.5-3 0.5-9-1-3-7-7.5-7-5.5-3-0.5-4.5 1-4.5-3.5-1.5-0.5-9 3-4.5 4.5-6 3.5-4.5 5-1.5 0.5-1.5-1-1-3.5 0.5-6-1.5-18 1-4.5 3.5-9-2-6 0.5-4.5-0.5-3-4-6-0.5-4.5-0.5-1-9-10-4.5-1.5-6-3-6-2-6-3-7.5 0.5-7.5 2-3-1 0-105 10.5 0 10.5 4.5 5 1.5 1.5 1.5 0.5 3-1 6 0.5 1.5 2.5 1.5 4.5 1.5 10.5-0.5 6-1.5 4.5-2.5 3-0.5 4.5 0.5 7.5 2.5 4.5 0.5 6 0 4.5-1 21 0.5 4.5-1.5 3 0 9 2 4.5 4.5 7.5 5 19.5 5 7.5-1 13-3.5 4.5-2 6.5-5 9-9 1.5-3 0.5-4.5-1.5-4.5-8.5-10.5-4-6-9.5-5-4-5.5-12-10.5-7.5-4.5-6-2-7.5-4.5-7-5.5-3.5-1-6-0.5-9-3-6-0.5-7.5-5.5-6-1.5-6-4-9-3.5-3 0-13.5 3.5-6-1.5-9 0-6-1-6 2-3 0-17-6-0.5-1.5 1-4.5zM319.5 76.5l-3 4.5-0.5 4.5 2 9 2 3 5 3.5 3 1 10.5-0.5 3-1 2-1.5 2-4.5-2-4.5 1.5-7.5-1-3-2.5-3.5-3-2-6-1-10.5 2zM380 123l-4-3-3-1.5-3 1-6 2.5-4.5 4-2 3-1.5 6 0 3 0.5 1.5 3 2 4.5 0.5 7.5-1 3-1.5 4.5-4.5 3-4.5 0-3zM407 194.5l-1-3-5.5-6-1-6-1-1-1.5-0.5-2 0-4 3-3 4.5-1.5 2-3-0.5-3-1.5-1.5 0-7.5 2.5-4.5 5-0.5 1.5 1 3 2.5 3 6 3.5 4.5 3.5 1.5 0 4.5-1.5 7.5-0.5 9-2.5 3-3zM112.5 277l1 6 5 11.5 1.5 1 6 1 10.5 6.5 7.5-0.5 7.5 0 7.5-2 5.5-0.5 6-2.5 12-4 16.5 5 6 3 10.5-4.5 3 0 16.5 4 6-0.5 9 1 13.5-6 5.5-3.5 2.5-3 2.5-6 0.5-7.5 0-6 3-7.5 0.5-3-5.5-9-4.5-10.5-1.5-5.5-1.5-1-4.5 0-4.5-1-4.5 1.5-3 0-4.5-1.5-6-0.5-6-2.5-7.5 0.5-9-0.5-16.5 2-7.5-3-4.5-0.5-4.5 1.5-6 5.5-6 2-8.5 1.5-13.5 1.5-16.5 5-6 3-3 2.5-4.5 6-3.5 6-1 3zM331.5 193l-3 0-1.5 1.5 2.5 1 1.5-1zM118.5 308.5l-2.5 1.5 0.5 1.5 2.5-1.5zM248.5 318l-1 1 1 1.5 1.5 0.5 1-0.5 0-1.5-1-1zM864 3l3 2 3 4 0 1.5-1.5 2-1.5 0-1.5-0.5-1.5-2.5-1-5zM759.5 58.5l0 3-4.5 10.5-8 12-1.5 9-4 6-0.5 6-2.5 4-1.5 3.5-0.5 4.5 0.5 4.5 1.5 2 3.5 4 0.5 1.5-1 4.5-1.5 2-1.5 0.5-3-1-6-8-1.5-1.5-1.5 0-9 7-4.5 5.5-6 2-4.5 4-7.5 4-10.5 2.5-6 0.5-6 2-6-1-13.5-1.5-6 3-7.5-2-7.5 1.5-6-2-6-0.5-12-2.5-3 0-6 2.5-4.5 0.5-3 0-4.5-2-7.5-4.5-12-5.5-4.5-3.5-10.5-5-7-7.5-0.5-3 0.5-3 4.5-12 6.5-6 5-7.5 6.5-4.5 7-9 9-8.5 4-5 6.5-5.5 4.5-2.5 5-4 6-7.5 8.5-7 7.5-3 7.5-0.5 1.5-1 3-4 2-1 4-0.5 6 2 1.5 0 4.5-4 10.5-2 6-2.5 7.5 0.5 7.5-3 4.5 0.5 4.5-0.5 6 1 6 0 7.5 2 3 0 6-2 9 2 3 1 2.5 4 2 6 1.5 1.5 4.5 3 3 5.5 4 3.5 2 7.5zM726.5 50l0 1.5 1.5 1 2 0-0.5-1.5-1.5-1.5zM832 28.5l0 1.5-1 1.5-4.5 4.5-1.5 0-1.5-1-0.5-2 0-3 0.5-1.5 1.5-1.5 3-0.5zM518 161.5l1 2-1 2-1.5-1 0-2.5zM509 162l1.5 1.5 0 2-1.5 0.5-0.5-2.5zM509 168l0.5 2.5-2 2.5-0.5-1 0.5-1.5zM951 393l1.5 0.5 1.5 2 0 4.5-1.5 1-3-1-1.5-1.5 0.5-3 1-2zM261 603.5l-41 0 0-3 1.5-5.5 7.5-12 3-1.5 12-2 4.5 2 9 10 2.5 4.5z"/>
<path fill="#FFCC9E" d="M70.5 154.5l2-4.5 2.5-3 3-1 12-2.5 9 1 6-2 6 1.5 9-4.5 3 0.5 9 4.5 6 1 13.5 3 6 0.5 7-3 7.5-0.5 7.5-2 7.5-5 15-15.5 3-4.5 3-7.5 2-7.5 2.5-5 0.5-2.5-8-6-7.5-7-12-8-4.5-1.5-9-1-6 0-1.5-0.5-5-4.5-5-9-4.5-5-4.5-14.5 0-9 1.5-3 5-6 5.5-4.5 3-3.5 7 0 12-2 9 1 3 1.5 1.5-0.5 6-4 3-4.5 1.5-1.5 12.5-3 7 0 3 1 6-1 3 0.5 6 1.5 9 4 7.5 2 6 0 7.5 1.5 12 1 3 1 0.5 5 3 3 1.5 3-0.5 6 5 15-0.5 6 5 4.5 2 6 4.5 6 4 9-0.5 9 2 13.5 10 9 4.5 2.5 6 0 4.5 0.5 9-0.5 9-3 4.5-3.5 4.5 0.5 3-4 2-1.5 11.5-4.5 1.5-2 2.5-7 3.5-4.5 1.5-3.5 6-3 9-8 3-7 4.5-4 3-4.5 6-2 6-4.5 7.5-4 6-1 7.5-2 3 0.5 6 4 7.5 2 3 2 1 2 2 4.5 4.5 4.5 3.5 9 1 6 2.5 6 2 6 0.5 12 3 15 0.5 7.5 2 4.5-1 3-3 6 0.5 6-4 18-7.5 9-7.5 12.5-7.5 3.5-7 0-11.5 6-2.5 1-3-1-9-4.5-6-9-1.5-1-6-1-4.5-2-5-4.5-8.5-5.5-6-0.5-4.5-2.5-3-0.5-6 1.5-6 3-2.5 4.5-5.5 1-3 4.5-2.5 2-6 0-7.5-1-7.5 2.5-7.5 0-10.5-1.5-10.5 0.5-6-2-6-4.5-1.5 0-6 1-12-3-9 1.5-16.5 1-4.5-2-3-0.5-11.5 9-5 2.5-6 4-10.5 5-6 1.5-7.5-2.5-7.5 4.5-9 0.5-7.5 5-8.5 2.5-4.5-0.5-6-2-7.5 1-9-2-9 1-4.5-0.5-6-2-7.5-1-10.5-5.5-4.5-1.5-6-3.5-6.5-5-2.5-6-4.5-4-3.5-6zM278.5 89.5l-1.5 0-6 3.5-1 1.5-0.5 1.5 1.5 2.5 4.5 2.5 3-0.5 1.5-1 2.5-3.5-1-3zM386.5 120l-4.5-4-9-2.5-12 3.5-6 3-3.5 6-1 4.5-0.5 6 1 6 1 3 3 2.5 3 0.5 9-1.5 6 0 4.5-1.5 4-4.5 4-3 3-6 0.5-3-1-6zM48 27l1.5-1.5 1.5 0 2.5 1.5 0.5 1.5-3 1-3-1zM356.5 47l3-1 9-0.5 3 1.5 3 4 1.5 6 0 10.5-1.5 3-3 5-3 2-6 0.5-3-1-9-5-2-3-1-9 0.5-3 3-4.5zM683.5 109.5l-1 6-2 6-5 6-4.5 3.5-9 4-7.5 0.5-7.5 2-6 0-4.5 1-6-1.5-9 0.5-13.5-5-7.5-5-6 0-13.5 2.5-3-0.5-15-5.5-7.5 0-3-4-1-3 1-3 1.5-4 9-12 15-12.5 5-6 6.5-3 4.5-4.5 9-7.5 12.5-8.5 4.5-1.5 13.5-1.5 6-2 3 0.5 5.5 4 5 2 9 8 6 3 1.5 2 2 6 1 7.5 3.5 3 0.5 1.5 0.5 6 4.5 7.5zM0 116l9-1.5 3 0 4 2.5 1 1.5 0.5 1.5-1.5 1.5-13 2-3 0zM259 185.5l1.5 0.5 1 2.5-1 3-1.5 1.5-1.5 0.5-1.5-2 0-3 1.5-2.5zM985.5 184.5l0 138-6 0-7.5 3-7.5-1.5-3-0.5-4.5 2.5-6 1-13.5 6.5-9 1-4.5-2-3 0-15 6-3 0.5-6-0.5-4.5 1-7.5 0.5-15 3.5-18 2-6 2-6 1.5-4.5-0.5-7.5-2-2 1-5.5 4-8.5 4.5-3 0.5-6-1-7.5 0.5-13.5 2.5-3-0.5-6-2.5-10.5-3.5-6-7.5-5-3-7-3-3-3-6-3-9-8-3-1.5-4.5-0.5-10.5 3-6 2.5-19.5 2.5-3 0-7.5-2-7.5 2-4.5 0-9 2-10.5 0.5-7.5-1-1.5 1.5-1.5 4-1.5 0.5-4.5-2-1.5 0.5-2.5 2-2 2.5-3-2-4.5-0.5-7.5-4-6 0.5-6-0.5-7.5 4-7.5 2.5-12 3-6-1.5-4.5 1-1.5 0-13.5-5-10.5-5-1.5 0-4.5 2-7.5-2-10.5 0.5-3 1.5-4.5 6-1.5 0-4-3-1.5-0.5-4.5 2-6-1-3 1-4.5 3.5-3 0.5-4.5-0.5-4.5-2-3-1-12 1-3 1.5-3.5 3-2.5 2-7.5 0-12 2-4.5-1-6-2.5-6 0-3-2-3-1.5-6 1-27-0.5-6-1-15 0.5-21-1-6 2.5-12 9.5-4.5 2-9 1-1.5 1-4.5 5-4.5 2-19.5-4-3-1.5-4.5-4.5-6-1-2-2-3.5-9 0-4.5 1-3 3-1 6-3 7.5-4.5 4-3.5 1-1.5 1.5-6 3-4.5 2.5-2.5 4.5-3.5 9-11 13.5-7 4.5-5.5 6-3.5 3-5 3-0.5 6 0.5 3-0.5 14.5-15.5 5-2 4.5-1 10.5-6.5 9-10.5 3-3 9-4.5 9-3.5 7.5-2 13-4.5 9.5-2.5 4.5-2.5 3-0.5 4.5 1.5 10.5-1.5 13.5-6.5 4.5 0.5 7.5-1 7.5 1 6 1.5 4.5 2.5 3 1 4.5-1.5 4-2.5 4.5 1 3-0.5 1.5-2 1.5-4 1.5-0.5 5 1.5 1.5 1.5 2.5 5.5 1.5 0.5 7.5-2.5 2.5 1 2 2 1.5-0.5-0.5-3 2-1 1.5 0.5 2 0.5 0 4.5 1.5 1.5 2.5 1.5 6-0.5 6 2 10.5-0.5 6-1 6-2 9 0.5 15-3 3 1.5 3 2.5 1.5 0 7.5-4.5 3-1 6 2 10.5-2 1.5 0 4.5 3 13.5 0.5 4.5 1 3-0.5 4.5-2 7.5 1.5 7.5-2 24 6.5 3 0 3-1 4.5-0.5 9 2 4.5 3 9-0.5 1.5 0 4.5 3.5 6.5 2 1 1.5-2 3 0 1.5 2 1 3.5-1-2-4.5 1.5-1.5 9.5-1.5 2.5-1.5 3-6.5 3-3.5 1.5-1 4.5 0 4.5 2.5 6-0.5 4.5 1.5 9-0.5 6.5-4 5.5-1.5 7.5-1 10-2.5 9 0 5.5-4 2-0.5 13.5 1 3 0 6-3 4.5-0.5 6-3.5 4.5-0.5 4.5-1.5 10.5-1 6 1.5 7.5-1 7.5 1 6-1.5 7.5-0.5 6-2 7.5 0.5 10.5-4 3-0.5 4.5 0.5 6-2.5 12 0.5zM214 312.5l0.5 0.5-4 7.5-2 7.5-2.5 4.5-1 3 1 6 0.5 6 3 9-3.5 10.5-4 6-2.5 7.5-3.5 4.5-1.5 7.5-3 8-9.5 11.5-11.5 6-1.5 3-1.5 5.5-0.5 2-2.5 0-5.5-2.5-3 0.5-7.5 4-7 7-5 2-1.5 1-3 4.5-1.5 1-7.5 0-4.5 1-13.5-1.5-7.5-3-6 1-15-7-3-0.5-7.5 0.5-2-0.5-0.5-1.5 1-3-2-4.5-1-6-6.5-6-4-9-0.5-3 0.5-2.5 1.5-2 5.5-4.5 2.5-3-1-7.5 1-9 5.5-9 1-4.5-1-4.5 1-7.5 1-3 2.5-4 1.5-1 4.5-0.5 1.5 0 4.5 3 1.5-0.5 1-3-0.5-4.5 0.5-3 2.5-3 2.5-1.5 7.5-2.5 9-3.5 12-2 15-5.5 6-4 7.5 0.5 10.5-4.5 7 1.5 1.5-0.5 8.5-5 6.5-2.5 4.5 0.5 9.5 3.5 2.5 1.5 3 4 6 3 1.5 0 4.5-1zM121.5 384l-2 1-3 4.5 0 1.5 2 3.5 3 2 1.5-0.5 0.5-2 1-7.5-0.5-1.5zM0 437.5l6-1.5 13.5 4.5 6 3.5 7.5 2 6 4 6 1.5 2.5 2.5 0.5 1.5-0.5 6-1 1.5-4.5 2.5-7 0.5-2 1-1.5 2-1.5 1-4-1-4.5-4.5-6.5-2-4.5-3.5-1.5 0-9 1.5zM236.5 591l1-1 6.5-3 3 1 7.5 7.5 1 3.5-0.5 4.5-21.5 0 3-4.5z"/>
<path fill="#FF9472" d="M202 31.5l10.5-6.5 7.5 0.5 9-2.5 6-2.5 7.5 1 9.5 2.5 5.5 0.5 7.5 2.5 2 0 4-1.5 1.5 2 1 5.5 2 3 1.5 1 5 0.5-0.5 1.5-4.5 3.5-4 5.5-4.5 10.5-4 1.5-1 1.5-0.5 4.5-1 3-8 7.5-2.5 1-10.5-0.5-13.5 2.5-4.5 0-3-0.5-7.5-3-7.5-5-1.5-2-1-6-3.5-6-3.5-7.5-0.5-3 1.5-4.5zM362.5 51l3 0.5 2.5 1 1 1.5 1 3-1 10.5-2 2-4.5 1.5-2-0.5-5.5-6-1-4.5 0.5-3 2-3.5 3-2zM605.5 70.5l7-6 7.5-4 4.5 0 4.5 2 3-2 3-1 2.5 0.5 3.5 1.5 4 4.5 12 9 2 3 3 12-0.5 1.5-3 4.5 0 1.5 3 7.5-0.5 3-2 2.5-6 4-4.5 1-6-1.5-10.5 0.5-7.5-0.5-3-1.5-6.5-4.5-6-6-5.5-3-4.5-5.5-1.5-3.5-0.5-3 0.5-2 3-4.5 3-3 1.5-5.5zM440.5 109l9 6.5 7 6 5.5 6 2 3 0 6-2 3-6 4.5-5 5.5-10.5 5.5-3 0.5-1.5-0.5-3-3-2-5-4.5-6-0.5-3 1.5-4.5-2.5-6 1-3 5.5-7.5 6-6.5zM985.5 199.5l0 54-7.5 3-7.5 1-4.5 3-3 4.5-3.5 3-4.5 7.5-7 4.5-4.5 7.5-3 2-6-0.5-9 1.5-6 3.5-13.5 2-6 4-6 1.5-1.5 1-4.5 6-9 7-3.5 6.5-5.5 5-7.5 0.5-13.5 3-7.5-1-1.5 0.5-3 3-1.5 1-4.5 0.5-4.5 3-14.5 6-3 0-4.5-3-3 0-3 1-6 4-6 2-3 2-1.5 0-8-5-2-3-0.5-3-1.5-2-6-1.5-4.5-3-2.5-2.5-2-4.5-4.5-3-7.5-6-3-6-10.5-4-7.5 0-10.5-2-13.5 3-7.5-2.5-1.5 1-3 4.5-3 2.5-1.5 0-6-1.5-6 2.5-7.5 2-3 1.5-1.5-0.5-1.5-2-1.5-0.5-4.5 1-2.5-0.5-3.5-3-1.5 0-3 0.5-10.5 6.5-7.5 1-6 2.5-7.5-0.5-21 3-3 0-3-1-1-1.5-1.5-4.5-2-1-2 1-4 5-12 2.5-7.5-0.5-10.5-2.5-6 0.5-6-0.5-7.5 0.5-4.5 1-6-1.5-9-0.5-9 1-7-1.5-9 0-10.5 3-4.5 3-7.5 3.5-10.5 2-12 4.5-9 2-4.5-0.5-15-4-21-3-4.5-2-4.5-0.5-6-5-10.5 0.5-3-0.5-4-2-2-3-1.5-0.5-6 5.5-7.5 1-9 3-3 2.5-4.5 2-15.5 9-4 3.5-1.5 0.5-7.5-1-6 0.5-1.5-2 1.5-4.5 0.5-9-1-7.5 1-4.5 3-4.5 1.5-4.5 6-3 3.5-3 3-7.5 6.5-6 9-4 17-11 9.5-7.5 6.5-6 15-7 10.5-7 13.5-4.5 7.5-6.5 6-2 9-3.5 24-2 6-2 7.5-5 4.5-2 7.5 1.5 7.5 4 15-1 4.5 2 6 0.5 17.5 5 7.5-2 7.5 0.5 4.5 2 7.5 0 6-1 13.5 0.5 4.5-1 9-3.5 4.5-1 9 1.5 27 2 3-0.5 4.5-2 6-1 6 1.5 18 1.5 3 1.5 6 4.5 9 0 5.5 3.5 6.5 1 11 3.5 7 4 10.5 1.5 6-2 18 0 10.5 2.5 9-2 14-4 7-0.5 9-5 10.5-3 6-0.5 10.5-2.5 6-3 11.5-1 4.5-2 9-5.5 7.5-1.5 6 0.5 9-0.5 7.5-2 7.5 0.5 4.5-1 9-1 1.5-0.5 3.5-4.5 4-1.5 18 1.5 4.5-1.5 7.5-0.5 19.5-4 6 0 6-2 6 0 9-3 6 0zM768.5 289l-1 1.5 1 1.5 1.5 0 1-1.5-1-2zM126.5 328l3.5 0 1 1.5-0.5 1.5-1.5 0.5-1.5-1-1-1zM155 332.5l1.5 0 1 1.5 0.5 3-0.5 1.5-1.5-0.5-2-2.5-0.5-1.5zM147 348.5l1.5-1.5 6-2.5 4.5-2.5 7 0.5 6-0.5 3 2.5 6.5 9 5.5 4.5 3 7.5-0.5 4.5-2.5 2.5-6 5-3 1-3-1-7.5-6-4-1-4.5-5-6-4-6-9.5zM96 355l3 0 1 1.5 2 6 4.5 10.5 0 3-0.5 1.5-2 3-2 1-3-1-6-2-2-2.5 0-6-1.5-9 2-3zM73.5 409l1.5-1.5 3-1.5 6 1 6-1 5 1.5 2 3 1.5 7.5 2 4.5 0 2-1.5 1-6 1.5-6 3-9-3.5-3-2.5-2.5-4.5 0-6zM112 431.5l2-0.5 1.5 0.5 1.5 1.5 0 1.5-3.5 0-1.5-1.5z"/>
<path fill="#FF5040" d="M251.5 35.5l8.5 5 1.5 1.5 0.5 3-0.5 3-2.5 2.5-4.5 2.5-4.5 0.5-3-0.5-2.5-2-1-3 0-4.5 0.5-3 1-1.5zM985.5 208.5l0 28.5-3 2.5-3 0.5-6-2.5-1.5-0.5-4.5 1.5-13.5-3-6 2.5-4.5-2-3.5-4 0.5-3 5.5-10.5 3.5-3.5 3.5-2.5 5.5-1.5 6-1 5.5-3.5 3.5-1 3 0zM289.5 322l0-3 3.5-6 9.5-7.5 9-11 16.5-13 9-4.5 15-12.5 15-6.5 6-3.5 6-2.5 4.5-2.5 9-3 7.5-7 13.5-3.5 10.5-1 10 1.5 3.5-1.5 6-1.5 4.5-3 7.5 0.5 10.5 1.5 6-2 3 0 7.5 1 4.5 1.5 5.5 0 4.5 5 3 1 9-1 4.5-1.5 3 0 9 4 3 0.5 13.5-3.5 12 1 9-3 6-3 3-0.5 9 2 12-0.5 4.5 2 6-0.5 7.5 1 10.5-1.5 10.5 3 7.5 1 12 8.5 3.5 4.5 1 7.5 1.5 4.5-2 9 1 4.5-2.5 6-1.5 9-2 3-5 3.5-6 1.5-4 5.5-2 2-12 5-6 1.5-10.5 1-4.5-4-5-2.5-10-7.5-12-3-6-1-9-4-3 0.5-6 2.5-10.5-0.5-6.5 7-2.5 4.5-1.5 0.5-3 0-12 6.5-3-0.5-4.5-2-3-0.5-9 1-4 1.5-7.5-1.5-4 2.5-6.5 0.5-6-1-7.5 0.5-3.5-1.5-7-7.5-0.5-3 1-6-0.5-3-1-1.5-4.5-4.5-2-1-10.5-0.5-4.5 0.5-4.5 3-6 0-4.5 2-10.5-0.5-4.5 3.5-4.5 1-4.5 3.5-9 2.5-3 0-4.5-2-4.5-0.5-12 2.5-4.5 3-6 1.5-3 1.5-7.5 9.5-14.5 5-12.5 9-4.5 2.5-3 0-3-2-4-5zM868.5 248.5l1 3 0.5 6 1.5 4.5 0 9-4 9-4.5 4.5-7 9-7 3-6 5.5-1.5 0-4.5-1-7.5 0.5-4.5-0.5-10 1-4.5 2-6 5.5-6 2.5-4.5 3-1.5 0.5-4.5-0.5-6 3-1.5 0-1.5-2 0-3 4-6 1-6 6.5-6 0.5-1.5 0-4.5 1.5-7.5 5-6 3-9 5.5-8.5 9.5-12.5 2.5-1.5 2.5-1 15-1 3-2 4.5-5 3-1 9 3 8 5.5zM810 275.5l0 1.5 2 2.5 4.5 2.5 5.5-0.5 2.5-1.5 0.5-1.5 0-3-0.5-1.5-2.5-1-8.5-0.5-2.5 1.5zM928.5 256l2 1.5-2 6.5-3 3-1.5 0.5-1.5-0.5-3-3.5-0.5-1.5 5-6 1.5-1zM696 274l2-2 7.5-4 1.5 0 1.5 0.5 2.5 4 1.5 6 2 4.5 0 1.5-3 2-6 1-3-0.5-2.5-2.5-2.5-3-2-6zM895.5 278l1.5 0.5 1.5 1.5-1 1.5-2-1-0.5-2z"/>
<path fill="#FF0000" d="M554 266.5l1-3 3.5-6.5 3-1.5 6-2 2.5-2 2-3 0-4.5 1.5-1.5 4.5 0 15 4.5 12 2 1.5 0.5 1 2 0 4.5-0.5 1.5-8 7.5-3.5 3-10 5.5-4.5 3-7.5 1-6-1.5-6-0.5-4.5-3-2-3zM423.5 259l1.5-1.5 2-1 4.5-0.5 6 0.5 4.5-2 7.5-1 6-3 6-0.5 6-3 1.5 0 4 4.5 2 1 7.5 1 6-0.5 3 2 4 5.5 9 9 1.5 15-1 1.5-6.5 7-1.5 0.5-5.5 0-6 2.5-3 0.5-5.5-3-5-5-9-4.5-9-2-4-2-2-0.5-7.5-0.5-6 0.5-9.5-2.5-1.5-1.5-1.5-4.5 1.5-4.5-0.5-4.5zM397 255l1.5 4 0 6-0.5 3-3.5 4.5-11 9-10.5 5.5-13.5 0-10.5 4.5-6 4-6 1.5-6 4-1.5 1.5-1.5 5.5-1.5 2-10.5 6-6 1.5-4 6-3.5 3-3 1-1.5-1-1.5-1.5-0.5-4.5 1.5-4.5 9-7.5 5-6.5 11-8.5 7-7 10.5-4 13.5-12 7.5-3 4.5-2.5 6-2.5 6-4.5 9-4.5 3-1 3 0 3 1zM618.5 286.5l3-1 3 0.5 4.5 1.5 1.5 1.5 0.5 1.5-0.5 3-4.5 5-3 1-3-0.5-3-1-1.5-1.5 0-4.5 1-3z"/>
<path fill="#D40000" d="M391 259l1.5 4.5 0 2.5-9 8.5-3 2-4.5 1-4.5 3-1.5 0-1.5-1.5-1.5-3.5 0.5-1.5 4-3 6-7.5 9-5 3-0.5z"/>
<path fill="#D6E0FA" d="M452 0l67 0 6.5 13.5 8.5 13.5 5 11.5 1.5 0 7.5-11.5 4.5-5.5 4.5-3.5 3-4 11.5-6.5 10.5-7.5 6 0 2 0.5 3.5-0.5 40.5 0-2.5 4.5-2.5 12-1.5 2.5-3 2.5-4.5 5-5.5 3.5-4.5 7.5-21.5 17.5-7 8-3.5 5.5-7.5 6.5-5.5 9-8 5-4.5 5-6-0.5-6 1.5-2.5-0.5-7-3-0.5-1.5 0.5-3-0.5-3-3.5-6-6-4.5-4.5-5.5-8.5-8-8-4-3-2.5-5.5-7-3-5.5-4.5-4.5-3.5-5-2.5-2.5-7.5-3.5-1.5-1.5-4.5-7.5-6.5-6-2.5-6zM537.5 47l-3.5 2.5 0 1.5 0.5 1 1.5 0.5 2.5-1.5 0.5-3zM903 0l82.5 0 0 59.5-4.5-2.5-7.5 2-3 0-6-3-6-1-6-4-7.5-2-3 0.5-4.5 2-1.5-0.5-1-3-2-2.5-2-5-14.5-10.5-2.5-3-2-4.5 0-6-2.5-4.5-3.5-4.5zM27.5 61.5l2.5-4 4.5-4.5 3-2 6 1 6-1 13.5-0.5 7.5-2.5 3 0.5 6 2.5 7.5 0 4 1.5 6.5 3 5 3 7 2.5 6 5 4.5 1.5 3 2.5 3 5.5 3 2.5 1 1.5 0 3-5.5 12-4.5 1.5-7.5 1-1 6.5-2.5 3-2.5 1-7.5 2-4.5 0-13.5-4-7.5-1-10.5 0.5-6-3-21-7.5-2-1.5-5-7.5 0-6-4-6-0.5-1.5zM928.5 48l1.5 0.5 1.5 2.5 0 1.5-1.5 1.5-1.5-0.5 0-1zM985.5 76.5l0 88.5-21 1-6-0.5-7.5 0-6-1.5-6 1-7.5 0-10.5 2-10.5 4.5-12 0.5-6 3-7.5 2-12 0.5-10.5-1-6 0.5-4.5-1-13.5-1-6-3.5-6 2-7-1-3-1.5-12.5-9-1-4.5 3-9 1.5-2 6-3.5 4.5-4.5 8.5-6.5 4.5-7.5 0.5-4.5-1.5-3-6.5-8-8.5-3-6-0.5-7.5-2-10-4.5-2.5-3-1.5-3 1.5-4.5 2-1.5 12-3 7.5-3 11.5 1 1.5-0.5 3-2.5 3-1.5 10.5-0.5 7.5 2 6-0.5 3 5.5 1.5 1 4.5 2 6 3.5 3 2.5 6 0.5 4.5 4.5 6.5 2.5 5 6 2 0.5 7.5 0 4-0.5 3.5-3 6 1.5 6-0.5 6 1 4.5-1.5 6 0.5 2-1 0-3 1-3 7.5-9 1.5-6 2-3 2.5-1 4.5 1 12 1zM862.5 92.5l-1.5 2-0.5 3 0.5 5 1.5 0.5 3-7-1.5-3zM873 109.5l-2 1.5-0.5 1.5 0 1.5 1 1 1.5-1 1.5-3.5zM770.5 85.5l2.5-1.5 4 1.5 2 1.5 0 2.5-1.5 1.5-1.5 0.5-4.5-0.5-1.5-1-1-1.5zM157.5 129.5l1.5 1 0 1.5 0 1.5-1.5 1.5-1.5-0.5-0.5-1 0.5-2zM527.5 145.5l2.5-3 6-4 4.5-1.5 9 3.5 12 3 5.5 5 1 1.5 0.5 3-1 2.5-1.5 1-16.5 6.5-6 0.5-6-0.5-4.5-2-3-3.5-2.5-9zM733 167.5l2.5 6 0 3-1 1.5-2 1-6-0.5-4.5 1.5-3-1-1-4 1-2 4.5-1 3-4 1.5-0.5 3-0.5zM243.5 247l-0.5 3-3.5 7-3 2.5-1.5 0.5-4.5-1-10.5 2.5-5 2-5.5 0-7.5-4.5-3-1-6 1-12 3.5-3-1.5-2-3.5 0-1.5 2.5-3 1-6 1.5-3 1.5-2.5 3-1.5 6-0.5 3 0 2 1.5 2.5 3.5 1.5-0.5 3-3 10.5-5 3 0 4.5 1.5 7.5-1 3 1.5 8 4.5 2 1.5zM157.5 250l7 6 2.5 4.5 0.5 3-1 3-4.5 6-0.5 3 0.5 4.5-4 7.5-0.5 1-4.5 1.5-4.5 4-9 1.5-5-0.5-11.5-6-4.5-7.5-1-3 1.5-12 2.5-4 7.5-6.5 7.5-3.5 3-0.5 6 0 6-3zM220 285l1.5 0 2 1 0.5 1.5-1 1.5-1.5 0.5-2.5-0.5-0.5-1.5zM985.5 463.5l0 34-6-1-9-5-6-10.5-0.5-4.5-1-3-3-2.5-4.5-2-6-8.5-7.5-2-3-2.5-6-0.5-4.5-3.5-1.5 0-4.5 1-4.5-2.5-1.5 1-6.5 14.5 1.5 3 4 3 2.5 3 0.5 3-0.5 1.5-3 5-9 6-4.5 5.5-4.5 3.5-6 6.5-1.5 5 0 4 3 4 1.5 3.5 0 3-1 1.5-3.5 3-3 0.5-3-4.5-1.5-1.5-4.5-1-4.5 1.5-3 3.5-1.5 0.5-9-1.5-4.5 0-4.5 0.5-6 2.5-3.5 2.5-4.5 6-1 3-0.5 7.5-3 7.5 0.5 1.5 6 5 1.5 0.5 4.5-0.5 1.5 0 1.5 1.5 1.5 4 1 1.5 2 1 6 0.5 7.5 2.5 6 3.5 4.5 4.5 1.5 1 3-0.5 6-3 4.5-7 6-2 4.5-2.5 3-0.5 15 1.5 4.5 5.5 1.5 1 15 5 3 0 4.5-0.5 4.5 0.5 9-2.5 5.5-3.5 9.5-5 2-4 2.5-15 1.5-2 3-1 0 53-4 2.5-715 0-2.5-7.5-9-13.5-6.5-5-3-1-4.5-0.5-10.5 1-4 2.5-5 8-5 5.5-3 4.5-0.5 1.5 1 4.5-85 0-0.5-3-0.5-6-1.5-9 1-12-3-16.5 0-12-1.5-10.5 0.5-7.5 2.5-10.5-0.5-3-2.5-4.5 1.5-3 4.5-4.5 1.5-6 2-3 7.5-5.5 8-4.5 8-8.5 4.5-2 5.5-1 12-4.5 12-10 9-4 4.5-6 6-6 13.5-7.5 4.5-4.5 6-1.5 8.5-4.5 3.5-3.5 4.5-2.5 3-6 1.5-1 4.5-1 7.5-8 6-2 7.5 0 10.5-7 6-0.5 8-3 4-3 6-1 6 1 9-2 4.5-3 3-1 7.5-1 6 1 4.5-0.5 17 2 5.5-3 12-0.5 6-2 4.5-3.5 4.5-0.5 7.5-2.5 4.5 1.5 6 3.5 24 5 4.5-0.5 9 0 6-4 6 1 6-1 4.5 2 9-1 5.5-1.5 4.5-3 9-2 3 0.5 6 3 6 1 10.5-1 6-4 10.5-1.5 12 0 9-1.5 6 1.5 13.5-1.5 9 1.5 4.5-1.5 3-0.5 3 1 4.5 2.5 7.5-0.5 10.5 2 5 3.5 5.5 2 7.5 4 3 0.5 6-1 6 2 9 0.5 4.5 2.5 4.5 0.5 4.5 2.5 3 1 10.5 0.5 12-6 1.5 0 10.5 5.5 3 0.5 13.5-2.5 4.5-3.5 4.5-1.5 6 3.5 4.5 1 12 0 9 2.5 3-1.5 4.5 1 2 1 5.5 4.5 4.5 1.5 4.5 3.5 1.5 0 4.5-1 4.5 0 4-1.5 7.5-1 6 0 6 3.5 3 0.5 5-1 6.5-4.5 1.5-3 0-1.5-3.5-4.5 0.5-1.5 3.5-3 3-0.5 8 3.5 0 1.5-3 4.5-1 3 1 3 2.5 2 6 1.5 3 0 6-3 7-2 3.5-2.5 3-0.5 6 2 4 2.5 6 7.5 2.5 4.5 8.5 8 4 5.5 5.5 6 1 3 0 6.5 1 5.5-1 2.5-2.5 3.5 1 1 4.5-1.5 1.5 0 3 2.5 6 1 6 5.5 7.5 3 6 0.5 6 5 6 1zM719.5 579.5l1 1 1.5 0.5 2-1.5-0.5-1.5-1.5-1-1.5 0.5zM813 566l0.5 1.5 1.5 0.5 3.5-2-1.5-1.5-2 0zM467.5 385l1.5 1.5 1.5 0.5 1.5-0.5 2.5-3-0.5-1.5-2-1.5-1.5 0-2 1.5zM831.5 382l2-1.5 2-0.5 2 0.5 0.5 1.5-0.5 3-2 0-3-1.5zM828 383.5l-3 1.5-1.5 0.5-1-0.5 0.5-1.5 2-1.5 1.5 0zM66 498.5l3 3 4 6 5 4 4 8 8.5 6 1 3-1.5 7.5 2 4.5 4 5 1.5 3.5 0 3.5-2 4.5 0.5 9-3 6-1 6-2 3-2 7.5-2.5 2-14.5 4-9.5 6-3.5 1.5-1.5 1.5-56.5 0 0-95 4.5 1 1.5-0.5 4.5-4.5 3-2 7.5-2 6-2.5 4.5-1 7.5-2 6 0 6-2.5 3 0.5 4 2.5zM899.5 524l0.5-0.5 1.5 0 1 0.5 0 1.5-1.5 0z"/>
<path fill="#B0C6FC" d="M935.5 0l50 0 0 36-3-1-6 2-1.5-0.5-6-5-12-6-4.5-3.5-7-4-1-1.5-1.5-3-4-4.5zM591 9l1 1.5 0.5 3-2 7.5-4.5 6-7 12-2.5 2-8 4-9 7.5-2 3-1.5 1.5-2 0.5-3-0.5-1.5-2-2.5-7 0-4.5 1-4.5 4-4.5 3.5-6 9-9.5 10.5-6.5 4.5-3.5 7.5-1.5zM107.5 70.5l0 3-1.5 3-9 6-2.5 1-4.5-1-9 0.5-3-0.5-4-4.5-2.5-6 0.5-3 3-3 13.5-4.5 4.5-0.5 3 0 9 6zM967.5 87.5l3-0.5 3 1 3 0 9-2.5 0 39-3 0-1.5-1-1-2-2-8-4.5-5-4.5-3.5-4-12 0.5-3zM924 141l1.5-1 1.5 0.5 0.5 2-2 1-2-1zM984 140.5l1.5 0.5 0 3-1.5 0-1-1.5zM961 151.5l0.5-1 1.5 0 0.5 1-0.5 1.5-1.5 0zM740 469l-1.5 4.5-3 4.5-1 3 2 14.5-0.5 7.5-1 3-2.5 4.5 0 7.5-3.5 4.5-1.5 3 2 6-0.5 1.5-1 1.5-6-1-7.5 1-7 4.5-3.5 3.5-16.5 9.5-3 1-4.5 0-7.5-1-4.5 2-1.5 0-6-2.5-4.5 0-5.5 1-6.5 2.5-7.5-2-7.5 0-3 1-3.5 4.5-4.5 3-7 2.5-4.5 2.5-4.5-1.5-7.5-1.5-10.5-0.5-9 10-3 2-3 0.5-4.5-0.5-6-3-6-0.5-4.5-3.5-1.5 0-3 5.5-4.5 3.5-3 1.5-4.5-1.5-4.5-3.5-3-1.5-7.5 0-6-3-3 0.5-4.5 2.5-3 1-8.5-1.5-10.5 1.5-6-1.5-6-0.5-7.5 2-9 0-13.5 6-7.5 1-7.5-2-7.5-0.5-4.5 1-4-3.5-2-0.5-4.5 2.5-4.5 0.5-10.5-2-6-2.5-6-1-6 2-6 5-7.5 3.5-9-1-9 2-4.5-0.5-7.5 4-7.5 0-10.5 3-3-0.5-4.5-2-4.5-0.5-1.5 0.5-6 4-6 2.5-4.5 0.5-6-1-4.5-2.5-3-3.5-1.5-5-4.5-4.5-6-4-3-1-6-0.5-13.5 0-3 2-3 3.5-4.5 6.5-3 2-6 0.5-10.5 2.5-7.5 0-6 1.5-6 0-7.5 2.5-3-1-3-2-4-0.5-2.5-1.5-5-6.5-4.5-2.5-6-5-5-11.5-5-6-1.5-7.5 0-4.5-1-7.5 0.5-3 2.5-6 1-9 0-3-1-4.5 0.5-3 3-4.5 7.5-7 7.5-10.5 5-4.5 5.5-4 8.5-4.5 10.5-3.5 9-5 12-4.5 6-5 5-2 4-3.5 4.5-1 1.5-0.5 4.5-5.5 9-6 4.5-6.5 10.5-6.5 7.5-5.5 3-1 13.5-4 4.5-3 13.5-6.5 4.5-3.5 4.5-1.5 4.5-3 15-4.5 6 1 3 0 6-3.5 7.5 0 13.5-2 12 0.5 6 1.5 6-2 9-0.5 6-2 6 0 9-2.5 3 0.5 4.5 3 7.5 1 5.5 2.5 8 1 6-1.5 3 0.5 6 3 7.5 3 9 1.5 10.5 1 4.5-1 5.5 0.5 7.5-2 6 0 16.5-3 6 0 4.5-4.5 6-3 3 0 6 0.5 9-1 4.5-1 4.5 0 7.5-3 7.5 2 9-1.5 7.5 2.5 3-0.5 4.5-2 7.5 1 3 1 4.5 3.5 12 6.5 13.5 6 7.5 0.5 9 3.5 16.5 0.5 4 5.5 2 1 1.5-0.5 4.5-3 1.5 0.5 1.5 1.5 1.5 3.5 7.5 7.5 4.5 5 3 1 10.5 1.5 6 2.5 5 11 1 12zM690 484l1 1.5 2.5 1 1.5 0 6-1 0-1.5-3 0-4.5-2-1.5 0.5zM525.5 417l-3 0.5-1.5 2-2.5 7.5 0 1.5 1 0.5 3-1 4-2.5 0.5-1.5 0-6zM754.5 392.5l2-2 1.5 0.5 4.5 4 3-0.5 2.5 1 0 1.5-1 0.5-3.5-0.5-1-1-1.5 0.5-1.5 2-1.5 0.5-3.5-3.5-0.5-1.5zM755 413.5l1.5-2 1.5-0.5 1.5 1-1 1.5-2 1zM872.5 470.5l1.5 1.5 0 3-3.5 6-1.5 6-2 1.5-6 3.5-3 1-7.5-6-2-3 0-3 6.5-8.5 9-2.5 6-0.5zM832 491.5l6.5-6 1.5 0 7.5 5.5 3 4 1.5 0.5 3 0 0.5 1.5-2.5 4.5-3 3-5.5 1.5-3 0-1.5-1.5-3-5-4.5-5.5zM55.5 509l3-1 1.5 0.5 13.5 9.5 1.5 1.5 1.5 4.5 3.5 4.5 1.5 3-3 9-2 4-3 1-9 0-6-2-3.5-3-7.5-13.5-0.5-3 0.5-3 2-4.5 3-5zM798.5 518l1.5 0.5 1.5 1 0.5 3 2.5 2-0.5 4-1 2-3 1-3-1.5-1-1.5 0.5-3 2-1.5 0.5-1.5-0.5 0-1-3zM785 522.5l1.5 0 3.5 4.5 1 3-1 4.5-1 1.5-2.5 1.5-2.5-1.5-1-4.5 0-6zM968.5 593l1.5-4.5 3.5-3 4.5 0.5 1.5 1 2 3 0.5 1.5-1.5 1.5-2.5 1-6 0-3 0z"/>
<path fill="#8C98FC" d="M966.5 0l19 0 0 20-4.5-5-6-4.5-3-5-4.5-3.5zM578 24l1.5 1.5 0 3-1 3-2.5 3-2.5 2-3 1-3-0.5-1-1-1-1.5-0.5-3 1-4 1.5-2 4.5-2.5 3 0zM666.5 481l1.5 11.5-2.5 10.5-5 5-3 5.5-7 10.5-5 2.5-4.5 5-1.5 1-3-1-6-5.5-7.5-1.5-2.5 1-1.5 3-2 1.5-4.5 1-1 3.5-2 2-4.5 1-4.5 2.5-9 1.5-3 0-7.5-2.5-6 0-9-1-3 0.5-6 2-12 1.5-12-1-7.5-2.5-6 2-4.5 0-4.5-0.5-3-2.5-3-1-7.5 0-7 2-6-2.5-3 0-6 2-9 1.5-12 0.5-12.5 8-1.5 1.5-2.5 4.5-1.5 1.5-9-1-4.5 1-9-0.5-3 1.5-4.5 4.5-4.5 2.5-4.5 1.5-22.5-0.5-4.5 0.5-6 2-4.5-1.5-9-1-6 2-9 0.5-7.5-1-6-2-9-0.5-4.5-1-6-4-4.5-1.5-6-3-6-5-3-1-6.5 0-5.5-5-1.5-0.5-6 1-3-1-6-5-3-1-7.5 1.5-3 4-5 3-11.5 19-3 2.5-6 3.5-4.5 4-7.5 3-9 1.5-10.5-1.5-9 2.5-1.5-0.5-3-4-7-6-6-2-2-1-1-1.5-5.5-15-4-21 1-7.5-0.5-6 1.5-2.5 6.5-6.5 1-1.5 1-6 5-7.5 11.5-10 6-3 13.5-7.5 7.5-2 12-5.5 7.5-2.5 13.5-9 6-1.5 1.5-0.5 6.5-9 8.5-7.5 9-3.5 7.5-4.5 9-1.5 6-4 6-1.5 4-3 9-3 2-2 4-5.5 3.5-3 3-0.5 9 0.5 6-2 7.5 1 4.5-3 6-1 6-3 3-1 9 2 7.5 2.5 6-0.5 12-4 3-0.5 7.5 1.5 16.5 5 15-0.5 13.5 4.5 9 5 3 2 4.5 5.5 18 15 17.5 8.5 6 2 7.5 0 10.5-1 6-2 6 1.5 4.5 0 3-1 4.5-2.5 6 0 6-2 6 0.5 6-2 9 2 6 3 3 0 1.5-1 0.5-4.5 1-2 6-3.5 3-1 1.5 1 1.5 2.5 1 4.5-0.5 3 0.5 1.5 3.5 1.5 4.5 6.5 9 6 9 3.5 6 4 6 1.5 5 4 7 2 3 2 4.5 6.5z"/>
<path fill="#6868FC" d="M476.5 473.5l0 3-3.5 6-0.5 7.5-2 5.5 0 6 1.5 6-1 1.5-4.5 4.5-3.5 5.5-6 3-6-0.5-1.5 0.5-3.5 5-1.5 1.5-6 3-8.5 5.5-9 2.5-4.5 2-9 7.5-7.5 2-6 2-6 0.5-4.5 3-6 0-6 1-42-3-3.5-3.5-7-4-7.5-8-11.5-6-1-1.5-2-4.5-3.5-3-3-2-4.5-1-7.5 1-3-0.5-6-3.5-1.5-4.5-1.5-0.5-10.5 4-9 6-5.5 7-12.5 14-4 8.5-5 7.5-5 3-6.5 6-6.5 2.5-13.5 1-10.5-3-13-12.5-1-4.5-4.5-7.5-1.5-4.5-1-7.5 0-6 2-6 1-6 7.5-9 3-7.5 2-3 8-8.5 3.5-5.5 6.5-5 2.5-2 7.5-1.5 7.5-3 9-1 3 1.5 3 4.5 6 6.5 3 0.5 7.5 0 2-1 7-13.5 1.5-1 7.5-1.5 1.5-5 1.5-2.5 3-3 6-4 1.5-2 1.5-4.5 1.5-2 10.5-4.5 6-6.5 6-2.5 9-6.5 6-1.5 4.5-2 4.5-0.5 9-5 4.5 0 4.5-2 6-1.5 5.5-3.5 5-2.5 4.5-3 4.5 3 3 1.5 10.5 0.5 7.5 2.5 6.5-2 4-2.5 3-1 7.5 1.5 4.5 3.5 9 3 9-2 10.5 2 4.5 4 12 8 6 9 1 1.5 0.5 10.5 4.5 7.5 2 7.5 3.5 6zM262 468l-0.5 1 1 3 1.5 1.5 2.5 0 0.5-1.5-1-1.5zM504 472l3-6 2-2.5 6-1.5 9-5.5 9-2 8-5 13-6 13.5-4.5 6-0.5 4.5 2 1 1.5 0 6 0.5 1.5 1.5 1.5 6 2 10.5 9 1.5 0.5 6-1 9 1 19.5 7.5 6 1 9 4.5 6.5 7 0.5 1.5 0.5 10-3 2.5-1.5 2-1 6-1 1.5-11.5 7-7.5-1-12 0.5-7.5-0.5-12 3.5-7.5-0.5-6 1.5-6-0.5-4.5 2.5-6-1.5-6 1-8-4.5-5.5-4-6-2-12-8.5-6-3-7-6-9.5-7.5-5-9z"/>
<path fill="#0034FF" d="M457 469l-1.5 1.5-4.5 0.5-1.5 0.5-3 3.5-9 4.5-5 6-5 4.5-2.5 5.5 0 1.5 2 4.5 0 1.5-6 8-3 2.5-2.5 4.5-1.5 1.5-3.5 1.5-4.5-1.5-3 0-15 5.5-7.5 5-5 7.5-2 6-2 3.5-1.5 0.5-9 0.5-9 2.5-4.5 0-7.5-2-4.5 0.5-12-6.5-1.5-2-3-6-7-6-5-9-3-4-9-8-7.5-3.5-1-7-7.5-8.5 0-3 3-7.5 1-6-1-4.5 0.5-7.5 5-5.5 12-17 6-4.5 7.5-1.5 6 0.5 6 2 7.5-1.5 4.5-2.5 9 0.5 4.5 4.5 9 2.5 3 0 9-3.5 6 0 4.5-1 7.5-3.5 6 1 10.5-3.5 9 0 6-4.5 1.5-0.5 3 0 4.5 2 7.5-0.5 1 2 1 12 2 10.5 4.5 6 2.5 6 7 6zM214 476l6 4.5 2.5 5 2.5 11.5-1.5 6 0.5 6-1 3-5 10.5-4.5 6-3 9-3.5 6 0 7.5-1.5 7.5-2 4-2 2-2.5 1.5-7.5 1-10.5-2.5-5-3-3-3-2.5-9-4.5-6-2.5-4.5 0-3 2.5-6-0.5-7.5 0.5-4 1.5-2 4.5-3 2.5-3 2-7.5 3-4.5 3.5-7 7.5-6 4-4.5 3-1.5 7.5-0.5 4.5-3 1.5-0.5zM632 498.5l0.5-1.5 1-0.5 1.5-0.5 1.5 1 0 1.5-1.5 2-1.5 0z"/>
<path fill="#0014DC" d="M412 440.5l1.5 4.5 0.5 10.5-3 10.5-2 3-4.5 2.5-15 6-7.5 2.5-1.5 0-4.5-2.5-4-1-2-1.5-1.5-6 0.5-6 5.5-6 2-4.5 4-4.5 9-4.5 6 0 6.5-1.5 7-3 1.5 0zM209.5 489.5l3 2 2.5 2.5 1 3-2 6-0.5 7.5-8.5 19.5-5 9-4 6-1.5 4.5-3 3-3 0-1.5-1.5-2.5-9 0-9 2-13.5 1-4.5 3-6 0.5-7.5 0.5-4.5 1.5-2.5 3-1.5 9-3.5zM346 539l1.5-1.5 7.5-3 3 1 1 2 0.5 1.5-1 1.5-2 2-3 1-6-1.5-1.5-1.5z"/>
<path fill="#0000B8" d="M196 515.5l1.5 0.5 1.5 2 2 4.5-2 5-3 5-1.5 1-1.5-1-1.5-3 0-7 1.5-5 1.5-1.5z"/>
<path d="M63.6 599.3L70.3 595.1L80.3 588.5L86.9 580.1L91.1 570.1L91.1 558.5L88.6 546.8L83.6 536.9L77.0 526.9L68.6 516.9L62.0 506.9L57.0 496.9L55.3 488.6L58.6 480.3L65.3 472.0L73.6 464.5L81.9 458.6L88.6 459.5L93.6 463.6L96.9 468.6L98.6 473.6L101.1 477.8L99.9 472.0L100.3 464.5L106.9 462.0L116.9 457.0L130.2 452.0L133.5 447.0L136.9 449.5L146.8 446.2L158.5 440.3L170.1 432.0L180.1 422.0L188.5 410.4L193.4 400.4L192.8 407.1L200.3 394.5L208.6 381.1L214.5 366.2L212.0 361.2L202.0 357.8L207.0 351.2L212.8 344.5L210.3 337.9L208.6 329.5L203.7 319.6L198.7 309.6L191.2 301.3L192.0 294.6L200.3 286.3L208.6 278.0L218.6 273.8L217.0 270.5L207.0 270.5L197.0 271.3L188.7 273.0L185.3 268.0L182.9 263.0L175.4 259.7L172.0 254.7L175.4 250.5L183.7 248.0L192.0 241.3L200.3 233.9L208.6 229.7L215.3 231.4L217.0 236.4L212.0 242.2L212.8 246.3L220.3 248.8L230.3 246.3L240.3 243.8L246.9 245.5L250.3 251.3L248.6 256.3L245.3 259.7L250.3 263.0L258.6 267.1L261.9 273.0L260.2 278.0L261.1 286.3L260.2 294.6L258.6 301.3L261.1 306.3L266.9 304.6L275.2 299.6L283.5 295.4L287.7 288.8L288.2 279.6L285.2 271.3L281.9 263.0L276.9 254.7L272.7 248.0L270.2 244.7L273.5 239.7L281.9 234.7L288.5 228.0L291.9 221.4L293.5 214.7L300.2 208.9L306.8 206.4L300.4 207.6L311.4 202.1L324.1 205.8L336.9 200.3L349.7 187.5L362.5 172.9L373.5 160.1L382.6 149.2L391.7 138.2L397.2 125.4L399.9 112.6L402.7 101.7L406.3 94.4L407.2 85.2L402.7 79.8L395.4 72.5L389.9 69.7L382.6 70.6L377.1 76.1L369.8 76.1L364.3 71.5L360.7 65.2L353.4 63.3L347.0 60.6L353.4 56.0L364.3 49.6L373.5 41.4L384.4 32.3L397.2 23.1L410.0 14.0L424.6 7.6L439.2 5.8L455.7 6.7L473.9 6.7L484.9 3.1L494.0 4.0L505.0 6.7L510.4 11.3L523.2 8.5L536.0 6.7L539.7 4.9L536.0 0.3L545.1 -4.3M0.4 558.5L7.1 559.3L17.0 566.8L25.4 576.8L33.7 586.8L40.3 595.1L48.7 599.3L50.3 602.6M84.4 491.1L86.9 484.4L93.6 480.3L101.9 479.4L106.1 482.8L105.2 490.3L100.3 497.8L92.8 501.9L86.9 499.4L84.4 491.1M199.3 447.0L200.1 437.0L204.3 425.4L210.1 417.0L214.2 417.9L213.4 428.7L210.9 440.3L206.8 450.3L202.6 453.7L199.3 447.0M201.8 498.6L208.4 496.9L216.7 500.3L218.4 508.6L220.1 516.9L216.7 525.2L213.4 533.5L215.1 543.5L213.4 551.8L208.4 556.8L204.3 557.7L202.6 550.2L199.3 545.2L196.8 538.5L195.1 530.2L198.4 525.2L200.1 516.9L200.9 506.9L201.8 498.6M201.8 560.2L205.9 558.5L210.1 566.8L208.4 573.5L204.3 568.5L201.8 560.2M216.7 553.5L221.7 548.5L226.7 553.5L231.7 558.5L233.4 563.5L228.4 560.2L223.4 556.8L218.4 556.8L216.7 553.5M240.0 571.8L246.7 570.1L250.0 576.8L248.4 585.1L250.0 591.8L245.0 596.8L241.7 588.5L243.4 580.1L240.0 571.8M216.7 581.8L221.7 583.5L225.1 590.1L226.7 598.4L221.7 598.4L218.4 590.1L216.7 581.8M183.5 600.1L188.5 591.8L191.8 598.4M233.4 599.3L236.7 595.1L240.0 600.1M257.4 318.7L259.4 316.7L261.4 318.7L259.4 320.7L257.4 318.7M291.0 321.2L295.2 317.1L301.8 314.6L304.3 316.2L301.8 321.2L303.5 326.2L308.5 322.9L311.0 326.2L310.2 334.5L307.7 341.2L304.3 344.5L300.2 342.0L296.8 338.7L297.7 332.9L300.2 329.5L296.8 326.2L293.5 325.4L291.0 321.2M304.3 310.4L310.2 306.3L318.5 301.3L326.8 297.1L336.8 292.9L346.8 291.3L355.1 286.3L360.1 279.6L365.1 278.0L371.7 273.0L380.1 268.0L386.7 259.7L390.0 249.7L393.4 239.7L394.2 231.4L397.5 226.4L403.4 228.9L410.0 234.7L412.5 243.0L410.0 253.0L405.0 259.7L401.7 268.0L400.0 278.0L399.2 286.3L400.0 291.3L395.0 296.3L392.5 292.1L388.4 296.3L383.4 298.8L378.4 299.6L371.7 302.9L365.1 302.1L360.1 306.3L356.8 312.9L351.8 317.9L348.4 314.6L349.3 307.9L346.8 304.6L340.1 304.6L333.5 306.3L326.8 306.3L321.8 309.6L316.8 308.7L310.2 312.1L304.3 310.4M320.1 319.6L323.5 312.9L330.1 310.4L336.8 308.7L339.3 312.9L335.1 317.1L328.5 319.6L325.1 324.6L321.0 325.4L320.1 319.6M396.7 222.2L392.5 213.0L391.7 206.4L395.4 204.0L404.5 198.5L408.2 185.7L410.0 175.7L415.5 177.5L421.0 183.9L430.0 191.2L441.0 193.0L445.6 198.5L441.0 204.0L431.9 207.6L424.6 213.1L417.3 209.4L410.0 211.3L402.7 214.0L400.0 219.7L396.7 222.2M410.0 79.8L417.3 77.0L422.8 75.2L425.5 81.6L426.4 94.4L430.1 107.2L433.7 119.9L434.6 127.3L428.3 130.0L422.8 134.6L419.1 143.7L421.9 152.8L424.6 158.3L417.3 162.0L414.6 165.6L411.8 160.1L412.7 145.5L413.6 130.9L412.7 116.3L410.0 101.7L408.2 88.9L410.0 79.8M366.5 60.6L369.8 57.3L373.1 60.6L369.8 63.9L366.5 60.6M609.1 -4.3L605.4 1.2L596.3 6.7L583.5 14.0L570.7 21.3L559.8 28.6L550.6 37.8L546.1 48.7L546.1 57.8L548.8 68.8L552.5 81.6L554.3 92.6L557.9 107.2L563.4 103.5L568.9 96.2L574.4 88.9L581.7 81.6L589.0 76.1L592.6 68.8L601.8 65.2L610.9 61.5L609.1 54.2L614.6 46.9L621.9 43.2L618.2 35.9L620.0 28.6L614.6 23.1L616.4 15.8L621.9 8.5L625.5 1.2L629.2 -4.3M938.8 66.2L944.0 62.0L948.8 61.2L944.0 65.0L938.8 66.2M956.3 58.7L966.3 53.7L978.8 51.2L972.0 56.0L962.0 59.0L956.3 58.7M962.0 5.0L966.0 8.0L978.8 15.0L982.5 10.0L990.0 12.0M905.0 2.0L915.0 5.0L925.0 2.0M700.0 3.0L712.0 6.0L722.0 3.0M633.0 2.0L640.0 7.0L652.0 5.0L660.0 2.0" fill="none" stroke="#fff" stroke-width="3.0" stroke-linejoin="round" stroke-linecap="round"/>
</svg>
<path d="M1349.6 1713.6v-10M1349.6 2314.4v10M1349.6 1713.6h-10.5M2333.6 1713.6h9.5M1546.4 1713.6v-10M1546.4 2314.4v10M1349.6 1833.8h-10.5M2333.6 1833.8h9.5M1743.2 1713.6v-10M1743.2 2314.4v10M1349.6 1953.9h-10.5M2333.6 1953.9h9.5M1940 1713.6v-10M1940 2314.4v10M1349.6 2074.1h-10.5M2333.6 2074.1h9.5M2136.8 1713.6v-10M2136.8 2314.4v10M1349.6 2194.2h-10.5M2333.6 2194.2h9.5M2333.6 1713.6v-10M2333.6 2314.4v10M1349.6 2314.4h-10.5M2333.6 2314.4h9.5" stroke="#000" stroke-width="4.2" fill="none"/>
<rect x="1349.6" y="1713.6" width="984" height="600.8" fill="none" stroke="#000" stroke-width="4.2"/>
<text x="1350.1" y="2379" text-anchor="middle" font-size="48">100<tspan dy="-23.5" font-size="34.5">o</tspan><tspan dy="23.5">E</tspan></text>
<text x="1546.9" y="2379" text-anchor="middle" font-size="48">120<tspan dy="-23.5" font-size="34.5">o</tspan><tspan dy="23.5">E</tspan></text>
<text x="1743.7" y="2379" text-anchor="middle" font-size="48">140<tspan dy="-23.5" font-size="34.5">o</tspan><tspan dy="23.5">E</tspan></text>
<text x="1940.5" y="2379" text-anchor="middle" font-size="48">160<tspan dy="-23.5" font-size="34.5">o</tspan><tspan dy="23.5">E</tspan></text>
<text x="2137.3" y="2379" text-anchor="middle" font-size="48">180<tspan dy="-23.5" font-size="34.5">o</tspan><tspan dy="23.5">W</tspan></text>
<text x="2334.1" y="2379" text-anchor="middle" font-size="48">160<tspan dy="-23.5" font-size="34.5">o</tspan><tspan dy="23.5">W</tspan></text>
<rect x="2386" y="2268.2" width="38.4" height="36.9" fill="#0000B8"/>
<rect x="2386" y="2231.9" width="38.4" height="36.9" fill="#0014DC"/>
<rect x="2386" y="2195.6" width="38.4" height="36.9" fill="#0034FF"/>
<rect x="2386" y="2159.3" width="38.4" height="36.9" fill="#6868FC"/>
<rect x="2386" y="2123.1" width="38.4" height="36.9" fill="#8C98FC"/>
<rect x="2386" y="2086.8" width="38.4" height="36.9" fill="#B0C6FC"/>
<rect x="2386" y="2050.5" width="38.4" height="36.9" fill="#D6E0FA"/>
<rect x="2386" y="2014.2" width="38.4" height="36.9" fill="#F8F8F8"/>
<rect x="2386" y="1977.9" width="38.4" height="36.9" fill="#FFE8CA"/>
<rect x="2386" y="1941.6" width="38.4" height="36.9" fill="#FFCC9E"/>
<rect x="2386" y="1905.3" width="38.4" height="36.9" fill="#FF9472"/>
<rect x="2386" y="1869" width="38.4" height="36.9" fill="#FF5040"/>
<rect x="2386" y="1832.8" width="38.4" height="36.9" fill="#FF0000"/>
<rect x="2386" y="1796.5" width="38.4" height="36.9" fill="#D40000"/>
<rect x="2386" y="1760.2" width="38.4" height="36.9" fill="#AC0000"/>
<rect x="2386" y="1723.9" width="38.4" height="36.9" fill="#800000"/>
<text x="2436.3" y="1739.5" font-size="44">20</text>
<text x="2436.3" y="1812.1" font-size="44">15</text>
<text x="2436.3" y="1884.6" font-size="44">10</text>
<text x="2436.3" y="1957.2" font-size="44">5</text>
<text x="2436.3" y="2029.8" font-size="44">0</text>
<text x="2436.3" y="2102.4" font-size="44">-5</text>
<text x="2436.3" y="2174.9" font-size="44">-10</text>
<text x="2436.3" y="2247.5" font-size="44">-15</text>
<text x="2436.3" y="2320.1" font-size="44">-20</text>
<path d="M2386.5 1796.8h6M2423.9 1796.8h-6M2386.5 1869.3h6M2423.9 1869.3h-6M2386.5 1941.9h6M2423.9 1941.9h-6M2386.5 2014.5h6M2423.9 2014.5h-6M2386.5 2087.1h6M2423.9 2087.1h-6M2386.5 2159.6h6M2423.9 2159.6h-6M2386.5 2232.2h6M2423.9 2232.2h-6" stroke="#000" stroke-width="2.2" fill="none"/>
<rect x="2386.1" y="1724.2" width="38.2" height="580.6" fill="none" stroke="#000" stroke-width="2.1"/>
<text x="1300" y="1672.7" font-size="52">F</text>
<text x="1878.8" y="1670.7" font-size="51.6" text-anchor="middle" style="white-space:pre">Shortwave radiation anomaly</text>
</svg></body></html>
